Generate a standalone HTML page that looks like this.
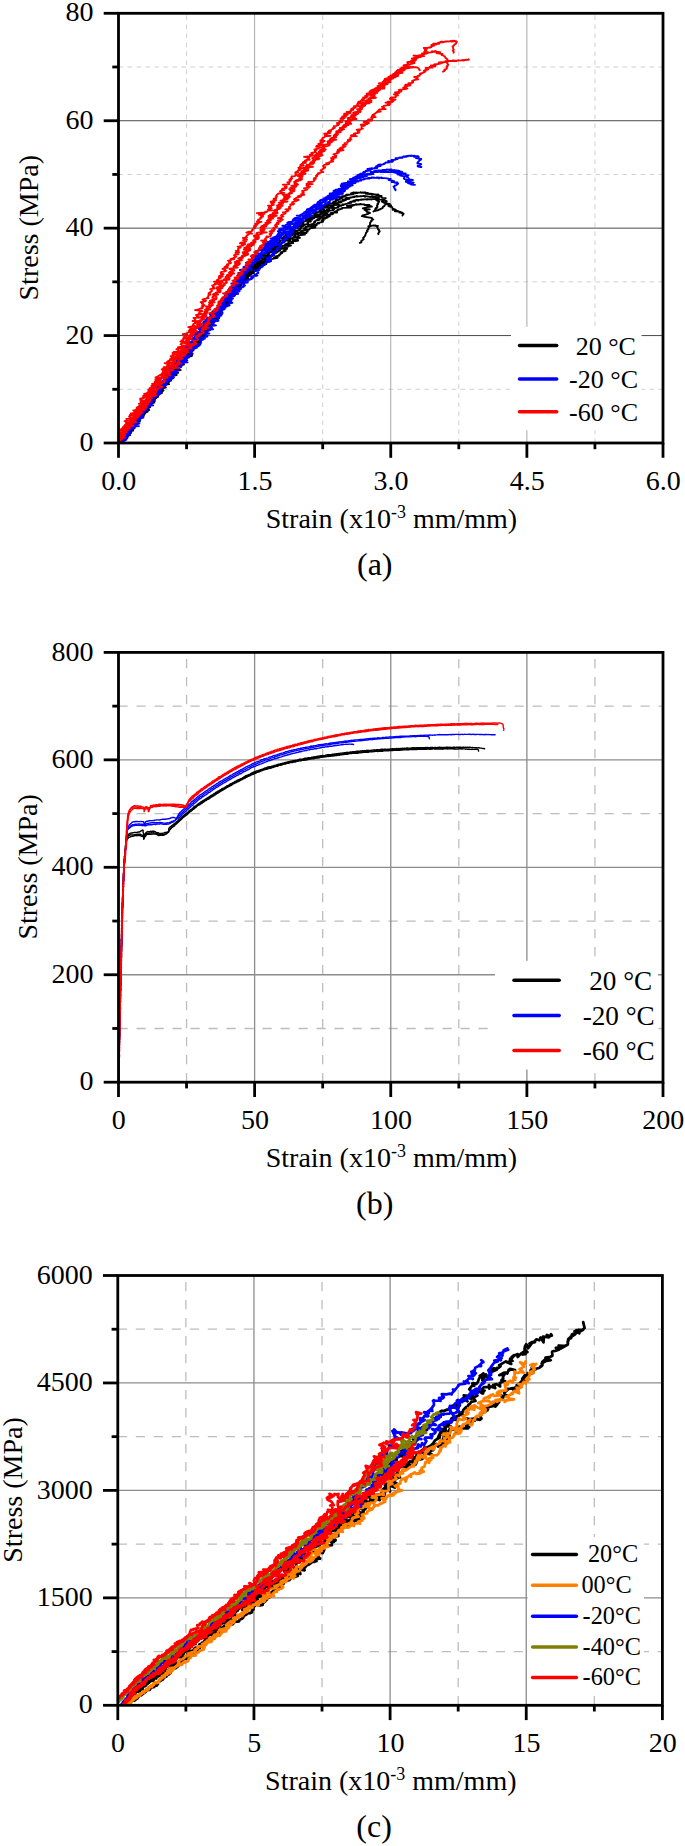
<!DOCTYPE html>
<html lang="en"><head><meta charset="utf-8"><title>Stress-strain curves</title>
<style>html,body{margin:0;padding:0;background:#fff}svg{display:block}</style></head>
<body>
<svg width="685" height="1846" viewBox="0 0 685 1846" font-family='"Liberation Serif", serif' fill="#000">
<rect width="685" height="1846" fill="#fff"/>
<g id="chart-a">
<g class="grid"><line x1="186.56" y1="443" x2="186.56" y2="13.3" stroke="#d0d0d0" stroke-width="1.0" stroke-dasharray="4.6 4.4"/><line x1="322.69" y1="443" x2="322.69" y2="13.3" stroke="#d0d0d0" stroke-width="1.0" stroke-dasharray="4.6 4.4"/><line x1="458.81" y1="443" x2="458.81" y2="13.3" stroke="#d0d0d0" stroke-width="1.0" stroke-dasharray="4.6 4.4"/><line x1="594.94" y1="443" x2="594.94" y2="13.3" stroke="#d0d0d0" stroke-width="1.0" stroke-dasharray="4.6 4.4"/><line x1="118.5" y1="389.29" x2="663" y2="389.29" stroke="#d0d0d0" stroke-width="1.0" stroke-dasharray="4.6 4.4"/><line x1="118.5" y1="281.86" x2="663" y2="281.86" stroke="#d0d0d0" stroke-width="1.0" stroke-dasharray="4.6 4.4"/><line x1="118.5" y1="174.44" x2="663" y2="174.44" stroke="#d0d0d0" stroke-width="1.0" stroke-dasharray="4.6 4.4"/><line x1="118.5" y1="67.01" x2="663" y2="67.01" stroke="#d0d0d0" stroke-width="1.0" stroke-dasharray="4.6 4.4"/><line x1="254.62" y1="443" x2="254.62" y2="13.3" stroke="#a8a8a8" stroke-width="1.0"/><line x1="390.75" y1="443" x2="390.75" y2="13.3" stroke="#a8a8a8" stroke-width="1.0"/><line x1="526.88" y1="443" x2="526.88" y2="13.3" stroke="#a8a8a8" stroke-width="1.0"/><line x1="118.5" y1="335.57" x2="663" y2="335.57" stroke="#4a4a4a" stroke-width="1.0"/><line x1="118.5" y1="228.15" x2="663" y2="228.15" stroke="#4a4a4a" stroke-width="1.0"/><line x1="118.5" y1="120.73" x2="663" y2="120.73" stroke="#4a4a4a" stroke-width="1.0"/></g>
<clipPath id="clip1"><rect x="118.5" y="11.3" width="544.5" height="431.7"/></clipPath>
<g class="curves" clip-path="url(#clip1)"><path d="M118.7 442.9L119.7 443.0L120.0 441.6L122.1 441.4L121.7 440.5L122.8 440.0L124.3 439.9L124.8 438.9L124.6 438.7L123.5 437.9L123.4 437.5L123.8 436.5L124.9 436.0L125.8 436.0L124.8 435.2L124.9 434.4L127.6 433.9L124.6 432.9L127.7 432.8L129.1 432.0L127.3 431.5L127.5 431.4L128.4 430.5L131.1 429.9L130.3 429.3L127.9 429.0L130.7 428.4L133.4 427.6L133.7 426.9L133.6 426.6L132.6 426.1L130.5 425.1L134.1 425.2L134.0 424.2L134.8 423.8L137.6 423.1L135.8 422.6L136.4 422.3L137.3 421.6L136.4 420.7L136.1 420.5L136.4 420.0L139.3 419.3L139.3 419.0L138.1 418.0L141.1 417.8L140.0 417.1L138.0 416.5L141.5 416.2L140.7 415.5L139.2 414.7L142.6 414.3L141.7 413.5L142.0 413.2L144.0 412.8L140.0 412.2L141.8 411.3L143.6 410.8L145.1 410.4L144.1 409.8L144.0 409.0L144.3 408.6L146.2 408.1L147.9 407.8L144.9 407.0L144.3 406.3L147.6 405.6L147.9 405.0L147.4 404.8L150.3 404.1L151.0 403.4L149.2 403.1L150.0 402.5L151.9 401.8L150.7 401.4L149.6 400.6L152.1 400.3L151.2 399.6L153.6 398.9L152.7 398.4L153.6 397.7L155.2 397.5L154.5 396.7L154.1 396.0L154.0 395.8L158.7 395.2L158.2 394.5L154.4 394.0L155.6 393.3L158.6 392.7L157.1 392.4L158.5 391.5L160.2 390.8L159.5 390.3L159.5 390.1L159.4 389.2L160.4 388.8L161.6 388.1L164.2 387.5L163.5 387.1L161.9 386.6L164.1 386.4L163.3 385.4L161.1 384.9L163.7 384.7L165.9 384.0L163.8 383.3L166.7 382.8L165.1 382.1L166.0 381.7L164.5 381.0L170.2 380.2L168.0 380.1L169.3 379.3L167.4 378.8L166.2 378.0L170.9 377.3L168.2 376.7L172.4 375.8L169.9 376.0L173.2 375.0L169.8 374.6L168.6 374.2L173.0 373.3L172.2 372.9L172.7 372.5L174.8 371.9L172.1 371.5L171.9 370.3L172.5 370.3L172.1 369.8L172.3 368.8L173.5 368.7L174.5 367.9L175.7 367.3L174.9 366.9L177.0 366.0L178.8 365.9L177.7 365.0L179.1 364.7L177.4 364.0L179.7 363.5L180.4 362.7L179.0 362.3L178.0 361.5L180.5 361.0L181.2 360.3L183.9 360.0L181.4 359.3L185.0 359.4L179.0 358.2L182.7 357.4L182.9 357.4L183.4 356.6L183.6 356.2L184.8 355.5L187.9 354.8L185.4 354.3L188.0 353.6L186.3 353.5L187.1 352.8L183.6 351.9L187.9 351.7L189.1 351.1L186.8 350.1L188.0 349.7L188.0 349.3L193.2 348.8L188.7 348.5L189.5 347.6L186.8 347.2L189.0 346.3L192.2 345.8L190.3 345.3L188.3 344.7L192.6 344.2L193.7 343.6L194.3 342.7L194.9 342.6L193.8 341.7L199.6 341.5L194.7 340.9L196.7 340.3L194.4 339.5L195.8 339.1L194.8 338.6L198.0 337.8L197.4 337.1L196.9 337.1L195.7 336.2L200.2 335.6L201.0 334.9L201.5 334.3L200.4 333.5L202.1 333.2L202.9 332.6L202.6 332.1L204.5 332.1L202.4 331.1L203.4 330.5L201.1 330.0L207.2 329.3L203.2 329.1L205.3 328.6L206.2 327.6L204.4 327.4L206.0 326.8L207.6 326.6L206.8 325.7L206.9 324.7L207.3 324.3L207.1 324.0L208.3 323.4L209.6 322.9L210.2 322.1L211.6 321.6L210.4 321.3L209.9 320.5L212.5 319.9L212.1 319.8L213.6 318.7L212.7 318.2L213.7 317.4L213.9 317.1L214.8 316.1L212.5 316.2L214.3 314.9L215.2 315.0L218.1 314.1L215.7 313.7L216.9 313.4L216.3 312.5L213.8 312.1L219.4 311.3L218.9 310.8L220.3 310.5L216.6 309.6L219.6 309.3L219.8 308.6L217.5 308.0L221.1 307.7L219.9 306.7L222.0 306.4L219.0 305.5L220.7 305.2L221.4 304.4L220.5 304.1L223.4 303.7L225.8 303.2L224.1 302.5L225.6 301.9L227.3 301.2L226.3 300.7L225.3 300.0L223.2 300.0L227.3 299.0L226.6 298.4L226.8 297.9L229.1 297.2L229.3 297.1L226.3 296.1L229.6 295.5L229.1 295.4L231.4 294.8L230.5 294.1L232.4 293.3L230.3 293.1L231.1 292.3L231.3 291.8L232.3 291.4L232.7 290.7L235.4 290.0L232.3 289.1L234.5 289.2L232.9 288.0L232.9 287.7L234.7 287.1L233.7 286.6L236.8 286.1L235.7 285.7L236.5 285.0L238.5 284.0L240.7 283.9L237.8 283.2L236.0 282.8L238.9 282.0L239.9 281.7L242.2 281.1L240.8 280.8L239.9 280.2L243.2 279.7L243.9 278.7L242.3 278.7L243.5 277.8L244.0 277.4L248.0 276.9L243.4 276.4L244.1 275.6L245.1 274.8L246.8 274.7L245.6 274.3L247.4 273.7L248.4 273.1L250.6 272.7L247.6 272.0L247.8 271.2L248.3 270.9L246.3 270.0L247.8 269.7L250.4 269.1L250.8 268.8L255.2 268.0L253.5 267.5L253.2 266.9L254.8 266.6L251.9 265.6L252.5 265.0L252.7 265.3L254.1 264.7L258.2 264.0L254.9 263.5L254.8 262.8L256.3 262.1L258.1 262.0L258.0 261.2L259.1 261.1L256.4 260.5L257.4 259.7L258.9 259.5L259.9 258.7L262.5 258.4L258.8 258.2L262.4 257.4L261.5 257.0L263.4 256.5L261.9 256.1L261.2 255.9L265.8 255.3L264.9 254.9L261.9 254.0L266.6 253.8L264.5 253.2L266.4 252.9L267.1 252.3L265.5 252.2L270.0 252.1L267.9 251.1L271.9 250.5L270.6 250.3L271.2 249.4L271.3 249.2L274.6 249.0L270.3 248.3L271.3 247.9L272.0 247.7L275.4 247.0L275.8 246.6L274.8 245.9L275.6 246.0L273.1 245.1L278.6 244.8L276.4 244.3L277.5 243.8L277.4 243.1L279.4 242.8L278.6 242.4L279.6 242.2L280.1 241.6L279.7 241.0L280.1 240.7L282.2 240.2L282.8 239.7L283.9 239.3L285.5 239.1L281.8 238.4L281.4 237.7L284.2 237.4L287.4 237.0L285.8 236.4L283.6 236.1L289.5 235.9L288.3 234.9L285.7 234.6L287.3 234.2L289.3 234.0L288.8 233.1L290.1 233.2L291.6 232.8L291.4 232.3L294.1 231.7L292.1 231.0L295.4 230.7L292.6 230.2L292.2 229.9L291.3 229.7L293.8 229.2L295.9 228.4L297.8 228.4L291.4 228.0L297.3 227.1L296.4 226.7L299.6 226.3L298.2 226.1L300.1 225.4L303.0 225.4L300.9 224.7L301.0 224.4L303.4 223.7L302.8 223.3L302.6 223.1L300.9 223.0L303.5 222.3L301.9 222.0L305.5 221.2L306.6 220.8L306.4 220.5L309.8 220.2L305.6 219.6L308.6 219.0L308.6 218.5L307.2 218.4L310.4 217.9L311.5 218.0L312.6 217.0L311.1 216.5L312.9 216.4L311.4 215.8L315.4 215.5L316.5 215.2L314.5 214.4L315.1 214.1L313.7 213.7L316.0 213.3L315.9 212.9L317.4 212.5L315.4 212.4L321.0 211.7L319.1 211.2L321.1 210.9L320.7 210.4L320.1 210.2L324.2 209.7L323.5 209.2L319.9 208.9L322.8 208.7L323.1 208.4L322.8 207.8L328.1 207.7L323.3 207.2L328.2 206.4L323.6 206.2L329.2 205.3L326.7 205.3L324.6 205.1L329.2 204.6L330.1 204.4L328.5 204.0L332.3 203.8L328.5 203.3L333.6 203.1L333.3 202.7L335.9 202.4L333.0 202.1L335.7 201.5L333.9 201.6L336.8 200.9L336.5 200.7L338.0 200.2L335.3 199.9L338.7 199.4L339.2 199.2L341.6 198.7L339.3 198.4L340.2 198.6L342.1 198.0L342.5 197.6L338.3 197.1L342.5 196.9L344.9 196.6L343.6 196.5L341.9 196.1L344.9 195.9L346.1 195.9L345.3 195.5L347.6 195.4L346.4 194.6L348.5 194.7L349.6 194.7L353.0 194.3L351.4 194.3L353.5 193.8L352.6 193.9L351.1 193.1L351.7 193.2L355.5 193.2L352.4 192.8L353.1 192.5L357.8 193.0L355.8 193.1L355.9 192.7L361.1 192.4L357.7 192.6L360.8 192.3L360.5 192.2L361.4 192.8L362.0 192.8L364.2 192.8L365.7 192.5L362.5 192.4L367.2 193.0L365.1 193.0L365.9 193.3L367.9 192.8L366.7 192.8L366.7 193.5L371.3 193.7L368.7 193.7L366.9 193.7L365.8 193.8L372.2 194.0L372.2 193.9L375.9 194.6L372.0 194.7L372.6 194.2L375.3 194.9L378.1 194.4L378.9 195.2L377.3 195.2L376.9 195.8L378.8 195.8L381.6 196.0L379.6 196.5L379.6 196.4L381.6 196.7L381.8 197.5L382.2 197.8L385.8 198.1L384.1 198.5L383.8 199.1L383.5 199.5L384.2 200.2L385.9 200.7L386.8 201.2L385.1 201.7L385.8 202.6L386.7 203.0L386.1 203.4L389.8 203.8L387.2 204.4L389.3 204.9L391.1 205.4L388.5 206.0L389.2 206.3L390.8 206.9L392.3 207.1L392.3 207.8L392.5 208.6L395.0 209.4L392.6 209.9L393.0 209.8L395.7 209.6L395.5 210.5L397.5 210.8L398.4 211.3L395.7 211.0L394.9 211.4L399.8 211.6L399.6 211.9L400.7 211.9L399.4 212.5L402.6 212.6L401.3 213.2L402.8 213.7L403.7 213.9L402.6 215.2L402.5 215.6" fill="none" stroke="#000" stroke-width="1.85" stroke-linejoin="round" stroke-linecap="round" /><path d="M120.5 443.1L123.1 442.5L123.3 441.9L120.9 441.4L121.7 440.5L121.8 440.0L123.9 439.7L123.4 438.9L125.1 438.3L121.3 437.7L127.2 437.2L125.0 436.8L126.7 436.1L125.8 435.8L125.8 435.5L127.6 434.6L128.6 434.3L127.4 433.5L127.9 432.7L129.6 432.3L127.6 431.6L126.9 431.4L130.4 430.5L129.1 430.4L127.6 429.7L129.8 428.6L130.7 428.6L130.0 428.2L129.9 427.2L132.8 426.9L134.6 425.8L133.2 425.7L132.8 424.8L135.0 424.6L136.0 423.6L134.8 422.9L136.6 422.9L137.8 422.7L136.2 421.6L135.7 421.3L137.9 420.6L138.2 420.0L140.0 419.6L136.6 419.2L138.0 418.1L138.2 417.9L137.1 417.3L140.5 416.4L141.6 416.4L140.0 415.9L143.8 414.8L143.3 414.7L143.5 413.9L143.5 413.3L144.8 413.0L141.6 412.2L145.1 411.7L145.5 411.3L142.1 410.7L146.0 410.1L145.4 409.1L147.5 408.5L146.0 408.5L147.1 407.5L148.1 407.1L146.5 406.4L149.3 406.0L148.6 405.2L150.0 405.2L148.8 404.1L151.8 403.7L151.4 403.2L150.6 402.9L152.3 401.8L153.7 401.5L155.0 400.9L150.0 400.5L154.4 399.9L154.1 399.2L153.7 398.7L152.6 398.1L156.7 397.7L153.1 397.0L156.4 396.3L158.0 395.9L153.8 395.4L156.3 395.2L155.1 394.1L158.0 393.7L160.5 393.4L161.7 392.1L156.0 391.6L158.4 391.2L160.8 390.8L162.7 390.7L161.2 389.8L159.8 389.4L161.9 388.5L161.8 387.6L161.9 387.0L161.5 387.1L163.7 386.4L164.0 385.5L163.8 385.4L164.0 384.4L162.7 384.3L164.4 383.8L167.5 382.8L165.7 382.2L164.1 382.0L169.0 381.1L168.1 380.9L171.1 379.9L168.2 379.7L167.8 379.0L166.6 378.4L171.5 377.7L173.9 377.4L168.9 376.4L169.6 376.2L172.0 375.6L170.1 375.2L171.5 374.3L171.8 374.3L173.0 373.3L174.9 372.6L173.6 372.5L175.5 372.0L173.7 371.1L175.4 370.4L171.8 370.0L173.4 369.3L177.4 368.8L175.6 368.6L177.9 367.9L178.2 367.2L179.9 366.7L179.5 366.1L180.2 365.7L178.8 365.1L178.3 364.3L178.7 363.9L179.5 363.7L178.9 362.8L180.2 362.1L181.4 362.0L182.3 361.0L181.8 360.2L179.7 360.0L183.1 359.2L184.0 358.7L185.8 358.3L185.4 357.6L183.8 356.9L184.1 356.4L188.9 355.8L187.3 355.6L189.5 354.7L190.4 354.1L186.1 354.1L188.4 353.0L188.9 352.8L189.5 352.2L189.9 351.4L189.8 350.6L190.2 350.4L187.9 349.9L190.4 349.4L189.9 348.6L191.7 348.3L191.2 347.7L193.4 346.7L194.1 346.6L193.7 345.8L194.1 345.1L194.2 344.6L193.7 344.4L194.6 343.7L194.5 342.6L196.3 342.4L196.1 341.8L197.5 341.2L194.8 340.6L198.8 339.8L196.6 339.7L197.0 338.8L198.3 338.4L198.1 337.8L199.9 337.2L199.0 336.9L198.6 336.3L199.4 335.5L203.2 334.9L201.6 334.4L200.1 334.1L202.4 333.4L200.3 332.8L206.1 332.2L201.2 331.6L204.8 331.1L205.3 330.2L202.6 330.3L205.8 329.3L207.3 328.7L206.9 328.5L207.0 327.8L208.5 327.2L207.6 326.5L208.3 325.7L208.0 325.5L209.7 325.1L207.6 324.2L210.7 324.0L209.1 323.0L208.6 322.5L211.3 322.2L213.9 321.5L213.1 321.1L211.2 320.2L213.5 319.6L212.1 318.9L213.0 318.5L213.8 317.9L210.4 317.3L214.8 317.1L213.3 316.3L214.2 315.5L213.4 315.8L213.8 314.6L215.1 314.0L218.3 313.9L220.1 313.3L217.8 312.3L220.0 311.7L218.3 311.2L216.1 311.0L219.8 310.2L220.7 309.6L219.7 309.1L221.3 308.8L222.2 307.8L220.3 307.4L219.7 306.6L222.1 306.8L222.6 306.1L222.8 305.4L225.3 304.6L226.9 304.2L223.9 303.1L226.1 303.0L226.9 302.1L227.0 301.6L227.9 301.1L226.1 300.6L228.3 300.2L230.8 299.7L229.2 299.1L227.4 298.3L229.7 298.0L231.2 297.3L230.2 297.0L229.1 296.0L232.9 295.1L228.9 295.0L232.1 294.9L231.7 294.0L230.2 293.3L234.5 293.0L233.5 292.4L231.5 291.8L234.8 291.0L233.6 290.6L231.6 290.1L234.0 289.3L236.0 288.7L237.0 288.4L236.7 288.0L236.9 287.4L238.0 286.8L237.4 286.2L240.0 286.1L238.8 285.1L239.5 284.7L240.3 284.3L238.2 283.4L239.2 282.9L243.2 282.5L241.7 282.1L241.2 281.3L242.6 280.7L241.7 280.1L243.4 279.3L242.3 279.2L244.3 278.4L241.8 277.6L246.9 277.4L244.4 276.5L243.1 276.1L245.7 275.8L245.9 275.0L247.2 274.9L245.6 273.8L248.5 273.6L254.1 273.2L246.7 272.8L249.8 272.2L249.2 271.5L250.5 270.9L247.7 270.4L249.3 270.1L252.3 269.2L252.0 268.9L255.1 268.3L251.9 267.9L253.8 267.3L258.6 267.2L253.2 266.2L253.5 265.9L255.4 265.4L255.9 265.0L257.8 264.5L257.2 264.0L256.3 263.6L258.4 262.7L262.8 262.5L261.1 261.8L255.1 261.6L259.9 260.9L259.3 260.5L262.2 260.2L261.5 260.1L265.4 259.5L264.3 259.0L264.8 258.7L264.2 257.8L264.4 257.2L265.6 257.1L267.6 256.7L267.0 256.5L266.1 256.2L269.3 255.1L268.1 255.4L268.2 254.8L267.6 254.3L268.5 253.7L269.0 253.7L266.1 252.8L272.7 252.3L272.6 251.9L271.9 251.2L274.4 251.1L274.0 250.6L274.5 250.2L270.5 249.8L274.6 249.1L276.4 249.1L278.6 248.2L279.5 248.1L279.4 247.2L275.8 247.1L274.7 246.4L279.6 246.1L279.3 245.5L281.3 244.8L280.1 244.5L281.2 244.3L279.0 244.0L282.6 243.1L281.7 242.5L283.5 242.3L284.3 241.9L283.9 241.4L285.1 240.9L285.1 240.8L286.9 240.3L287.0 239.8L285.8 239.0L286.3 238.8L290.5 238.3L288.1 237.6L290.4 237.6L290.0 236.9L289.0 236.4L289.2 236.3L291.2 235.7L291.9 235.3L293.0 234.9L290.5 234.3L292.2 233.5L293.5 233.2L296.7 233.1L291.0 232.3L296.0 232.0L295.0 231.6L297.1 231.4L296.1 230.9L298.0 230.4L300.5 229.8L299.1 229.5L299.8 229.0L300.3 228.5L299.0 228.4L301.7 227.8L301.0 227.1L300.6 227.1L302.4 226.4L302.7 226.1L304.8 225.3L304.1 225.2L303.9 224.6L307.7 224.2L307.5 223.6L308.5 223.9L308.0 223.1L307.4 222.8L307.5 222.5L308.3 221.9L310.9 221.6L310.1 220.9L308.1 220.8L311.0 220.2L309.4 220.0L312.5 219.6L310.9 218.9L311.4 218.4L314.2 218.1L314.4 218.1L312.5 217.6L316.9 217.2L319.8 216.4L314.5 215.9L320.4 215.9L317.0 215.5L317.9 215.1L318.9 214.9L317.5 214.4L322.5 213.8L321.8 213.5L320.4 213.3L321.7 212.9L320.3 212.5L322.8 212.6L325.5 211.7L321.8 211.4L324.4 210.9L326.0 210.6L328.0 210.4L329.1 210.0L326.8 209.5L326.9 209.3L329.4 208.8L328.7 208.1L329.4 207.4L332.2 208.1L333.8 207.4L332.1 206.9L332.0 206.2L333.8 205.9L330.4 206.0L334.0 204.9L333.0 205.0L339.1 204.8L337.0 204.3L336.7 204.1L336.7 203.6L333.6 203.7L339.4 202.7L341.5 202.3L338.3 202.3L341.2 202.2L341.9 201.6L338.9 201.5L343.5 200.9L344.8 200.5L343.7 200.7L343.9 200.4L345.9 200.2L342.8 199.6L346.1 199.2L348.3 199.0L345.3 198.9L349.5 198.8L347.9 198.6L345.9 198.0L349.8 198.1L349.1 197.8L351.8 197.6L350.1 197.4L354.4 197.2L352.2 197.1L354.6 196.9L353.8 196.7L354.9 196.4L358.0 196.5L357.2 196.3L356.9 195.9L356.2 196.3L360.7 196.2L360.7 196.4L359.8 196.2L361.4 196.2L360.0 196.3L360.8 196.2L361.8 196.2L364.4 195.9L365.0 196.7L364.0 196.0L367.1 196.3L367.9 196.5L367.6 196.5L369.7 196.6L368.3 196.7L369.3 196.8L370.9 196.7L370.8 197.2L372.8 196.5L370.2 196.8L375.2 196.8L372.4 196.8L374.0 197.0L372.8 197.4L376.6 197.1L378.4 197.4L378.7 197.9L379.0 198.1L375.8 198.7L377.7 198.9L378.9 199.1L378.7 199.3L382.6 199.8L381.7 200.0L382.0 200.2L383.5 200.9L381.8 201.4L382.5 201.9L383.1 202.4L385.8 203.3L385.5 203.6L385.8 204.1L386.0 204.5L384.6 205.0L384.6 205.6L384.4 206.2L383.1 206.7L382.9 207.2L382.9 207.8L382.3 208.2L381.7 208.5L380.6 208.8L379.9 209.2L379.9 209.5L378.6 209.7L378.3 210.0L378.1 210.3L376.6 210.5L375.7 210.6L375.3 210.8" fill="none" stroke="#000" stroke-width="1.85" stroke-linejoin="round" stroke-linecap="round" /><path d="M120.5 442.7L122.6 442.8L122.6 441.7L123.0 441.2L124.8 440.3L120.7 440.2L122.1 439.9L121.4 439.4L123.8 439.1L126.0 438.3L124.7 437.5L126.0 436.9L122.6 436.6L126.3 435.8L125.0 435.3L129.8 434.5L128.8 434.1L129.3 433.9L128.1 433.0L129.6 432.5L130.1 431.4L128.9 431.6L129.1 430.8L130.1 430.5L129.8 429.7L130.2 428.9L131.2 428.3L130.9 428.1L133.7 427.4L130.3 426.7L134.6 426.3L132.7 425.6L133.3 425.3L132.4 424.5L134.8 423.8L135.1 423.5L136.2 422.8L135.4 422.6L136.9 421.7L140.1 421.0L138.2 420.7L137.1 420.1L140.0 419.6L138.6 419.0L140.2 418.3L140.7 417.9L139.5 417.3L137.5 416.5L140.4 416.1L142.3 415.7L141.2 414.8L143.0 414.3L144.3 413.9L142.2 413.4L145.5 412.9L146.6 412.0L146.1 411.8L146.7 411.3L147.0 410.9L149.3 410.0L146.4 409.3L146.5 408.6L147.9 408.5L145.9 408.1L145.3 407.1L146.8 406.8L149.2 406.3L149.8 405.8L147.0 404.9L146.9 404.6L149.8 403.9L150.5 403.2L151.1 402.8L152.7 402.3L154.0 401.5L152.8 401.2L153.9 400.9L151.6 399.7L151.8 399.6L154.5 399.1L155.6 398.3L156.2 397.8L156.4 397.2L157.1 396.9L157.6 395.9L153.9 395.5L155.9 394.6L158.3 394.5L158.9 393.9L156.0 393.0L160.7 392.6L158.5 392.3L159.3 391.5L160.5 390.8L161.7 390.0L158.6 390.0L162.9 389.7L161.9 388.7L161.0 388.3L162.2 387.8L159.6 387.1L162.4 386.6L164.2 386.0L163.2 385.3L164.2 385.4L164.9 384.8L165.7 383.8L167.7 383.5L166.4 382.5L166.4 382.0L168.2 381.7L171.0 380.7L167.6 380.1L169.4 379.9L166.5 378.9L171.6 379.0L170.9 378.3L172.4 377.6L170.6 377.2L169.4 376.3L172.9 375.7L173.1 375.5L171.0 375.0L170.4 374.3L173.9 373.7L173.4 373.0L178.2 372.8L173.5 371.7L174.1 371.3L175.1 370.8L173.1 370.0L174.7 369.5L179.2 369.0L176.8 368.8L176.5 368.4L175.8 367.6L179.2 366.6L179.7 366.3L179.5 365.8L178.9 365.2L180.4 364.6L181.0 364.2L179.7 363.2L182.2 362.9L178.3 362.5L180.0 362.0L182.0 361.4L182.7 360.8L181.5 360.2L184.3 359.5L185.9 359.1L185.3 358.5L185.4 357.8L186.7 357.6L186.5 357.0L184.4 356.2L186.4 355.8L189.2 355.4L185.7 354.6L188.0 354.0L187.7 353.5L187.3 352.6L187.6 352.0L189.8 351.9L190.5 351.2L191.0 350.9L188.6 350.0L190.8 349.7L192.3 349.1L193.7 348.8L193.6 347.7L194.3 347.2L195.1 346.7L195.1 346.2L192.9 345.4L194.7 344.9L193.9 344.2L191.7 344.3L193.2 343.3L199.7 342.7L195.0 342.1L193.6 341.6L196.6 341.2L200.4 340.4L198.3 339.9L199.5 339.8L198.8 339.0L199.5 338.3L202.1 337.6L201.8 337.1L200.8 336.4L202.8 336.0L203.5 335.3L201.8 334.7L203.0 334.2L203.4 333.5L202.4 333.2L205.7 333.1L204.0 331.9L203.7 331.1L202.4 331.1L203.5 330.3L208.4 330.1L204.6 329.3L207.5 328.8L206.6 327.9L208.5 327.2L209.0 326.9L207.2 326.5L208.4 325.7L209.5 324.9L209.9 324.6L210.1 324.0L210.1 323.5L212.0 323.0L213.5 322.9L212.7 321.9L211.1 321.2L213.3 320.5L213.2 320.3L214.3 319.3L216.9 319.3L214.0 318.5L214.8 317.6L213.8 317.4L215.2 316.8L215.1 316.5L219.0 315.4L217.4 315.2L216.4 314.6L220.8 314.2L216.0 313.2L220.0 312.7L220.6 312.7L220.3 311.9L219.4 310.9L220.1 310.7L220.1 309.9L222.4 309.4L217.8 308.7L221.1 308.6L222.6 307.7L221.9 307.3L220.3 306.7L223.2 305.8L222.8 305.4L225.7 305.1L227.1 304.1L225.4 303.9L222.6 303.3L225.8 302.9L225.1 302.3L228.0 301.7L230.1 301.0L228.3 300.5L231.5 299.8L231.0 299.2L230.1 298.9L228.1 298.1L230.2 297.8L228.1 297.2L232.5 296.3L231.5 296.0L233.9 295.2L232.6 294.8L229.5 294.1L234.0 293.7L234.9 293.1L236.5 292.3L232.7 292.4L233.2 291.6L235.2 290.5L233.9 290.4L233.8 289.6L234.7 289.6L241.0 288.6L236.2 288.1L236.0 287.5L237.4 287.1L238.5 286.3L241.0 285.7L240.9 285.2L241.1 284.7L240.3 284.4L241.0 283.7L240.1 283.1L239.2 282.6L245.3 281.9L241.8 281.6L244.6 280.6L242.9 280.5L243.8 280.2L244.1 279.4L242.6 278.8L245.2 278.4L246.4 277.7L247.6 277.2L247.5 276.9L248.8 276.2L248.1 276.2L248.1 275.4L245.5 274.7L248.2 274.1L252.1 273.7L250.3 272.8L251.8 272.8L250.7 272.4L250.5 271.8L255.3 271.1L253.1 270.9L255.4 270.4L254.4 269.7L253.6 269.4L251.0 269.0L255.2 268.4L253.1 267.8L252.6 267.4L258.6 267.0L258.4 266.2L258.8 266.1L258.4 265.6L258.8 264.8L260.0 264.4L260.2 264.7L260.6 263.9L262.2 263.7L257.7 263.0L263.6 262.9L261.7 262.3L264.6 261.7L265.7 261.4L263.1 261.3L266.2 261.0L266.8 260.3L265.0 259.7L265.8 259.2L267.4 259.1L264.2 258.7L267.6 258.1L269.2 257.7L268.8 257.4L267.5 257.0L270.0 256.5L273.6 255.7L273.9 255.6L272.1 255.6L271.6 254.8L273.4 254.8L274.0 254.0L273.5 253.5L274.6 253.1L276.7 252.8L277.7 252.1L272.9 251.8L278.9 251.3L278.1 251.2L280.2 250.4L278.9 250.0L280.2 249.3L282.6 248.8L275.8 248.6L283.6 248.0L281.9 247.7L279.2 247.3L278.4 246.9L283.7 246.1L282.1 245.8L285.9 245.5L285.1 244.8L285.1 244.2L287.4 243.9L286.7 243.9L288.1 243.1L288.8 242.9L288.5 242.1L289.8 241.9L290.3 241.0L287.4 240.7L289.6 240.3L290.4 240.2L290.5 239.5L289.1 239.1L291.3 238.4L293.3 237.9L293.6 237.8L296.3 237.4L293.4 236.9L294.2 236.5L294.5 235.7L295.5 235.8L295.6 235.0L294.1 234.7L298.2 234.2L299.8 233.3L300.6 232.8L297.6 232.5L299.6 232.4L303.4 232.2L300.9 231.5L302.2 231.3L302.0 230.5L304.4 230.3L304.9 229.8L307.7 229.6L305.3 229.0L305.8 228.8L303.7 228.5L305.6 227.9L305.7 227.5L306.9 227.2L305.9 226.6L310.6 226.3L307.5 226.2L310.2 225.8L308.4 225.0L311.5 224.9L314.2 224.6L310.8 224.3L313.3 223.8L313.2 223.5L314.3 222.9L315.1 222.5L314.0 222.0L315.3 221.9L315.2 221.4L315.4 221.2L315.3 220.6L319.4 219.8L317.2 219.3L320.0 218.9L320.4 218.5L318.5 218.4L322.3 217.6L319.8 217.1L322.8 217.0L324.7 216.8L321.7 216.4L322.0 216.1L322.5 215.4L328.3 214.9L324.6 214.5L323.7 213.9L327.6 213.7L326.6 213.7L327.5 213.5L326.5 212.9L325.1 212.4L328.1 211.9L328.2 211.6L327.9 210.8L329.3 210.9L330.2 210.6L333.6 210.1L334.0 209.7L334.3 209.0L333.3 209.2L332.7 208.8L335.8 207.8L336.7 207.9L338.2 207.7L337.2 207.7L337.6 206.9L338.9 206.7L337.6 206.7L338.4 206.2L341.4 205.8L339.0 205.5L341.5 205.3L343.6 204.9L343.3 205.0L344.3 204.4L342.5 204.4L344.8 204.3L345.2 204.1L347.3 203.6L347.6 203.4L347.7 203.2L351.3 202.9L349.8 202.8L349.2 202.4L349.3 202.5L350.9 202.5L350.7 201.6L355.0 201.5L353.9 201.0L353.2 201.2L353.3 200.9L353.3 200.6L355.3 200.3L358.5 200.4L358.4 200.6L357.7 200.4L358.7 200.1L356.2 199.8L361.1 199.9L360.2 199.6L363.5 199.5L361.7 199.5L361.9 199.7L363.7 199.6L363.1 199.5L367.0 199.2L366.0 199.1L366.8 199.6L367.5 199.3L367.1 199.5L369.2 199.1L369.4 199.4L372.6 199.2L370.6 199.1L371.8 199.1L371.2 199.5L372.0 199.3L372.8 199.1L376.0 199.1L374.8 198.9L377.1 199.7L375.9 199.9L376.9 200.0L376.7 200.5L378.5 200.7L379.2 201.4L378.1 201.8L378.8 202.4L378.4 203.1L377.5 203.8L378.0 204.5L377.0 205.3L377.0 206.1L377.5 206.9L376.7 207.4L375.8 208.0L376.7 208.7L375.1 209.2L375.2 210.0L374.6 210.4L374.3 210.9L373.4 211.5" fill="none" stroke="#000" stroke-width="1.85" stroke-linejoin="round" stroke-linecap="round" /><path d="M123.5 443.2L116.0 442.4L122.9 441.7L121.9 441.3L124.4 440.7L123.3 440.4L126.0 439.7L123.6 439.0L123.2 438.7L125.3 438.6L125.5 437.3L124.7 437.1L125.3 436.5L127.3 435.8L127.7 435.1L126.2 434.7L126.8 434.2L125.0 433.7L131.0 433.2L128.4 432.6L131.3 431.8L130.3 431.4L133.1 430.7L132.9 430.1L131.4 429.9L133.7 429.0L130.2 428.4L134.2 428.1L130.2 427.1L133.6 426.9L135.2 426.5L134.2 425.8L133.7 425.3L133.5 425.1L134.6 424.4L137.3 423.8L137.5 423.2L136.0 422.4L134.9 421.9L138.4 421.3L135.4 420.9L137.3 420.3L137.4 419.6L140.2 419.5L139.8 418.4L140.6 418.1L140.8 417.7L139.7 417.0L142.0 416.3L143.9 415.9L142.0 415.7L143.5 414.9L142.7 414.1L145.0 413.7L144.8 413.0L145.6 412.2L145.2 412.0L147.7 411.6L144.9 411.1L145.4 410.3L145.4 409.5L147.7 409.4L146.2 408.6L146.6 408.2L149.2 407.7L150.3 407.0L149.8 406.4L145.0 405.7L148.2 405.2L148.5 404.8L148.7 404.1L150.4 403.7L154.4 402.7L151.4 402.3L151.1 402.0L153.9 401.3L153.3 400.7L153.8 400.1L152.9 399.9L154.4 399.5L155.6 398.4L152.2 398.3L153.1 397.2L157.9 397.0L157.9 396.0L156.2 395.9L155.8 395.3L157.6 394.8L156.4 394.4L158.2 393.7L161.8 393.1L159.8 392.3L161.9 392.0L160.1 391.3L161.4 390.8L163.5 390.6L159.6 389.9L161.6 389.2L162.3 388.7L163.4 387.8L165.9 387.5L164.9 386.6L161.9 386.2L164.2 385.9L163.7 385.3L164.1 384.8L169.2 384.2L164.7 383.6L167.2 383.0L166.1 382.7L169.0 382.2L168.6 381.1L168.7 380.8L168.8 380.5L171.2 379.6L168.3 379.2L169.0 378.5L168.8 377.8L173.2 377.5L171.0 376.8L170.2 376.3L171.7 375.5L176.8 375.0L173.0 374.6L175.0 374.0L174.8 373.6L174.4 372.8L173.8 372.6L174.8 372.0L175.2 371.3L172.6 370.9L180.7 370.2L178.5 369.6L177.6 369.1L177.5 368.3L177.0 367.9L180.2 367.5L178.8 366.5L180.3 366.4L177.7 365.6L181.0 365.1L184.0 364.6L180.8 364.1L182.9 363.7L182.1 362.9L184.3 362.7L184.6 361.8L183.5 361.3L182.9 360.8L184.7 360.0L184.7 359.3L184.1 359.0L186.2 358.6L186.6 358.0L184.9 357.3L186.5 357.1L191.8 356.2L188.9 355.5L188.1 355.3L192.4 354.8L188.1 353.8L185.3 353.6L186.6 352.6L187.7 352.3L190.9 352.2L192.5 351.4L187.9 350.8L193.6 350.2L190.2 349.3L193.0 349.0L193.8 348.5L194.2 347.6L193.9 347.3L194.6 346.8L192.9 346.2L195.6 345.7L197.1 345.0L197.5 344.2L200.6 343.9L198.6 343.0L198.4 342.6L200.3 342.4L198.5 342.0L196.4 341.2L195.3 340.1L201.4 340.2L200.7 339.5L201.5 338.8L200.1 338.4L201.6 337.8L204.5 336.9L202.4 336.4L200.5 336.2L202.0 335.0L205.4 335.0L201.8 334.4L199.8 334.0L200.7 333.6L202.7 332.9L206.5 332.4L205.8 331.7L204.9 331.1L204.4 330.6L206.7 329.9L207.1 329.1L206.9 328.7L207.8 327.9L207.4 327.5L211.9 327.5L205.7 326.6L210.1 325.9L208.7 325.3L211.8 324.5L210.7 324.2L212.1 323.5L212.8 323.1L212.7 322.6L214.4 322.0L211.0 321.1L215.2 321.2L213.7 320.4L215.1 319.8L217.4 319.1L217.1 318.7L218.9 318.3L212.6 317.6L215.1 316.7L218.6 316.2L215.6 315.4L217.6 315.3L221.0 314.9L220.1 314.4L217.6 313.6L220.3 313.2L221.0 312.3L220.5 312.0L220.7 311.3L221.5 310.7L219.3 309.9L222.3 309.9L221.0 308.7L223.6 308.7L224.0 307.8L222.3 307.5L225.2 306.8L225.2 306.4L225.0 305.7L226.6 305.0L225.4 304.5L225.8 303.7L226.8 303.5L227.0 303.1L229.3 302.4L224.1 301.8L227.8 301.4L225.5 300.4L228.3 300.1L229.9 299.5L229.9 298.8L231.9 298.4L231.3 297.5L226.8 297.2L229.8 296.7L234.5 295.8L234.9 295.4L232.9 295.0L230.7 294.5L237.1 293.6L230.7 293.4L234.9 292.6L234.8 292.1L235.7 291.4L233.8 291.1L235.5 290.3L238.2 289.9L236.2 289.4L235.2 288.9L237.8 288.0L238.4 287.8L238.5 287.1L237.8 286.8L240.4 285.9L239.8 285.4L238.5 284.9L241.2 284.3L241.3 283.8L242.0 283.1L239.5 282.4L241.5 282.0L243.9 281.7L245.1 281.3L244.7 280.7L244.9 280.0L246.2 279.7L247.1 279.2L248.9 279.2L247.3 278.4L246.1 277.7L248.3 276.8L244.9 276.6L248.6 276.1L248.3 275.7L249.5 275.5L250.9 274.6L250.7 273.8L248.8 273.7L251.1 272.9L250.9 272.9L252.6 272.5L253.8 271.9L252.2 271.1L255.4 270.9L256.9 270.7L254.9 269.9L257.1 269.5L254.1 269.3L256.2 268.9L259.1 268.4L255.3 268.1L257.9 267.7L257.9 267.1L261.8 266.8L262.3 266.5L260.1 265.9L261.9 265.8L258.1 265.4L264.3 265.1L264.1 264.7L266.2 264.1L260.9 263.7L265.9 263.6L265.4 263.2L262.4 262.9L266.1 262.4L267.7 261.9L269.7 261.8L269.3 261.4L268.8 261.2L270.9 260.9L270.6 260.5L270.4 260.1L270.4 259.4L272.8 258.8L273.4 258.7L276.7 258.2L273.6 257.8L277.5 257.8L276.1 256.9L277.9 257.0L275.2 256.6L275.8 256.5L277.2 255.8L279.7 255.5L279.1 254.6L280.5 254.1L280.4 254.0L282.1 253.1L281.3 253.1L280.6 252.4L282.8 251.6L282.6 251.8L285.8 250.8L283.3 251.0L284.2 249.8L284.1 249.4L286.9 249.1L287.0 248.6L287.1 247.8L284.6 247.6L284.7 247.2L288.1 246.7L289.3 245.8L291.0 245.5L286.3 245.1L289.4 244.8L287.5 244.2L289.1 243.6L290.8 243.1L293.3 243.0L291.4 242.1L291.6 241.9L292.8 240.9L295.8 241.2L298.2 240.5L292.4 239.6L294.9 239.6L295.2 239.3L298.3 238.7L297.7 238.1L300.0 237.8L296.5 237.1L298.6 236.8L298.5 236.3L298.0 236.0L300.1 235.4L299.0 235.4L304.9 234.7L302.7 234.2L301.0 233.9L302.2 233.6L306.5 233.2L303.6 233.0L306.0 232.3L306.4 231.9L307.8 231.7L307.7 231.5L306.9 230.7L306.9 230.2L305.6 230.0L309.0 229.7L309.8 229.1L309.6 228.9L310.6 228.4L309.4 228.3L315.4 227.5L311.7 227.2L311.4 226.9L312.7 226.7L314.0 226.3L316.0 225.6L311.5 225.3L316.8 225.0L315.5 224.7L316.8 223.9L319.3 223.4L319.4 223.3L317.7 222.7L319.2 222.6L322.9 221.9L322.6 221.6L322.4 220.9L321.6 220.7L323.7 220.5L323.3 219.8L322.4 219.2L322.2 219.2L325.3 218.6L325.6 218.2L327.5 217.7L325.4 217.6L329.0 216.9L326.7 216.6L329.9 216.3L329.4 215.9L328.2 215.1L328.2 215.3L330.1 214.6L330.5 214.5L333.0 214.0L331.0 213.7L330.3 213.2L333.3 212.7L337.0 212.6L337.1 212.3L334.1 212.1L335.3 211.7L336.9 211.1L335.9 211.1L337.2 211.0L337.8 210.4L337.2 210.0L338.5 209.5L339.4 209.5L341.2 208.9L339.6 209.1L342.3 208.6L341.2 208.4L342.2 208.3L342.3 207.8L351.2 207.5L347.5 207.5L348.3 207.6L348.1 207.0L347.1 207.1L348.3 206.4L349.3 206.5L350.2 206.4L351.1 206.4L353.3 205.5L346.8 205.6L351.3 205.2L354.0 205.3L353.0 204.9L354.0 204.9L357.3 204.5L355.9 204.4L359.2 204.5L356.9 204.6L358.1 204.3L356.7 204.2L355.9 204.1L359.1 204.5L360.7 203.9L360.9 203.9L360.2 204.2L364.3 204.5L364.3 204.7L365.1 204.8L364.6 205.0L369.2 205.0L369.5 205.0L368.1 205.1L367.7 205.6L368.4 205.5L370.6 206.1L371.9 206.7L366.9 207.0L365.6 207.7L362.8 208.4L369.8 209.3L364.5 209.8L365.5 210.2L365.7 210.7L366.8 211.2L366.6 211.6L367.1 212.0L368.7 212.3L369.4 212.6L370.0 213.0L368.4 213.3L368.6 213.6L368.0 214.0L366.6 214.1L366.3 214.4L365.8 214.7L364.4 215.0L362.9 215.1L363.0 215.4L362.7 215.7L362.4 215.8L362.6 216.1L361.7 216.2L363.2 216.4L364.0 216.6L364.3 216.8L365.4 216.8L366.1 217.0L368.0 217.3L368.3 217.4L368.9 217.5L370.4 217.7L371.1 217.9L372.0 218.2L371.7 218.4L372.0 218.6L372.5 219.1L373.3 219.5L372.2 220.0L371.1 220.7L371.6 221.3L370.9 221.9L370.0 222.7L370.2 223.6L369.9 224.2L370.1 225.0L370.2 225.8L369.8 226.4L369.4 227.1L368.5 227.7L368.4 228.2L368.0 228.9L368.4 229.5L367.1 230.2L366.8 230.8L367.5 231.4L366.7 232.1L366.0 232.7L366.0 233.4L365.7 233.9L365.4 234.6L365.4 235.3L364.9 235.9L364.4 236.7L363.9 237.3L363.0 237.9L363.3 238.5L363.7 239.2L362.9 239.8L362.1 240.3L361.9 240.9L361.1 241.2L361.2 241.8L361.4 242.3L360.7 242.5L359.8 242.9" fill="none" stroke="#000" stroke-width="1.85" stroke-linejoin="round" stroke-linecap="round" /><path d="M368.3 226.1L369.4 226.0L371.2 225.9L371.2 225.6L372.8 225.6L373.8 225.5L372.8 225.6L375.6 225.5L375.2 225.9L378.0 225.9L377.4 226.2L376.7 226.7L377.5 227.4L377.7 228.1L378.0 229.3L379.1 230.0L378.7 230.7L379.8 231.3L379.3 231.9L378.9 232.6L378.1 233.5L378.4 234.2" fill="none" stroke="#000" stroke-width="1.85" stroke-linejoin="round" stroke-linecap="round" /><path d="M118.9 442.9L121.9 442.4L122.7 442.2L121.2 441.4L121.8 440.6L120.7 440.2L120.3 439.9L120.8 438.9L121.0 438.5L124.7 437.7L123.4 437.2L124.1 436.9L123.2 435.9L122.9 435.6L123.1 435.0L124.1 434.3L126.9 433.7L126.4 433.3L126.0 432.5L126.7 431.9L125.1 431.8L130.0 430.9L126.3 430.1L128.8 429.7L132.8 429.1L125.2 428.6L127.6 428.0L129.1 427.6L131.0 427.0L128.3 426.7L131.2 425.3L131.9 425.1L132.7 424.6L128.7 423.5L134.3 423.3L136.3 423.2L134.7 422.2L133.2 421.8L133.8 421.2L130.7 420.2L136.4 419.8L138.6 419.6L137.5 419.1L131.8 418.6L136.5 417.6L137.5 417.2L137.2 416.4L140.2 415.9L135.9 415.0L138.0 414.9L140.7 414.6L141.8 413.8L140.8 413.2L142.7 412.7L142.2 412.1L139.9 411.1L144.3 411.0L141.6 410.2L140.1 410.1L144.1 409.3L146.8 408.6L145.7 408.0L146.2 406.9L145.3 406.8L141.1 406.3L146.9 405.7L146.4 405.0L142.1 404.7L145.8 404.0L145.9 403.3L149.6 402.8L148.4 401.9L149.1 401.9L149.4 401.0L147.1 400.1L146.5 400.0L150.3 399.4L150.1 399.1L151.0 398.2L151.1 397.4L151.0 396.8L153.2 396.8L153.0 395.9L152.0 395.2L150.2 394.9L149.4 394.6L151.8 393.8L154.4 393.1L156.6 392.7L154.8 391.8L157.0 391.2L158.3 390.8L160.7 390.0L157.6 390.1L160.0 389.3L158.3 388.1L156.2 387.8L154.9 387.1L159.6 386.9L161.0 386.1L164.1 385.8L159.2 385.3L161.6 384.4L161.0 383.9L157.5 383.6L162.6 382.9L161.8 382.5L160.6 381.8L166.1 380.9L162.6 380.8L164.8 379.7L164.0 379.2L163.6 378.4L164.9 378.0L167.0 377.8L164.9 377.0L163.6 376.6L169.9 375.6L168.0 375.4L166.0 375.0L167.9 374.4L165.8 373.6L168.8 373.2L170.8 372.9L166.4 371.8L171.6 371.5L171.9 370.8L170.5 370.2L171.5 369.5L171.2 369.0L171.4 368.5L169.4 368.1L175.7 367.3L172.2 366.8L174.0 366.2L173.8 365.7L175.3 364.6L175.9 364.3L173.6 363.8L176.4 363.3L175.7 362.9L175.1 362.3L179.2 361.7L179.4 361.1L176.3 360.3L177.7 359.6L176.9 359.1L177.1 359.0L177.7 358.1L180.8 357.5L177.8 357.3L178.1 356.5L181.5 355.7L180.2 355.3L183.9 354.5L180.6 353.8L181.8 353.7L181.7 353.4L179.5 352.7L184.5 351.6L185.5 351.0L186.3 350.9L184.8 350.2L186.6 349.7L185.6 349.2L186.2 348.3L185.4 348.2L186.9 347.1L185.9 347.0L189.0 346.2L187.2 345.5L187.0 345.0L189.0 344.0L189.5 343.6L187.1 343.3L188.6 342.5L189.8 342.2L191.9 341.8L192.5 341.1L193.4 340.3L192.0 340.0L191.5 339.2L190.8 338.6L193.9 338.1L193.4 337.5L195.2 336.7L196.6 336.0L198.7 335.4L194.3 335.3L197.1 334.2L193.8 334.4L198.8 333.5L195.4 333.0L197.6 332.6L196.4 332.2L201.4 331.2L200.1 330.6L201.1 330.3L199.7 329.5L201.1 329.2L199.0 328.3L200.4 328.0L204.0 327.4L199.0 326.8L202.7 326.2L205.0 325.6L205.2 325.2L205.0 324.6L204.3 324.3L207.0 323.2L204.7 323.1L205.5 322.6L203.2 322.2L207.0 321.3L206.4 321.0L207.3 320.3L203.9 319.7L206.2 319.5L208.4 318.8L207.0 318.0L210.6 317.3L213.5 317.2L210.3 316.6L211.6 315.6L210.5 315.3L210.9 315.1L209.7 314.2L213.5 314.1L210.7 313.3L212.5 312.4L212.8 311.9L212.2 311.7L213.5 311.1L214.9 310.8L217.3 309.8L215.9 309.3L218.6 309.2L217.4 308.3L217.5 307.4L218.5 307.2L217.6 306.5L220.1 305.4L219.2 305.5L219.6 305.0L222.9 304.7L218.9 303.7L219.1 303.4L221.0 302.3L222.1 302.4L221.5 301.5L224.0 300.8L223.4 300.5L223.9 300.0L221.6 299.0L227.0 299.0L224.7 298.7L223.5 297.8L227.7 297.4L225.9 296.5L225.1 295.8L224.9 295.6L227.1 295.4L226.5 294.4L226.3 293.6L228.2 293.1L228.4 292.7L228.3 292.0L231.2 291.3L232.5 291.1L232.8 290.2L230.2 289.9L230.4 288.8L229.0 288.7L231.6 287.8L230.8 287.5L233.2 287.0L232.8 286.5L234.7 285.7L234.0 285.1L235.2 284.5L235.9 283.9L231.2 283.7L234.0 283.0L236.5 281.8L236.5 281.6L237.2 281.2L236.4 280.5L238.9 279.8L237.3 279.2L238.0 278.6L237.8 278.0L240.4 277.8L241.0 277.1L240.0 276.5L241.1 276.0L237.4 275.3L242.9 274.7L238.3 273.9L241.0 273.6L238.3 272.8L241.8 272.3L242.1 271.7L246.9 271.4L242.0 270.6L239.8 270.0L244.9 269.1L244.5 268.6L247.4 267.9L247.2 267.5L243.3 267.1L246.0 266.5L246.4 265.7L247.5 265.0L247.2 264.8L248.0 264.0L249.0 263.2L245.9 262.8L247.7 262.3L252.1 261.7L252.3 261.1L251.0 260.4L252.0 260.2L253.2 258.9L254.4 259.2L252.3 258.1L251.7 257.8L255.3 257.1L253.2 256.5L252.7 255.7L255.6 255.6L254.8 254.9L255.4 254.7L255.9 254.2L257.8 253.6L257.2 252.6L257.7 252.5L255.6 252.4L256.1 251.7L257.1 251.4L258.4 250.6L262.0 250.4L259.6 249.9L260.4 249.8L265.2 249.0L262.9 248.7L262.2 247.9L264.5 247.5L264.1 247.2L267.1 246.7L266.3 246.3L264.2 245.7L268.3 245.1L264.8 245.0L270.7 244.5L268.8 243.8L265.0 243.4L272.8 243.5L268.3 242.5L266.2 242.2L273.9 241.2L269.6 241.4L271.3 240.3L271.7 240.1L272.7 239.6L274.1 239.2L270.5 238.5L278.5 238.1L275.7 237.7L275.0 237.1L276.6 236.4L276.2 236.1L277.9 235.4L278.1 235.3L278.9 234.3L278.7 234.0L278.1 233.5L279.2 232.9L278.6 232.1L280.6 232.3L277.9 231.3L278.2 230.8L282.7 230.4L279.0 229.9L282.7 229.8L283.8 229.0L279.2 228.9L283.9 228.1L286.9 227.9L283.6 227.5L287.9 227.0L283.7 226.3L282.3 225.6L285.1 226.0L285.8 224.8L289.3 224.7L287.8 224.6L287.6 224.0L288.1 223.2L292.2 223.1L287.2 222.9L288.6 222.0L290.6 221.8L292.1 221.5L294.0 220.7L295.3 220.6L292.7 220.1L295.4 219.6L293.2 219.2L300.3 218.8L296.3 218.6L294.4 218.1L299.3 217.5L298.3 217.0L300.7 216.9L300.7 215.8L296.7 215.6L301.5 215.4L300.2 214.9L300.5 214.7L302.0 214.3L302.3 213.9L303.4 213.3L305.5 213.1L304.3 212.6L305.3 212.3L308.0 212.0L305.7 211.3L307.3 210.7L307.3 210.6L309.8 209.9L306.7 209.5L309.3 208.5L311.2 208.5L310.5 208.0L311.7 207.8L311.0 207.4L312.7 206.9L312.2 206.7L314.4 206.3L313.4 206.2L313.3 205.5L314.8 204.7L314.6 204.6L320.4 204.3L317.5 203.9L317.3 203.5L317.2 203.1L319.6 202.7L318.0 201.9L318.7 201.6L319.0 201.5L319.9 201.4L320.6 200.9L319.9 200.5L322.8 200.1L320.9 199.9L324.3 199.1L326.0 198.8L323.5 198.4L324.3 198.3L327.5 197.6L325.3 197.3L327.1 197.0L327.4 196.4L327.8 196.3L327.4 196.2L330.4 195.5L330.0 195.1L329.8 194.9L330.6 194.5L329.7 193.5L333.2 193.2L333.7 193.5L336.1 193.2L332.8 192.4L337.7 192.0L335.4 191.7L338.1 191.0L333.6 190.7L337.4 190.4L338.6 190.2L335.5 189.7L339.5 189.5L341.0 189.1L338.4 188.8L342.1 188.5L341.8 187.6L343.3 187.3L341.6 186.9L340.8 186.2L342.4 186.5L344.2 185.9L340.7 185.2L345.7 185.0L345.5 184.3L345.9 184.1L341.7 183.7L345.4 182.8L347.2 182.7L347.4 182.3L349.4 182.2L347.9 181.2L348.6 181.3L352.0 181.0L352.2 180.3L351.2 179.8L351.2 179.4L349.7 179.2L354.1 178.5L353.1 177.7L357.3 177.7L354.0 177.6L355.8 176.7L355.2 177.0L357.4 176.4L362.2 175.9L357.6 175.4L357.2 175.5L360.1 175.1L360.5 174.5L357.8 174.9L362.9 174.3L360.2 173.7L364.2 173.2L363.4 172.9L363.0 172.7L365.1 172.5L364.0 172.3L363.4 171.9L365.3 171.6L366.8 171.1L365.5 170.9L368.3 170.8L367.0 170.4L370.5 170.5L370.0 169.8L370.1 169.3L367.3 169.0L372.5 169.0L369.1 168.6L372.1 168.2L371.4 168.5L377.1 168.1L375.0 167.5L376.1 166.8L377.4 167.3L376.4 166.4L378.9 166.3L376.1 166.2L380.6 166.0L380.7 165.5L380.5 165.0L377.7 165.3L378.5 164.6L380.3 164.5L382.1 164.6L384.6 163.8L383.8 163.6L384.4 163.6L385.4 162.8L385.1 163.3L385.6 162.6L387.0 162.5L389.6 162.3L389.0 162.4L390.1 161.8L392.5 161.8L388.1 161.0L389.8 161.2L393.0 160.9L393.3 160.7L392.6 160.5L391.5 159.9L394.8 159.8L395.6 159.4L397.7 159.0L395.5 159.0L397.7 158.3L395.6 158.2L395.5 158.2L402.5 157.9L399.3 157.4L402.2 157.4L402.4 157.1L402.2 157.1L404.8 156.5L406.6 156.7L403.5 156.7L405.0 156.3L403.4 156.5L406.6 156.4L407.8 156.4L406.8 155.9L407.8 155.9L408.0 155.9L409.4 155.6L412.3 155.9L410.8 156.0L411.6 155.8L411.0 155.6L414.1 155.9L414.6 155.7L414.2 156.0L418.2 156.2L413.9 156.9L418.8 157.0L418.1 157.1L415.8 158.0L419.1 158.6L421.3 159.0L420.8 159.8L419.2 160.3L419.3 161.0L418.1 161.8L418.1 162.5L417.3 163.1L417.5 163.5L418.1 163.6L418.9 163.7L420.0 163.9L420.7 163.9L421.2 164.1L421.1 164.3L420.8 164.7L419.5 165.2L419.1 165.6L417.6 166.0L417.9 166.3L417.9 166.5L418.2 166.6L419.4 166.8L419.4 166.9L420.6 167.0L421.4 167.0" fill="none" stroke="#0000ff" stroke-width="1.85" stroke-linejoin="round" stroke-linecap="round" /><path d="M120.1 443.3L122.5 442.7L117.3 441.6L123.6 440.9L121.1 440.8L120.2 440.5L120.6 439.6L120.5 439.2L122.4 438.2L124.6 437.9L124.6 437.4L125.1 436.7L121.5 436.1L122.2 435.7L127.9 434.9L127.3 434.3L129.8 434.0L128.5 433.4L125.1 432.5L129.5 432.3L128.8 431.5L128.5 431.2L127.1 430.5L128.9 429.8L129.1 429.2L131.3 428.8L130.4 428.2L133.3 428.0L129.7 427.0L132.2 426.2L132.7 426.3L130.7 424.9L130.6 425.1L134.8 424.0L134.3 423.9L133.6 423.0L134.9 422.6L133.5 421.9L135.5 421.3L134.5 420.9L136.2 420.1L138.0 419.7L136.2 418.9L138.6 418.4L135.8 417.8L137.5 417.4L136.1 417.1L138.6 416.1L139.3 415.5L139.3 414.9L139.6 414.4L142.7 414.1L143.3 413.2L139.2 412.8L143.7 412.1L139.2 411.7L141.2 410.7L142.6 410.7L143.5 410.2L141.9 409.2L142.9 408.8L144.7 408.1L143.8 407.9L144.3 407.3L146.9 407.2L147.8 406.0L146.5 405.3L147.1 404.8L147.4 404.0L147.1 403.8L147.4 403.2L146.9 402.8L150.2 402.1L149.3 401.4L149.7 401.2L150.7 400.4L151.6 399.9L153.6 398.9L151.1 398.4L151.3 397.9L152.7 397.4L151.4 396.5L155.4 396.6L155.2 395.7L155.2 395.4L154.2 394.8L156.1 394.4L157.1 393.6L156.5 393.0L155.6 392.2L153.6 391.8L158.5 391.6L156.7 390.3L156.3 390.0L159.7 389.6L159.1 389.3L156.6 388.2L159.2 387.7L159.3 387.3L161.9 387.3L157.4 386.0L160.4 385.5L161.2 385.1L164.3 384.3L160.4 383.9L157.7 383.4L160.8 382.7L164.0 382.2L165.3 381.9L167.3 381.1L165.4 380.4L163.8 379.7L167.1 379.4L166.0 379.0L166.1 378.2L166.9 377.7L169.4 377.6L166.1 376.3L166.3 375.7L168.4 375.4L168.8 374.7L167.9 374.3L168.2 373.9L170.8 373.2L172.8 372.5L172.2 372.1L172.5 371.5L173.9 370.8L168.8 370.1L170.0 369.8L171.8 369.1L171.4 368.3L172.2 368.1L174.4 367.3L172.5 366.7L174.3 366.4L172.0 365.5L174.2 365.1L178.6 364.4L175.8 363.7L177.7 363.5L178.8 363.2L177.1 362.1L179.4 362.0L179.2 361.4L180.4 360.9L178.5 359.8L177.6 359.3L178.7 359.2L179.9 358.3L182.2 357.7L181.3 357.3L181.4 356.7L182.2 355.9L184.8 355.4L182.3 355.0L186.3 354.4L182.1 353.6L183.6 353.5L186.4 352.8L186.3 352.0L184.3 351.4L186.0 351.1L185.4 349.9L188.5 349.8L188.4 349.1L186.7 348.5L189.0 348.3L188.1 347.6L189.0 347.6L189.6 346.4L189.0 345.9L191.1 345.0L191.6 344.9L191.9 344.0L193.5 343.6L191.6 343.3L189.9 342.7L192.0 342.0L193.6 341.6L193.7 340.7L195.1 340.0L195.9 339.3L194.8 339.2L195.2 338.9L194.1 337.9L198.0 337.4L196.2 336.7L195.2 336.4L195.6 335.3L197.2 335.3L201.0 334.8L200.1 333.9L196.3 333.2L199.4 332.7L200.5 332.4L201.5 332.1L201.4 331.0L200.2 330.3L202.4 330.1L201.2 329.6L198.8 329.1L201.8 328.3L202.3 328.0L205.5 327.5L206.1 326.4L202.9 326.1L205.4 325.8L205.7 325.3L203.6 324.4L203.0 323.6L206.7 323.3L207.6 322.6L206.8 322.2L203.6 322.0L208.6 321.1L208.1 320.7L208.0 319.9L209.4 319.8L208.5 318.9L211.8 318.3L211.3 318.3L210.8 317.5L212.6 317.0L212.5 315.9L210.5 316.1L213.2 315.6L213.1 314.6L211.4 314.1L213.7 313.5L216.0 313.3L214.6 312.2L218.5 312.0L219.4 311.8L216.5 310.9L218.4 310.7L221.3 309.7L217.7 309.1L217.2 308.8L218.5 308.1L217.3 307.6L217.8 306.9L220.9 306.2L220.2 305.8L221.8 305.5L222.6 305.0L220.9 304.2L222.3 303.7L222.6 302.9L222.4 302.5L222.5 302.0L224.9 301.4L224.6 300.9L225.8 300.4L227.4 300.0L227.8 299.4L224.6 298.8L225.5 297.9L226.9 297.4L228.0 297.0L229.8 296.5L227.0 296.0L228.3 294.9L229.9 294.8L231.9 294.2L232.6 293.5L229.0 292.9L230.7 292.5L230.1 291.9L233.3 291.4L233.1 290.3L232.1 290.0L232.1 289.9L234.0 289.1L235.6 288.3L233.0 287.8L234.2 287.0L235.3 287.0L235.5 286.4L236.5 285.7L234.6 285.2L235.7 284.5L233.5 284.1L237.6 283.4L239.7 283.0L234.8 282.1L237.6 281.5L240.6 280.8L239.3 280.3L236.7 279.5L242.3 279.5L238.3 278.9L243.4 278.2L240.5 277.7L240.7 277.0L242.4 276.4L242.7 275.5L244.1 275.2L244.4 274.2L243.6 273.9L246.5 273.3L245.9 272.7L245.5 272.0L245.7 271.9L245.7 271.2L246.1 270.3L247.7 269.6L247.8 269.1L247.4 268.8L249.5 267.7L247.7 267.6L249.3 266.9L250.4 266.2L247.4 265.9L249.3 265.1L253.0 264.5L248.9 264.2L252.9 263.1L249.5 263.2L252.4 262.1L250.4 261.6L251.5 261.5L252.4 261.3L252.5 260.3L255.6 259.4L255.8 258.6L256.3 258.6L255.6 258.0L258.5 257.4L258.0 257.0L257.3 256.4L255.4 256.2L258.9 255.5L259.3 255.0L258.9 254.1L260.5 254.2L261.1 253.4L259.8 253.3L261.8 252.7L262.0 251.9L262.4 251.7L261.9 251.1L262.2 251.0L263.7 250.5L266.5 250.2L268.6 249.4L264.5 249.2L263.9 248.3L265.7 248.2L265.4 247.7L266.6 247.3L268.5 246.8L266.8 246.5L269.9 245.8L270.7 245.3L272.5 245.1L273.5 244.3L272.6 243.8L275.2 243.2L271.0 242.9L272.9 242.4L273.2 242.0L274.1 241.3L275.6 241.0L273.8 240.3L277.7 240.2L277.5 239.3L276.4 239.0L277.1 238.4L275.1 237.5L273.1 237.5L277.6 236.7L278.8 236.5L279.1 235.4L277.4 234.9L279.0 234.4L283.2 233.9L282.0 233.7L282.3 233.3L281.2 232.7L283.5 232.3L285.0 231.8L284.6 231.6L283.2 231.1L284.9 230.6L283.4 230.2L284.9 230.0L287.0 229.3L285.6 228.5L286.7 228.3L290.1 227.9L287.9 227.7L290.1 227.2L288.8 226.8L288.0 225.9L290.5 226.1L290.4 225.4L288.2 225.2L290.2 224.7L292.1 224.0L295.8 223.6L292.9 223.5L294.4 223.2L296.1 222.3L296.1 221.9L295.6 221.3L299.6 221.1L299.6 220.7L293.8 220.4L300.1 220.1L299.9 219.5L301.2 218.9L300.2 218.6L302.0 218.3L304.4 217.9L304.6 217.4L305.3 216.9L304.6 216.6L304.9 216.0L305.5 215.4L302.6 215.2L308.9 215.1L306.0 214.1L306.7 214.4L306.9 213.3L308.0 213.1L304.2 212.2L308.7 212.1L306.7 212.0L307.8 211.0L306.8 210.7L307.6 210.4L312.1 210.0L310.8 209.2L312.0 208.9L312.5 208.8L311.4 208.3L312.7 208.0L312.3 207.4L314.5 207.2L311.8 206.9L315.5 206.0L318.3 206.0L319.4 205.6L319.8 205.3L319.3 204.6L317.3 204.2L321.2 203.9L321.1 203.3L321.2 203.3L319.3 202.7L322.6 202.1L324.9 201.9L324.4 201.3L323.3 200.8L325.2 200.5L324.9 200.3L325.8 200.0L327.5 199.5L327.2 199.3L327.3 199.1L328.4 198.2L327.0 198.1L327.3 197.7L330.4 197.0L329.1 196.7L331.7 196.5L328.2 196.1L333.9 195.6L332.4 195.5L335.9 195.0L329.5 194.7L331.5 194.5L337.3 193.6L335.8 193.7L336.6 193.2L336.9 192.5L337.5 192.3L338.8 191.9L336.7 191.3L338.7 191.3L341.8 190.6L340.5 190.0L339.7 190.1L341.5 189.5L343.7 189.2L342.1 188.7L342.7 188.2L344.4 187.7L345.5 186.9L347.2 186.8L345.0 186.2L346.3 186.1L348.1 185.4L343.6 184.9L347.6 184.6L348.7 183.9L348.4 183.6L347.6 183.1L350.6 182.9L352.2 182.1L350.6 182.1L350.4 181.5L351.5 181.0L355.0 180.7L355.1 180.5L353.6 180.1L352.3 179.3L352.6 179.4L354.8 178.8L355.4 178.7L357.0 177.9L355.2 177.8L357.5 177.6L359.3 177.1L356.2 177.0L363.6 177.0L361.3 176.8L361.9 176.5L359.5 176.2L360.6 175.8L364.8 176.1L365.2 175.2L360.3 175.0L367.0 174.8L367.0 174.8L367.5 174.4L365.2 174.4L368.2 173.7L367.4 173.9L370.0 173.8L372.8 173.4L371.5 172.9L372.8 172.6L371.2 172.7L370.6 171.9L373.1 171.8L375.5 171.4L376.9 171.5L375.0 171.7L376.2 171.1L375.7 171.2L374.2 170.7L377.9 170.7L379.0 170.6L378.4 170.8L379.5 170.3L377.5 170.3L381.3 170.4L384.3 170.6L382.6 170.2L384.3 170.5L384.8 170.2L383.5 170.0L385.8 170.2L384.8 169.8L391.8 169.7L387.9 169.9L386.4 169.6L386.3 169.7L392.2 169.8L391.4 170.0L391.7 170.2L389.5 170.3L391.5 170.1L391.1 170.3L395.8 170.3L393.7 170.2L398.6 170.7L396.9 170.6L396.1 171.1L399.6 171.0L394.5 171.0L397.3 171.5L398.6 171.5L401.8 171.6L402.4 172.3L401.8 172.5L398.8 172.8L401.6 173.2L401.2 173.5L405.8 173.4L403.5 174.3L405.8 174.8L408.5 175.4L405.8 175.5L407.6 176.3L406.3 176.6L407.5 177.4L408.0 177.5L408.4 178.2L408.9 178.7L408.6 179.4L412.9 180.0L409.1 180.4L411.1 180.6L410.6 181.8L407.7 181.6L413.7 182.6L412.9 183.2L410.7 183.4L412.3 184.0L411.2 184.5L415.0 184.8" fill="none" stroke="#0000ff" stroke-width="1.85" stroke-linejoin="round" stroke-linecap="round" /><path d="M117.1 442.7L117.9 442.1L118.1 441.9L119.7 440.7L123.6 440.8L118.9 439.8L123.6 439.8L124.6 439.1L122.2 438.5L122.1 438.0L124.5 437.4L126.2 436.5L128.2 436.4L126.5 435.7L128.1 435.2L125.0 434.5L124.7 433.9L123.7 433.6L125.1 433.0L126.8 432.3L128.2 431.4L126.0 430.9L130.1 430.4L128.9 430.2L128.4 429.5L128.6 428.9L133.8 428.3L131.1 427.6L129.7 427.3L130.0 426.4L135.1 425.9L131.5 425.7L134.9 425.1L135.7 424.3L129.7 423.5L136.4 423.0L134.2 422.8L133.1 422.2L134.4 421.8L136.7 420.9L136.8 420.4L137.3 419.7L135.8 419.6L139.6 418.4L140.4 418.3L141.4 417.9L140.4 416.8L142.3 416.2L143.1 415.7L141.2 415.1L141.9 414.9L141.8 414.2L142.1 413.5L143.1 413.0L139.1 412.8L141.9 411.9L143.7 411.3L139.7 411.2L141.3 410.1L146.8 409.6L142.8 409.4L144.2 408.6L146.0 407.6L145.0 407.3L144.8 406.4L145.8 406.2L146.3 405.8L146.5 404.9L148.2 404.9L151.1 404.3L149.3 403.7L151.9 402.8L150.8 402.4L151.4 401.9L151.4 401.4L150.3 400.9L152.0 399.7L152.2 399.4L150.2 398.8L153.8 398.4L153.9 397.9L154.0 397.8L152.8 396.7L149.7 396.4L157.1 395.6L154.9 395.0L151.7 394.8L157.0 393.7L155.1 393.5L157.9 393.2L156.9 392.9L159.5 391.6L158.3 390.9L158.8 390.3L159.0 389.9L161.3 389.4L157.4 388.9L162.0 388.5L161.6 387.7L159.9 387.2L161.3 386.3L161.0 385.9L162.2 385.5L164.2 384.4L161.8 384.4L164.7 384.0L165.4 383.2L165.3 382.7L167.3 382.1L165.0 381.3L166.7 381.0L170.1 380.3L166.4 379.9L166.5 379.3L167.2 378.8L168.6 377.9L167.0 377.6L168.0 377.4L165.9 376.7L167.5 375.9L168.0 375.2L168.1 375.0L169.8 374.2L172.1 373.3L170.7 373.0L169.5 372.9L172.6 371.6L172.9 371.4L170.7 370.7L173.7 370.3L172.1 369.6L173.2 369.0L173.5 368.1L176.5 368.0L174.2 367.5L175.4 366.9L176.7 366.1L178.6 365.7L179.2 365.7L175.9 364.4L180.1 364.0L179.0 363.3L180.9 362.9L181.1 362.5L178.8 362.1L180.2 361.3L180.1 360.7L181.6 360.2L184.2 359.7L181.9 359.0L181.1 358.5L187.0 358.2L181.4 357.2L183.5 356.8L183.9 356.0L182.2 355.5L186.1 355.4L187.0 354.4L185.5 354.1L186.1 353.8L186.2 352.9L183.9 352.2L187.7 351.6L185.6 350.6L186.5 350.4L189.2 349.8L190.6 349.7L187.9 349.0L191.8 348.1L193.3 347.9L191.0 347.1L191.0 347.0L191.9 346.4L191.3 345.7L190.9 344.9L193.9 344.8L194.4 344.0L192.8 343.5L193.4 342.9L193.4 342.1L193.7 341.8L193.7 340.9L193.2 340.7L197.7 340.0L196.0 339.1L197.1 338.9L200.5 338.3L197.0 337.6L199.3 337.1L196.4 336.8L198.1 335.8L200.7 335.3L199.5 335.1L198.0 334.4L198.2 333.5L201.8 333.3L200.1 332.3L203.3 332.3L203.0 331.6L202.4 331.1L203.3 330.2L205.1 329.7L204.3 329.5L203.1 328.5L205.7 328.3L204.9 327.6L205.6 327.2L207.4 326.4L207.4 326.2L209.0 325.6L207.4 325.1L207.4 324.9L208.0 323.8L209.7 323.3L208.1 322.5L209.3 322.5L208.9 321.6L209.5 321.2L210.9 320.3L215.7 319.9L211.5 319.6L213.0 319.0L213.1 318.3L213.1 318.0L213.9 317.3L217.6 316.9L214.3 316.1L217.8 315.8L216.7 315.0L214.6 314.8L215.4 314.0L216.2 313.5L215.6 312.8L219.7 312.6L218.9 311.8L219.6 311.2L217.4 311.0L220.3 310.0L219.1 309.8L224.5 309.4L220.7 308.1L221.8 308.1L222.4 307.5L221.4 306.9L222.0 306.4L222.4 305.5L224.9 305.3L222.7 304.7L224.1 303.8L225.3 303.5L224.5 302.7L223.4 302.4L224.1 301.7L225.8 301.3L225.3 300.5L228.9 300.1L227.8 299.6L228.1 299.0L226.9 298.7L229.9 298.4L228.9 297.1L228.3 297.0L229.2 296.2L234.6 295.6L230.1 295.1L230.1 294.5L233.8 294.0L233.6 293.6L232.3 293.1L235.4 292.4L231.2 291.7L233.2 291.3L231.7 290.7L237.0 290.4L235.3 289.2L239.9 288.6L236.7 288.2L237.2 287.8L234.9 287.1L235.2 286.6L236.8 285.4L239.4 285.2L236.6 284.7L234.8 284.0L240.5 283.5L241.0 283.0L238.4 282.6L241.0 281.7L242.5 281.0L243.0 280.8L238.9 280.6L242.0 279.6L241.0 279.1L244.3 278.3L243.2 277.9L241.5 277.6L244.0 276.3L245.2 276.4L242.1 275.2L242.8 275.3L244.3 274.6L245.3 273.7L245.3 273.3L243.5 273.0L244.4 271.8L247.3 271.7L248.4 271.0L246.7 270.3L248.8 270.0L252.0 268.8L249.0 268.5L249.0 267.7L248.9 267.3L251.3 266.9L251.3 265.9L251.8 265.7L251.2 265.1L252.9 264.4L253.3 263.9L252.8 263.6L255.4 262.9L251.4 262.7L255.6 261.6L254.7 261.0L256.7 261.0L259.0 260.0L256.4 260.0L256.5 259.3L257.3 258.9L260.1 258.3L260.9 258.1L259.1 257.6L260.5 257.2L262.9 256.6L261.4 255.7L258.5 255.7L260.2 255.1L261.3 254.9L263.3 253.9L262.2 253.8L266.1 253.2L263.5 252.8L267.4 252.5L264.3 252.1L268.2 251.7L266.8 251.1L269.4 250.6L270.8 250.1L271.0 249.4L270.3 249.3L267.9 248.5L268.3 248.0L264.8 247.7L273.1 247.0L273.3 246.6L273.4 245.7L270.2 245.5L277.3 245.0L272.0 244.5L275.1 244.3L271.4 243.6L273.6 243.1L277.2 242.7L277.3 242.3L274.3 241.9L276.4 241.2L279.0 240.6L274.5 240.3L279.3 239.6L275.9 239.1L280.1 238.7L279.1 238.0L281.7 237.4L279.6 236.9L280.4 236.6L280.9 236.2L280.4 235.8L282.0 235.1L281.3 234.8L282.6 234.3L285.2 233.7L284.0 233.9L286.9 232.8L286.8 232.3L287.6 232.0L284.8 231.9L288.0 231.1L290.2 231.0L289.9 230.1L291.0 229.8L292.0 229.4L287.5 228.9L291.5 228.6L292.1 228.1L291.4 227.7L290.1 227.1L293.1 227.0L293.1 226.5L297.2 226.1L296.7 225.8L294.4 225.3L293.8 224.8L294.7 224.6L296.6 223.8L296.1 223.1L301.2 222.9L296.4 222.3L298.8 222.1L299.7 221.6L300.7 221.2L299.0 220.8L300.7 220.4L301.9 219.9L302.7 219.4L301.7 218.8L302.7 218.3L304.1 218.0L307.5 217.4L302.7 216.8L306.5 216.5L308.5 216.2L304.0 215.6L309.3 215.0L309.8 214.7L308.1 214.4L310.1 213.6L311.5 213.6L309.3 213.1L310.5 212.4L308.9 212.2L310.0 211.6L311.9 211.2L312.2 210.5L315.6 210.1L313.1 209.8L312.0 209.4L316.1 208.9L316.7 208.2L316.4 207.9L316.0 207.8L315.5 207.2L316.3 207.2L320.6 206.8L319.9 206.1L319.3 205.8L320.4 205.0L319.7 205.1L319.3 204.8L320.7 204.0L322.0 203.6L319.9 203.3L320.8 203.1L320.9 202.8L323.6 202.0L326.0 201.8L323.3 201.5L324.2 201.1L324.0 200.6L326.5 200.4L325.8 199.7L326.7 199.2L327.1 199.2L333.4 198.9L330.0 198.6L329.6 197.9L330.6 197.5L333.4 197.3L334.2 196.9L333.6 196.5L330.4 196.1L336.0 196.0L336.7 195.4L336.8 195.3L336.9 194.5L336.8 194.1L339.3 194.0L337.4 193.3L340.2 192.9L338.2 192.5L339.0 192.0L339.4 192.0L339.8 191.8L340.5 191.2L343.2 190.8L345.1 190.1L341.8 189.6L341.8 189.4L346.2 188.6L344.0 188.1L345.6 187.7L345.9 187.6L347.7 187.0L345.3 186.4L349.2 185.8L349.2 185.3L344.6 185.1L348.6 184.6L348.8 184.0L350.6 183.9L350.4 183.1L349.8 182.5L351.0 182.3L352.8 182.1L352.8 181.6L353.0 181.3L357.6 180.5L355.3 180.4L353.1 180.0L355.8 179.6L356.8 179.1L355.1 179.2L357.6 178.7L356.6 178.3L355.0 178.3L359.9 178.4L361.1 177.4L361.7 177.5L361.1 177.5L361.0 177.3L363.1 176.6L364.1 176.4L365.6 175.9L367.0 176.1L366.8 175.6L365.1 175.4L366.6 175.6L365.0 174.9L369.3 174.5L369.7 174.6L371.4 174.3L370.9 174.1L373.4 174.0L370.2 173.4L372.6 173.2L372.3 173.2L373.1 172.7L371.1 172.9L373.5 172.6L372.1 172.3L375.6 172.1L375.6 172.1L377.7 172.1L375.1 171.6L377.9 171.8L379.1 171.9L376.3 171.8L383.6 171.9L382.4 171.9L381.0 172.0L386.2 171.9L386.0 172.1L380.3 172.1L384.6 172.0L384.8 171.9L386.6 171.8L385.6 172.1L387.5 171.9L388.8 172.0L385.1 172.1L390.2 172.0L393.1 171.7L391.6 171.8L394.0 172.4L395.5 171.7L394.0 172.3L394.9 172.0L395.6 172.4L394.9 172.8L400.1 172.6L397.7 173.2L398.6 172.9L399.9 173.6L401.5 173.8L397.4 174.3L398.6 174.7L401.1 175.1L402.4 175.4L400.0 175.4L400.3 175.7L404.5 176.3L405.0 176.6L403.8 176.7L404.3 177.2L404.2 178.0L403.8 178.5L404.8 179.2L407.1 179.7L406.9 179.9L409.4 180.8L406.0 181.0L405.8 181.8L410.1 182.3L407.9 183.1L409.4 183.5L410.4 183.8" fill="none" stroke="#0000ff" stroke-width="1.85" stroke-linejoin="round" stroke-linecap="round" /><path d="M123.4 442.7L123.3 442.5L123.2 442.0L119.7 441.1L124.8 440.4L120.9 440.2L126.4 439.7L126.3 439.1L127.1 438.4L127.5 437.8L127.0 437.5L126.0 436.8L126.7 435.9L130.2 435.2L127.1 435.0L128.1 434.5L127.6 433.6L128.4 433.0L129.1 432.8L130.5 431.9L130.0 431.6L130.3 430.6L130.2 430.1L131.8 429.3L129.8 429.1L132.6 428.5L135.1 427.6L132.0 427.4L133.6 426.7L138.9 426.2L132.8 426.0L132.2 425.3L134.6 424.6L138.8 423.9L139.6 423.1L134.5 422.7L137.9 422.2L137.4 421.9L136.8 420.9L134.9 420.4L140.3 419.9L137.5 419.5L139.9 419.0L140.0 418.5L143.4 417.6L142.6 417.5L139.1 416.7L141.0 415.8L143.6 415.2L140.0 414.7L142.0 414.2L143.5 413.8L140.8 413.0L141.8 412.4L141.4 411.8L145.2 411.5L144.2 410.6L147.2 410.4L146.2 409.6L147.4 409.1L146.7 408.7L148.5 408.1L147.5 408.0L146.4 406.7L150.5 405.9L150.6 405.5L153.2 405.4L149.5 404.4L149.2 404.3L148.1 403.5L144.4 403.1L149.2 402.1L152.7 402.0L150.8 401.5L148.3 400.5L154.1 400.4L152.5 400.1L153.3 399.0L153.6 398.3L154.6 397.8L156.0 397.3L152.7 397.0L155.7 396.6L155.6 395.6L158.8 395.0L155.6 394.3L160.5 393.9L159.2 393.5L161.4 392.4L157.8 392.4L160.8 391.9L160.5 391.4L157.8 390.5L160.3 389.7L160.4 389.5L159.9 388.7L160.7 388.0L160.0 387.7L162.1 387.0L163.9 387.1L162.4 386.3L161.5 385.8L166.3 384.8L164.4 384.8L165.5 383.9L165.5 383.6L165.4 382.6L167.7 382.4L166.2 381.4L167.6 381.1L165.6 380.6L165.7 379.8L168.2 379.5L172.6 378.9L170.0 378.3L173.5 378.0L171.4 377.6L171.8 376.7L170.5 376.5L171.9 375.9L175.4 375.3L174.8 374.9L172.2 373.7L172.9 373.8L176.4 373.0L173.7 372.3L176.6 371.8L173.9 371.5L177.0 371.0L179.0 370.4L178.2 369.5L177.7 368.9L178.0 368.7L178.0 368.2L178.6 367.4L181.1 367.2L181.5 366.6L180.7 366.1L178.3 365.3L180.0 365.1L181.9 364.5L181.9 364.1L180.0 363.4L183.8 362.5L187.6 362.3L181.5 361.9L184.2 361.1L187.3 360.4L184.3 360.2L184.8 359.7L186.2 358.8L187.3 358.3L186.1 357.6L189.0 357.5L184.5 356.9L189.3 356.7L189.3 355.6L188.8 355.5L190.2 354.7L190.1 354.3L192.7 353.4L190.2 353.1L191.3 352.5L189.5 352.0L190.4 351.6L192.3 351.1L190.6 350.6L192.2 349.9L191.9 349.2L193.7 349.0L195.2 348.3L197.1 347.6L192.6 347.5L196.0 346.7L198.3 346.3L199.6 345.3L200.1 344.9L195.7 344.9L197.7 344.1L200.0 343.5L201.1 342.7L200.4 342.3L200.8 341.9L201.2 341.2L199.9 340.7L202.0 339.8L203.5 339.5L202.0 339.0L205.0 338.6L198.6 338.1L203.3 337.4L207.2 336.7L206.2 336.2L207.6 335.8L205.8 334.9L204.0 334.6L205.6 334.0L209.4 333.5L204.1 333.3L206.1 332.4L205.2 332.0L207.6 331.6L208.2 330.8L210.3 330.1L208.4 329.3L213.1 329.3L211.7 328.2L210.2 327.4L209.7 327.5L209.3 326.4L212.4 325.9L216.0 325.4L212.7 324.7L211.7 324.0L213.7 323.9L213.3 323.4L213.1 322.8L211.8 322.1L215.3 321.4L218.4 320.8L218.3 320.6L218.3 320.0L217.4 319.1L218.2 318.7L219.5 317.8L218.1 317.6L219.1 316.7L218.4 316.3L221.4 315.7L218.3 314.6L221.4 314.7L222.1 314.0L222.5 313.3L222.6 312.7L221.0 312.2L221.3 311.7L221.9 311.2L222.4 310.6L221.5 310.1L223.1 309.4L223.2 308.5L223.0 308.0L225.7 307.8L224.2 307.2L226.3 306.5L228.8 305.7L229.6 305.3L227.2 304.7L229.3 304.4L228.4 303.5L232.4 302.9L231.6 302.4L231.1 302.1L229.4 301.8L229.6 300.8L231.4 300.6L230.9 299.7L230.9 299.1L233.0 298.5L230.1 298.3L229.2 297.5L231.3 297.2L231.5 296.4L233.8 296.3L232.9 295.4L234.5 294.8L231.8 294.0L238.2 293.9L236.8 293.2L235.0 292.6L237.5 292.0L239.5 291.4L239.3 290.8L238.1 290.4L239.8 289.7L240.7 289.3L237.6 289.2L237.6 288.2L239.5 287.6L242.7 287.3L244.0 286.4L242.2 286.4L245.0 285.6L244.6 284.8L243.2 284.5L242.5 283.9L243.2 283.7L244.9 282.9L247.7 282.7L247.2 281.7L244.1 281.5L244.7 281.2L248.7 280.8L248.2 280.2L246.8 279.9L250.1 279.5L251.9 278.9L251.4 278.5L250.8 278.2L253.5 277.6L251.1 276.6L251.3 276.3L251.2 276.1L256.6 275.9L257.5 275.3L254.3 274.9L255.9 274.5L256.2 274.0L257.5 273.2L258.4 273.0L258.1 272.1L257.2 271.6L257.0 271.3L256.6 270.4L254.4 270.7L259.2 270.3L258.4 269.3L260.3 268.7L260.6 267.8L259.5 267.9L260.8 267.1L262.9 266.5L262.9 265.9L261.6 265.6L262.3 265.1L265.0 264.6L264.9 264.0L265.5 263.2L265.2 263.3L267.2 262.7L266.5 261.9L271.1 261.2L266.5 260.7L266.5 260.5L271.0 260.0L268.5 259.4L267.8 259.0L270.3 258.1L266.1 258.0L271.2 257.2L271.0 256.5L271.8 256.2L270.5 255.6L274.5 254.9L273.3 254.9L273.1 253.6L274.2 253.5L272.7 253.0L274.3 252.2L272.4 251.8L273.6 251.5L276.4 250.5L276.5 250.0L278.1 249.6L276.1 249.2L277.5 248.8L277.0 248.2L279.0 247.3L280.4 247.2L281.3 246.6L280.9 246.1L279.0 245.0L281.2 244.5L279.5 244.1L278.5 243.6L282.5 243.2L282.8 242.4L284.3 241.9L284.9 241.7L281.9 240.6L282.9 240.3L284.9 240.0L285.4 239.6L286.5 239.0L284.0 238.7L286.2 237.9L288.2 237.4L290.8 236.9L285.9 236.2L291.2 235.4L288.5 235.1L286.9 234.6L292.1 233.9L288.5 233.7L288.8 232.9L292.4 232.1L293.4 231.9L292.2 231.2L291.3 230.9L290.5 229.8L293.6 229.4L290.0 229.2L291.9 228.8L296.7 228.2L296.4 228.0L297.9 227.1L297.0 226.5L294.8 226.3L298.0 225.5L294.6 225.2L299.4 224.9L301.0 224.1L297.5 223.6L301.4 223.0L300.3 222.8L300.4 222.3L297.8 221.9L301.5 221.4L303.7 221.2L299.8 220.3L302.5 219.8L302.6 219.3L301.6 219.2L306.6 218.4L305.4 217.9L306.0 217.3L308.2 217.0L305.7 216.8L313.1 215.6L307.3 215.5L306.7 215.1L310.3 214.7L310.4 214.4L308.7 213.9L309.4 213.6L312.9 213.2L312.5 213.0L313.3 212.2L314.6 211.9L312.7 211.4L316.4 211.1L314.9 210.6L316.7 210.0L314.5 209.9L317.9 209.7L317.7 208.9L322.0 208.7L318.1 208.3L321.6 207.5L320.7 208.0L322.9 207.5L321.2 207.1L322.2 206.6L318.2 205.9L320.4 205.2L325.0 205.3L324.5 205.0L325.7 204.5L324.5 204.1L326.9 204.0L325.6 203.6L326.7 203.1L329.4 202.6L329.8 202.8L327.8 202.1L329.2 201.5L330.1 200.9L330.0 200.4L330.7 199.8L329.8 199.9L333.0 199.6L330.8 199.1L331.5 198.7L335.9 198.4L337.4 198.1L338.0 197.2L336.1 196.9L335.1 196.9L337.9 196.4L339.8 196.1L338.0 195.4L337.7 195.5L336.1 194.8L336.6 194.3L343.0 193.8L338.2 193.6L340.1 193.2L341.3 192.7L342.8 192.6L340.7 192.1L344.4 191.4L345.0 190.8L344.7 190.3L344.1 190.0L345.1 188.9L343.0 189.1L347.9 188.5L346.5 188.5L345.6 187.7L348.4 187.1L349.9 186.7L350.2 186.1L351.2 185.6L352.7 185.3L350.4 184.5L352.1 184.5L352.8 183.7L350.5 183.5L355.4 183.1L353.6 183.0L355.1 182.8L355.8 182.5L354.5 181.8L357.9 181.5L358.7 181.3L358.0 181.1L353.4 181.0L361.2 180.7L359.3 180.4L359.1 180.6L359.9 180.2L359.7 180.2L361.6 179.6L363.9 179.5L361.7 179.3L364.6 179.1L363.9 178.7L365.2 178.8L365.7 178.3L367.5 178.5L369.4 178.7L368.4 178.4L370.7 178.1L372.4 177.9L368.1 178.0L372.6 177.6L371.5 177.5L372.4 177.5L375.0 177.8L373.7 177.4L373.7 177.8L377.6 177.9L378.0 177.9L377.6 177.7L382.4 177.8L376.7 177.5L376.3 177.9L379.4 178.2L378.6 178.2L381.8 177.6L380.9 177.9L381.6 177.9L383.3 178.2L382.6 178.1L381.4 178.1L384.1 178.1L387.2 178.3L387.1 178.4L388.9 178.7L390.8 178.9L390.1 179.0L389.1 179.7L388.6 180.0L391.2 180.4L393.8 180.8L394.1 181.3L393.9 181.6L391.6 182.0L394.7 182.1L395.8 182.4L397.5 182.5L394.1 182.5L395.8 182.8L397.8 183.4L398.1 183.6L397.7 184.0L397.7 184.2L396.7 184.7L396.4 185.1L395.1 185.5L394.6 186.0L393.5 186.5L394.3 187.1L394.1 187.7L394.7 188.2L394.7 189.0L395.6 189.6L395.5 190.4" fill="none" stroke="#0000ff" stroke-width="1.85" stroke-linejoin="round" stroke-linecap="round" /><path d="M121.2 433.1L120.2 432.6L117.7 431.9L119.4 431.4L119.7 430.9L124.6 430.3L119.4 429.3L123.8 429.2L122.1 428.5L124.0 427.8L122.7 427.1L123.8 426.9L124.4 426.1L124.2 425.8L125.5 425.0L125.4 424.7L127.3 423.8L128.7 423.3L125.9 422.8L126.2 422.5L127.6 421.9L124.5 421.2L128.3 420.5L127.3 420.2L127.2 419.8L126.3 418.9L129.0 418.6L130.7 417.9L129.3 417.1L129.1 416.4L130.1 416.1L131.2 415.3L129.9 415.0L131.4 414.5L130.9 413.3L132.9 413.2L136.5 413.0L134.3 411.9L137.8 411.3L133.6 410.8L133.3 410.3L135.1 410.1L136.2 409.2L137.1 409.1L137.5 408.2L136.7 407.5L139.2 407.1L137.9 406.8L139.7 405.9L139.7 405.4L139.8 404.5L140.1 404.1L138.9 403.8L141.5 402.9L142.0 403.0L140.6 401.9L146.1 401.1L142.5 400.6L140.4 400.3L140.3 399.6L142.0 398.8L140.1 398.7L144.9 397.9L142.8 397.3L145.7 396.6L143.1 395.9L146.2 395.3L148.1 395.2L147.7 394.8L144.1 394.0L147.6 393.2L147.2 392.7L150.3 392.4L149.4 391.5L152.3 391.2L149.9 390.2L148.1 390.0L148.8 389.5L152.8 388.9L149.5 388.1L151.8 387.6L155.6 386.8L152.4 386.3L151.3 386.0L154.7 385.1L154.2 384.8L152.0 383.9L155.7 383.4L155.1 383.2L156.4 382.2L154.5 381.9L157.9 381.5L155.5 380.7L158.9 379.9L155.3 379.5L158.1 379.1L158.6 378.7L156.2 377.7L155.5 377.3L158.0 376.7L158.2 375.9L158.9 375.6L160.1 375.0L164.6 374.0L161.5 373.7L164.3 373.2L162.6 372.5L164.3 372.2L163.8 371.6L163.3 370.9L164.4 370.1L167.7 369.5L161.6 369.3L165.2 368.2L166.2 367.9L163.5 367.2L166.9 366.8L166.7 366.1L168.9 365.6L168.2 365.3L167.5 364.3L168.4 364.2L164.6 363.2L172.1 362.8L169.5 362.0L167.1 361.9L168.2 360.9L169.9 360.6L169.6 360.0L171.3 359.4L170.2 358.8L172.7 358.2L171.4 357.6L172.4 357.0L170.6 356.2L172.0 355.8L173.5 355.3L172.5 354.5L174.0 353.9L174.3 353.2L172.5 353.0L177.4 352.2L173.6 352.0L179.2 351.4L178.5 350.4L178.1 349.9L177.4 349.4L176.4 349.2L181.1 348.2L182.1 347.6L177.9 347.1L182.5 346.7L181.8 345.8L181.7 345.0L181.5 344.8L180.6 344.3L181.3 343.6L182.2 343.1L184.4 342.2L180.4 341.6L183.3 341.4L181.5 340.3L183.8 339.7L183.6 339.6L183.2 338.5L185.8 338.4L186.3 337.4L183.4 337.1L184.6 336.8L187.0 336.0L185.7 335.3L187.5 334.6L182.6 334.1L187.0 333.4L187.5 332.7L188.9 332.3L192.5 331.4L188.7 331.0L189.2 330.2L192.2 329.5L190.0 329.4L193.3 328.4L192.2 328.1L188.2 327.2L191.9 326.5L194.6 325.9L192.6 325.1L193.1 324.7L193.3 324.1L193.5 323.9L195.8 322.9L194.9 322.4L194.8 321.8L198.7 321.1L192.5 321.0L194.2 320.4L195.2 319.5L195.4 318.5L193.4 317.9L201.2 317.6L196.9 316.9L198.3 316.2L197.7 315.8L196.0 315.0L202.3 314.2L198.5 313.5L199.3 313.2L199.3 312.4L200.2 311.9L202.4 311.1L200.3 310.7L195.0 310.2L199.9 309.1L199.5 308.9L202.6 308.4L201.3 307.3L203.2 306.8L203.0 306.3L202.1 305.6L204.6 305.5L203.2 304.2L202.0 303.8L201.8 303.2L203.0 302.9L200.6 302.1L205.2 301.4L206.0 300.8L204.0 300.3L202.4 299.7L204.7 298.8L208.6 298.2L207.0 297.9L207.8 297.0L208.4 296.5L208.3 295.9L208.4 294.9L210.1 294.9L210.4 294.0L208.5 293.4L208.9 293.0L210.3 292.1L211.3 291.7L212.1 290.9L211.3 290.1L211.5 289.7L210.2 289.1L214.6 288.5L212.9 287.4L214.5 287.5L213.1 286.6L212.1 285.5L213.4 285.8L213.7 284.9L215.9 284.3L214.8 283.5L217.6 283.1L217.1 282.6L220.8 282.0L214.0 281.6L219.6 281.1L216.7 280.2L218.0 279.4L218.9 278.8L220.7 278.2L219.3 278.2L218.8 277.1L222.8 276.5L219.1 276.0L222.4 275.3L220.7 274.8L223.5 274.1L221.8 273.7L220.8 273.1L220.7 272.4L221.8 271.9L224.6 271.5L226.2 270.7L224.3 269.8L225.1 269.7L222.4 268.9L225.0 268.2L227.6 267.9L227.9 267.0L224.4 267.3L226.1 265.9L226.3 265.7L228.2 265.1L226.9 264.5L228.5 264.0L231.1 262.9L229.5 263.0L229.0 261.8L230.3 261.3L228.0 260.6L230.7 260.4L231.4 259.7L234.4 259.0L230.4 259.1L234.2 257.9L233.8 257.7L236.3 256.7L236.3 256.5L234.9 255.6L234.1 255.1L237.6 254.2L238.4 254.4L235.4 252.9L239.1 252.7L236.8 252.2L238.6 251.7L235.7 250.9L238.9 250.9L238.3 249.9L238.6 249.1L237.9 249.2L238.6 248.0L240.8 247.5L239.8 247.0L237.6 246.7L239.3 246.4L243.7 245.3L241.9 244.6L242.0 244.1L245.3 244.0L239.9 243.3L241.6 242.4L245.0 242.1L246.2 241.2L245.2 240.8L243.0 240.2L247.1 239.8L246.2 239.2L244.7 238.6L242.9 237.9L247.0 237.4L246.1 236.8L246.2 236.3L246.8 235.5L247.9 234.7L248.1 234.7L249.6 233.5L252.2 233.6L246.4 232.7L249.0 231.7L251.1 231.9L251.5 231.1L252.7 230.4L251.9 230.2L252.3 229.6L253.6 228.5L255.2 228.1L255.0 227.3L253.7 227.0L256.0 226.6L255.9 226.0L254.3 225.4L257.4 224.9L257.7 224.2L255.2 223.6L258.9 223.2L257.2 222.7L261.5 221.9L256.8 221.4L258.8 221.0L259.0 220.1L258.0 219.6L259.2 219.4L260.9 218.5L260.3 217.8L261.8 217.6L260.9 217.0L262.8 216.7L263.1 215.9L261.3 215.4L258.9 214.6L264.5 213.9L262.5 213.5L256.8 213.1L266.8 212.1L265.0 211.8L267.2 211.4L267.9 210.7L272.3 210.4L267.9 209.4L269.4 209.0L270.5 208.7L271.7 208.2L268.9 207.3L269.8 206.3L271.2 206.3L267.9 205.6L271.7 205.3L273.8 204.8L271.9 204.2L273.7 203.7L271.0 202.8L274.4 202.3L270.5 201.6L273.1 201.1L276.1 200.4L273.3 200.1L276.0 199.5L273.6 198.6L276.0 198.6L276.5 197.8L276.2 197.6L275.6 197.0L276.9 196.2L276.2 195.6L276.9 195.0L276.8 194.7L278.8 193.4L281.7 193.3L284.3 192.8L281.5 192.7L281.8 192.1L280.0 191.4L280.7 190.6L283.8 190.2L284.8 189.3L281.9 189.1L282.9 188.5L286.2 188.3L286.7 187.6L286.7 186.6L284.7 186.6L285.2 185.9L286.5 185.4L282.8 184.7L287.8 184.3L289.3 184.1L288.4 183.3L289.2 182.7L287.3 182.5L290.2 181.7L290.6 180.8L289.5 180.4L291.2 179.6L289.3 179.8L290.4 179.0L292.2 178.6L291.3 178.0L291.3 177.2L291.5 176.5L294.6 176.1L296.1 175.2L297.0 175.2L295.3 174.0L295.3 173.9L296.1 172.9L298.1 172.5L295.2 172.3L297.3 171.7L298.0 171.1L297.6 170.6L300.8 169.9L299.4 169.6L298.7 169.0L302.3 168.1L298.3 167.8L300.1 167.2L300.7 167.0L300.1 166.2L303.8 165.7L300.3 164.9L302.9 164.6L301.4 164.0L302.9 163.3L306.0 162.9L302.8 162.4L303.4 161.9L306.5 161.2L304.9 160.6L307.3 159.7L309.7 159.8L307.5 158.8L308.5 158.7L309.3 158.1L309.4 157.5L304.0 156.9L307.8 156.3L313.2 155.6L311.2 155.1L309.8 154.7L311.9 154.3L313.0 153.5L311.3 153.0L313.9 152.3L316.2 152.4L314.9 151.7L315.4 151.1L314.9 150.7L316.4 149.9L314.4 149.3L318.5 148.7L317.2 148.4L319.1 147.8L320.6 147.1L316.1 146.8L318.2 146.4L316.5 145.9L322.8 145.0L318.6 144.9L318.3 143.9L321.3 143.3L321.1 143.1L323.1 142.5L320.3 141.9L324.1 141.3L324.7 140.9L320.3 140.3L322.9 139.5L322.1 138.9L322.5 138.0L323.0 137.6L324.2 137.5L324.7 136.7L324.7 136.4L330.6 135.8L324.7 135.2L326.7 134.8L327.0 134.5L324.2 133.6L329.8 133.2L330.4 132.8L330.1 131.6L327.9 131.9L331.0 131.1L328.9 130.6L331.4 129.8L332.2 129.1L333.2 129.0L332.8 128.1L334.2 128.1L334.9 127.7L334.5 126.8L333.8 126.2L336.6 125.8L337.3 125.5L338.4 125.1L337.1 124.6L339.2 124.2L336.9 123.0L338.3 123.0L339.4 122.5L342.4 122.0L339.2 121.6L340.3 120.5L340.0 120.3L343.4 120.0L343.3 119.6L342.2 119.0L340.5 118.4L344.7 118.0L341.9 117.3L345.9 116.8L342.3 116.5L346.7 115.7L344.9 115.8L344.0 114.7L347.8 114.5L347.6 113.8L344.2 113.6L350.7 113.0L348.5 112.4L346.6 111.9L350.1 111.6L351.4 110.9L351.4 110.8L350.5 110.3L353.4 109.8L351.6 109.3L351.2 109.0L355.4 107.7L353.3 107.4L353.8 107.4L357.7 106.4L353.9 106.1L358.7 105.8L356.4 105.3L357.5 104.9L357.8 104.6L357.3 104.0L359.4 103.6L361.3 103.2L358.0 102.5L358.7 101.6L361.2 101.6L360.6 101.0L365.1 100.6L363.1 100.2L362.6 100.0L361.8 99.5L364.2 98.7L363.4 98.4L366.6 97.7L363.1 97.4L366.1 96.9L367.7 96.5L365.2 95.9L366.0 95.8L366.5 95.1L369.9 94.7L369.7 94.1L366.6 93.7L370.4 92.9L371.1 92.6L372.2 92.1L374.1 91.8L369.5 91.4L374.6 91.2L371.0 90.3L372.8 89.7L373.5 89.6L374.5 89.1L374.9 88.5L375.9 88.0L377.7 87.8L378.8 87.4L378.8 86.8L378.0 86.5L377.5 85.9L380.9 85.5L381.0 84.8L381.4 84.6L381.3 84.3L382.7 83.6L378.7 83.5L384.1 82.6L384.1 82.4L382.6 82.0L385.7 81.4L383.7 80.8L383.8 80.4L386.2 80.0L388.6 79.7L387.4 79.0L384.8 78.9L386.9 78.3L389.6 77.7L389.9 77.2L388.5 76.8L390.8 76.1L393.3 76.2L390.5 75.5L393.7 75.3L392.9 74.7L392.4 75.0L393.3 73.9L394.3 74.1L397.1 73.2L396.1 72.5L396.5 72.8L395.1 72.3L396.8 71.8L396.3 71.3L396.9 70.8L400.9 70.8L400.3 70.3L397.7 70.0L401.7 69.6L402.6 69.1L400.2 68.4L401.7 68.4L402.4 67.8L404.8 67.8L405.4 67.2L404.6 66.7L405.2 66.2L405.9 66.1L403.5 65.5L403.9 65.1L409.1 64.6L407.8 64.0L408.2 63.1L407.2 62.8L408.1 62.7L407.6 62.0L412.3 61.9L410.7 61.2L412.6 60.8L411.3 60.5L412.2 60.2L416.2 59.9L415.1 59.1L413.5 59.1L413.5 58.4L414.7 58.1L416.1 57.4L414.4 57.6L420.7 57.2L419.3 56.6L419.5 56.2L413.5 55.6L416.4 55.9L424.1 54.3L422.1 54.6L424.1 53.8L425.0 53.1L426.4 53.3L426.4 52.6L424.1 52.0L424.5 51.6L425.8 51.1L426.4 50.3L424.7 49.9L425.1 49.7L426.7 48.9L424.9 48.3L423.7 48.0L430.5 47.7L429.1 47.3L431.7 47.0L431.5 46.5L432.2 46.1L432.4 46.0L432.9 45.5L433.8 45.9L431.2 45.2L432.7 44.6L436.2 44.5L434.1 44.2L433.7 43.7L439.0 43.9L433.3 43.6L438.5 43.6L437.7 43.0L439.7 42.9L439.1 42.4L439.7 42.5L441.1 42.4L442.4 42.3L440.8 41.6L442.6 41.7L443.0 42.2L447.7 41.3L443.4 41.8L447.6 41.5L443.9 41.8L445.5 41.5L450.1 41.3L447.4 41.3L452.0 41.4L453.4 40.6L451.6 41.4L452.4 41.4L450.0 41.1L452.2 41.5L455.0 41.0L454.0 41.1L455.6 41.1L455.6 41.1L456.1 41.2L456.9 42.0L456.0 42.7L456.0 43.1L456.0 43.7L454.9 44.3L454.2 44.8L454.1 45.4L453.3 45.9L452.5 46.5L452.9 47.1L453.1 47.7L453.1 48.4L453.3 49.1L453.8 49.8L452.8 50.5L453.2 51.1L453.8 51.9L453.6 52.8" fill="none" stroke="#ff0000" stroke-width="1.85" stroke-linejoin="round" stroke-linecap="round" /><path d="M117.8 437.6L119.4 436.6L120.4 436.7L118.1 435.6L121.5 434.8L121.0 434.8L122.3 434.3L121.9 433.9L123.8 433.2L120.7 432.5L125.7 431.9L125.1 431.5L122.5 430.8L125.1 430.3L125.1 429.2L121.8 429.0L126.2 428.4L124.6 428.0L125.6 427.2L125.4 427.0L126.1 426.4L127.4 425.4L127.9 425.1L125.5 424.7L128.1 423.8L126.7 422.9L127.2 422.8L129.2 422.3L131.6 421.7L131.7 421.4L130.0 420.7L130.2 420.4L130.4 419.3L132.5 419.2L134.3 418.3L133.1 417.9L134.7 416.8L134.5 416.5L136.9 416.3L131.3 415.5L131.6 414.9L135.3 414.1L137.1 414.0L135.7 413.0L137.6 413.0L135.3 412.2L135.5 411.4L136.9 410.8L139.9 410.3L140.1 409.9L138.1 409.3L140.0 408.4L139.0 408.2L140.6 407.4L139.1 407.4L141.3 406.1L140.5 406.1L142.1 405.1L141.5 404.8L141.6 404.4L143.6 403.7L143.3 402.8L144.3 402.2L144.0 402.2L146.1 401.2L144.1 400.9L147.2 400.5L148.6 399.3L146.3 399.5L150.1 398.5L151.0 397.9L148.7 397.2L146.1 396.9L146.1 396.3L148.9 395.9L152.6 395.3L151.0 394.7L151.7 393.9L150.4 393.4L150.0 392.9L152.3 392.3L150.2 392.0L152.2 391.3L153.8 390.5L153.4 389.8L154.6 389.0L153.4 388.8L155.6 388.3L155.6 387.3L152.6 387.1L154.0 386.6L155.0 386.1L157.7 385.1L157.5 384.7L157.9 384.0L158.1 383.9L159.3 383.2L160.2 383.1L158.1 381.9L156.8 381.8L161.0 380.9L159.9 380.3L160.8 380.0L160.8 378.8L159.6 378.4L159.3 378.3L164.0 377.7L164.6 377.3L164.7 376.4L163.9 375.7L164.4 375.4L163.7 374.5L164.9 374.0L164.5 373.5L164.7 372.7L166.4 372.8L169.3 371.9L163.6 371.2L168.3 370.7L168.8 369.9L166.0 369.4L169.0 369.0L169.1 368.4L168.5 367.3L168.9 367.5L167.7 366.2L173.4 365.9L174.9 365.2L174.0 365.0L171.3 364.0L172.6 364.0L173.2 363.4L171.6 362.9L173.0 362.3L174.7 361.5L173.5 361.0L171.6 360.2L172.9 359.7L175.9 359.3L175.3 358.4L175.7 358.0L179.0 357.4L177.2 357.1L176.2 356.5L177.8 355.7L182.0 355.4L176.8 355.1L182.1 354.3L181.9 353.5L179.6 353.0L179.7 352.2L183.1 351.7L181.5 351.3L180.6 350.7L185.0 349.8L182.6 349.3L183.3 348.7L183.2 348.1L183.0 347.6L184.1 347.2L183.7 346.4L185.6 345.9L186.9 345.1L187.4 344.8L187.9 344.4L188.9 343.6L188.0 342.8L186.1 343.1L189.1 341.8L185.1 341.5L187.1 340.4L189.2 340.1L186.2 339.7L192.0 339.1L188.1 338.5L187.7 337.9L189.3 337.2L189.7 336.6L191.4 336.1L191.5 335.5L193.9 334.9L192.3 334.5L193.2 333.9L191.6 333.2L194.6 332.9L192.8 332.1L191.2 331.4L197.1 331.1L193.4 330.4L193.8 329.4L194.5 329.2L197.5 328.2L194.1 327.9L196.4 327.4L198.5 326.9L201.1 326.0L197.7 325.5L198.7 325.1L197.5 324.8L202.7 324.2L199.5 323.4L199.9 322.9L200.7 321.9L199.2 321.3L201.1 321.0L199.4 320.4L204.4 319.3L202.0 319.2L202.3 318.2L205.0 317.8L201.3 317.0L206.1 316.5L206.6 316.2L203.1 315.1L206.0 314.7L205.0 314.2L207.0 313.7L205.9 313.3L204.7 312.4L207.7 312.0L206.6 310.9L207.6 310.5L209.3 309.5L210.1 309.6L209.5 308.6L206.3 308.3L210.3 307.3L209.0 306.7L211.6 306.1L209.9 305.6L213.0 305.1L211.8 304.2L211.3 304.0L212.1 303.5L209.0 302.4L213.3 301.8L212.9 301.3L211.2 300.7L214.1 300.7L214.3 299.9L214.8 298.9L214.3 299.1L216.2 298.1L216.6 297.1L215.8 296.4L215.9 296.2L215.6 295.2L215.7 295.0L218.1 294.5L216.5 293.6L215.4 293.0L218.6 292.4L220.5 292.2L218.5 291.5L220.8 290.9L220.5 290.4L218.4 289.6L221.0 288.9L220.6 288.5L222.4 288.0L216.9 287.2L223.4 286.6L223.6 285.9L221.2 285.8L224.9 285.0L223.2 284.3L224.2 283.8L225.7 283.2L226.9 282.6L225.3 282.2L226.6 281.4L226.6 281.0L225.0 280.2L229.4 279.5L228.3 279.3L227.7 278.7L229.7 278.2L229.2 277.3L227.7 276.6L230.7 275.8L229.6 275.6L230.9 274.9L231.9 274.7L232.3 273.7L234.3 273.5L231.8 272.5L231.6 272.2L231.1 271.9L231.6 271.0L234.3 270.6L234.3 270.1L232.5 269.1L233.3 269.2L234.0 267.9L237.8 267.6L234.0 267.1L236.6 266.6L233.7 266.1L236.4 265.6L239.6 264.5L235.5 264.2L240.0 263.2L235.3 263.1L239.0 262.4L237.4 262.0L239.7 261.0L239.7 260.6L241.9 260.3L241.4 259.8L241.6 259.0L240.8 258.4L242.9 257.8L241.2 257.2L241.9 256.7L242.3 256.7L244.7 255.8L248.0 254.7L244.5 254.4L248.2 253.7L243.6 253.4L244.8 253.2L247.1 252.5L247.6 251.7L248.3 251.2L250.1 250.5L247.5 249.7L250.1 249.2L249.1 249.0L244.2 247.9L247.8 247.9L249.0 247.6L250.5 246.5L251.6 246.2L250.6 245.4L253.7 244.8L250.3 243.8L252.3 243.5L254.3 243.4L251.3 242.6L255.7 241.9L255.6 241.7L254.1 240.8L254.8 239.9L255.1 239.6L255.7 239.5L258.2 238.8L257.4 238.0L254.6 237.7L254.7 236.9L258.8 236.9L253.7 236.0L255.9 235.5L258.0 234.8L259.4 234.4L262.2 233.7L260.6 233.0L266.7 232.4L261.5 231.8L263.0 231.3L263.7 230.9L262.2 230.3L264.4 229.9L264.2 229.0L264.0 228.6L263.0 227.5L263.7 227.2L266.2 226.7L265.2 226.3L266.4 225.7L266.8 225.0L267.0 224.7L267.0 223.9L268.4 223.5L269.2 222.8L270.6 222.4L269.5 221.7L268.1 221.2L268.4 220.5L271.0 219.8L267.8 219.8L269.9 218.8L273.0 218.6L271.1 217.8L271.0 217.3L274.6 216.7L268.4 216.0L273.2 215.3L273.0 215.2L273.4 214.5L276.2 213.6L277.6 213.2L277.4 212.7L276.9 212.5L276.9 211.8L276.3 211.1L277.2 210.8L274.8 210.1L277.1 209.3L279.4 208.6L278.6 208.5L280.7 207.4L277.1 207.5L279.2 206.3L278.8 206.0L282.7 205.8L280.9 205.1L281.3 204.6L280.1 203.5L281.8 203.2L281.3 202.7L282.5 202.1L287.6 201.5L282.3 201.1L284.3 200.4L283.6 199.7L287.7 199.2L284.3 198.7L284.9 198.2L287.4 197.6L290.0 196.7L287.9 196.5L287.0 196.0L284.0 195.6L282.6 194.6L289.0 194.4L289.6 193.5L292.0 193.3L291.2 192.4L290.3 191.9L293.3 191.3L294.5 190.8L290.8 190.2L293.9 189.3L294.7 189.1L291.8 188.2L294.4 187.8L293.8 187.4L296.2 186.6L296.5 185.9L291.3 185.8L294.9 185.1L298.0 184.5L296.9 183.8L294.7 183.1L296.0 182.5L295.4 181.6L298.2 181.1L295.8 180.5L300.5 180.4L300.3 180.1L302.1 179.2L301.5 178.4L301.8 178.2L302.0 177.3L301.9 176.7L298.1 176.2L302.7 175.9L300.9 175.3L298.6 174.6L305.7 173.8L303.5 173.6L301.2 172.7L304.9 172.1L305.5 171.7L305.6 171.0L308.2 170.5L304.2 170.5L308.1 169.4L305.3 169.0L308.2 168.2L309.0 167.8L307.5 167.3L313.0 166.9L306.1 166.3L307.1 165.7L309.3 165.0L309.0 165.0L312.9 164.3L310.4 163.4L314.1 163.0L311.5 162.4L314.1 161.9L314.5 161.3L313.8 161.0L315.3 160.5L315.1 159.7L318.5 159.3L319.5 158.6L315.3 158.4L317.1 157.5L318.7 157.2L318.2 156.6L321.0 155.8L322.6 155.1L315.2 154.8L318.1 154.2L321.8 153.8L320.9 153.3L319.2 152.8L320.5 152.2L321.6 152.1L324.6 151.0L320.7 150.9L323.1 150.3L325.7 149.5L325.5 149.6L323.9 148.9L324.1 148.2L322.0 147.7L322.6 147.1L324.5 146.7L327.9 145.9L328.4 145.7L329.6 145.2L329.5 144.4L329.7 143.7L329.1 143.7L328.0 143.0L331.9 142.2L329.6 142.2L327.7 141.4L332.0 140.5L331.9 140.5L336.3 139.6L332.2 138.9L333.7 138.6L331.6 138.2L335.2 137.4L335.0 137.7L333.6 136.8L335.9 136.3L333.8 135.7L337.4 135.2L336.1 134.5L338.0 134.1L336.3 133.9L337.0 133.1L338.5 132.6L340.7 132.0L340.0 132.0L336.2 131.3L341.8 130.6L341.0 130.2L342.7 129.6L344.1 129.1L344.0 129.1L341.8 127.5L342.9 127.4L344.9 127.0L346.2 126.6L343.7 125.6L344.4 125.3L344.2 125.0L347.1 124.0L345.7 124.0L351.3 123.8L349.3 122.6L350.3 121.9L349.8 122.0L348.3 121.2L345.4 121.2L352.7 120.2L351.2 119.6L348.0 119.5L356.5 119.0L353.4 118.5L355.4 118.2L352.7 117.3L350.6 116.7L352.7 116.1L355.9 115.6L351.4 115.1L354.6 114.5L358.0 113.9L358.3 113.1L357.1 113.2L353.1 112.7L357.5 111.7L360.6 111.8L360.4 110.5L358.7 110.5L360.5 110.1L361.3 109.5L360.1 109.2L360.0 108.8L360.6 108.3L360.8 107.5L362.6 107.3L363.2 106.4L364.7 105.9L365.2 105.4L364.5 104.8L361.5 104.4L366.6 103.7L364.6 103.1L369.6 103.3L366.6 102.6L371.4 102.2L369.2 101.5L371.5 100.7L369.4 100.7L370.5 100.1L369.3 99.2L369.7 99.1L370.2 98.0L372.8 98.1L370.1 97.2L374.2 97.1L372.6 96.2L374.6 96.1L372.3 95.5L374.6 95.0L372.1 94.5L374.4 94.0L375.6 93.6L374.7 93.1L376.6 92.0L377.6 91.9L378.2 91.4L375.0 90.9L378.4 90.5L379.1 90.4L378.5 89.6L378.8 88.8L384.3 88.5L382.9 88.3L383.7 87.4L384.6 87.2L381.5 86.6L383.1 86.3L381.1 85.7L385.0 85.3L381.9 84.8L384.5 84.2L387.5 84.2L387.7 83.5L385.6 83.0L386.3 82.9L390.6 82.2L389.6 81.6L388.6 81.2L390.2 80.6L390.7 80.1L389.2 80.2L390.6 79.2L388.5 79.1L393.0 78.5L393.2 77.7L395.4 77.4L395.9 76.8L393.9 76.5L397.9 76.2L394.4 75.4L397.8 74.9L395.8 74.4L396.2 74.4L395.6 73.7L398.2 73.3L402.6 72.8L399.6 72.0L400.6 72.1L399.8 71.1L401.8 70.4L402.5 70.6L402.8 69.8L404.8 69.7L403.0 69.2L404.3 68.6L406.7 68.3L405.7 67.9L403.9 67.2L407.9 66.7L407.4 66.1L405.5 65.9L406.1 65.4L407.3 64.8L409.9 64.5L409.6 64.7L411.3 63.9L414.4 63.1L413.7 63.3L411.5 62.1L410.7 62.1L414.8 61.5L411.8 61.0L412.2 60.7L413.9 60.5L415.2 60.2L414.8 59.1L416.3 58.9L411.8 58.4L416.3 58.2L417.6 57.9L419.3 57.0L419.3 56.7L418.9 56.3L424.1 56.2L422.1 55.6L422.1 55.1L422.1 54.8L423.0 54.5L421.4 54.4L421.7 54.5L424.5 53.5L422.0 53.5L426.4 53.5L425.4 52.8L427.9 53.1L427.6 52.9L426.7 52.6L427.6 52.1L428.8 52.6L432.4 52.1L433.2 51.9L431.2 52.0L432.5 51.4L431.6 51.5L436.1 51.2L434.8 51.6L434.0 51.7L433.5 51.7L437.3 51.8L440.3 52.2L438.0 52.1L437.0 52.3L437.6 52.4L438.8 53.0L436.5 53.2L442.5 54.0L441.3 54.1L441.4 54.5L441.6 55.0L443.3 55.4L443.8 56.0L444.7 56.4L445.1 56.9L445.2 57.4L445.4 57.9L446.6 58.5L446.9 59.0L447.5 59.5L447.2 60.0L447.8 60.6L447.8 61.3L447.5 62.0L447.3 62.8L447.1 63.5L447.9 64.2L448.3 64.8L447.8 65.5L446.7 66.2L447.4 66.8L446.5 67.3L446.8 67.9L446.9 68.4L445.9 69.1L444.4 69.7L445.1 70.2L444.2 70.7L444.1 71.2L443.0 71.7" fill="none" stroke="#ff0000" stroke-width="1.85" stroke-linejoin="round" stroke-linecap="round" /><path d="M120.0 439.6L120.2 439.1L119.2 438.1L120.8 437.6L119.0 437.5L117.3 436.5L123.7 436.3L122.1 435.7L118.1 434.6L120.2 434.2L121.4 433.7L123.4 433.0L125.5 432.1L124.1 432.0L123.3 431.3L125.2 430.5L124.4 430.1L125.5 429.5L124.4 429.4L123.9 428.5L128.5 427.7L126.2 427.3L127.3 426.3L126.5 426.2L127.0 425.5L127.7 425.2L129.8 424.4L131.2 424.1L130.4 423.5L128.9 422.4L135.0 422.0L132.1 421.5L132.7 420.9L130.5 420.2L131.4 419.7L133.3 419.1L129.7 418.8L131.7 418.0L134.1 417.5L138.0 417.1L135.0 416.4L132.9 415.6L133.0 414.9L137.1 414.6L134.4 413.8L135.6 413.5L139.9 412.7L137.1 411.9L136.8 411.8L136.5 410.9L140.4 410.6L140.8 409.9L137.8 409.4L137.0 408.4L139.6 408.0L142.5 407.5L141.3 407.5L138.9 406.6L141.9 405.9L143.1 405.6L142.1 404.7L142.8 404.1L142.9 403.4L142.5 403.0L142.6 401.9L141.8 401.4L142.5 401.4L142.0 400.9L146.1 400.1L146.5 399.4L146.2 399.2L147.2 398.5L147.0 397.5L146.0 397.2L148.0 396.8L147.5 396.0L148.1 395.1L145.3 394.8L148.3 394.4L150.4 393.9L149.4 393.0L149.0 392.6L148.1 392.0L150.1 391.5L154.0 390.6L151.0 390.1L154.2 389.8L152.0 389.3L155.0 388.5L152.7 388.1L154.7 387.4L155.5 386.7L155.9 386.5L153.6 385.5L155.1 384.9L154.6 384.5L156.2 384.1L156.3 383.4L156.8 382.6L158.7 381.9L156.3 381.7L157.1 381.1L157.9 380.3L158.9 379.8L158.3 379.6L160.9 378.9L158.6 377.7L163.9 377.4L161.4 377.3L163.7 376.3L160.3 375.4L162.0 375.0L163.1 374.9L166.3 373.9L163.9 373.7L166.7 372.7L163.4 372.6L167.6 371.8L164.3 371.3L162.8 370.7L162.9 370.0L167.0 369.0L166.7 369.2L167.9 368.6L167.7 368.0L169.1 367.5L171.4 366.6L168.7 366.2L170.0 365.2L169.2 364.7L167.4 364.4L170.3 363.4L173.7 363.4L170.2 362.7L175.9 362.2L173.3 361.4L173.6 361.1L174.8 360.6L173.7 359.6L174.1 359.1L176.7 358.8L173.7 357.9L175.0 357.7L173.7 356.8L176.3 356.3L181.7 356.0L179.0 355.4L175.8 354.5L174.7 354.5L179.1 353.5L179.8 352.9L177.9 352.6L181.7 351.9L180.5 351.7L181.4 350.6L181.9 349.8L182.9 349.1L180.7 348.9L180.7 348.5L184.6 348.0L182.4 347.4L181.0 347.0L184.1 346.1L183.1 345.4L184.8 345.6L190.1 344.9L188.1 343.8L184.7 343.3L183.8 342.7L186.3 342.5L185.0 341.8L187.5 340.5L188.0 340.4L189.0 339.7L188.3 339.3L186.3 338.5L188.8 338.1L189.5 337.3L190.2 337.1L192.3 336.2L188.8 336.0L190.7 334.9L190.3 334.7L190.3 334.1L193.2 333.5L191.4 332.8L196.1 332.0L189.0 331.5L196.2 330.8L193.6 330.6L192.3 329.9L195.0 329.4L195.3 328.9L197.1 327.9L198.0 327.4L194.9 326.8L196.6 326.1L197.5 325.5L197.6 324.9L197.1 324.4L200.4 324.4L198.9 323.4L196.5 322.8L199.6 322.2L199.1 321.3L199.4 321.0L201.7 320.3L201.7 319.7L201.5 319.0L202.1 318.9L203.2 317.6L201.0 317.2L202.6 316.6L204.9 316.0L202.1 315.8L202.7 315.2L202.8 314.4L206.0 313.5L203.7 313.3L206.7 312.5L204.6 311.5L206.0 311.4L206.5 310.6L205.4 310.1L205.0 309.6L208.7 309.2L206.7 308.0L208.6 307.7L209.2 307.1L206.0 306.5L210.9 305.8L209.4 305.6L209.0 304.5L209.3 304.0L209.5 303.8L211.1 302.9L214.6 302.4L211.2 302.1L209.9 300.9L211.7 300.1L216.0 299.3L213.0 299.2L216.5 298.7L212.3 297.9L212.6 297.6L212.4 297.2L213.1 296.4L214.9 295.6L215.6 294.7L212.8 294.5L214.3 293.9L215.1 293.5L216.2 292.4L219.5 291.9L220.1 291.0L218.6 290.8L219.6 290.5L217.2 290.0L219.5 289.1L216.4 288.3L219.6 288.0L220.6 287.1L221.9 286.6L220.6 286.7L221.0 285.4L219.8 285.0L218.1 284.4L221.2 284.0L219.4 283.1L222.3 282.6L222.9 282.3L221.4 281.3L221.1 280.7L224.2 280.2L223.9 279.4L226.1 278.7L227.2 278.7L228.9 277.8L228.2 277.3L225.4 277.1L227.3 276.4L231.4 275.5L226.7 275.3L228.0 274.6L231.3 273.9L230.4 273.8L228.8 272.8L230.8 272.2L229.6 271.8L232.6 271.2L231.3 270.6L232.0 270.0L232.7 269.4L229.4 269.0L232.9 268.2L234.3 267.7L234.1 267.3L233.5 266.8L234.7 266.0L237.7 265.3L236.8 265.2L235.0 264.0L238.3 263.8L237.4 263.3L236.5 262.3L234.7 261.8L239.1 261.8L236.6 261.0L239.5 260.3L241.3 259.7L241.0 259.3L238.1 258.3L239.0 258.2L242.1 257.1L243.3 256.9L241.8 256.2L242.0 255.6L245.8 255.3L245.9 254.5L243.9 254.3L243.3 253.7L245.4 253.2L242.6 252.5L245.5 251.6L246.0 251.3L248.1 250.2L247.3 250.5L243.7 249.6L250.4 249.0L248.6 247.9L244.6 248.0L245.8 247.2L250.0 246.6L247.0 245.9L251.1 244.9L248.3 244.8L247.8 244.4L253.6 243.7L254.3 243.4L251.3 242.9L254.9 242.0L253.2 241.7L253.9 240.8L253.1 240.3L255.0 239.7L256.9 239.2L257.3 239.0L258.8 238.1L258.8 237.4L257.3 237.1L255.7 236.2L258.5 235.7L258.6 235.5L257.2 235.1L256.3 234.5L257.3 233.5L256.5 233.1L258.0 232.6L260.3 232.2L262.6 231.6L261.0 230.7L260.3 230.0L260.9 229.7L261.8 228.9L264.6 229.0L263.1 228.1L260.3 227.9L263.7 227.1L261.2 226.3L263.3 225.7L265.1 224.8L263.8 224.8L265.5 224.6L268.2 223.5L265.2 223.0L268.8 222.3L268.9 221.7L269.0 221.5L266.8 221.0L270.6 220.0L269.8 219.7L270.8 218.6L270.0 218.4L272.6 217.9L268.5 217.7L271.9 216.8L273.0 216.7L276.8 215.7L269.9 215.1L270.9 214.6L273.0 214.0L274.2 213.1L272.8 212.9L275.8 212.4L274.6 212.1L275.6 211.4L273.5 210.6L276.9 210.4L276.8 209.2L279.6 208.9L278.8 208.6L280.4 207.9L278.9 207.3L277.5 206.6L280.3 205.9L277.0 205.6L277.6 205.3L279.3 204.4L282.2 204.0L283.0 203.6L278.7 202.6L281.4 202.4L284.4 201.7L282.1 200.9L280.4 200.6L283.7 200.1L286.3 199.2L283.4 198.9L283.9 198.1L288.8 197.8L286.9 197.0L284.2 196.4L288.0 195.9L289.1 195.2L286.9 194.9L288.1 194.2L289.7 194.0L289.2 193.2L291.7 192.5L291.7 191.8L291.5 191.3L292.9 190.8L290.2 190.0L289.7 189.7L289.2 189.2L290.9 188.3L290.3 188.0L292.2 187.4L294.7 186.6L296.0 185.8L295.0 185.4L295.2 184.8L295.1 184.1L295.9 183.5L294.5 183.4L294.7 182.5L294.1 181.9L296.0 181.2L297.5 180.9L297.0 180.3L298.0 179.6L301.3 179.1L299.3 178.3L299.9 178.0L299.4 177.4L300.7 176.9L298.4 176.2L301.5 175.7L302.2 175.3L303.0 174.6L299.3 173.8L301.9 173.5L304.9 173.4L304.3 172.4L301.1 172.0L302.5 171.4L302.4 170.8L305.4 170.2L306.6 169.6L305.2 169.2L303.2 168.6L306.7 168.0L303.5 167.7L309.0 166.8L306.1 166.3L306.4 165.7L306.6 164.9L308.9 164.9L309.5 164.2L310.5 163.4L310.1 163.3L310.5 162.5L312.9 161.9L314.0 161.6L312.6 160.7L313.6 160.5L314.4 159.8L313.2 159.5L313.0 158.8L312.2 158.2L314.1 157.6L318.1 157.2L314.7 156.7L314.2 156.0L316.4 155.5L317.6 155.2L318.3 154.3L316.6 153.7L319.3 153.3L318.3 152.8L318.8 152.8L319.6 151.9L318.9 151.6L319.9 151.1L322.5 150.5L320.0 150.1L321.7 149.1L323.6 148.7L323.6 148.5L324.1 147.7L322.2 147.3L322.5 146.2L324.7 145.9L324.6 145.4L323.1 145.1L326.4 144.4L327.6 144.2L329.8 143.8L327.7 143.4L328.1 142.1L327.6 141.6L329.7 141.4L329.3 141.0L333.7 140.6L329.6 140.0L333.4 139.3L331.4 139.0L330.3 138.3L333.4 138.2L333.8 137.2L336.3 137.1L335.4 136.1L334.8 135.8L334.4 135.1L334.5 134.6L335.9 134.3L336.9 133.6L335.7 133.4L336.2 132.9L338.6 132.2L337.0 131.4L338.7 131.1L338.9 130.6L338.7 130.2L342.6 128.9L342.5 129.2L341.4 128.5L339.7 128.0L342.7 127.8L342.5 127.2L343.1 126.3L343.8 126.0L343.3 125.5L348.5 125.1L346.2 124.5L345.3 124.4L346.6 123.7L345.9 123.4L345.8 122.2L346.1 122.1L348.7 121.8L350.5 120.6L351.4 120.4L350.0 119.8L350.5 119.3L347.7 118.8L347.8 118.0L350.8 117.7L353.4 117.1L354.5 116.9L352.5 116.4L351.3 116.0L353.3 115.0L354.1 114.7L353.1 114.2L354.8 113.5L357.1 113.4L355.1 112.7L356.4 112.1L360.2 111.9L358.3 111.2L358.9 111.1L357.7 109.9L360.5 109.6L357.0 109.1L362.2 108.8L360.4 107.9L359.5 107.9L360.3 106.7L361.5 106.6L358.4 106.1L362.2 105.8L363.1 105.0L361.2 104.8L364.5 103.8L366.2 103.6L362.3 103.0L364.1 102.6L366.8 101.7L369.9 101.6L366.2 101.0L367.8 100.3L366.9 100.2L368.7 99.1L369.9 99.2L368.6 98.5L371.2 98.3L376.0 97.8L373.8 96.8L371.5 96.4L372.4 95.8L370.2 94.9L372.6 95.1L372.6 94.7L372.4 93.8L371.0 93.7L377.3 92.8L376.1 92.5L373.8 91.7L377.5 91.2L378.0 90.7L375.1 90.4L379.9 90.0L374.5 89.1L380.3 89.1L377.6 88.4L380.5 88.0L377.3 87.4L381.2 86.8L383.3 86.9L384.1 86.2L382.7 85.8L383.4 85.4L382.3 85.0L383.3 84.5L384.6 84.2L383.0 83.8L386.3 83.2L385.7 82.8L387.5 82.6L388.7 81.7L387.5 81.6L386.7 80.6L389.7 80.4L388.5 79.7L390.0 79.4L390.8 79.1L389.2 78.7L392.8 78.1L390.3 77.9L392.7 77.3L394.8 77.0L394.9 75.9L395.1 76.1L398.1 75.4L395.7 74.7L396.8 74.5L398.6 74.3L394.7 73.6L397.4 72.9L400.0 73.2L400.0 72.3L398.7 72.2L401.1 71.5L401.8 71.1L401.5 70.8L403.9 70.6L400.6 69.7L404.3 69.4L403.5 68.9L404.0 68.3L401.8 68.6L409.4 68.0L401.9 67.5L406.9 67.2L407.1 66.9L411.1 67.3L407.8 67.2L409.1 67.3L410.5 67.6L412.2 67.5L413.6 67.2L413.5 67.0L409.5 67.1L412.8 67.3L415.8 67.1L415.5 67.3L416.3 67.4L416.3 67.3L417.0 67.4L417.6 67.8L418.4 68.3L419.0 68.9L419.0 69.6L419.9 70.3" fill="none" stroke="#ff0000" stroke-width="1.85" stroke-linejoin="round" stroke-linecap="round" /><path d="M119.2 442.1L118.0 441.5L120.3 440.8L119.8 440.3L117.5 439.7L122.3 439.0L120.8 438.3L122.4 438.1L124.9 437.7L122.7 436.7L120.8 436.4L121.9 435.6L125.2 435.2L121.4 434.8L124.7 434.1L125.3 433.4L123.1 432.5L125.8 432.3L126.9 431.8L125.0 431.5L125.9 430.5L128.1 430.1L125.4 429.6L126.5 429.2L130.0 428.2L129.0 428.0L126.8 427.2L129.7 426.6L133.4 425.9L127.9 425.4L132.3 425.2L132.6 424.3L131.4 423.7L133.2 423.2L131.4 423.0L135.6 422.4L136.3 421.8L132.3 421.2L133.9 420.6L134.9 419.8L134.0 419.1L136.1 419.0L134.1 418.2L137.3 417.7L136.2 417.0L137.1 416.6L138.4 416.2L139.6 415.3L136.7 414.9L140.2 414.3L140.7 413.9L139.5 413.2L142.7 412.6L139.2 411.9L140.0 411.5L142.0 410.8L140.6 410.5L144.5 409.8L142.9 409.6L145.9 408.5L141.6 407.9L142.2 407.7L146.5 407.1L142.9 406.1L146.9 406.4L144.1 405.2L146.4 404.9L148.3 404.1L146.7 403.7L145.2 403.3L146.8 402.4L150.0 402.0L148.8 401.5L150.1 401.2L149.4 400.4L150.2 400.0L149.8 399.2L148.8 398.7L151.9 398.1L151.7 397.4L148.4 396.5L152.2 396.0L154.3 395.8L156.4 395.3L151.2 394.6L154.1 393.9L155.3 393.4L156.0 392.7L154.0 392.6L156.5 391.5L155.3 391.6L156.4 390.6L156.0 390.6L157.8 389.7L157.0 388.9L158.6 388.5L158.4 387.8L160.5 387.6L162.3 386.8L159.7 386.3L159.0 385.5L160.3 385.2L160.2 384.2L158.7 383.8L162.0 383.7L161.5 382.4L164.3 382.3L163.0 382.0L165.2 381.2L165.3 380.9L163.6 380.3L164.3 379.6L164.4 378.6L165.0 378.3L167.6 377.7L165.7 377.5L166.3 376.7L166.1 376.1L170.2 375.3L167.7 375.0L168.5 374.5L167.7 373.4L170.0 373.4L168.7 372.9L169.3 372.2L167.4 371.7L168.5 371.0L172.0 370.8L173.4 369.9L169.8 369.7L173.3 369.0L173.8 368.0L179.1 367.8L172.6 367.3L173.6 366.9L173.4 366.2L177.0 365.6L177.8 365.2L176.0 364.9L179.5 363.6L180.9 363.3L177.0 363.2L179.2 362.4L178.3 361.6L178.0 361.6L178.8 361.1L179.6 360.1L178.2 359.7L180.7 359.0L182.7 358.6L180.1 358.1L181.3 357.3L181.1 356.8L183.7 356.2L183.3 355.4L185.5 355.3L183.8 354.8L182.3 354.1L186.2 353.5L185.1 353.1L188.0 352.3L187.7 351.7L182.5 351.4L184.0 350.8L187.9 350.6L186.9 349.4L184.8 349.1L188.2 348.3L191.7 348.4L191.0 347.3L188.9 347.0L191.3 345.9L192.9 345.6L191.3 345.4L195.1 344.6L191.3 344.0L196.5 343.7L195.9 343.0L194.6 342.4L194.6 341.9L194.7 341.2L193.4 341.0L197.1 340.4L198.0 339.6L197.6 339.0L197.2 338.1L197.3 337.7L195.9 337.6L196.8 336.5L195.9 336.1L199.6 336.0L197.6 335.3L201.0 334.6L198.8 334.0L202.8 333.3L203.4 332.8L203.8 332.2L203.5 331.9L201.4 331.2L201.8 330.3L201.5 330.2L203.7 329.5L206.4 329.0L202.1 328.4L208.5 327.8L203.8 327.1L203.1 326.7L206.1 326.1L207.7 325.2L205.7 324.7L204.9 324.2L210.1 323.6L205.6 323.0L209.5 322.1L208.5 322.0L208.0 321.1L209.1 320.4L207.5 319.9L207.9 319.5L210.7 318.8L208.8 317.8L209.6 317.4L213.8 316.8L214.7 316.3L213.9 315.9L214.0 315.2L212.4 315.1L213.4 314.3L212.3 313.8L209.2 313.1L214.7 312.1L215.1 311.9L216.8 310.9L213.4 310.4L217.8 310.1L215.3 309.4L214.5 309.0L216.6 308.2L218.9 307.9L217.7 307.2L218.9 306.5L217.0 305.7L219.7 305.2L220.9 304.9L218.1 304.7L220.7 303.4L218.1 303.0L221.2 302.2L218.6 301.3L222.2 301.3L221.9 300.6L220.4 300.1L223.3 299.3L221.4 298.6L223.6 298.5L222.3 297.4L225.1 297.2L223.6 296.6L227.4 295.9L226.1 295.2L226.7 294.7L223.9 293.7L223.0 293.5L225.6 292.9L230.4 292.1L226.1 291.7L230.2 291.4L230.6 291.1L227.9 289.8L228.9 289.5L231.9 288.9L229.6 288.2L229.7 287.6L229.8 287.2L231.3 286.7L231.4 285.7L234.1 285.7L232.8 284.8L234.8 284.2L233.0 283.5L237.9 283.3L233.8 282.2L234.2 281.8L233.5 281.4L232.4 280.6L234.2 280.2L236.4 279.7L234.8 279.3L238.3 278.5L234.5 277.8L234.8 277.5L238.6 276.8L239.2 276.0L237.0 275.8L241.2 275.0L242.1 274.3L240.8 274.1L238.4 273.5L243.1 272.7L240.9 272.4L241.5 271.6L243.1 271.0L241.5 270.4L245.6 270.2L242.4 269.4L245.7 269.0L245.6 268.0L247.8 267.7L246.0 266.8L247.1 266.5L245.4 266.0L246.0 265.4L245.8 264.6L248.6 264.6L246.6 263.5L250.7 263.5L248.4 262.6L247.0 262.3L248.3 261.3L251.8 261.0L249.4 260.5L251.7 260.3L248.4 259.4L252.3 259.1L253.2 258.3L253.2 257.9L254.1 257.1L251.5 256.5L250.8 256.2L251.9 255.2L255.9 254.5L255.6 254.3L256.7 254.2L254.8 253.5L257.6 252.6L254.0 252.2L257.8 251.6L255.7 251.0L257.2 250.7L259.5 249.6L260.3 249.0L258.9 248.3L259.0 248.0L262.3 247.8L262.2 247.0L259.8 246.2L261.8 245.8L261.4 245.2L263.8 245.0L263.3 244.3L263.7 243.7L263.6 243.3L262.9 242.6L266.1 242.2L265.3 241.2L261.1 240.6L264.8 240.2L266.3 240.1L265.0 238.8L265.1 238.5L266.0 238.0L268.1 237.2L266.3 236.5L268.9 236.6L271.0 235.6L270.7 235.0L271.1 234.6L269.5 233.9L272.3 233.0L270.7 232.4L272.6 232.1L269.6 231.5L274.0 231.0L271.4 230.2L272.8 230.4L274.9 229.4L273.6 229.2L273.2 228.1L274.1 227.6L276.7 227.0L277.1 226.6L276.8 226.1L275.0 225.3L275.8 224.6L278.0 224.2L278.6 223.7L276.5 223.3L277.0 222.3L279.7 221.9L280.8 221.5L279.5 221.2L277.8 220.3L282.9 219.8L280.7 219.2L281.9 218.6L277.9 218.1L280.7 217.4L282.0 216.9L283.3 216.4L281.7 216.2L281.0 215.3L281.2 215.1L283.8 214.2L285.3 213.7L285.7 212.9L282.8 212.5L284.9 212.2L286.3 211.7L288.6 210.6L288.3 210.8L288.2 209.8L285.4 209.3L290.5 208.8L288.9 208.1L289.9 207.4L288.8 207.0L290.0 206.4L290.3 206.3L290.6 205.4L290.2 204.3L293.3 204.5L294.1 203.8L292.1 203.2L292.1 202.2L292.5 202.7L293.8 201.5L297.2 200.9L295.0 200.3L298.8 200.0L294.0 199.4L294.8 198.9L295.7 198.4L296.1 197.8L298.5 197.5L301.3 196.5L297.6 196.4L299.9 195.7L302.0 195.2L304.3 194.8L301.1 194.2L302.9 193.6L303.9 193.0L302.4 192.4L303.6 191.7L302.6 191.3L302.1 190.9L303.1 190.7L306.5 189.9L307.3 189.5L306.0 188.7L304.0 188.1L308.6 187.9L307.0 187.9L310.0 186.7L308.1 186.6L306.5 185.6L308.4 185.1L308.2 184.6L312.5 184.1L306.4 183.9L309.7 183.2L310.6 182.7L308.2 182.0L312.8 181.8L313.5 181.4L314.4 180.5L314.8 179.9L313.7 179.2L315.9 178.8L314.0 178.1L315.2 178.1L316.0 177.1L316.2 176.9L317.4 175.9L315.9 175.8L317.2 175.2L316.9 174.7L318.4 174.1L319.3 173.3L317.9 173.5L322.1 172.1L323.4 172.1L321.5 171.3L321.2 170.6L320.5 170.4L321.7 170.0L322.1 169.4L324.1 168.4L323.4 168.0L325.0 167.8L325.3 167.2L324.0 166.8L323.0 166.0L323.8 165.2L324.4 164.8L326.6 164.6L329.1 163.8L326.1 163.2L329.2 163.1L328.3 162.7L331.2 161.8L333.3 161.4L331.8 160.9L331.1 160.6L331.8 159.8L333.6 159.3L331.4 158.8L331.1 158.1L333.2 158.1L336.0 157.6L332.6 156.8L336.2 156.3L336.2 155.8L334.9 155.2L334.4 154.5L333.4 154.3L334.7 153.8L337.4 153.3L338.8 152.4L337.0 152.1L337.5 151.3L337.7 151.4L343.5 150.2L337.6 150.0L337.9 149.8L342.6 148.6L339.5 148.5L343.5 147.6L340.8 147.6L344.4 146.8L345.5 146.3L342.9 145.7L344.1 145.5L343.0 144.9L346.6 144.5L345.1 144.0L344.5 143.2L347.3 142.9L347.7 142.6L347.5 142.0L347.3 141.4L350.1 140.9L347.9 140.3L348.0 139.9L349.6 139.4L351.4 139.4L350.3 138.3L350.4 137.7L350.2 137.5L351.1 136.9L351.8 136.3L356.8 136.1L350.9 135.4L353.7 134.8L355.1 134.6L353.9 134.3L353.9 133.7L357.4 133.0L359.3 132.5L359.3 132.0L357.9 131.6L357.7 130.9L360.0 130.5L356.6 129.9L358.5 129.5L362.9 128.6L361.6 128.5L361.6 127.8L361.5 127.4L361.7 127.0L361.4 126.2L364.3 125.8L364.7 125.5L365.2 125.0L360.7 124.6L367.5 124.0L367.3 123.1L369.0 123.0L365.8 122.4L363.6 122.0L365.6 121.7L366.8 121.0L372.2 120.5L368.0 119.7L369.0 119.4L372.0 119.2L372.3 118.7L373.0 117.8L371.1 117.3L375.6 117.1L373.6 116.8L372.0 116.1L374.6 116.0L372.1 115.7L372.9 114.6L374.4 114.8L374.1 114.3L375.8 113.1L376.0 112.7L376.9 112.5L376.7 112.1L380.7 111.5L377.6 111.2L378.9 110.9L378.8 110.1L379.9 109.4L379.2 109.3L385.6 109.1L382.1 108.8L384.5 108.2L383.0 107.0L381.9 106.9L383.8 106.6L384.0 106.0L383.6 105.8L386.4 105.3L389.5 105.0L387.6 104.6L389.5 103.7L390.5 103.7L385.5 102.6L392.5 102.2L387.6 101.7L393.4 101.2L391.1 101.0L392.3 100.7L395.5 99.6L394.0 99.5L389.9 99.0L390.1 98.3L391.6 97.3L395.8 97.3L395.1 96.9L396.5 95.8L396.2 95.5L398.0 95.4L394.7 94.7L393.8 94.4L396.3 93.9L399.3 93.0L396.7 92.5L395.0 92.5L398.6 91.9L401.3 91.7L401.4 91.2L400.7 90.5L401.0 90.5L398.8 90.0L402.9 89.3L406.7 89.0L403.3 88.5L407.5 88.3L403.1 88.0L405.1 87.6L405.6 87.0L406.9 86.3L404.4 86.2L410.0 85.7L408.0 85.2L405.4 84.7L410.6 84.7L410.3 84.2L408.4 83.1L410.8 83.1L412.9 82.5L413.2 82.2L413.1 81.2L411.9 81.0L414.0 80.2L416.2 79.7L418.2 79.3L416.1 79.0L416.9 78.3L417.7 77.5L416.2 77.6L414.2 77.0L416.8 76.6L418.0 75.9L419.3 75.9L419.5 75.8L418.8 75.5L419.6 75.0L420.7 74.4L420.2 74.4L420.8 73.7L419.9 73.7L422.7 73.0L424.0 72.4L423.2 72.3L424.4 71.9L425.5 71.4L424.0 70.7L425.3 70.2L425.3 70.2L428.2 69.5L426.0 69.3L428.5 68.9L425.6 67.9L432.6 67.7L431.1 66.8L429.5 67.0L431.4 66.5L435.3 66.3L432.9 65.9L430.9 65.5L434.0 65.1L433.9 64.8L436.3 64.9L436.4 64.5L434.1 64.5L437.9 64.0L439.8 63.5L441.3 63.3L440.2 63.5L443.4 62.6L443.4 62.8L443.0 62.5L445.0 62.0L438.8 62.4L445.9 62.0L446.9 61.8L445.0 61.5L447.2 61.6L445.4 61.4L447.0 61.5L447.6 61.2L446.8 61.7L448.9 61.0L447.0 61.1L450.5 60.8L454.3 61.1L455.3 60.8L452.8 61.1L456.5 61.0L454.9 60.8L452.7 60.4L454.6 60.7L456.2 60.6L457.0 60.7L458.8 60.3L457.2 60.6L458.4 60.6L461.6 60.4L460.8 60.4L462.0 60.2L461.9 60.4L463.9 59.9L464.7 59.9L462.8 60.5L466.7 59.9L464.4 59.9L466.8 59.6L466.4 59.7L468.7 59.7L468.8 59.3" fill="none" stroke="#ff0000" stroke-width="1.85" stroke-linejoin="round" stroke-linecap="round" /></g>
<g class="legend"><rect x="511" y="326.8" width="130.5" height="103.4" fill="#fff"/><line x1="519.5" y1="345.6" x2="556.7" y2="345.6" stroke="#000" stroke-width="3.5" stroke-linecap="round"/><text x="635.9" y="354.6" font-size="26" text-anchor="end">20 °C</text><line x1="519.5" y1="379.1" x2="556.7" y2="379.1" stroke="#0000ff" stroke-width="3.5" stroke-linecap="round"/><text x="638" y="387.9" font-size="26" text-anchor="end">-20 °C</text><line x1="519.5" y1="411.8" x2="556.7" y2="411.8" stroke="#ff0000" stroke-width="3.5" stroke-linecap="round"/><text x="638" y="420.9" font-size="26" text-anchor="end">-60 °C</text></g>
<g class="axes"><rect x="118.5" y="13.3" width="544.5" height="429.7" fill="none" stroke="#000" stroke-width="2.8"/><line x1="118.5" y1="443" x2="118.5" y2="457.8" stroke="#000" stroke-width="2.8"/><line x1="186.56" y1="443" x2="186.56" y2="449.2" stroke="#000" stroke-width="2.8"/><line x1="254.62" y1="443" x2="254.62" y2="457.8" stroke="#000" stroke-width="2.8"/><line x1="322.69" y1="443" x2="322.69" y2="449.2" stroke="#000" stroke-width="2.8"/><line x1="390.75" y1="443" x2="390.75" y2="457.8" stroke="#000" stroke-width="2.8"/><line x1="458.81" y1="443" x2="458.81" y2="449.2" stroke="#000" stroke-width="2.8"/><line x1="526.88" y1="443" x2="526.88" y2="457.8" stroke="#000" stroke-width="2.8"/><line x1="594.94" y1="443" x2="594.94" y2="449.2" stroke="#000" stroke-width="2.8"/><line x1="663" y1="443" x2="663" y2="457.8" stroke="#000" stroke-width="2.8"/><line x1="118.5" y1="443" x2="103.7" y2="443" stroke="#000" stroke-width="2.8"/><line x1="118.5" y1="389.29" x2="112.3" y2="389.29" stroke="#000" stroke-width="2.8"/><line x1="118.5" y1="335.57" x2="103.7" y2="335.57" stroke="#000" stroke-width="2.8"/><line x1="118.5" y1="281.86" x2="112.3" y2="281.86" stroke="#000" stroke-width="2.8"/><line x1="118.5" y1="228.15" x2="103.7" y2="228.15" stroke="#000" stroke-width="2.8"/><line x1="118.5" y1="174.44" x2="112.3" y2="174.44" stroke="#000" stroke-width="2.8"/><line x1="118.5" y1="120.73" x2="103.7" y2="120.73" stroke="#000" stroke-width="2.8"/><line x1="118.5" y1="67.01" x2="112.3" y2="67.01" stroke="#000" stroke-width="2.8"/><line x1="118.5" y1="13.3" x2="103.7" y2="13.3" stroke="#000" stroke-width="2.8"/></g>
<g class="labels" font-size="28"><text x="118.8" y="489.5" text-anchor="middle">0.0</text><text x="254.93" y="489.5" text-anchor="middle">1.5</text><text x="391.05" y="489.5" text-anchor="middle">3.0</text><text x="527.17" y="489.5" text-anchor="middle">4.5</text><text x="663.3" y="489.5" text-anchor="middle">6.0</text><text x="93.5" y="451.1" text-anchor="end">0</text><text x="93.5" y="343.68" text-anchor="end">20</text><text x="93.5" y="236.25" text-anchor="end">40</text><text x="93.5" y="128.83" text-anchor="end">60</text><text x="93.5" y="21.4" text-anchor="end">80</text><text x="391.45" y="528" text-anchor="middle">Strain (x10<tspan font-size="18" dy="-10.5">-3</tspan><tspan dy="10.5"> mm/mm)</tspan></text><text transform="translate(37.7 227.75) rotate(-90)" text-anchor="middle">Stress (MPa)</text><text x="374.75" y="575" font-size="32" text-anchor="middle">(a)</text></g>
</g>
<g id="chart-b">
<g class="grid"><line x1="186.56" y1="1082.2" x2="186.56" y2="652.4" stroke="#bdbdbd" stroke-width="1.3" stroke-dasharray="9.2 8.8"/><line x1="322.69" y1="1082.2" x2="322.69" y2="652.4" stroke="#bdbdbd" stroke-width="1.3" stroke-dasharray="9.2 8.8"/><line x1="458.81" y1="1082.2" x2="458.81" y2="652.4" stroke="#bdbdbd" stroke-width="1.3" stroke-dasharray="9.2 8.8"/><line x1="594.94" y1="1082.2" x2="594.94" y2="652.4" stroke="#bdbdbd" stroke-width="1.3" stroke-dasharray="9.2 8.8"/><line x1="118.5" y1="1028.48" x2="663" y2="1028.48" stroke="#bdbdbd" stroke-width="1.3" stroke-dasharray="9.2 8.8"/><line x1="118.5" y1="921.03" x2="663" y2="921.03" stroke="#bdbdbd" stroke-width="1.3" stroke-dasharray="9.2 8.8"/><line x1="118.5" y1="813.58" x2="663" y2="813.58" stroke="#bdbdbd" stroke-width="1.3" stroke-dasharray="9.2 8.8"/><line x1="118.5" y1="706.12" x2="663" y2="706.12" stroke="#bdbdbd" stroke-width="1.3" stroke-dasharray="9.2 8.8"/><line x1="254.62" y1="1082.2" x2="254.62" y2="652.4" stroke="#8c8c8c" stroke-width="1.3"/><line x1="390.75" y1="1082.2" x2="390.75" y2="652.4" stroke="#8c8c8c" stroke-width="1.3"/><line x1="526.88" y1="1082.2" x2="526.88" y2="652.4" stroke="#8c8c8c" stroke-width="1.3"/><line x1="118.5" y1="974.75" x2="663" y2="974.75" stroke="#8c8c8c" stroke-width="1.3"/><line x1="118.5" y1="867.3" x2="663" y2="867.3" stroke="#8c8c8c" stroke-width="1.3"/><line x1="118.5" y1="759.85" x2="663" y2="759.85" stroke="#8c8c8c" stroke-width="1.3"/></g>
<clipPath id="clip2"><rect x="118.5" y="650.4" width="544.5" height="431.8"/></clipPath>
<g class="curves" clip-path="url(#clip2)"><path d="M118.5 1082.2L118.5 1081.3L118.5 1080.2L118.7 1079.1L118.5 1078.2L118.6 1077.1L118.7 1076.2L118.9 1075.1L118.6 1074.3L118.7 1073.0L118.8 1072.4L118.8 1071.3L118.8 1070.1L118.7 1069.2L118.7 1068.1L118.7 1067.3L118.9 1066.1L118.9 1065.1L119.0 1064.1L118.9 1063.2L119.1 1062.3L119.0 1061.3L119.0 1060.0L119.0 1059.2L118.9 1058.1L119.0 1057.1L119.0 1056.4L119.2 1055.2L119.1 1054.2L119.0 1053.1L119.2 1052.3L119.2 1051.4L119.0 1050.1L118.9 1049.2L119.2 1047.8L119.3 1047.1L119.2 1046.1L119.3 1045.1L119.3 1044.2L119.4 1043.1L119.2 1042.2L119.3 1040.9L119.5 1040.1L119.5 1039.0L119.1 1037.9L119.6 1037.3L119.7 1036.1L119.4 1035.1L119.6 1034.5L119.4 1033.1L119.5 1032.5L119.5 1031.1L119.5 1030.2L119.7 1029.1L119.7 1028.0L119.7 1027.0L119.7 1026.1L119.4 1025.3L119.7 1024.0L119.5 1023.1L119.7 1021.8L119.7 1021.0L119.6 1020.0L119.8 1019.1L119.6 1018.2L119.8 1017.1L120.0 1016.1L119.8 1015.0L119.9 1013.9L119.7 1013.1L120.0 1012.2L119.7 1010.9L119.9 1010.3L119.8 1009.2L120.1 1008.0L119.9 1007.1L120.0 1006.1L120.1 1005.1L120.2 1003.9L120.2 1003.0L120.1 1002.1L120.4 1001.0L120.3 1000.2L120.2 998.9L120.5 998.1L120.2 997.2L120.3 996.1L120.5 995.1L120.4 994.1L120.4 993.2L120.4 992.0L120.3 991.2L120.4 990.2L120.5 988.9L120.4 988.0L120.3 987.1L120.5 985.8L120.8 985.0L120.7 984.0L120.9 982.9L120.6 982.0L120.6 981.1L120.6 980.0L120.9 979.0L120.6 978.1L120.8 977.0L120.9 976.2L120.6 975.1L120.8 974.1L120.8 973.0L120.9 972.3L121.0 971.0L120.8 970.1L121.0 968.7L120.9 968.1L121.0 967.0L121.0 965.9L120.9 964.9L120.9 964.0L121.1 962.9L121.1 962.0L121.4 961.1L121.3 959.8L121.3 959.0L121.1 957.9L121.4 956.9L121.4 956.0L121.3 955.0L121.5 953.9L121.4 953.2L121.4 951.8L121.4 950.9L121.3 949.9L121.6 948.9L121.3 948.2L121.5 947.0L121.3 945.8L121.5 944.9L121.4 944.0L121.7 942.9L121.5 941.8L121.5 941.0L121.5 939.7L121.6 938.7L121.6 938.1L121.8 937.0L121.7 936.0L121.6 935.0L121.9 933.6L121.8 933.2L121.9 932.0L122.0 930.9L121.7 930.0L121.8 928.9L121.9 928.1L122.1 927.0L122.1 925.8L121.8 924.9L121.8 923.9L122.2 922.8L122.1 921.7L122.2 920.8L122.3 920.0L121.9 919.0L122.3 917.8L122.2 916.8L122.2 915.8L122.5 915.0L122.3 913.7L122.2 913.0L122.2 911.8L122.6 910.8L122.5 909.8L122.3 908.9L122.5 907.8L122.5 906.8L122.3 906.0L122.6 905.0L122.5 903.9L122.8 902.9L122.6 902.0L122.7 900.9L122.4 899.7L122.6 898.9L122.6 897.8L123.0 896.8L122.8 896.0L122.9 894.8L122.8 893.7L122.9 892.8L123.0 891.9L123.3 891.2L123.0 889.8L123.3 888.8L123.3 887.8L123.2 886.8L123.3 886.0L123.4 885.0L123.2 883.8L123.3 882.9L123.3 881.8L123.4 880.9L123.5 879.9L123.8 879.0L123.6 877.7L123.7 876.7L123.4 875.8L123.8 874.6L123.6 873.7L123.9 873.0L123.9 871.8L124.0 870.9L123.9 869.7L124.0 868.9L124.0 867.7L124.0 867.0L124.2 865.9L124.1 864.7L124.2 863.9L124.4 862.7L124.5 862.0L124.0 861.0L124.5 859.8L124.5 858.9L125.0 857.9L124.2 856.7L124.8 856.1L124.9 854.8L124.9 853.7L125.2 852.6L125.1 851.9L125.2 850.7L125.0 849.8L125.4 849.0L125.6 848.0L125.8 846.9L125.8 845.9L126.1 844.8L126.2 843.8L126.0 842.9L126.4 841.9L126.3 841.0L126.5 839.6L127.0 839.0L127.3 838.0L127.5 837.0L127.8 836.0L128.3 835.0L129.0 834.0L129.5 833.6L130.5 833.1L131.4 832.9L132.2 833.0L133.4 832.6L134.4 832.5L135.5 832.4L136.4 832.5L137.4 832.4L138.3 831.9L139.3 832.1L140.4 831.4L141.2 830.8L142.3 830.1L142.9 830.0L143.1 830.4L143.1 831.3L143.1 832.4L143.6 833.6L143.5 835.1L143.7 836.4L143.6 837.8L143.7 838.7L143.7 839.2L143.8 839.3L144.2 838.5L144.5 837.4L144.7 836.3L144.9 834.9L145.2 833.7L145.8 832.8L146.4 832.4L147.3 831.7L148.3 831.7L149.5 831.6L150.4 831.3L151.2 831.4L152.3 831.3L153.6 831.2L154.4 831.2L155.1 831.7L156.2 832.4L157.2 832.7L158.2 832.8L159.1 833.4L160.0 833.5L161.1 833.5L162.1 833.5L163.1 833.1L164.2 833.0L164.7 832.5L166.0 832.4L167.3 832.1L168.2 832.2L168.7 831.6L168.8 830.8L168.8 829.5L168.8 828.3L169.4 827.7L170.0 827.0L171.0 826.4L171.7 825.7L172.6 825.2L173.4 824.4L174.2 823.8L175.1 823.0L175.8 822.6L176.4 822.0L177.2 821.3L178.0 820.7L178.7 819.6L179.6 819.2L180.1 818.6L181.0 817.6L181.9 816.9L182.4 816.6L183.2 815.9L184.1 815.2L184.4 814.5L185.5 813.9L186.2 813.3L187.3 812.5L188.0 812.1L188.7 811.2L189.5 810.7L190.2 810.0L191.1 809.3L191.8 809.1L192.6 808.4L193.2 807.7L193.9 806.8L194.7 806.4L195.7 805.8L196.5 805.2L197.4 804.7L197.9 804.1L199.1 803.2L199.7 802.8L200.4 802.2L201.5 801.7L202.2 801.0L203.0 800.5L204.0 800.2L204.9 799.4L205.6 799.0L206.6 798.4L207.5 797.8L208.2 797.4L209.2 796.7L209.9 796.2L210.6 795.7L211.6 795.2L212.5 794.8L213.3 794.2L214.1 793.7L215.1 793.2L215.7 792.5L216.6 792.2L217.6 791.4L218.4 791.0L219.3 790.5L220.1 789.8L221.3 789.4L221.6 789.0L222.7 788.5L223.8 788.2L224.4 787.5L225.3 787.0L226.3 786.7L227.0 785.8L228.0 785.6L228.7 785.2L229.7 784.4L230.6 783.8L231.5 783.6L232.3 783.1L233.1 782.6L234.1 782.1L234.6 781.7L235.8 781.2L236.7 780.7L237.6 780.1L238.7 779.7L239.4 779.2L240.3 778.9L241.5 778.4L242.2 778.1L242.9 777.7L243.8 777.0L244.7 776.6L245.6 775.9L246.6 775.4L247.6 775.3L248.2 774.8L249.2 774.4L250.3 774.1L250.9 773.5L251.9 773.0L253.0 772.4L253.7 772.0L254.5 772.0L255.7 771.4L256.5 771.0L257.7 770.9L258.4 770.4L259.5 770.2L260.3 769.7L261.5 769.5L262.2 769.2L263.3 768.8L264.1 768.4L265.1 768.0L266.2 767.9L266.9 767.4L268.1 767.0L268.8 766.8L270.0 766.8L271.1 766.5L272.0 766.2L272.8 766.0L273.8 765.6L274.4 765.4L275.9 765.1L276.4 765.0L277.7 764.5L278.6 764.2L279.5 764.1L280.6 763.7L281.4 763.7L282.7 763.1L283.7 763.2L284.5 762.7L285.4 762.5L286.3 762.6L287.4 761.9L288.3 761.8L289.2 761.6L290.4 761.3L291.2 761.2L292.2 760.9L293.1 760.7L294.3 760.6L295.0 760.3L296.0 760.4L297.0 760.1L298.3 759.8L299.1 759.3L300.1 759.3L301.1 759.2L301.9 759.3L303.2 758.8L304.0 758.8L304.7 758.2L306.0 758.2L306.9 758.1L307.8 757.8L309.1 757.6L309.9 757.7L311.1 757.5L312.1 757.3L313.0 757.1L313.9 756.8L314.9 757.0L315.9 756.7L316.9 756.4L317.8 756.2L318.9 756.2L319.7 755.9L320.7 755.8L321.9 755.8L322.8 755.4L323.8 755.6L324.9 755.5L325.8 755.1L326.6 754.9L327.9 754.8L328.7 754.8L329.9 754.6L330.7 754.6L331.7 754.4L332.5 754.3L333.8 754.2L334.7 754.0L335.5 754.0L336.6 753.8L337.5 753.7L338.7 753.5L339.7 753.5L340.7 753.1L341.8 753.1L342.8 752.9L343.7 753.0L344.7 752.7L345.6 752.6L346.6 752.3L347.7 752.4L348.7 752.5L349.6 752.1L350.8 752.0L351.8 752.0L352.7 751.8L353.7 751.7L354.8 751.8L355.8 751.4L356.7 751.3L357.6 751.3L358.6 751.3L359.5 751.2L360.4 751.0L361.6 751.0L362.6 750.6L363.7 750.9L364.4 750.8L365.6 750.8L366.6 750.3L367.9 750.4L368.5 750.5L369.8 750.5L370.5 750.5L371.6 750.2L372.5 750.1L373.6 749.9L374.5 749.8L375.5 750.1L376.7 749.7L377.7 749.8L378.7 749.9L379.6 749.7L380.7 749.5L381.7 749.3L382.5 749.3L383.8 749.5L384.5 749.1L385.6 749.3L386.6 749.5L387.6 749.1L388.7 749.3L389.6 749.1L390.5 748.9L391.7 749.0L392.6 748.7L393.8 748.9L394.8 748.7L395.8 748.8L396.6 748.4L397.3 748.6L398.6 748.5L399.6 748.6L400.5 748.5L401.7 748.5L402.7 748.3L403.5 748.4L404.8 748.2L405.5 748.4L406.8 748.0L407.4 748.0L408.6 748.1L409.5 748.1L410.6 748.2L411.4 748.0L412.6 747.8L413.6 747.8L414.6 747.7L415.8 748.0L416.4 747.8L417.5 747.8L418.5 747.8L419.9 747.7L420.6 747.6L421.5 747.7L422.5 747.6L423.7 747.6L424.6 747.9L425.5 747.5L426.7 747.6L427.5 747.4L428.7 747.7L429.6 747.6L430.7 747.5L431.7 747.4L432.7 747.4L433.5 747.6L434.6 747.4L435.6 747.5L436.6 747.6L437.5 747.4L438.7 747.3L439.7 747.1L440.4 747.5L441.6 747.5L442.7 747.5L443.7 747.4L444.5 747.4L445.7 747.4L446.5 747.3L447.6 747.3L448.8 747.5L449.7 747.2L450.4 747.5L451.8 747.4L452.7 747.5L453.5 747.1L454.7 747.2L455.6 747.4L457.0 747.1L457.5 747.3L458.7 747.2L459.8 747.2L460.7 747.3L461.6 747.5L463.0 747.2L463.7 747.3L464.8 747.5L465.7 747.2L466.7 747.4L467.7 747.3L468.7 747.5L469.7 747.3L470.8 747.4L471.7 747.7L472.6 747.4L473.7 747.6L474.9 747.6L475.4 747.7L476.6 747.7L477.7 747.9L478.9 747.8L479.7 748.0L480.5 748.1L481.6 748.1L482.8 748.6L483.8 748.5L484.6 748.7" fill="none" stroke="#000" stroke-width="1.4" stroke-linejoin="round" stroke-linecap="round" /><path d="M118.5 1082.3L118.6 1081.1L118.6 1080.3L118.7 1079.1L118.5 1078.2L118.8 1077.2L118.7 1076.3L118.6 1075.3L118.6 1074.4L118.6 1073.2L118.7 1072.2L118.9 1071.2L118.9 1070.5L118.8 1069.2L118.8 1068.2L119.1 1067.2L119.0 1066.0L118.8 1065.3L118.9 1064.2L118.9 1063.2L119.0 1062.1L119.1 1061.1L118.9 1060.1L119.0 1059.0L119.1 1058.1L119.1 1057.3L119.0 1056.2L119.0 1055.1L119.3 1054.2L119.1 1053.1L119.1 1052.1L119.2 1051.1L119.1 1050.2L119.1 1049.4L119.4 1048.1L119.4 1047.1L119.1 1046.2L119.3 1045.0L119.1 1044.3L119.1 1043.3L119.3 1042.1L119.5 1041.1L119.3 1040.1L119.5 1039.2L119.3 1038.0L119.4 1036.9L119.4 1036.1L119.5 1035.0L119.6 1034.3L119.6 1033.1L119.4 1032.1L119.4 1031.1L119.5 1030.0L119.6 1029.0L119.5 1028.3L119.4 1027.3L119.4 1025.9L119.8 1025.1L119.7 1024.0L119.6 1023.2L119.8 1022.2L119.8 1021.0L119.7 1020.2L119.7 1019.0L119.9 1018.1L119.9 1017.3L120.0 1016.1L120.0 1015.1L119.9 1014.2L119.9 1013.0L119.9 1012.1L119.9 1011.0L120.0 1009.9L120.0 1009.0L120.2 1008.1L120.2 1006.8L120.1 1005.8L120.1 1005.0L120.0 1004.0L120.1 1003.0L120.0 1002.2L120.2 1001.4L120.1 1000.0L120.1 999.1L120.2 998.0L120.1 997.2L120.3 995.8L120.4 995.2L120.5 993.8L120.2 993.1L120.3 992.1L120.2 990.9L120.6 990.0L120.4 989.2L120.5 988.0L120.3 987.0L120.5 985.9L120.5 985.0L120.4 983.8L120.5 983.2L120.5 982.0L120.5 981.1L120.5 980.1L120.9 979.0L120.7 978.1L120.8 977.1L120.8 976.2L120.8 974.6L120.8 974.2L120.9 973.2L120.8 972.0L121.0 971.0L120.9 970.0L121.1 969.1L120.8 967.7L121.0 967.2L121.1 965.8L121.2 965.3L121.2 964.0L120.9 963.1L121.0 962.0L121.3 960.9L121.1 959.8L121.0 958.9L121.3 958.1L121.3 956.9L121.1 955.9L121.2 954.9L121.4 953.8L121.2 952.9L121.3 952.1L121.3 951.1L121.5 950.3L121.2 948.8L121.4 947.8L121.4 946.9L121.5 945.7L121.6 945.0L121.5 944.1L121.6 943.0L121.6 941.9L121.7 940.7L121.3 939.9L121.6 938.8L121.6 938.0L121.5 936.9L121.8 935.6L121.8 934.7L121.5 933.8L121.7 932.9L121.9 932.0L121.8 930.7L121.8 929.8L121.9 928.9L121.9 927.7L121.8 926.8L121.9 925.8L122.1 924.8L122.1 924.0L121.9 922.9L122.0 921.7L122.2 921.0L122.2 919.8L122.1 918.8L122.1 918.0L122.2 916.9L122.3 915.8L122.0 914.8L122.4 913.8L122.2 913.0L122.2 911.9L122.3 910.8L122.3 909.7L122.3 908.9L122.5 907.7L122.4 906.8L122.6 905.9L122.4 904.7L122.7 903.8L122.5 902.7L122.7 901.7L122.6 900.8L122.8 899.9L122.6 898.7L122.8 897.7L123.0 897.0L123.0 896.0L122.8 894.9L123.0 893.8L123.1 892.8L123.1 891.9L123.2 890.8L123.2 889.8L122.8 888.9L123.2 888.1L123.6 886.9L123.2 885.8L123.2 884.9L123.3 883.8L123.2 882.7L123.3 881.8L123.4 880.8L123.7 880.0L123.5 878.9L123.6 877.8L123.6 876.7L123.5 875.9L123.6 875.0L123.6 873.9L123.9 872.7L123.8 871.8L123.7 870.5L123.9 869.8L124.2 868.9L124.0 867.6L124.1 866.8L124.2 865.7L124.1 864.7L124.1 863.7L124.5 863.0L124.0 861.9L124.4 860.8L124.4 859.8L124.5 859.1L124.6 857.8L124.9 856.8L125.0 855.5L124.9 854.9L124.8 853.8L125.0 852.7L125.1 851.7L125.1 850.8L125.2 849.8L125.6 848.7L125.7 847.8L125.5 846.8L125.7 845.7L125.9 845.1L125.9 843.9L126.2 842.7L126.3 841.8L126.4 840.6L126.4 839.5L126.7 838.3L126.7 837.1L127.1 836.4L127.7 836.2L128.2 835.9L129.5 835.3L130.6 834.8L131.6 834.9L132.3 835.0L133.4 835.0L134.3 834.8L135.6 834.7L136.5 834.5L137.3 834.3L138.3 834.2L139.4 834.1L140.6 834.2L141.3 834.8L142.4 835.3L143.1 835.8L143.9 835.3L144.9 835.0L145.5 833.9L146.3 833.8L147.6 833.3L148.5 833.2L149.3 833.0L150.5 833.0L151.5 832.8L152.5 832.9L153.3 832.8L154.4 832.9L155.1 833.1L156.1 833.4L157.4 833.6L158.2 834.1L159.2 834.2L160.1 834.8L161.1 835.0L162.0 835.0L163.2 834.5L164.1 834.6L164.9 834.2L166.1 833.9L167.1 833.3L167.8 832.8L168.5 832.2L168.8 831.1L169.2 830.3L169.9 829.3L170.4 828.6L171.0 828.1L171.9 827.3L172.8 826.8L173.9 826.4L174.5 825.7L175.1 824.9L175.9 824.3L176.7 823.6L177.4 822.9L178.2 822.2L178.8 821.7L179.5 821.0L180.4 820.0L181.2 819.7L181.9 818.9L182.4 818.1L183.3 817.5L184.2 816.8L184.9 816.2L185.6 815.6L186.4 815.1L187.1 814.6L188.0 813.7L188.7 813.1L189.6 812.2L190.3 811.7L191.1 811.2L191.9 810.5L192.7 809.7L193.4 809.4L194.2 808.7L195.1 807.8L195.8 807.5L196.5 806.7L197.3 806.0L198.1 805.5L199.0 805.0L199.9 804.6L200.8 804.0L201.6 803.3L202.4 803.0L203.4 802.3L204.1 801.8L204.8 801.0L205.7 800.7L206.5 800.1L207.4 799.4L208.4 799.2L209.5 798.6L210.1 798.0L210.9 797.4L211.6 796.8L212.6 796.5L213.6 795.9L214.1 795.4L215.1 794.8L216.0 794.3L216.9 793.6L217.9 793.2L218.5 792.7L219.4 792.1L220.1 791.6L221.0 791.1L221.8 790.6L222.8 790.1L223.7 789.4L224.6 789.1L225.5 788.5L226.2 787.8L227.0 787.4L227.9 787.1L228.8 786.5L229.7 786.1L230.5 785.7L231.5 785.3L232.2 784.7L233.2 783.7L234.1 783.6L235.1 782.9L236.0 782.7L236.7 782.2L237.7 781.9L238.8 781.4L239.5 781.0L240.2 780.4L241.5 779.9L242.0 779.5L243.1 779.0L243.8 778.5L244.9 778.3L245.7 777.6L246.7 777.2L247.5 776.8L248.2 776.3L249.1 776.0L250.1 775.6L251.2 774.9L252.1 774.7L253.1 774.3L254.0 773.8L255.0 773.3L255.6 773.3L256.5 772.7L257.4 772.4L258.6 771.8L259.4 771.8L260.4 771.2L261.5 770.8L262.2 770.5L263.1 770.2L264.0 769.8L265.2 769.6L266.2 769.3L267.0 769.2L267.9 768.9L268.9 768.6L270.0 768.3L271.0 768.2L271.7 767.6L272.7 767.5L273.9 767.2L274.8 766.9L275.7 766.3L276.6 766.3L277.7 766.2L278.6 765.6L279.4 765.4L280.4 765.2L281.6 765.0L282.5 764.7L283.5 764.4L284.2 764.0L285.5 764.0L286.4 763.7L287.3 763.4L288.3 763.2L289.3 763.1L290.2 762.5L291.0 762.4L292.1 762.5L293.3 762.2L294.2 761.8L295.1 762.0L296.2 761.5L297.3 761.4L298.1 761.3L299.2 760.9L300.0 760.9L300.9 760.7L302.2 760.4L303.0 760.1L304.1 760.3L305.1 759.9L306.2 760.0L306.9 759.7L308.1 759.5L308.9 759.3L309.8 759.0L310.8 759.0L312.0 758.7L312.8 758.8L314.2 758.7L315.1 758.2L316.0 758.1L316.9 757.9L318.0 758.0L318.8 757.8L319.8 757.7L320.8 757.4L321.9 757.4L322.9 757.0L323.9 757.1L324.7 756.9L325.9 756.8L327.0 756.6L327.9 756.2L328.5 756.5L329.7 756.1L330.8 756.2L331.9 755.9L332.8 756.0L333.9 755.8L334.7 755.7L335.7 755.5L336.7 755.5L337.9 755.3L338.5 754.9L339.7 755.2L340.5 754.9L341.9 754.8L342.8 754.6L343.6 754.6L344.8 754.3L345.8 754.2L346.7 754.1L347.7 754.2L348.7 753.8L349.7 753.6L350.5 753.6L351.6 753.5L352.8 753.4L353.7 753.3L354.9 753.3L355.8 753.2L356.7 753.0L357.4 753.3L358.6 753.0L359.7 752.9L360.9 752.7L361.7 752.5L362.5 752.5L363.8 752.2L364.8 752.2L365.8 752.2L366.8 752.0L367.5 752.3L368.7 752.2L369.7 751.9L370.8 751.7L371.6 751.9L372.8 751.7L373.8 751.6L374.4 751.6L375.7 751.4L376.7 751.4L377.6 751.6L378.6 751.4L379.7 751.3L380.9 751.4L381.7 751.2L382.5 751.2L383.6 750.9L384.7 750.8L385.4 750.9L386.7 750.7L387.6 750.6L388.6 750.9L389.5 750.6L390.7 750.4L391.5 750.5L392.5 750.5L393.7 750.4L394.8 750.4L395.6 750.4L396.6 750.1L397.8 750.2L398.7 750.2L399.7 750.2L400.8 750.1L401.8 749.9L402.5 750.0L403.5 749.8L404.9 749.9L405.6 749.9L406.4 749.7L407.6 749.8L408.7 749.7L409.8 749.6L410.9 749.6L411.7 749.6L412.4 749.6L413.6 749.3L414.8 749.5L415.9 749.4L416.7 749.5L417.6 749.1L418.6 749.4L419.5 749.2L420.6 749.2L422.0 749.1L422.9 749.4L423.6 749.0L424.6 749.3L425.8 749.0L426.8 749.2L427.8 749.0L428.5 749.1L429.7 749.3L430.6 749.2L431.8 748.9L432.4 749.1L433.8 748.7L434.6 749.1L435.8 748.8L436.7 749.1L437.9 749.0L438.7 749.1L439.7 748.9L440.7 749.1L441.9 749.0L442.6 749.2L443.8 748.9L444.8 748.9L445.6 748.8L446.8 748.9L447.7 749.0L448.9 748.9L449.7 748.9L450.8 748.9L451.6 748.9L452.6 748.9L453.8 749.1L454.9 748.9L455.9 749.2L456.4 749.0L458.0 749.0L458.8 748.8L459.8 748.8L461.1 748.8L461.9 749.0L462.8 748.8L463.7 748.9L464.8 748.9L465.9 749.2L466.5 748.9L467.8 749.2L468.7 749.2L469.7 749.2L470.9 749.4L471.8 749.3L472.6 749.1L473.7 749.4L474.9 749.2L476.1 749.3L476.9 749.1L477.6 749.2L478.2 749.7L478.6 751.1" fill="none" stroke="#000" stroke-width="1.4" stroke-linejoin="round" stroke-linecap="round" /><path d="M118.6 1082.1L118.5 1081.3L118.7 1080.2L118.8 1079.0L118.4 1078.3L118.5 1077.1L118.7 1076.3L118.7 1075.1L118.7 1074.1L118.6 1073.2L118.9 1072.3L118.9 1071.2L118.8 1070.0L119.0 1069.2L118.9 1068.1L118.7 1067.2L118.9 1066.0L118.8 1065.2L119.0 1064.1L118.9 1063.0L118.9 1062.2L118.9 1061.2L119.1 1060.1L119.0 1059.3L119.0 1058.1L119.0 1057.2L119.1 1056.2L119.1 1055.1L119.1 1054.2L119.2 1053.1L119.4 1052.1L119.1 1051.3L119.1 1050.0L119.1 1048.9L119.3 1048.3L119.4 1047.4L119.2 1046.1L119.2 1044.9L119.2 1044.1L119.4 1043.1L119.4 1042.1L119.4 1041.0L119.3 1040.2L119.4 1039.2L119.4 1037.9L119.4 1037.2L119.5 1036.4L119.5 1035.1L119.6 1034.1L119.5 1033.1L119.5 1032.2L119.6 1030.9L119.4 1030.1L119.5 1029.1L119.5 1028.3L119.5 1027.1L119.6 1026.3L119.8 1025.0L119.6 1024.2L119.8 1023.1L119.5 1022.0L119.7 1021.1L119.8 1020.2L119.9 1019.0L119.9 1017.9L119.9 1017.1L119.8 1016.0L119.8 1015.0L120.0 1014.1L119.9 1012.9L119.8 1011.9L119.8 1011.1L119.9 1010.0L120.1 1008.8L120.0 1008.2L120.1 1007.1L120.0 1006.0L120.1 1004.9L120.2 1004.2L120.1 1003.1L120.2 1002.3L120.1 1001.1L120.2 1000.1L120.2 999.0L120.1 998.2L120.3 997.1L120.2 996.2L120.3 995.0L120.4 994.0L120.4 993.0L120.5 992.1L120.4 991.2L120.4 990.0L120.5 989.0L120.3 988.1L120.3 987.0L120.4 986.1L120.4 984.8L120.6 983.9L120.5 982.9L120.6 981.7L120.8 980.9L120.6 979.9L120.8 979.0L120.6 978.2L120.7 977.0L120.7 975.9L120.8 975.0L120.9 974.1L120.6 972.9L120.9 971.9L120.9 971.1L120.8 970.0L120.8 969.1L121.0 968.0L120.9 967.1L121.0 965.9L121.0 965.0L121.2 964.0L121.0 962.8L121.0 961.8L121.1 961.1L121.2 959.9L121.3 958.9L121.3 958.0L121.3 957.1L121.4 955.7L121.1 954.8L121.2 953.9L121.2 953.1L121.3 952.0L121.2 951.1L121.5 949.8L121.4 948.8L121.2 948.0L121.3 947.0L121.5 946.0L121.6 944.9L121.8 944.0L121.9 943.0L121.6 942.0L121.5 941.0L121.4 939.8L121.7 938.7L121.6 938.1L121.6 937.1L121.6 935.8L121.7 934.7L121.9 933.9L121.8 933.0L121.8 932.1L121.7 931.0L121.6 929.9L121.8 928.8L121.9 927.9L122.1 926.9L122.0 925.8L122.1 925.2L121.9 924.1L121.9 923.0L121.9 921.8L122.0 921.0L122.4 920.0L122.0 919.0L122.3 918.1L122.1 917.0L122.3 916.0L122.3 915.0L122.3 913.9L122.3 912.7L122.3 911.9L122.4 910.8L122.3 909.7L122.3 909.1L122.3 908.1L122.5 907.0L122.7 905.9L122.6 905.0L122.6 903.9L122.6 902.9L122.8 901.7L122.7 900.9L122.7 899.9L122.9 898.7L122.8 897.9L123.0 896.9L122.9 896.1L122.7 895.0L122.7 893.9L123.1 892.9L123.2 891.9L123.0 890.8L123.0 889.7L123.3 888.8L123.0 887.8L123.1 886.7L123.3 885.9L123.2 884.9L123.3 883.6L123.3 882.8L123.4 882.0L123.6 881.0L123.5 880.0L123.6 878.9L123.3 877.8L123.6 876.7L123.5 875.9L123.5 874.9L123.6 874.0L123.7 873.0L123.9 871.8L123.7 870.7L123.9 869.8L123.9 868.9L124.0 867.8L124.2 866.8L124.2 865.9L124.3 864.8L124.2 863.7L124.2 862.9L124.3 861.8L124.4 860.8L124.4 859.8L124.4 858.6L124.6 857.7L124.6 856.9L125.0 855.6L125.0 854.5L124.7 853.5L124.9 852.7L124.9 851.7L125.1 850.7L125.3 849.9L125.5 848.4L125.4 847.8L125.5 847.0L125.4 845.7L125.8 844.8L125.8 843.8L126.1 842.8L126.2 841.8L126.6 841.0L126.7 840.0L127.2 838.9L128.1 838.4L128.3 837.6L129.3 837.3L130.6 836.7L131.7 836.4L132.2 836.1L133.3 836.2L134.4 835.8L135.5 835.5L136.2 835.7L137.3 835.5L138.4 835.4L139.4 835.6L140.3 835.7L141.3 836.0L142.1 836.3L143.2 836.7L144.1 837.0L145.0 836.6L145.6 836.1L146.4 834.9L147.3 834.4L148.1 834.4L149.1 834.3L150.1 834.2L151.2 834.3L152.1 834.0L153.2 834.0L154.2 833.9L155.4 834.0L156.3 834.3L157.1 834.6L157.9 835.3L158.8 835.5L160.0 835.3L160.9 835.2L162.0 835.3L162.7 835.2L164.0 835.0L164.8 834.6L165.6 834.1L166.4 833.6L167.3 832.7L167.9 832.0L168.5 831.2L169.1 830.5L169.8 829.9L170.5 829.0L171.4 828.0L171.6 827.4L172.6 826.8L173.4 826.1L174.1 825.5L174.8 824.8L175.3 824.1L176.3 823.5L177.2 822.6L177.5 821.9L178.5 821.4L179.1 820.5L179.9 820.0L180.5 819.3L181.3 818.6L182.3 818.1L182.9 817.2L183.8 816.9L184.5 815.9L185.2 815.2L186.1 814.7L186.7 813.9L187.5 813.3L188.1 812.8L189.0 812.1L189.6 811.3L190.6 810.9L191.1 810.3L192.1 809.7L192.8 809.0L193.8 808.4L194.5 807.4L195.4 807.0L196.1 806.3L196.6 805.9L197.6 805.2L198.3 804.7L199.2 804.3L200.3 803.5L201.0 803.0L201.7 802.4L202.5 801.9L203.4 801.4L204.1 800.9L205.1 800.4L206.0 800.0L207.0 799.3L207.8 798.8L208.3 798.0L209.4 797.6L210.2 797.2L211.1 796.7L212.1 796.1L212.5 795.6L213.6 795.0L214.5 794.6L215.1 793.9L216.3 793.3L217.1 792.9L218.0 791.9L218.7 791.8L219.7 790.8L220.6 790.5L221.3 790.3L222.2 789.8L223.1 789.1L223.8 788.6L224.7 788.4L225.6 787.6L226.5 787.5L227.5 786.7L228.1 786.3L229.1 785.9L230.2 785.3L230.8 784.6L231.6 784.3L232.7 783.8L233.6 783.2L234.4 782.8L235.4 782.3L236.3 782.0L237.2 781.4L238.0 780.9L239.1 780.5L239.7 780.1L240.4 779.7L241.7 779.0L242.3 778.5L243.3 778.3L244.3 777.7L244.9 777.1L245.8 776.9L246.7 776.4L247.7 775.7L248.7 775.5L249.6 775.1L250.5 774.6L251.2 774.2L252.0 773.5L253.2 773.3L254.0 772.9L255.1 772.5L256.0 772.2L256.9 772.0L257.9 771.7L258.8 771.3L259.7 770.8L260.5 770.5L261.5 770.2L262.5 769.8L263.6 769.5L264.4 769.3L265.4 768.9L266.3 768.5L267.3 768.3L268.4 768.1L269.0 767.7L270.1 767.5L271.0 767.3L271.9 766.9L273.0 766.7L274.2 766.4L275.0 766.0L276.0 766.0L277.1 765.5L278.1 765.1L278.9 764.9L280.0 764.6L280.8 764.5L281.7 764.2L282.7 763.9L283.6 763.8L284.6 763.5L285.6 763.3L286.7 763.0L287.8 762.8L288.4 762.3L289.6 762.2L290.4 761.8L291.6 761.8L292.5 761.6L293.3 761.5L294.6 761.4L295.4 761.0L296.4 760.8L297.3 760.7L298.3 760.4L299.4 760.2L300.3 760.2L301.4 759.8L302.4 759.8L303.5 759.6L304.3 759.2L305.1 759.3L306.4 759.1L307.2 758.8L308.4 758.6L309.3 758.4L310.2 758.3L311.3 758.2L312.4 757.9L313.5 757.9L314.2 757.5L315.2 757.5L316.3 757.4L317.1 757.5L318.2 756.9L319.1 757.1L320.2 756.8L321.0 756.7L321.9 756.5L322.9 756.4L324.0 756.2L325.0 756.3L326.1 755.9L327.3 756.0L328.2 755.6L329.0 755.6L330.1 755.3L331.0 755.4L332.0 755.4L333.1 755.1L334.1 754.9L335.0 754.7L336.2 754.7L336.9 754.4L338.0 754.3L339.3 754.3L340.0 754.4L341.2 754.4L342.0 753.9L343.1 754.0L344.0 753.7L345.0 753.5L345.9 753.5L347.0 753.3L347.9 753.2L349.0 753.0L350.1 752.8L351.0 752.6L351.9 752.8L353.0 752.6L353.9 752.4L355.0 752.4L355.7 752.4L356.9 752.2L357.7 752.0L358.7 752.2L360.1 752.1L361.0 751.9L361.8 751.9L362.7 751.8L363.6 751.7L364.8 751.6L366.2 751.5L367.0 751.4L367.8 751.1L369.0 751.3L369.7 750.9L370.9 750.9L371.9 751.1L372.9 751.0L374.0 751.0L374.9 750.7L376.0 750.5L376.8 750.6L378.0 750.5L379.1 750.5L379.8 750.5L380.8 750.3L382.1 750.3L382.9 750.1L384.1 750.2L384.8 750.1L386.1 749.9L386.9 749.9L387.9 749.9L389.1 749.8L389.9 750.0L390.8 749.7L391.8 749.7L393.0 749.4L393.7 749.5L395.0 749.5L395.8 749.4L397.0 749.6L397.6 749.4L398.8 749.5L399.7 749.3L400.8 749.2L401.9 749.2L402.9 749.1L403.9 749.3L404.9 748.8L405.9 748.8L406.8 748.9L408.0 748.9L409.0 749.0L410.0 748.9L411.0 748.8L412.0 748.9L413.2 748.8L413.9 748.7L414.9 748.8L415.8 748.7L416.8 748.5L417.8 748.6L418.8 748.5L419.9 748.5L421.0 748.7L421.9 748.2L422.8 748.3L424.0 748.3L425.0 748.4L425.9 748.4L426.9 748.2L428.0 748.2L429.0 748.2L429.8 748.6L430.9 748.5L432.0 748.2L432.8 748.2L434.0 748.1L434.8 748.0L436.1 748.2L437.1 748.1L437.9 748.2L439.0 748.0L439.7 748.1L440.8 748.2L441.9 748.2L442.8 748.2L444.1 748.0L445.2 748.2L445.8 748.0L446.9 748.2L448.0 748.1L449.2 748.0L449.8 748.1L451.0 748.2L452.2 748.2L452.8 748.1L453.8 748.3L454.9 748.2" fill="none" stroke="#000" stroke-width="1.4" stroke-linejoin="round" stroke-linecap="round" /><path d="M118.7 1082.2L118.6 1081.3L118.7 1080.1L118.5 1079.0L118.9 1078.2L118.7 1077.2L118.8 1076.3L118.8 1075.2L118.8 1074.1L118.8 1073.1L118.6 1072.2L118.8 1071.2L118.7 1070.0L118.8 1069.3L118.5 1068.3L118.7 1067.1L118.8 1066.4L118.9 1065.0L118.9 1064.1L118.8 1062.9L118.9 1062.3L118.9 1061.3L118.6 1060.2L118.9 1059.2L118.9 1058.1L118.9 1057.2L119.1 1056.3L118.9 1055.1L119.1 1054.2L119.1 1053.1L119.2 1052.1L119.2 1051.1L119.3 1050.4L119.4 1049.2L119.2 1047.9L119.1 1046.9L119.3 1046.1L119.5 1045.0L119.3 1044.2L119.3 1043.1L119.2 1042.3L119.2 1041.3L119.2 1040.1L119.7 1039.2L119.3 1038.3L119.3 1037.1L119.4 1036.0L119.5 1035.2L119.3 1034.1L119.4 1033.0L119.5 1032.2L119.6 1031.2L119.4 1030.4L119.6 1029.1L119.8 1028.0L119.5 1027.0L119.5 1026.2L119.7 1024.9L119.8 1024.0L119.7 1023.0L119.7 1022.2L119.8 1020.9L119.9 1020.0L119.8 1019.1L119.9 1018.0L119.6 1017.2L119.9 1016.2L119.8 1015.1L120.0 1013.9L119.9 1013.1L120.1 1012.1L120.0 1011.1L120.0 1010.1L120.1 1008.9L120.1 1008.1L120.0 1007.1L119.9 1005.9L120.0 1005.3L120.2 1003.9L120.4 1003.1L120.1 1001.8L120.3 1001.0L120.0 1000.0L120.3 998.9L120.2 998.1L120.3 996.9L120.5 996.0L120.6 995.0L120.3 994.0L120.3 993.0L120.3 992.0L120.5 991.1L120.4 990.0L120.4 989.2L120.4 988.0L120.5 987.1L120.5 985.6L120.7 984.9L120.5 984.0L120.8 983.0L120.7 982.1L120.8 981.0L120.7 979.8L120.6 979.0L120.8 978.0L120.9 977.0L120.8 975.8L120.6 975.0L120.7 974.0L120.7 972.9L120.7 972.1L121.1 970.8L120.9 969.9L121.1 968.9L120.9 968.0L121.1 966.9L121.1 966.1L121.2 965.0L121.0 964.1L121.1 963.1L121.0 961.9L120.9 961.1L121.0 960.0L121.2 959.0L121.1 957.9L121.1 957.1L121.1 955.7L121.4 955.0L121.3 953.9L121.4 953.0L121.4 952.1L121.4 951.0L121.5 949.8L121.4 948.9L121.4 948.0L121.5 946.8L121.6 945.7L121.4 944.8L121.5 943.8L121.4 943.0L121.6 941.8L121.6 941.0L121.8 939.9L121.5 939.0L121.7 937.7L121.9 936.7L122.0 935.8L121.4 935.0L121.8 933.9L121.6 932.8L121.7 931.9L121.9 930.9L121.9 929.8L122.2 928.8L121.9 927.6L122.0 926.9L122.0 926.0L122.1 924.8L122.0 923.9L122.2 923.0L121.9 921.9L122.0 920.6L122.1 919.9L122.2 918.9L122.1 917.8L122.2 916.8L122.5 916.0L122.1 914.7L122.3 913.8L122.3 913.0L122.0 912.0L122.2 910.8L122.3 909.7L122.4 908.7L122.3 907.9L122.4 906.6L122.6 905.8L122.6 904.7L122.6 903.7L122.6 902.9L122.8 901.8L122.5 900.9L122.9 899.6L122.9 898.7L122.8 897.7L123.0 896.8L122.8 895.8L123.0 894.8L123.0 893.5L122.8 892.9L122.9 892.0L122.9 890.7L123.0 889.9L123.0 889.1L123.1 887.7L123.1 886.7L123.3 885.7L123.3 884.8L123.4 883.9L123.4 883.0L123.3 881.6L123.4 880.8L123.5 879.7L123.6 878.6L123.5 877.5L123.6 876.9L123.6 875.7L123.8 874.6L123.6 873.6L123.9 872.5L123.8 871.8L123.9 870.7L123.9 869.8L124.0 869.0L124.1 867.8L124.3 866.8L124.1 865.7L124.2 864.6L124.4 863.7L124.4 862.9L124.3 861.8L124.7 860.9L124.6 859.7L124.8 858.8L124.8 857.9L125.2 856.7L124.9 855.8L125.1 854.8L125.3 853.8L125.3 852.8L125.1 852.0L125.4 850.8L125.4 849.7L125.7 848.9L125.6 847.7L125.6 846.6L125.9 845.8L126.2 845.0L126.3 843.9L126.1 842.8L126.3 841.8L126.3 840.9L126.2 839.6L126.4 839.1L126.4 837.7L126.6 837.0L126.7 835.5L126.6 834.7L126.8 833.8L127.0 832.8L126.8 831.8L127.0 830.7L127.1 829.8L127.3 828.9L127.8 827.8L128.0 826.8L128.5 826.1L129.1 825.3L129.8 824.6L130.6 823.7L131.4 823.0L132.0 822.4L132.9 821.9L133.8 821.8L134.7 821.8L135.7 821.5L136.8 821.4L138.0 821.6L138.9 821.6L140.4 821.5L141.2 821.4L142.4 821.6L143.2 821.6L143.8 821.8L143.7 822.8L144.3 824.2L144.5 825.2L144.7 825.5L145.0 824.4L145.1 823.3L145.7 821.8L146.0 821.4L146.9 821.2L147.6 821.3L148.6 820.8L149.6 820.7L150.8 820.6L152.1 820.6L153.3 820.5L154.2 820.5L155.1 820.1L156.2 820.0L157.0 819.9L158.3 819.9L159.1 820.1L160.0 819.8L161.1 819.6L162.1 819.3L163.1 819.3L164.1 819.3L165.3 819.3L166.1 819.0L167.1 819.1L168.1 818.7L168.9 818.9L169.9 818.2L171.0 818.0L171.9 817.5L172.8 817.4L173.9 817.5L174.8 817.8L175.7 818.2L176.4 817.9L177.3 817.4L177.5 816.2L178.0 815.6L178.6 814.3L179.3 813.5L179.9 812.6L180.8 811.8L181.5 811.3L182.1 810.5L182.8 809.7L183.7 809.0L184.3 808.5L185.2 807.8L185.7 807.2L186.6 806.5L187.5 805.8L188.3 805.1L188.9 804.5L189.5 804.0L190.6 803.2L191.0 802.3L191.8 801.6L192.7 801.1L193.3 800.6L194.2 799.9L195.0 799.1L195.7 798.6L196.4 797.9L197.2 797.3L197.9 796.5L198.9 795.9L199.7 795.5L200.3 794.6L201.1 794.4L202.0 793.8L202.8 793.2L203.6 792.5L204.5 792.0L205.2 791.3L206.1 790.9L207.2 790.4L207.8 789.6L208.7 789.0L209.7 788.4L210.4 787.9L211.0 787.6L211.9 786.8L212.7 786.4L213.8 785.7L214.5 785.1L215.3 784.8L216.1 784.2L217.0 783.6L218.1 783.0L218.8 782.4L219.5 781.9L220.3 781.4L221.4 780.8L222.1 780.6L223.0 780.0L223.7 779.4L225.0 779.0L225.6 778.3L226.5 777.9L227.4 777.4L228.1 777.1L229.1 776.4L229.9 775.9L230.7 775.4L231.9 774.9L232.5 774.5L233.4 773.7L234.4 773.6L235.3 772.9L236.1 772.4L237.0 772.0L237.8 771.7L238.8 770.8L239.8 770.8L240.4 769.9L241.2 769.6L242.3 769.2L243.0 768.7L244.2 768.2L244.8 767.7L245.8 767.0L246.8 766.7L247.6 766.3L248.3 765.8L249.6 765.4L250.2 765.0L251.1 764.6L252.1 763.9L253.0 763.5L253.9 763.3L254.7 762.9L255.5 762.5L256.5 761.9L257.5 761.8L258.4 761.4L259.3 761.1L260.4 760.5L261.0 760.0L262.1 759.7L263.0 759.5L264.1 759.0L265.1 758.6L265.7 758.6L266.8 758.2L268.1 757.8L268.7 757.5L269.5 757.2L270.6 756.8L271.9 756.4L272.5 756.1L273.4 755.6L274.4 755.4L275.5 755.1L276.4 754.9L277.3 754.6L278.5 754.2L279.1 754.0L280.2 753.6L281.1 753.3L282.1 753.1L283.1 752.9L284.1 752.5L284.9 752.2L285.9 751.7L286.9 751.7L287.7 751.3L288.7 751.0L289.9 750.6L290.7 750.5L291.8 750.3L292.8 750.1L293.7 749.7L294.7 749.6L295.9 749.5L296.8 749.1L297.7 748.9L298.5 748.8L299.7 748.8L300.6 748.1L301.7 748.2L302.4 747.9L303.4 747.7L304.5 747.6L305.4 747.3L306.4 747.3L307.5 747.1L308.3 746.9L309.4 746.6L310.3 746.3L311.1 746.0L312.2 746.2L313.3 745.8L314.3 745.9L315.4 745.6L316.5 745.5L317.3 745.2L318.4 744.8L319.4 744.8L320.2 744.7L321.4 744.5L322.2 744.5L323.3 744.4L324.5 744.0L325.3 743.9L326.2 743.7L327.1 743.9L328.2 743.7L329.1 743.3L330.4 743.4L331.1 742.9L332.3 743.0L333.4 742.8L334.0 742.9L335.1 742.5L336.0 742.6L337.1 742.3L338.0 742.3L339.1 742.0L340.2 741.9L341.2 741.7L342.4 741.6L343.2 741.5L344.0 741.6L345.2 741.0L346.2 741.3L347.1 741.0L347.9 741.0L349.2 740.8L350.1 740.7L351.0 740.3L352.2 740.4L353.0 740.3L353.9 740.3L355.1 740.0L355.9 739.9L357.2 739.9L358.1 739.8L359.2 739.6L360.1 739.4L361.2 739.5L362.2 739.5L363.1 739.4L364.1 739.2L365.5 739.2L366.0 738.8L367.1 738.9L368.0 738.8L369.2 738.8L370.3 738.5L371.0 738.4L372.1 738.5L373.1 738.3L374.0 738.3L375.2 738.3L376.1 738.2L377.1 738.1L378.0 737.7L379.0 738.0L380.0 737.9L381.1 737.9L382.0 737.7L383.1 737.3L383.9 737.8L384.9 737.5L385.8 737.2L387.2 737.1L388.3 737.1L389.1 737.0L390.0 737.0L390.8 737.0L392.0 737.0L392.9 737.0L394.1 736.8L395.1 736.8L396.2 736.4L397.0 736.6L398.0 736.4L398.8 736.6L400.0 736.3L401.2 736.3L402.0 736.3L402.9 736.3L404.1 736.3L405.0 736.2L406.1 736.2L407.1 736.1L407.8 736.2L409.1 736.2L410.1 735.8L411.1 735.9L411.8 735.9L413.0 735.7L414.3 735.8L415.2 735.7L416.1 735.7L417.1 735.8L418.0 735.5L419.1 735.6L420.1 735.3L421.2 735.5L421.8 735.5L423.1 735.4L424.1 735.1L425.0 735.5L426.1 735.1L427.1 735.1L428.0 735.2L428.9 735.3L430.1 735.0L431.1 735.1L432.2 735.2L433.1 735.1L434.3 735.0L435.1 735.2L436.1 734.9L437.1 734.9L438.2 734.7L439.0 734.7L439.9 734.5L440.9 734.8L442.2 734.7L443.0 734.7L443.9 734.8L445.0 734.6L446.3 734.8L447.0 734.6L448.1 734.7L449.2 734.6L450.0 734.5L451.1 734.7L452.1 734.5L453.2 734.5L454.1 734.5L455.1 734.4L456.1 734.4L457.0 734.4L458.2 734.4L459.2 734.6L460.1 734.5L461.1 734.4L462.4 734.3L463.2 734.6L464.2 734.3L465.1 734.4L466.2 734.4L467.2 734.4L468.0 734.4L469.0 734.3L470.1 734.3L471.2 734.5L472.1 734.4L473.0 734.3L474.2 734.5L475.1 734.4L476.4 734.5L477.3 734.4L478.4 734.4L479.3 734.5L479.9 734.5L481.2 734.5L482.3 734.5L483.2 734.6L484.1 734.7L485.2 734.5L486.1 734.4L487.2 734.6L488.3 734.5L489.0 734.6L490.1 734.6L491.3 734.7L492.4 734.6L493.3 734.7L494.2 734.6L495.1 734.7" fill="none" stroke="#0000ff" stroke-width="1.4" stroke-linejoin="round" stroke-linecap="round" /><path d="M118.5 1082.1L118.5 1081.4L118.6 1080.4L118.8 1079.2L118.6 1078.4L118.5 1077.4L118.6 1076.2L118.9 1075.1L118.7 1074.3L118.6 1073.3L118.7 1072.0L118.8 1070.9L118.8 1070.1L119.0 1069.4L118.8 1068.2L118.7 1067.2L119.0 1066.0L118.9 1065.1L118.9 1064.0L118.8 1063.0L118.8 1062.2L119.1 1061.2L118.8 1060.1L118.9 1059.1L118.9 1058.1L119.2 1057.2L119.1 1056.0L119.0 1055.2L119.2 1054.1L119.3 1053.3L119.0 1051.9L119.0 1051.1L119.2 1050.0L119.2 1049.1L119.1 1048.1L119.1 1047.0L119.2 1046.1L119.4 1045.2L119.1 1044.2L119.4 1043.3L119.4 1042.1L119.6 1041.2L119.1 1040.0L119.3 1039.0L119.3 1038.2L119.6 1036.9L119.3 1036.0L119.4 1035.1L119.5 1034.0L119.6 1033.3L119.6 1032.2L119.4 1030.9L119.8 1030.1L119.5 1029.0L119.7 1028.1L119.7 1027.0L119.6 1026.0L119.7 1025.0L119.5 1024.0L119.7 1022.8L119.7 1022.1L119.6 1021.1L119.7 1020.0L119.7 1019.1L119.9 1018.0L119.7 1017.2L119.7 1016.0L119.8 1015.1L119.9 1014.2L120.2 1013.2L120.2 1011.9L120.0 1011.0L119.9 1010.2L120.3 1008.8L120.1 1007.9L119.8 1006.9L120.1 1006.0L119.9 1005.1L120.3 1004.0L120.2 1003.1L120.0 1002.1L120.1 1000.8L119.9 1000.0L120.4 999.0L120.3 998.1L120.4 997.1L120.5 995.9L120.3 994.9L120.3 994.1L120.3 993.2L120.4 992.0L120.3 991.0L120.4 989.8L120.5 989.3L120.5 988.0L120.4 986.9L120.4 986.0L120.5 985.2L120.7 984.1L120.8 983.0L120.8 981.9L120.6 980.8L120.8 979.9L120.7 979.0L120.9 978.0L120.6 977.0L120.9 976.0L120.8 975.0L120.8 973.8L121.2 972.8L121.1 971.9L120.7 971.1L120.9 970.0L121.0 969.0L121.1 967.9L120.8 966.9L121.1 965.9L121.1 964.8L121.0 963.8L121.2 962.9L121.0 961.9L121.1 960.9L121.0 960.1L121.2 959.0L121.3 957.8L121.2 956.9L121.1 955.9L121.3 954.8L121.3 954.0L121.3 952.9L121.3 951.8L121.5 951.0L121.3 949.8L121.4 948.8L121.6 948.0L121.3 946.9L121.5 945.8L121.5 945.0L121.4 943.8L121.4 942.9L121.4 941.9L121.3 940.9L121.6 939.8L121.6 938.9L121.7 938.2L121.9 937.0L121.7 936.0L121.8 934.9L121.8 933.7L121.7 933.1L121.6 931.8L121.7 931.0L121.9 930.0L121.9 928.9L121.9 927.8L121.8 926.5L122.0 925.7L121.9 924.7L122.0 923.7L121.9 923.0L121.9 922.0L122.1 920.9L122.3 920.0L122.1 918.9L122.2 917.8L122.4 916.8L122.3 915.8L122.2 914.8L122.0 913.9L122.3 913.0L122.5 911.7L122.2 910.9L122.3 909.7L122.4 908.9L122.5 907.6L122.3 906.8L122.6 905.8L122.6 904.6L122.4 903.5L122.2 902.6L122.7 901.7L122.7 900.8L122.7 899.9L122.5 898.9L122.7 897.7L122.8 896.9L122.9 896.0L122.9 894.8L123.0 893.7L122.8 892.7L122.8 891.7L123.0 890.9L123.2 889.6L122.9 888.8L122.9 887.8L123.4 886.7L123.1 886.1L123.3 884.7L123.5 883.6L123.2 882.8L123.4 881.6L123.5 880.8L123.4 879.7L123.5 878.8L123.5 877.9L123.5 876.8L123.8 875.8L123.4 874.7L123.8 873.7L123.8 872.6L123.8 871.7L123.9 870.8L123.9 869.9L124.0 868.8L123.8 867.8L124.2 866.8L124.2 865.6L124.2 864.8L124.3 863.9L124.5 863.0L124.7 861.8L124.7 860.5L124.8 859.8L124.4 858.9L125.0 857.6L124.9 856.7L124.9 855.8L125.1 854.7L125.3 853.9L125.0 852.8L125.4 851.9L125.3 850.5L125.5 849.8L125.6 848.8L125.8 847.8L125.8 846.7L125.8 845.9L125.8 844.7L126.0 843.9L126.2 842.7L126.1 841.9L126.4 840.7L126.5 839.8L126.4 838.7L126.2 837.7L126.6 836.8L126.6 835.5L126.8 834.9L126.8 833.8L127.0 832.7L127.2 831.7L127.2 830.6L127.5 829.7L128.1 828.8L128.5 828.0L129.2 827.4L130.2 826.8L130.4 826.1L131.7 825.4L132.3 824.7L133.0 824.6L134.3 824.5L135.3 824.2L136.2 824.3L137.3 824.1L138.4 824.0L139.2 824.0L140.3 824.1L141.3 824.3L142.2 824.1L143.2 824.6L144.1 824.4L145.1 824.6L146.2 824.0L147.2 823.5L148.1 823.7L149.2 823.1L150.2 822.9L151.2 822.8L152.0 822.8L153.0 822.7L153.9 822.7L155.3 822.6L156.2 822.7L157.0 822.6L158.1 822.7L159.2 822.7L160.0 822.4L161.0 822.7L162.0 822.8L163.1 823.0L164.2 823.1L165.0 823.3L166.2 823.3L167.0 822.8L167.9 822.9L169.0 822.6L169.8 822.3L170.9 821.9L171.8 821.5L173.1 821.2L173.7 820.9L174.7 820.4L175.3 820.0L176.0 819.4L176.8 818.6L177.5 817.6L178.1 816.7L178.4 815.9L179.2 815.5L179.9 814.8L180.7 814.0L181.6 813.1L182.3 812.7L183.0 811.9L183.7 811.3L184.1 810.6L184.7 810.0L185.9 809.0L186.4 808.5L187.4 808.0L188.0 807.0L188.9 806.6L189.5 805.7L190.2 805.0L191.1 804.4L192.0 803.8L192.5 803.4L193.5 802.5L193.9 801.8L194.7 801.1L195.6 800.5L196.4 799.8L197.2 799.2L197.9 798.7L198.7 797.9L199.3 797.4L200.5 796.7L201.1 796.4L202.0 795.8L202.8 795.0L203.8 794.2L204.2 793.7L205.2 793.2L206.2 792.6L206.6 792.4L207.6 791.7L208.5 791.0L209.4 790.5L210.0 790.1L211.1 789.3L211.7 788.7L212.9 788.4L213.5 787.7L214.2 786.9L215.4 786.6L216.1 785.9L217.0 785.7L217.9 785.0L218.6 784.3L219.4 784.1L220.4 783.4L221.3 782.8L222.1 782.4L222.8 781.7L223.9 781.2L224.5 780.7L225.4 780.3L226.3 779.9L227.2 779.2L228.1 778.6L229.0 778.5L229.7 777.8L230.5 777.1L231.6 776.6L232.5 776.3L233.1 775.8L234.3 775.1L235.0 774.8L235.9 774.1L236.8 773.8L237.7 773.3L238.5 772.9L239.4 772.5L240.2 771.8L241.2 771.2L242.0 771.0L242.9 770.2L243.8 770.0L244.8 769.7L245.6 769.0L246.5 768.6L247.4 768.0L248.3 767.5L249.4 767.3L250.1 766.7L251.0 766.5L251.8 765.8L252.7 765.4L253.7 765.0L254.8 764.6L255.6 764.2L256.5 764.1L257.4 763.3L258.3 763.1L259.3 762.6L260.1 762.4L260.9 761.9L262.0 761.4L262.9 761.1L263.7 760.8L264.6 760.4L265.7 759.9L266.7 759.9L267.6 759.6L268.6 759.3L269.6 759.0L270.6 758.3L271.3 757.9L272.4 757.7L273.5 757.4L274.4 757.3L275.1 756.5L276.2 756.4L277.2 756.0L278.0 755.7L278.9 755.5L279.9 755.1L281.1 754.9L281.8 754.8L282.8 754.3L283.8 754.0L284.9 753.8L285.7 753.3L286.5 753.2L287.4 752.9L288.6 752.6L289.5 752.5L290.5 751.9L291.7 751.8L292.6 751.5L293.5 751.4L294.5 750.9L295.6 750.9L296.4 750.6L297.3 750.3L298.1 750.1L299.4 750.1L300.5 749.7L301.1 749.6L302.2 749.4L303.1 749.3L304.3 748.9L305.2 748.7L306.3 748.5L307.0 748.4L308.5 748.2L309.3 748.0L310.1 747.7L311.0 747.6L312.0 747.3L313.1 747.2L314.1 747.0L315.0 746.9L316.0 746.7L317.0 746.6L318.0 746.3L318.9 746.0L320.1 745.7L321.1 745.6L322.0 745.7L323.0 745.6L323.9 745.4L325.0 745.1L325.7 744.9L327.0 745.0L328.0 744.9L328.9 744.5L329.8 744.7L330.9 744.2L331.9 744.0L333.1 743.8L333.7 743.8L334.6 743.7L335.9 743.5L336.9 743.4L337.8 743.5L338.8 743.1L340.0 742.9L341.0 742.9L341.8 742.8L343.0 742.9L343.9 742.3L344.9 742.3L345.8 742.4L346.8 742.2L348.0 742.1L348.7 741.7L349.8 741.8L350.9 741.6L351.7 741.5L352.7 741.4L353.7 741.4L354.9 741.3L355.8 741.1L356.7 741.1L357.7 740.9L358.8 740.7L359.7 740.5L360.7 740.7L361.6 740.5L362.7 740.6L363.6 740.2L364.8 740.2L365.7 740.0L366.5 740.0L367.8 740.0L368.7 739.7L370.0 739.6L370.7 739.6L371.8 739.4L372.7 739.7L373.7 739.0L374.7 739.3L375.7 739.1L376.8 738.8L377.9 739.0L378.8 738.8L379.8 738.6L380.5 738.7L381.9 738.6L382.4 738.6L383.8 738.5L384.8 738.3L385.7 738.2L386.6 738.2L388.0 738.3L388.8 738.2L389.7 738.1L390.9 738.1L392.0 738.0L392.6 737.9L393.7 737.7L394.4 737.7L395.6 737.6L396.7 737.3L397.9 737.6L398.8 737.5L400.1 737.4L400.8 737.5L401.4 737.3L402.6 737.1L403.9 737.1L404.8 737.0L405.7 736.9L406.9 736.9L407.8 736.7L408.8 736.8L409.5 736.9L410.7 736.9L411.5 736.6L412.6 736.5L413.9 736.4L414.7 736.6L415.8 736.7L416.9 736.4L417.6 736.3L418.6 736.4L419.7 736.4L420.7 736.3L421.7 736.2L422.7 736.2L424.0 736.3L424.7 736.1L425.8 736.4L426.8 736.3L427.9 736.5L428.7 736.7L429.1 737.2L429.4 738.7" fill="none" stroke="#0000ff" stroke-width="1.4" stroke-linejoin="round" stroke-linecap="round" /><path d="M118.5 1082.3L118.6 1081.1L118.6 1080.2L118.6 1079.4L118.7 1078.3L118.8 1077.2L118.7 1076.2L118.7 1075.2L118.6 1074.1L118.8 1073.1L118.7 1072.1L118.9 1071.2L119.0 1070.2L118.6 1069.2L119.0 1068.2L118.8 1067.2L118.7 1065.9L118.9 1065.2L118.9 1064.1L119.0 1063.2L119.3 1062.3L118.8 1061.2L118.9 1060.2L119.0 1059.1L118.9 1058.2L118.8 1057.2L119.0 1056.0L119.1 1055.3L119.1 1054.2L119.1 1053.4L119.3 1052.1L119.2 1051.2L119.3 1049.9L119.1 1048.9L118.9 1048.1L119.3 1047.0L119.3 1046.1L119.3 1045.1L119.3 1043.9L119.3 1043.2L119.3 1042.2L119.5 1041.3L119.3 1040.0L119.3 1039.0L119.4 1038.0L119.5 1037.0L119.7 1036.2L119.4 1035.3L119.8 1034.0L119.5 1033.0L119.5 1031.9L119.5 1030.9L119.7 1029.9L119.8 1029.1L119.5 1028.1L119.6 1027.0L119.6 1026.0L119.6 1024.8L119.6 1023.9L119.8 1023.0L119.8 1021.9L119.8 1021.0L119.7 1020.1L119.8 1018.9L119.9 1018.0L119.9 1016.9L120.0 1016.0L119.9 1015.0L120.0 1013.8L120.0 1012.9L119.9 1011.8L120.0 1011.0L119.9 1010.1L120.0 1009.0L120.0 1007.8L120.1 1006.9L120.1 1005.7L120.0 1005.1L120.2 1003.9L120.0 1002.9L120.2 1001.9L119.9 1001.1L120.1 999.8L120.3 999.1L120.2 998.0L120.3 996.8L120.2 995.8L120.1 995.0L120.2 993.9L120.4 992.9L120.3 991.9L120.6 991.0L120.7 989.9L120.6 988.9L120.4 987.9L120.5 987.1L120.5 985.9L120.5 984.7L120.5 984.1L120.6 983.0L120.6 981.8L120.6 980.8L120.5 980.0L120.6 978.9L120.8 977.8L120.8 976.5L120.6 975.9L120.8 974.8L120.8 974.1L120.7 972.8L120.9 971.8L120.9 970.9L120.9 969.9L121.1 968.9L120.9 967.8L121.0 966.9L121.1 965.7L121.1 964.7L121.0 963.9L121.1 962.9L121.1 961.8L121.4 960.5L121.3 959.7L121.2 958.4L121.4 958.1L121.1 956.8L121.3 955.9L121.5 954.8L121.1 953.6L121.4 952.9L121.4 951.7L121.3 950.7L121.5 949.6L121.3 948.6L121.5 947.9L121.4 946.8L121.6 945.6L121.4 944.8L121.6 943.7L121.6 942.8L121.4 942.0L121.8 940.7L121.5 939.7L121.9 938.8L121.9 937.7L121.6 936.9L121.9 935.6L121.8 934.6L121.8 933.6L121.8 932.7L121.6 932.0L121.8 930.6L121.8 929.6L121.9 928.8L121.6 927.6L121.9 926.6L122.1 925.7L121.9 924.5L122.1 923.6L122.1 922.7L122.0 921.7L122.1 920.5L122.2 919.9L122.0 918.4L122.2 917.5L122.2 916.5L122.2 915.4L122.2 914.5L122.2 913.4L122.4 912.7L122.4 911.6L122.3 910.7L122.2 909.6L122.5 908.6L122.5 907.6L122.7 906.7L122.4 905.5L122.6 904.6L122.6 903.7L122.3 902.4L122.6 901.5L122.7 900.6L122.6 899.6L122.9 898.6L122.8 897.6L122.8 896.6L123.0 895.7L122.8 894.7L123.0 893.5L123.0 892.6L123.1 891.7L123.0 890.5L123.1 889.5L123.2 888.5L123.2 887.3L123.3 886.6L123.4 885.7L123.2 884.5L123.2 883.3L123.4 882.6L123.3 881.5L123.6 880.3L123.4 879.4L123.4 878.4L123.6 877.6L123.5 876.6L123.6 875.7L123.8 874.5L123.5 873.7L123.8 872.4L123.8 871.5L123.9 870.5L124.0 869.5L124.0 868.4L124.1 867.5L124.0 866.6L124.3 865.4L124.3 864.4L124.1 863.4L124.5 862.7L124.3 861.5L124.7 860.4L124.5 859.6L124.8 858.5L124.9 857.7L124.8 856.4L125.0 855.5L125.1 854.4L124.9 853.5L125.5 852.3L125.3 851.6L125.5 850.8L125.5 849.5L125.7 848.5L125.7 847.3L125.6 846.6L126.0 845.3L125.7 844.5L126.2 843.6L125.9 842.4L126.3 841.3L126.4 840.5L126.3 839.5L126.3 838.4L126.5 837.5L126.4 836.5L126.7 835.3L126.8 834.4L126.9 833.6L126.8 832.5L127.0 831.5L127.4 830.5L127.7 829.6L128.4 828.8L129.3 828.1L130.2 827.5L130.8 827.0L131.6 826.3L132.8 825.8L133.4 825.5L134.6 825.5L135.3 825.4L136.6 825.2L137.5 825.2L138.6 825.2L139.6 825.2L140.5 825.2L141.5 825.5L142.5 825.5L143.7 825.5L144.4 825.5L145.7 825.7L146.5 825.5L147.4 825.0L148.7 824.7L149.4 824.8L150.3 824.5L151.5 824.7L152.5 824.6L153.6 824.4L154.6 824.2L155.4 824.5L156.5 824.0L157.5 824.0L158.3 824.1L159.5 824.0L160.3 823.7L161.5 823.9L162.4 824.1L163.4 824.3L164.6 824.4L165.6 824.4L166.6 824.3L167.3 824.0L168.5 824.1L169.5 823.6L170.2 823.3L171.1 822.7L172.1 822.3L173.1 822.0L173.8 821.3L174.9 820.7L175.5 820.3L176.0 819.5L177.2 818.8L177.9 818.3L178.7 817.8L179.6 817.4L180.2 816.4L180.9 815.7L181.7 814.9L182.3 814.3L183.1 813.5L183.8 812.9L184.6 812.4L185.3 811.5L186.0 811.1L186.7 810.2L187.8 809.5L188.4 808.8L189.1 808.0L190.0 807.6L190.7 806.7L191.3 806.1L192.1 805.6L193.1 805.0L193.5 804.2L194.3 803.3L195.2 802.8L195.9 802.2L196.7 801.7L197.2 800.9L198.0 800.3L199.0 799.5L199.6 798.8L200.8 798.5L201.3 798.0L202.1 797.3L203.0 796.6L203.8 796.2L204.8 795.3L205.5 795.1L206.2 794.6L207.2 793.9L208.0 793.2L208.7 792.5L209.8 792.3L210.4 791.6L211.1 791.1L212.2 790.5L213.0 789.8L213.6 789.3L214.6 788.7L215.3 788.2L216.2 787.5L217.1 787.1L217.9 786.8L218.9 785.9L219.7 785.3L220.5 785.0L221.4 784.5L222.3 784.0L223.1 783.2L224.0 782.8L224.9 782.3L225.8 782.0L226.3 781.3L227.5 780.9L228.1 780.4L229.2 779.8L230.1 779.4L231.0 778.8L231.8 778.3L232.5 777.8L233.5 777.3L234.3 777.0L235.4 776.3L236.2 775.9L237.1 775.4L237.9 775.0L238.7 774.6L239.7 773.8L240.6 773.8L241.7 773.3L242.4 772.4L243.3 772.0L244.0 771.7L245.0 771.3L245.7 770.9L247.1 770.2L248.0 769.7L248.7 769.5L249.6 768.9L250.4 768.3L251.3 767.7L252.0 767.4L253.2 767.0L254.0 766.6L255.1 766.4L255.9 765.8L256.8 765.4L257.8 765.2L258.6 764.9L259.5 764.3L260.4 764.1L261.3 763.8L262.3 763.4L263.2 763.0L264.2 762.6L265.1 762.1L266.1 761.8L267.1 761.5L268.0 760.9L269.0 760.8L269.8 760.5L270.9 760.2L271.6 759.8L272.8 759.5L273.8 759.2L274.8 758.7L275.6 758.5L276.7 758.3L277.4 758.0L278.5 757.8L279.3 757.4L280.4 757.1L281.5 756.9L282.2 756.5L283.2 756.2L284.4 755.8L285.2 755.6L286.3 755.3L287.1 755.2L288.0 754.7L289.2 754.5L290.2 754.4L290.9 753.9L291.9 753.8L293.1 753.4L293.8 753.3L294.7 753.1L295.7 752.8L296.9 752.5L298.0 752.4L298.8 752.0L299.7 751.7L300.7 751.8L301.4 751.5L302.6 751.1L303.5 750.9L304.6 750.7L305.7 750.4L306.4 750.5L307.6 750.1L308.6 749.9L309.6 749.8L310.5 749.3L311.5 749.2L312.6 749.2L313.7 749.0L314.4 748.7L315.5 748.5L316.4 748.7L317.5 748.4L318.5 748.1L319.2 748.1L320.3 747.6L321.3 747.7L322.3 747.3L323.4 747.2L324.4 747.2L325.4 746.8L326.4 746.9L327.4 746.6L328.5 746.7L329.2 746.4L330.3 746.2L331.1 746.1L332.2 746.2L333.4 745.8L334.4 745.7L335.4 745.5L336.5 745.5L337.4 745.4L338.3 745.2L339.4 745.1L340.5 744.9L341.2 744.8L342.1 744.7L343.4 744.6L344.1 744.4L345.4 744.3L346.2 744.1L347.2 744.4L348.3 744.2L349.0 744.1L350.1 744.1L351.3 744.2L352.5 744.3L353.5 744.5" fill="none" stroke="#0000ff" stroke-width="1.4" stroke-linejoin="round" stroke-linecap="round" /><path d="M118.8 1082.1L118.9 1081.2L119.0 1080.1L118.8 1079.2L118.8 1078.1L119.1 1077.3L119.1 1076.2L119.2 1074.8L119.0 1074.2L119.2 1073.1L119.1 1072.3L119.1 1071.3L119.2 1070.2L119.2 1069.3L119.3 1068.0L119.2 1067.5L119.1 1066.2L119.3 1065.2L119.3 1063.9L119.0 1063.0L119.3 1062.1L119.3 1061.1L119.3 1060.2L119.2 1059.1L119.2 1058.2L119.5 1057.1L119.5 1056.2L119.6 1055.2L119.3 1054.0L119.3 1053.2L119.4 1051.9L119.5 1051.0L119.6 1050.1L119.5 1049.1L119.5 1048.1L119.5 1047.2L119.5 1046.2L119.7 1045.0L119.4 1044.0L119.8 1043.1L119.6 1042.2L119.4 1041.2L119.7 1039.9L119.7 1038.9L119.8 1038.1L119.8 1037.2L119.7 1036.0L119.9 1035.1L119.7 1034.1L119.8 1033.0L119.6 1032.1L119.8 1031.0L119.8 1030.0L119.8 1028.9L120.0 1028.4L120.2 1027.2L119.9 1026.0L119.9 1024.8L119.8 1024.0L120.0 1023.0L120.0 1022.1L120.0 1020.9L119.9 1020.1L120.0 1019.2L120.1 1018.0L120.3 1017.2L120.0 1015.9L120.2 1015.1L120.2 1014.1L120.2 1012.9L120.1 1012.0L120.3 1011.2L120.2 1010.0L120.5 1009.0L120.5 1007.9L120.2 1006.9L120.4 1006.0L120.3 1005.0L120.2 1004.1L120.3 1003.2L120.5 1002.3L120.7 1001.1L120.5 1000.1L120.7 998.8L120.6 998.1L120.7 997.2L120.5 995.9L120.5 994.9L120.7 994.0L120.5 993.0L120.5 992.2L120.7 991.0L120.8 990.1L120.7 988.9L120.8 987.7L120.7 987.0L121.1 986.1L120.8 984.9L120.9 984.1L120.9 983.0L121.1 982.0L121.1 981.0L121.1 979.9L120.9 978.7L121.1 978.2L121.3 977.0L121.1 975.8L120.9 975.0L121.2 974.0L121.2 972.7L121.2 972.0L121.3 970.9L121.1 969.9L121.4 968.9L121.3 967.9L121.5 966.9L121.2 965.9L121.3 964.9L121.5 963.9L121.4 962.8L121.3 961.8L121.5 961.0L121.5 959.9L121.4 958.7L121.5 958.0L121.8 957.0L121.6 955.9L121.6 954.9L121.7 954.1L121.5 952.9L121.6 951.8L121.7 950.9L121.7 949.8L121.6 948.8L121.7 947.7L121.6 947.1L121.7 945.9L121.9 944.6L121.8 943.9L121.7 942.9L121.9 941.8L121.9 940.9L122.0 939.7L121.9 938.6L121.9 937.7L121.8 936.9L122.1 935.7L122.3 934.9L122.0 933.8L122.2 932.8L122.1 931.8L122.1 930.8L122.2 929.6L122.2 928.7L122.5 927.9L122.2 927.0L122.4 925.9L122.3 924.6L122.1 923.7L122.4 923.0L122.3 921.8L122.3 920.8L122.2 919.6L122.6 918.8L122.6 917.7L122.5 916.6L122.6 915.7L122.7 914.6L122.5 913.8L122.9 912.7L122.4 911.9L122.5 910.7L122.7 909.6L122.7 908.9L122.7 907.8L122.7 906.6L123.0 906.0L122.7 904.8L122.8 903.8L122.9 902.6L123.0 901.7L123.1 900.9L123.0 899.8L123.0 898.8L123.1 897.8L123.1 896.6L123.1 895.8L123.4 894.6L123.2 893.6L123.3 892.8L123.3 891.9L123.3 890.6L123.6 889.8L123.3 888.7L123.3 887.6L123.6 886.5L123.7 885.7L123.6 884.9L123.9 883.7L123.7 882.7L123.6 881.9L123.8 880.8L123.9 879.6L123.9 878.7L123.8 877.6L123.7 876.7L124.1 875.8L123.9 874.7L124.1 873.7L124.1 872.8L123.9 871.7L124.1 870.7L124.4 869.7L124.2 868.6L124.4 867.5L124.4 866.7L124.3 865.7L124.4 864.8L124.5 863.6L124.8 862.6L124.7 861.8L124.8 860.7L125.2 859.7L125.0 858.8L125.0 857.6L125.3 856.8L125.5 855.8L125.5 854.7L125.6 853.7L125.8 852.8L125.5 851.8L125.7 850.6L125.8 849.7L126.1 848.9L126.1 847.6L126.1 846.6L126.3 845.9L126.6 844.9L126.4 843.9L126.6 842.9L126.6 841.9L126.5 840.8L126.6 839.8L126.7 838.8L126.6 837.8L126.8 836.9L126.5 835.7L126.8 834.8L126.7 833.8L126.8 832.6L127.1 831.6L127.0 830.6L127.0 829.7L126.9 828.8L127.1 827.8L127.0 826.5L127.1 825.7L127.0 824.6L127.4 823.8L127.2 822.6L127.3 821.8L127.6 820.6L127.6 819.7L127.6 818.6L127.6 817.7L127.8 816.7L128.0 815.6L127.9 814.7L128.1 813.7L128.5 812.9L128.8 811.9L129.2 810.7L129.6 809.8L130.3 809.1L130.8 808.4L131.4 807.5L132.2 806.7L133.2 806.3L133.9 805.8L135.1 805.8L136.1 805.9L137.0 806.0L137.9 805.8L139.0 806.3L140.4 806.2L141.6 806.7L142.4 806.9L143.4 807.2L143.7 807.7L144.0 808.4L144.0 809.7L144.2 811.0L144.1 811.6L144.3 811.2L144.7 810.0L145.0 808.7L145.3 807.4L145.6 806.7L146.1 806.6L147.3 807.3L147.6 808.0L148.2 809.3L148.2 810.4L148.4 811.5L148.7 811.5L149.2 810.8L149.3 809.9L149.8 808.7L150.2 807.2L150.4 806.1L150.9 805.6L151.8 805.4L152.8 805.4L153.7 805.0L154.7 805.1L155.9 804.7L157.0 804.8L158.0 804.6L159.1 804.3L160.1 804.3L161.1 804.5L162.0 804.4L163.0 804.4L163.9 804.1L165.0 804.2L165.8 804.5L166.9 804.2L167.9 804.5L169.2 804.2L170.0 804.4L170.9 804.3L172.1 804.3L173.1 804.3L174.1 804.3L175.0 804.2L176.1 804.4L177.3 804.4L178.1 804.5L179.3 804.5L180.2 804.6L181.1 804.7L182.0 805.0L183.0 805.0L183.8 805.4L185.0 806.1L185.8 806.6L186.4 806.2L186.8 805.9L187.4 805.1L187.7 804.0L188.2 802.8L188.4 801.6L188.7 800.5L189.2 799.4L189.8 798.8L190.5 798.1L191.3 797.3L191.8 796.6L192.6 795.8L193.5 795.3L194.2 794.7L195.1 794.2L195.9 793.5L196.6 792.6L197.5 791.9L198.1 791.6L199.2 790.7L199.8 790.3L200.5 789.6L201.2 789.0L202.3 788.5L203.4 787.9L203.8 787.3L204.8 786.5L205.4 786.3L206.4 785.6L207.1 785.1L208.1 784.4L209.0 783.8L209.7 783.2L210.7 782.8L211.4 782.2L212.2 781.6L212.7 781.0L213.7 780.6L214.7 779.9L215.7 779.7L216.5 778.7L217.2 778.4L218.0 777.8L218.8 776.8L219.7 776.6L220.6 776.2L221.4 775.8L222.4 775.1L223.0 774.5L224.0 774.1L224.9 773.3L225.7 773.3L226.6 772.5L227.5 771.9L228.1 771.5L229.1 770.9L230.0 770.3L230.9 770.0L231.7 769.5L232.4 768.9L233.5 768.5L234.4 767.9L235.1 767.3L236.1 767.0L237.0 766.3L237.9 765.9L238.7 765.6L239.5 765.1L240.5 764.9L241.5 764.1L242.4 763.6L243.2 763.4L244.2 763.0L245.1 762.3L246.0 761.9L247.0 761.6L247.7 761.1L248.6 760.6L249.5 760.2L250.3 759.8L251.4 759.5L252.3 759.3L253.3 758.6L254.1 758.2L254.8 757.7L255.9 757.2L256.9 757.0L257.9 756.6L258.8 756.3L259.7 755.6L260.8 755.4L261.7 755.1L262.3 754.7L263.5 754.4L264.6 754.2L265.4 753.6L266.2 753.3L267.2 753.0L268.2 752.8L268.9 752.3L270.2 751.9L271.0 751.7L271.9 751.2L272.9 751.0L273.7 750.8L274.8 750.2L275.7 749.9L276.6 749.9L277.5 749.3L278.7 749.1L279.5 748.8L280.5 748.7L281.5 748.1L282.3 748.0L283.4 747.8L284.3 747.5L285.4 747.1L286.5 746.8L287.1 746.5L288.3 746.5L289.1 746.0L290.2 745.8L291.0 745.6L292.1 745.4L292.9 744.9L294.0 744.8L294.9 744.2L295.9 744.4L296.8 744.2L297.7 743.8L299.0 743.5L299.9 743.4L300.7 742.8L301.7 742.7L302.7 742.5L303.7 742.2L304.7 741.9L305.8 741.8L306.6 741.6L307.8 740.9L308.5 741.0L309.5 740.7L310.5 740.4L311.6 740.2L312.8 740.1L313.6 739.8L314.7 739.5L315.5 739.3L316.4 739.1L317.6 738.9L318.3 738.7L319.4 738.5L320.1 738.2L321.1 738.1L322.2 738.1L323.2 737.7L324.4 737.3L325.3 737.1L326.3 736.9L327.2 736.7L328.1 736.4L328.9 736.3L330.1 736.1L330.9 736.0L332.2 735.8L332.9 735.7L333.8 735.5L334.9 735.0L336.2 734.9L337.0 734.6L338.1 734.7L339.0 734.5L340.0 734.2L340.8 734.1L342.0 733.7L342.9 733.7L344.0 733.6L344.9 733.2L345.9 733.2L346.9 732.9L347.9 732.9L348.9 732.9L349.8 732.4L350.9 732.4L351.8 732.1L352.9 732.0L353.9 731.8L354.8 731.6L355.8 731.6L356.9 731.5L357.6 731.2L358.6 730.9L359.9 731.0L360.7 730.6L361.7 730.7L362.8 730.6L363.7 730.4L364.5 730.1L365.5 730.0L366.7 730.0L367.6 729.8L368.5 729.5L369.9 729.7L370.6 729.4L371.6 729.4L372.7 729.3L373.6 728.9L374.7 729.0L375.7 728.8L376.7 728.8L377.6 728.8L378.7 728.5L379.6 728.5L380.7 728.3L381.5 728.2L382.6 728.0L383.6 727.9L384.5 727.8L385.3 727.8L386.4 727.7L387.5 727.6L388.6 727.7L389.7 727.4L390.6 727.2L391.8 727.1L392.6 727.4L393.6 726.9L394.4 727.0L395.8 727.0L396.9 726.9L397.4 726.8L398.7 726.5L399.5 726.5L400.5 726.4L401.6 726.4L402.8 726.3L403.7 726.2L404.7 726.2L405.6 726.2L406.5 726.3L407.5 726.3L408.5 725.9L409.8 725.9L410.6 725.8L411.5 725.8L412.7 725.7L413.7 725.6L414.4 725.7L415.6 725.2L416.6 725.5L417.8 725.5L418.5 725.5L419.8 725.3L420.5 725.3L421.6 725.2L422.4 725.1L423.5 725.1L424.6 724.9L425.7 725.0L426.8 725.3L427.6 725.0L428.5 724.8L429.6 724.7L430.4 724.7L431.6 724.7L432.5 724.7L433.5 724.7L434.4 724.6L435.5 724.4L436.8 724.4L437.4 724.5L438.7 724.3L439.6 724.4L440.6 724.2L441.5 724.2L442.5 724.2L443.4 724.4L444.9 724.2L445.7 724.2L446.8 724.1L447.5 724.2L448.4 724.0L449.4 724.2L450.5 723.9L451.6 723.8L452.6 724.0L453.6 723.7L454.7 724.0L455.5 723.9L456.7 723.8L457.6 723.7L458.8 723.8L459.6 723.8L460.4 723.8L461.9 723.6L462.8 723.5L463.6 723.7L464.5 723.5L465.6 723.4L466.7 723.3L467.7 723.6L468.6 723.4L469.4 723.5L470.7 723.4L471.8 723.4L472.5 723.6L473.7 723.6L474.7 723.4L475.7 723.3L476.6 723.2L477.6 723.2L478.6 723.4L479.6 723.4L480.6 723.1L481.8 723.1L482.7 723.0L483.6 723.3L484.5 723.1L485.9 723.1L486.7 723.2L487.7 723.3L488.9 723.1L489.9 723.3L490.9 723.1L491.9 723.2L492.9 723.0L493.7 723.0L495.2 723.0L496.0 723.1L497.0 723.0L497.9 723.1L499.1 722.9L499.7 723.0L500.7 723.1L501.7 723.6L502.7 724.2L503.1 725.1L503.3 725.7L503.2 726.9L503.3 727.5L503.9 728.9L503.7 730.2" fill="none" stroke="#ff0000" stroke-width="1.4" stroke-linejoin="round" stroke-linecap="round" /><path d="M118.5 1082.2L118.5 1081.2L118.8 1080.3L118.5 1079.3L118.5 1078.2L118.8 1077.4L118.8 1076.1L118.6 1075.1L118.7 1074.0L119.1 1073.1L118.6 1072.3L118.7 1071.4L118.9 1070.1L118.9 1069.2L119.0 1068.2L118.9 1067.1L118.8 1066.1L118.9 1065.3L118.8 1064.2L119.0 1063.3L119.0 1062.3L118.8 1061.2L119.0 1060.1L118.9 1059.2L119.0 1058.2L119.0 1057.5L119.1 1056.2L118.8 1055.0L119.1 1054.2L118.9 1053.3L119.3 1052.1L119.0 1051.0L119.1 1050.3L119.1 1048.9L119.2 1048.0L119.3 1047.1L119.3 1046.3L119.3 1045.1L119.3 1044.1L119.3 1043.0L119.3 1042.1L119.2 1041.1L119.3 1039.9L119.5 1039.0L119.5 1038.2L119.2 1037.1L119.4 1036.2L119.5 1035.2L119.4 1034.1L119.4 1033.1L119.5 1032.1L119.7 1031.1L119.7 1030.1L119.6 1029.0L119.7 1028.2L119.6 1027.0L119.7 1026.1L119.6 1025.0L119.5 1024.2L119.6 1023.0L119.8 1022.1L119.9 1021.0L119.8 1019.8L120.0 1019.1L119.9 1017.9L119.8 1017.2L119.8 1016.1L120.2 1015.1L119.9 1014.1L119.8 1013.0L120.0 1012.0L119.9 1011.0L120.1 1010.0L119.8 1009.1L120.1 1008.0L120.2 1007.2L120.0 1006.0L120.0 1005.0L120.1 1004.2L120.3 1003.1L120.1 1002.0L120.2 1001.0L120.4 1000.0L120.3 999.1L120.2 998.1L120.3 997.1L120.3 996.2L120.3 995.1L120.3 993.7L120.0 993.1L120.4 992.0L120.5 991.0L120.5 989.9L120.4 989.2L120.7 987.6L120.7 986.9L120.4 985.9L120.6 985.0L120.5 983.7L120.5 983.0L120.8 982.0L120.8 981.0L120.6 979.6L120.7 978.9L120.8 978.0L120.7 977.0L120.9 976.0L120.8 975.1L120.9 973.9L120.7 972.8L121.0 972.0L120.6 970.9L120.9 970.0L121.1 968.8L121.0 967.8L120.9 966.8L121.0 965.9L120.9 964.8L121.2 964.1L121.1 962.9L121.0 961.8L121.3 960.9L121.1 959.9L121.2 959.1L121.0 957.9L121.2 956.9L121.3 955.7L121.3 954.9L121.2 953.9L121.4 953.0L121.2 951.8L121.5 950.9L121.4 949.8L121.4 948.8L121.5 947.9L121.5 946.8L121.7 945.8L121.5 944.7L121.3 943.7L121.6 943.0L121.4 942.2L121.5 941.0L121.6 939.7L121.6 939.0L121.8 937.8L121.7 936.8L121.7 935.9L121.6 934.9L121.7 933.8L121.7 932.9L121.8 931.8L121.8 930.9L121.9 930.0L121.6 928.5L122.0 927.9L122.0 926.9L121.7 925.8L122.1 924.8L122.0 923.8L121.9 922.8L122.1 921.9L121.9 920.6L122.1 919.9L122.2 918.8L122.3 917.9L122.3 916.8L122.2 916.0L122.0 914.8L122.2 913.8L122.3 912.7L122.4 911.6L122.4 910.5L122.3 909.5L122.4 909.0L122.3 908.0L122.5 907.0L122.3 905.6L122.5 904.8L122.7 903.6L122.5 902.5L122.8 901.6L122.4 900.5L122.8 899.9L122.6 898.7L122.7 897.8L122.8 896.7L122.9 895.8L122.7 894.7L122.9 893.7L122.7 892.7L123.0 891.7L123.0 890.7L123.1 889.7L123.0 888.6L123.1 887.7L123.0 886.5L123.2 885.8L123.3 884.6L123.4 883.9L123.3 882.6L123.5 881.8L123.5 880.6L123.6 879.8L123.5 878.4L123.5 877.6L123.6 876.7L123.8 875.5L123.7 874.8L123.8 873.5L123.7 872.8L123.9 871.5L123.8 870.7L123.7 870.0L124.1 868.7L123.9 867.7L124.2 866.9L124.1 865.6L124.1 864.7L124.2 863.6L124.4 862.7L124.4 861.7L124.6 860.6L124.5 859.6L124.8 858.8L124.8 857.7L124.9 856.6L125.4 855.8L124.9 854.7L125.3 853.7L125.1 852.5L125.3 851.5L125.3 850.5L125.5 849.7L125.6 848.5L125.6 847.8L125.9 846.8L125.8 845.8L126.1 844.8L126.0 843.7L126.1 842.7L126.2 841.8L126.2 840.8L126.5 839.6L126.8 838.7L126.5 837.9L126.5 836.5L126.6 835.9L126.7 834.7L126.7 833.8L127.1 832.8L126.7 831.8L127.0 830.7L126.9 829.7L127.2 828.7L127.4 827.5L127.2 826.8L127.4 825.7L127.4 824.7L127.7 823.9L127.7 822.8L127.7 821.4L127.8 820.7L128.1 819.6L128.0 818.7L128.3 817.7L128.3 816.8L128.6 815.8L129.0 814.9L129.1 813.9L129.8 812.7L130.0 812.0L130.6 811.3L131.2 810.5L132.1 809.8L132.9 808.8L134.0 808.5L134.5 808.1L135.7 808.3L136.9 808.5L137.7 808.6L139.0 808.4L139.7 808.5L141.1 808.5L141.5 808.3L142.9 808.3L143.9 808.0L144.9 807.9L145.5 807.8L146.9 807.9L147.5 807.4L148.8 807.6L149.9 807.5L150.8 807.2L151.8 807.4L152.8 807.0L153.8 806.6L154.5 806.6L155.5 806.7L156.7 806.6L157.7 806.4L158.6 806.4L159.7 806.3L160.7 806.1L161.6 805.9L162.6 805.9L163.7 806.0L164.7 805.7L165.6 806.0L166.7 805.8L167.6 805.9L168.7 805.7L169.7 805.8L170.7 805.8L171.7 806.0L172.7 806.3L173.7 806.4L174.9 806.6L175.8 806.7L176.6 806.9L177.6 806.9L178.4 807.0L179.7 807.2L180.8 807.0L182.0 807.4L182.9 807.3L184.0 807.5L184.6 807.6L185.3 807.0L185.6 806.0L186.3 805.2L186.8 804.2L187.6 803.2L188.0 802.5L188.7 801.7L189.5 801.2L190.4 800.7L191.1 799.9L192.0 798.9L192.9 798.6L193.3 797.7L193.9 797.0L194.8 796.2L195.6 795.6L196.5 795.1L197.0 794.5L198.1 793.8L198.6 793.1L199.3 792.1L200.2 791.9L201.0 791.1L201.8 790.7L202.4 790.0L203.3 789.4L204.0 788.7L205.0 788.5L205.8 787.8L206.8 787.2L207.5 786.5L208.2 785.9L209.1 785.5L210.0 785.0L210.8 784.4L211.8 783.5L212.4 783.2L213.2 782.8L214.2 782.2L214.9 781.4L215.9 781.1L216.6 780.3L217.5 780.0L218.4 779.4L219.3 778.9L220.0 778.3L221.0 777.7L221.7 777.1L222.5 776.7L223.5 775.9L224.4 775.5L225.1 775.1L226.0 774.6L226.8 774.2L227.7 773.5L228.5 773.3L229.5 772.3L230.3 772.0L231.3 771.4L232.1 771.0L232.9 770.4L233.9 769.9L234.8 769.6L235.7 769.1L236.6 768.6L237.2 768.1L238.3 767.7L239.1 767.0L240.2 766.7L241.0 766.0L241.7 765.8L242.6 765.3L243.5 764.9L244.3 764.2L245.3 763.9L246.1 763.4L247.0 763.0L248.0 762.4L248.9 762.2L249.6 761.8L250.6 761.3L251.6 760.8L252.5 760.4L253.7 760.2L254.6 759.8L255.3 759.2L256.3 758.9L257.2 758.4L257.9 758.1L259.0 757.6L260.1 757.5L260.9 757.0L261.8 756.4L262.9 756.3L263.8 756.0L264.7 755.3L265.5 755.1L266.5 754.9L267.4 754.5L268.3 754.4L269.1 753.8L270.2 753.5L271.2 753.4L271.9 752.7L273.4 752.7L274.2 752.1L275.2 751.8L276.2 751.4L277.0 750.9L277.8 751.0L279.1 750.6L279.7 750.6L281.0 750.1L281.9 749.9L282.6 749.5L283.8 749.3L284.5 748.8L285.7 748.6L286.5 748.4L287.6 748.2L288.4 747.8L289.3 747.8L290.5 747.2L291.1 746.8L292.4 746.9L293.1 746.9L294.2 746.4L294.9 745.8L296.1 745.5L297.2 745.5L298.0 745.1L299.1 744.9L300.2 744.7L301.0 744.4L301.9 744.3L302.9 743.7L303.9 743.7L304.9 743.3L305.8 743.0L307.0 742.8L307.8 742.5L308.8 742.4L309.7 741.9L310.8 741.8L312.0 741.8L312.7 741.5L313.7 740.9L314.6 740.8L315.6 740.5L316.7 740.2L317.6 739.6L318.5 739.8L319.5 739.5L320.5 739.5L321.4 739.3L322.3 739.1L323.4 738.7L324.5 738.6L325.2 738.6L326.5 738.1L327.4 738.0L328.3 737.6L329.5 737.5L330.3 737.4L331.3 737.2L332.3 736.7L333.1 736.8L334.2 736.7L335.0 736.5L336.4 736.2L337.3 736.0L338.3 735.8L339.3 735.6L340.2 735.5L341.0 735.1L342.3 734.9L343.2 734.9L344.2 734.7L345.3 734.4L346.2 734.2L347.1 734.2L348.0 734.0L349.0 734.0L349.8 733.8L350.9 733.6L352.1 733.2L352.8 733.2L354.0 732.9L355.1 732.6L356.0 732.8L357.0 732.5L358.0 732.7L359.0 732.4L360.1 732.1L360.9 732.2L362.0 731.8L363.0 731.8L364.0 731.6L364.9 731.7L366.0 731.5L366.9 731.3L367.8 731.2L368.9 731.0L369.8 730.7L371.0 730.6L371.9 730.6L373.1 730.6L373.8 730.4L375.0 730.1L375.6 730.2L377.0 730.2L377.9 730.0L378.8 730.0L380.0 729.7L380.8 729.6L382.1 729.5L382.8 729.6L383.8 729.4L384.7 729.2L385.9 729.2L386.8 729.0L387.8 728.8L388.8 728.9L389.9 728.7L390.7 728.7L391.8 728.5L392.8 728.4L393.8 728.2L394.8 728.3L395.8 728.4L396.7 728.0L397.7 728.0L398.9 728.0L400.0 727.9L400.8 727.7L401.8 727.8L402.5 727.5L404.0 727.6L404.9 727.5L405.5 727.5L407.0 727.3L407.8 727.4L408.8 727.1L409.6 726.9L410.8 727.1L411.6 726.9L412.8 726.9L413.9 726.7L414.8 726.7L415.6 726.6L416.9 726.5L417.6 726.7L418.8 726.5L419.8 726.5L421.0 726.4L421.8 726.5L422.9 726.3L423.6 726.5L424.8 726.2L425.8 726.3L426.6 726.3L427.9 725.9L428.9 726.1L429.7 726.0L430.7 725.9L431.8 725.8L432.8 725.9L433.9 725.7L434.6 725.7L435.7 725.6L436.9 725.7L437.7 725.8L438.6 725.6L439.9 725.4L440.8 725.6L442.0 725.4L442.8 725.3L443.9 725.3L444.9 725.4L445.9 725.5L446.9 725.3L448.0 725.2L448.7 725.4L449.9 725.2L450.7 725.3L451.7 725.2L452.8 725.1L453.8 724.9L455.0 725.2L456.0 724.9L456.8 724.7L457.7 725.2L458.8 725.1L459.9 725.0L460.9 725.0L461.9 724.8L462.9 724.8L463.8 724.6L464.8 724.7L466.0 724.7L466.9 724.5L467.8 724.7L469.0 724.6L469.9 724.5L470.7 724.7L471.9 724.6L473.0 724.9L474.0 724.5L474.8 724.6L475.8 724.6L476.8 724.4L478.1 724.4L479.0 724.5L480.0 724.5L481.1 724.4L481.9 724.7L482.8 724.6L483.9 724.5L485.0 724.3L485.9 724.4L487.0 724.2L487.9 724.3L488.9 724.4L490.1 724.3L490.9 724.3L492.0 724.4L493.1 724.3L493.9 724.2L494.9 724.5L496.0 724.3L497.3 724.5L497.8 724.3" fill="none" stroke="#ff0000" stroke-width="1.4" stroke-linejoin="round" stroke-linecap="round" /><path d="M118.2 1082.2L118.1 1081.1L118.3 1080.1L118.3 1079.4L118.3 1077.9L118.3 1077.1L118.4 1076.2L118.2 1075.2L118.3 1074.1L118.4 1073.3L118.3 1072.1L118.4 1071.0L118.7 1070.2L118.4 1069.0L118.5 1068.1L118.6 1067.1L118.5 1066.1L118.6 1065.2L118.7 1064.3L118.5 1063.2L119.0 1062.3L118.7 1061.2L118.8 1060.2L118.7 1059.1L118.5 1058.3L118.8 1057.2L118.7 1056.1L118.9 1055.1L118.8 1054.3L118.9 1053.2L118.7 1052.0L118.8 1051.2L118.8 1050.0L118.9 1049.0L118.9 1048.1L119.1 1047.1L118.9 1046.1L119.0 1045.3L119.2 1044.2L119.0 1043.2L119.3 1042.1L119.0 1041.1L119.1 1039.9L119.0 1039.1L119.2 1038.2L119.2 1037.0L119.2 1036.1L118.9 1035.2L119.2 1034.1L119.1 1033.1L119.2 1032.0L119.0 1031.1L119.2 1030.0L119.3 1028.9L119.3 1028.0L119.4 1027.0L119.5 1026.1L119.5 1025.2L119.5 1024.0L119.5 1023.1L119.6 1021.9L119.3 1021.1L119.2 1020.1L119.4 1019.0L119.6 1017.9L119.7 1017.1L119.4 1016.1L119.7 1015.1L119.8 1013.9L119.5 1013.1L119.6 1012.1L119.6 1010.9L119.8 1009.9L119.7 1009.0L119.7 1008.1L119.6 1007.1L119.6 1005.9L119.9 1005.1L119.8 1003.9L119.7 1003.1L119.8 1002.0L119.8 1001.1L119.9 1000.0L119.9 999.0L119.8 997.8L120.1 997.0L120.1 995.9L120.1 995.2L120.0 993.8L120.1 993.1L120.3 992.1L120.1 990.9L120.2 989.8L120.3 989.1L120.3 988.0L120.1 986.9L120.3 985.9L120.2 985.0L120.4 984.1L120.3 982.7L120.4 981.9L120.3 981.1L120.4 980.0L120.4 978.9L120.4 978.1L120.4 976.8L120.5 976.0L120.7 975.1L120.4 974.1L120.5 973.1L120.5 971.9L120.7 970.9L120.7 969.9L120.7 969.0L120.6 968.1L120.7 966.9L120.8 965.8L120.6 964.8L120.6 963.9L120.8 963.0L120.8 961.8L120.8 961.0L120.8 960.0L120.8 959.1L120.8 957.8L121.0 956.8L121.0 955.8L121.0 954.9L121.0 954.0L121.1 952.8L121.1 951.8L121.0 951.0L120.8 949.9L121.2 948.8L121.0 947.9L121.2 946.9L121.2 945.8L121.2 944.8L121.5 944.0L121.2 942.9L121.4 941.8L121.4 940.7L121.5 940.0L121.5 938.8L121.4 938.0L121.4 937.0L121.4 935.7L121.5 935.0L121.5 933.8L121.7 932.8L121.4 931.8L121.5 930.9L121.6 929.8L121.5 928.7L121.7 927.7L121.7 926.8L121.5 925.6L121.5 924.8L121.8 923.9L121.7 922.8L121.6 921.9L121.7 920.6L121.7 919.7L121.9 918.9L121.8 917.7L121.9 917.0L122.0 915.6L121.8 914.7L122.1 913.8L122.2 912.8L122.0 912.0L121.9 910.7L122.2 910.0L122.2 908.9L122.2 907.5L122.2 906.5L122.3 905.7L122.0 904.6L122.3 903.8L122.2 903.0L122.5 901.7L122.3 901.0L122.4 899.7L122.5 899.0L122.3 897.6L122.4 896.7L122.6 895.7L122.8 894.6L122.8 893.8L122.8 892.6L122.9 891.5L122.8 890.6L122.8 889.7L122.7 888.7L122.7 887.7L123.0 886.6L122.8 885.6L122.8 884.6L123.1 883.4L123.0 882.7L123.1 881.8L123.0 880.8L123.2 879.8L123.1 878.6L123.3 877.4L123.3 876.5L123.5 875.9L123.3 874.7L123.3 873.5L123.4 872.6L123.6 871.9L123.6 870.9L123.6 869.8L123.7 868.8L123.8 867.6L123.7 866.6L123.9 865.7L124.1 864.6L123.8 863.7L124.0 862.8L124.0 861.9L124.3 860.8L124.4 860.0L124.4 858.6L124.5 857.8L124.5 856.7L124.7 855.8L125.0 854.8L125.0 853.6L125.1 853.1L125.0 851.5L125.2 850.8L125.1 849.9L125.3 848.7L125.5 847.7L125.3 846.6L125.7 845.9L125.6 844.7L126.0 843.6L125.9 842.8L125.9 841.8L125.9 840.8L126.0 839.6L126.0 838.6L126.3 837.8L126.1 836.7L126.1 835.9L126.2 834.7L126.4 833.7L126.3 832.7L126.3 831.7L126.5 830.7L126.6 829.6L126.6 828.7L126.8 827.8L126.9 826.7L127.0 826.0L127.1 824.7L127.0 823.7L127.2 822.7L127.2 821.7L127.1 820.8L127.4 819.7L127.7 818.6L127.6 817.7L127.6 816.9L127.7 815.8L128.0 815.0L128.5 813.7L128.6 812.7L129.2 811.7L129.4 810.9L129.9 810.1L130.4 809.2L131.0 808.4L132.1 807.9L132.9 807.2L134.0 806.9L134.9 807.0L135.7 807.0L136.7 807.2L137.7 807.2L138.9 807.2L139.9 807.7L140.6 807.8L141.8 808.2L142.5 808.5L143.6 808.8L144.7 809.0L145.8 808.7L146.6 808.9L147.8 809.0L148.6 808.7L149.5 808.3L150.1 807.8L151.1 807.3L152.2 806.5L153.1 806.1L154.1 806.0L155.0 805.8L156.0 805.7L156.7 805.5L158.1 805.3L159.0 805.4L159.8 805.4L161.0 805.4L162.2 805.2L163.0 805.2L163.9 805.1L165.2 805.2L165.8 805.2L167.1 804.8L167.9 805.1L169.1 804.7L170.1 804.9L171.0 805.0L172.2 805.2L173.0 805.1L174.1 805.2L175.1 805.1L175.7 805.5L177.2 805.7L178.2 805.5L178.9 805.9L179.9 806.1L181.0 806.2L182.2 806.3L183.2 806.5L184.1 806.6L185.1 806.7L185.5 806.6L186.3 805.8L186.6 805.1L187.3 804.0L187.6 802.8L188.1 801.8L188.8 801.1L189.6 800.2L190.2 799.4L190.8 798.8L191.4 797.9L192.5 797.3L193.1 796.7L193.8 795.9L194.6 795.4L195.3 794.7L196.2 794.2L197.2 793.6L197.9 792.8L198.5 792.3L199.2 791.6L200.4 790.9L200.7 790.4L201.7 790.0L202.7 789.3L203.3 788.7L204.2 788.3L205.1 787.3L205.9 787.2L206.8 786.5L207.4 786.1L208.4 785.1L209.3 784.7L210.0 784.2L210.9 783.5L211.8 783.1L212.6 782.5L213.3 782.2L214.2 781.2L215.2 780.8L215.8 780.4L216.9 779.7L217.6 779.0L218.6 778.8L219.1 778.0L220.3 777.5L220.9 776.9L221.9 776.4L222.7 775.9L223.3 775.3L224.5 774.9L225.2 774.5L226.0 773.9L227.1 773.3L227.8 773.0L228.6 772.3L229.4 771.7L230.6 771.3L231.1 770.8L232.1 770.2L232.9 769.7L233.9 769.4L234.7 768.8L235.5 768.1L236.2 767.6L237.3 767.3L238.1 766.8L239.3 766.4L240.1 765.9L240.9 765.7L241.8 765.2L242.7 764.6L243.6 764.2L244.5 763.6L245.3 763.1L246.3 762.8L247.2 762.4L248.1 762.0L249.0 761.4L249.6 760.9L250.7 760.7L251.6 760.2L252.7 759.6L253.5 759.4L254.3 759.1L255.2 758.4L256.2 758.1L257.3 757.9L258.2 757.5L259.2 756.9L260.2 756.7L260.7 756.2L261.7 756.1L262.7 755.7L263.8 755.2L264.6 754.8L265.5 754.6L266.6 754.3L267.5 753.7L268.5 753.4L269.4 753.1L270.5 752.8L271.2 752.4L272.3 752.3L273.2 751.8L274.3 751.5L275.0 751.3L275.9 751.1L276.9 750.6L277.9 750.3L278.8 749.9L279.8 749.4L280.8 749.2L281.8 749.1L282.8 748.8L283.7 748.4L284.6 748.1L285.5 748.1L286.6 747.6L287.6 747.4L288.6 747.1L289.5 746.9L290.4 746.7L291.3 746.2L292.2 746.1L293.4 745.7L294.3 745.4L295.6 745.3L296.2 744.7L297.1 744.6L298.3 744.4L299.2 744.4L300.0 743.8L301.0 743.9L302.0 743.4L302.8 743.2L304.1 742.9L304.9 742.5L305.8 742.5L306.8 742.1L307.9 741.9L308.6 741.7L309.8 741.4L310.6 741.3L311.5 740.9L312.8 740.7L313.6 740.6L314.6 740.2L315.8 739.9L316.7 739.9L317.5 739.5L318.7 739.5L319.4 739.1L320.5 738.8L321.5 738.5L322.7 738.5L323.5 738.2L324.6 737.9L325.4 738.0L326.4 737.6L327.3 737.3L328.3 737.1L329.3 737.2L330.2 736.8L331.2 736.5L332.2 736.5L333.1 736.3L334.2 736.0L335.2 735.8L336.1 735.6L337.2 735.6L338.4 735.1L339.2 735.0L340.3 735.0L341.2 734.7L342.2 734.4L343.2 734.3L344.1 734.2L345.2 733.9L346.2 733.6L346.9 733.6L348.1 733.3L349.3 733.2L350.0 733.1L351.0 733.1L352.1 732.8L353.1 732.6L354.0 732.5L354.9 732.1L356.0 732.2L357.3 732.2L357.9 731.6L359.2 731.6L359.8 731.6L360.9 731.4L362.0 731.3L363.1 731.3L363.8 731.1L365.0 730.8L365.9 730.8L366.9 730.8L367.8 730.4L368.9 730.3L369.7 730.5L371.0 730.4L372.1 730.3L372.8 729.9L374.0 729.9L374.9 729.5L375.9 729.7L377.0 729.5L378.0 729.2L378.8 729.2L379.7 729.2L381.0 729.1L382.0 729.0L382.8 728.7L383.9 728.5L384.9 728.6L386.0 728.6L386.8 728.3L387.9 728.4L388.8 728.1L389.7 728.0L391.0 728.1L392.0 727.8L392.7 727.9L394.0 727.8L395.0 727.8L396.0 727.6L396.8 727.5L397.9 727.2L398.9 727.6L399.9 727.3L400.8 727.3L401.9 727.1L402.8 727.1L403.9 726.9L405.0 727.0L406.1 726.8L406.9 726.9L407.9 726.6L408.7 726.7L410.1 726.7L410.8 726.4L411.9 726.3L413.0 726.3L414.1 726.3L414.7 726.2L415.8 726.2L416.9 725.9L417.7 725.8L418.9 725.8L420.0 725.9L420.7 725.8L422.0 726.0L422.7 725.6L423.9 725.7L424.8 725.8L426.0 725.9L426.8 725.4L427.8 725.4L428.6 725.2L429.9 725.2L430.8 725.3L432.0 725.3L433.2 725.3L433.9 725.2L434.7 725.2L436.0 725.1L436.9 724.9L437.7 725.0L438.9 725.0L440.2 724.9L441.0 724.6L441.8 724.7L442.8 724.8L443.8 724.7L444.9 724.8L445.9 724.5L446.9 724.8L447.9 724.6L449.0 724.7L449.8 724.7L451.0 724.5L452.0 724.4L453.0 724.6L454.1 724.6L454.7 724.4L456.0 724.2L456.7 724.6L457.8 724.5L459.0 724.4L460.0 724.4L461.0 724.3L462.0 724.0L463.0 724.4L464.0 724.1L464.8 724.3L465.9 724.3L466.8 724.1L468.1 724.2L468.9 724.2L470.1 724.1L470.8 724.1L471.9 724.0L473.1 724.0L474.1 723.9L475.0 723.8L475.8 724.1L477.1 724.0L478.0 723.8L479.2 724.0L480.0 723.9L481.0 724.0L481.7 724.0L483.1 723.8L484.2 723.8L484.8 723.7L486.1 723.8L487.0 724.0L487.9 723.9L489.1 723.9L489.8 724.1" fill="none" stroke="#ff0000" stroke-width="1.4" stroke-linejoin="round" stroke-linecap="round" /></g>
<g class="legend"><rect x="495" y="960.8" width="163" height="108.7" fill="#fff"/><line x1="514" y1="980.3" x2="559.2" y2="980.3" stroke="#000" stroke-width="3.5" stroke-linecap="round"/><text x="652.2" y="989.7" font-size="27.2" text-anchor="end">20 °C</text><line x1="514" y1="1015.5" x2="559.2" y2="1015.5" stroke="#0000ff" stroke-width="3.5" stroke-linecap="round"/><text x="654.7" y="1024.5" font-size="27.2" text-anchor="end">-20 °C</text><line x1="514" y1="1050.5" x2="559.2" y2="1050.5" stroke="#ff0000" stroke-width="3.5" stroke-linecap="round"/><text x="654.7" y="1059.7" font-size="27.2" text-anchor="end">-60 °C</text></g>
<g class="axes"><rect x="118.5" y="652.4" width="544.5" height="429.8" fill="none" stroke="#000" stroke-width="2.8"/><line x1="118.5" y1="1082.2" x2="118.5" y2="1097" stroke="#000" stroke-width="2.8"/><line x1="186.56" y1="1082.2" x2="186.56" y2="1088.4" stroke="#000" stroke-width="2.8"/><line x1="254.62" y1="1082.2" x2="254.62" y2="1097" stroke="#000" stroke-width="2.8"/><line x1="322.69" y1="1082.2" x2="322.69" y2="1088.4" stroke="#000" stroke-width="2.8"/><line x1="390.75" y1="1082.2" x2="390.75" y2="1097" stroke="#000" stroke-width="2.8"/><line x1="458.81" y1="1082.2" x2="458.81" y2="1088.4" stroke="#000" stroke-width="2.8"/><line x1="526.88" y1="1082.2" x2="526.88" y2="1097" stroke="#000" stroke-width="2.8"/><line x1="594.94" y1="1082.2" x2="594.94" y2="1088.4" stroke="#000" stroke-width="2.8"/><line x1="663" y1="1082.2" x2="663" y2="1097" stroke="#000" stroke-width="2.8"/><line x1="118.5" y1="1082.2" x2="103.7" y2="1082.2" stroke="#000" stroke-width="2.8"/><line x1="118.5" y1="1028.48" x2="112.3" y2="1028.48" stroke="#000" stroke-width="2.8"/><line x1="118.5" y1="974.75" x2="103.7" y2="974.75" stroke="#000" stroke-width="2.8"/><line x1="118.5" y1="921.03" x2="112.3" y2="921.03" stroke="#000" stroke-width="2.8"/><line x1="118.5" y1="867.3" x2="103.7" y2="867.3" stroke="#000" stroke-width="2.8"/><line x1="118.5" y1="813.58" x2="112.3" y2="813.58" stroke="#000" stroke-width="2.8"/><line x1="118.5" y1="759.85" x2="103.7" y2="759.85" stroke="#000" stroke-width="2.8"/><line x1="118.5" y1="706.12" x2="112.3" y2="706.12" stroke="#000" stroke-width="2.8"/><line x1="118.5" y1="652.4" x2="103.7" y2="652.4" stroke="#000" stroke-width="2.8"/></g>
<g class="labels" font-size="28"><text x="118.8" y="1128.7" text-anchor="middle">0</text><text x="254.93" y="1128.7" text-anchor="middle">50</text><text x="391.05" y="1128.7" text-anchor="middle">100</text><text x="527.17" y="1128.7" text-anchor="middle">150</text><text x="663.3" y="1128.7" text-anchor="middle">200</text><text x="93.5" y="1090.3" text-anchor="end">0</text><text x="93.5" y="982.85" text-anchor="end">200</text><text x="93.5" y="875.4" text-anchor="end">400</text><text x="93.5" y="767.95" text-anchor="end">600</text><text x="93.5" y="660.5" text-anchor="end">800</text><text x="391.45" y="1167.2" text-anchor="middle">Strain (x10<tspan font-size="18" dy="-10.5">-3</tspan><tspan dy="10.5"> mm/mm)</tspan></text><text transform="translate(37.2 866.9) rotate(-90)" text-anchor="middle">Stress (MPa)</text><text x="374.75" y="1214.2" font-size="32" text-anchor="middle">(b)</text></g>
</g>
<g id="chart-c">
<g class="grid"><line x1="185.88" y1="1705.3" x2="185.88" y2="1275.5" stroke="#bdbdbd" stroke-width="1.3" stroke-dasharray="9.2 8.8"/><line x1="322.03" y1="1705.3" x2="322.03" y2="1275.5" stroke="#bdbdbd" stroke-width="1.3" stroke-dasharray="9.2 8.8"/><line x1="458.18" y1="1705.3" x2="458.18" y2="1275.5" stroke="#bdbdbd" stroke-width="1.3" stroke-dasharray="9.2 8.8"/><line x1="594.33" y1="1705.3" x2="594.33" y2="1275.5" stroke="#bdbdbd" stroke-width="1.3" stroke-dasharray="9.2 8.8"/><line x1="117.8" y1="1651.58" x2="662.4" y2="1651.58" stroke="#bdbdbd" stroke-width="1.3" stroke-dasharray="9.2 8.8"/><line x1="117.8" y1="1544.12" x2="662.4" y2="1544.12" stroke="#bdbdbd" stroke-width="1.3" stroke-dasharray="9.2 8.8"/><line x1="117.8" y1="1436.67" x2="662.4" y2="1436.67" stroke="#bdbdbd" stroke-width="1.3" stroke-dasharray="9.2 8.8"/><line x1="117.8" y1="1329.22" x2="662.4" y2="1329.22" stroke="#bdbdbd" stroke-width="1.3" stroke-dasharray="9.2 8.8"/><line x1="253.95" y1="1705.3" x2="253.95" y2="1275.5" stroke="#8c8c8c" stroke-width="1.3"/><line x1="390.1" y1="1705.3" x2="390.1" y2="1275.5" stroke="#8c8c8c" stroke-width="1.3"/><line x1="526.25" y1="1705.3" x2="526.25" y2="1275.5" stroke="#8c8c8c" stroke-width="1.3"/><line x1="117.8" y1="1597.85" x2="662.4" y2="1597.85" stroke="#8c8c8c" stroke-width="1.3"/><line x1="117.8" y1="1490.4" x2="662.4" y2="1490.4" stroke="#8c8c8c" stroke-width="1.3"/><line x1="117.8" y1="1382.95" x2="662.4" y2="1382.95" stroke="#8c8c8c" stroke-width="1.3"/></g>
<clipPath id="clip3"><rect x="117.8" y="1273.5" width="544.6" height="431.8"/></clipPath>
<g class="curves" clip-path="url(#clip3)"><path d="M127.2 1706.1L128.5 1703.3L129.3 1703.5L130.0 1702.5L131.2 1701.2L131.6 1700.5L134.3 1700.6L135.6 1699.6L136.5 1698.4L137.1 1698.7L137.9 1697.9L138.0 1697.5L139.0 1696.1L140.0 1694.6L140.9 1695.6L141.8 1694.6L142.2 1694.5L143.5 1693.4L145.6 1691.8L145.3 1691.2L146.1 1691.2L146.4 1690.4L147.9 1690.0L149.6 1689.8L150.5 1688.6L150.3 1688.2L152.6 1687.0L154.2 1687.0L155.1 1685.0L156.6 1685.7L157.9 1684.0L157.0 1683.8L157.0 1683.2L158.9 1681.7L159.3 1681.5L161.3 1680.3L162.8 1679.5L164.0 1677.6L164.8 1677.1L166.5 1676.5L166.3 1675.4L168.5 1674.6L169.3 1674.0L170.6 1672.9L170.6 1671.5L171.2 1671.1L171.2 1670.7L172.0 1669.1L173.5 1668.5L175.6 1668.2L175.9 1667.9L178.2 1666.1L177.8 1664.5L179.4 1664.0L181.3 1663.3L181.3 1662.8L180.1 1662.0L182.6 1661.0L183.4 1660.4L183.4 1658.9L183.6 1659.0L185.3 1658.5L186.6 1658.9L188.9 1657.2L189.8 1655.6L190.5 1656.2L191.6 1655.2L189.9 1656.0L192.2 1655.2L193.4 1655.2L193.7 1654.2L195.2 1653.1L195.6 1652.0L197.8 1652.0L198.4 1650.6L200.2 1650.5L199.6 1648.4L199.6 1647.2L200.7 1646.6L200.7 1646.5L202.9 1646.9L204.5 1643.8L205.3 1644.1L205.5 1642.6L206.1 1642.8L207.6 1639.8L207.6 1639.7L209.2 1640.2L210.0 1638.6L212.4 1638.0L213.1 1636.8L212.7 1636.5L214.7 1634.8L213.6 1636.3L215.0 1634.6L214.5 1633.5L217.2 1631.9L220.7 1632.7L220.6 1630.7L222.1 1629.4L221.7 1628.5L222.3 1629.2L223.5 1629.0L223.9 1626.9L226.9 1626.7L226.3 1626.2L228.3 1625.1L232.1 1624.3L230.7 1624.4L230.6 1624.8L232.9 1624.1L234.1 1622.7L234.2 1622.2L235.1 1621.7L236.6 1621.7L237.1 1621.7L239.1 1621.3L239.2 1620.7L239.4 1620.0L239.3 1619.7L242.0 1618.8L243.3 1617.6L242.3 1617.1L244.4 1615.5L245.5 1615.0L247.2 1613.9L246.1 1612.6L248.0 1612.8L249.9 1613.1L249.8 1613.3L252.0 1612.2L251.9 1610.3L253.5 1609.5L253.2 1608.5L254.2 1606.5L254.9 1605.7L254.5 1604.4L257.5 1605.0L260.0 1605.5L262.7 1605.0L262.6 1603.8L263.2 1603.1L264.7 1601.7L266.1 1600.2L265.1 1599.8L266.8 1599.0L267.1 1599.4L265.3 1598.5L269.2 1597.5L269.7 1597.0L271.0 1595.8L271.0 1594.5L270.9 1593.1L271.8 1591.9L273.5 1591.7L273.3 1589.0L276.1 1588.6L274.8 1588.6L279.2 1589.0L280.1 1586.8L278.1 1585.1L280.6 1585.1L279.3 1584.9L279.3 1584.1L281.3 1583.9L283.3 1584.0L284.1 1582.5L284.1 1580.3L285.8 1579.6L287.1 1580.5L289.5 1580.2L286.3 1578.2L287.7 1578.3L290.4 1578.1L290.8 1578.5L292.3 1577.3L297.8 1575.8L294.7 1575.0L296.4 1573.5L294.6 1572.8L295.8 1572.9L299.5 1573.3L300.4 1574.0L298.7 1569.1L304.6 1570.3L303.4 1569.0L303.3 1568.9L305.5 1566.9L305.5 1566.7L304.5 1567.1L307.1 1565.2L309.5 1564.2L309.5 1563.6L307.2 1562.8L308.8 1561.9L310.4 1563.4L312.6 1561.7L314.7 1561.9L312.5 1559.8L312.9 1561.4L316.5 1561.1L315.8 1558.7L317.9 1558.8L320.1 1558.4L320.0 1558.7L317.8 1555.6L318.7 1553.6L318.8 1552.0L322.7 1553.1L324.3 1549.7L322.7 1549.1L325.4 1546.7L325.9 1546.3L327.9 1545.4L328.2 1545.3L329.2 1545.5L331.9 1545.2L332.0 1543.1L330.9 1541.7L333.9 1541.9L333.1 1541.7L335.7 1540.2L333.9 1539.6L335.6 1536.7L338.3 1536.0L336.2 1534.6L337.5 1533.4L336.5 1531.5L336.6 1530.9L339.5 1527.8L340.2 1526.6L339.3 1527.8L344.9 1526.3L345.4 1527.0L342.5 1525.2L346.3 1526.9L347.6 1523.8L347.2 1524.1L347.2 1524.8L350.2 1524.5L351.1 1522.4L353.9 1522.8L353.9 1523.5L352.6 1522.0L352.7 1521.4L354.8 1520.5L357.2 1520.5L355.5 1519.0L358.9 1519.6L361.5 1517.2L358.2 1515.4L363.5 1512.6L360.9 1512.5L361.7 1512.7L361.4 1513.7L363.7 1512.4L363.4 1510.9L364.3 1509.8L368.3 1506.1L361.2 1504.3L364.9 1504.5L364.9 1505.4L367.6 1506.0L368.9 1504.7L370.4 1502.8L371.6 1502.2L371.8 1500.2L373.9 1501.4L370.5 1500.5L374.2 1498.2L376.5 1499.0L379.7 1500.1L377.1 1497.1L378.0 1496.1L381.6 1498.2L381.6 1497.0L378.9 1494.6L384.8 1494.5L384.2 1496.0L384.2 1493.6L384.9 1492.7L386.2 1490.7L384.9 1490.5L387.3 1489.3L390.0 1491.4L389.3 1488.2L389.2 1485.3L394.7 1487.6L392.2 1484.6L397.1 1483.9L395.4 1482.6L392.2 1480.7L397.3 1478.3L397.1 1477.9L395.8 1477.2L400.0 1477.4L398.8 1475.2L401.5 1472.2L405.2 1469.8L405.5 1468.7L405.5 1468.4L408.2 1468.1L407.6 1467.9L405.6 1468.3L406.0 1467.1L407.1 1465.2L409.2 1465.6L407.3 1463.2L409.5 1464.6L412.0 1464.9L412.1 1464.7L415.5 1464.5L416.6 1462.5L416.4 1461.6L416.7 1460.3L415.0 1459.5L414.2 1461.0L422.3 1459.0L421.2 1457.4L419.9 1456.4L420.1 1456.7L421.9 1456.8L424.3 1456.6L425.0 1452.9L423.1 1453.1L431.7 1454.3L427.4 1453.4L425.9 1453.0L430.0 1452.0L432.2 1449.9L433.4 1450.1L433.3 1446.9L431.3 1447.9L435.7 1445.7L433.9 1445.3L436.3 1444.0L438.3 1446.6L440.9 1445.1L441.3 1445.3L440.6 1442.4L447.2 1443.2L441.7 1443.8L441.3 1442.7L442.9 1442.1L445.0 1440.6L446.9 1438.5L442.8 1439.4L445.0 1433.8L449.2 1437.0L449.5 1434.3L449.1 1432.8L448.1 1431.8L449.7 1429.2L451.1 1430.4L453.5 1428.7L455.9 1429.5L456.8 1429.9L453.0 1429.7L456.3 1429.4L456.1 1432.3L458.3 1427.7L459.4 1430.2L459.4 1426.5L461.9 1428.1L460.4 1428.3L468.2 1428.3L466.3 1426.8L469.3 1427.0L466.2 1426.9L466.1 1425.4L472.6 1422.0L466.9 1418.5L469.5 1419.0L474.9 1418.7L474.8 1420.7L472.2 1419.5L474.3 1418.2L475.7 1419.1L477.9 1419.5L475.7 1417.9L479.8 1419.9L481.5 1418.6L480.0 1415.7L480.2 1413.1L485.5 1411.7L482.4 1410.9L482.7 1409.9L487.5 1410.3L488.7 1407.2L486.5 1407.5L487.0 1407.2L493.1 1406.2L494.5 1404.6L495.4 1406.6L497.3 1404.6L493.1 1403.5L492.6 1402.1L498.5 1402.8L499.1 1402.1L497.8 1401.6L498.5 1400.2L497.6 1400.2L497.3 1401.5L499.0 1400.5L500.9 1399.1L502.9 1398.6L501.3 1395.5L504.2 1396.3L506.7 1395.4L505.6 1395.2L504.2 1392.8L509.1 1388.8L506.9 1388.9L510.1 1388.6L514.9 1387.9L517.6 1386.6L515.8 1387.0L513.3 1389.8L512.8 1388.8L515.6 1388.3L518.3 1388.7L518.7 1385.2L516.6 1385.3L518.3 1384.4L521.2 1381.9L521.7 1380.9L525.6 1381.6L524.0 1382.1L524.5 1382.5L524.5 1379.9L524.4 1378.8L522.2 1378.8L525.0 1375.1L523.4 1377.7L527.1 1375.3L527.7 1373.1L528.7 1373.7L532.6 1373.2L530.6 1370.3L532.6 1368.5L531.8 1367.5L533.6 1370.5L536.1 1369.1L531.7 1370.0L539.6 1367.7L540.8 1366.0L540.6 1366.4L540.9 1366.7L542.4 1365.3L542.4 1362.6L545.7 1361.3L541.7 1363.4L542.8 1361.6L546.5 1358.2L542.4 1361.7L550.8 1360.2L548.5 1359.3L549.8 1360.4L548.3 1359.9L545.5 1357.7L550.5 1356.8L552.4 1355.7L552.1 1351.8L553.4 1351.1L555.2 1350.9L559.3 1349.4L555.9 1347.9L557.8 1347.5L559.4 1348.4L559.6 1347.4L558.7 1345.5L563.2 1345.9L564.5 1345.8L561.2 1348.3L567.8 1344.5L568.0 1343.3L567.6 1342.1L568.5 1340.3L567.7 1342.0L568.3 1338.9L571.1 1338.2L569.3 1338.2L575.4 1334.0L570.6 1336.7L575.3 1334.2L571.8 1334.6L577.6 1331.9L579.3 1333.3L574.6 1331.3L578.9 1329.9L579.1 1332.0L583.2 1329.7L576.4 1330.2L581.6 1330.3L584.6 1328.1L583.2 1322.1" fill="none" stroke="#000" stroke-width="2.75" stroke-linejoin="round" stroke-linecap="round" /><path d="M125.6 1705.0L125.4 1703.9L126.2 1703.3L127.2 1702.2L127.3 1701.4L129.0 1700.6L129.9 1699.2L130.4 1698.2L130.8 1697.5L131.7 1696.5L132.3 1695.3L132.8 1693.9L135.4 1693.7L134.7 1692.6L134.4 1692.0L136.0 1691.6L136.9 1691.2L138.6 1689.9L139.3 1690.2L141.5 1688.9L142.6 1687.2L142.8 1687.4L143.2 1686.2L144.9 1683.7L145.5 1684.9L146.6 1683.7L146.6 1683.5L148.4 1683.0L148.2 1681.0L149.3 1681.7L151.9 1680.6L151.0 1680.0L152.9 1678.8L153.5 1678.0L154.4 1677.5L156.3 1675.9L155.7 1675.5L158.0 1674.9L158.7 1675.2L159.4 1673.4L158.5 1673.3L160.0 1671.3L162.3 1671.0L161.4 1670.1L164.0 1670.0L164.9 1669.1L164.3 1668.5L165.4 1668.2L167.4 1666.6L166.8 1666.2L169.1 1665.9L170.2 1665.1L170.0 1664.4L170.7 1665.2L171.3 1663.3L171.7 1661.8L173.5 1660.9L174.1 1662.6L175.1 1660.3L176.4 1658.8L176.3 1657.8L178.3 1656.9L178.6 1657.0L180.8 1657.0L182.4 1656.2L183.3 1655.1L183.8 1652.9L185.2 1651.9L186.0 1651.4L188.0 1651.2L186.3 1648.3L189.5 1648.5L189.3 1646.8L188.5 1646.1L191.5 1646.2L192.6 1645.2L192.6 1643.4L195.6 1643.9L193.8 1642.9L195.2 1641.8L197.2 1641.3L198.9 1639.8L198.6 1638.1L200.9 1638.6L200.8 1637.4L202.3 1637.0L202.1 1636.2L203.2 1635.3L203.9 1635.1L205.8 1635.8L205.1 1633.0L206.2 1632.5L208.8 1632.8L210.5 1631.3L209.6 1630.5L212.1 1630.4L213.7 1629.6L213.4 1629.6L213.9 1630.3L214.2 1629.4L213.8 1629.7L216.1 1629.4L217.3 1628.0L217.0 1627.1L219.7 1626.0L219.2 1625.8L221.4 1623.8L221.9 1623.5L223.5 1622.9L224.6 1622.4L224.9 1621.8L227.9 1621.2L226.1 1618.8L228.3 1619.8L230.6 1619.3L232.5 1618.4L231.4 1616.3L234.3 1614.8L233.9 1614.8L235.1 1613.0L234.6 1612.8L236.1 1611.5L237.3 1610.7L237.5 1610.7L238.9 1608.5L241.0 1607.6L242.6 1609.3L242.5 1610.2L243.8 1607.2L243.3 1605.9L245.6 1604.9L245.0 1605.1L247.1 1603.5L246.4 1602.2L248.7 1601.6L251.1 1602.5L251.4 1600.8L249.8 1599.6L253.9 1597.4L253.5 1597.5L253.6 1596.5L258.0 1595.9L256.5 1595.4L258.7 1595.5L257.8 1594.9L260.7 1594.9L262.3 1592.7L259.2 1592.5L262.3 1592.6L262.0 1590.1L263.7 1589.7L264.2 1588.8L265.3 1587.7L264.3 1586.4L267.6 1587.0L268.1 1585.6L269.1 1584.9L271.7 1584.2L271.2 1584.1L270.9 1581.9L273.0 1582.1L271.1 1581.9L273.5 1582.6L273.4 1581.2L274.6 1581.2L275.6 1579.6L277.7 1578.9L280.2 1578.3L278.7 1577.5L280.3 1576.5L282.4 1576.2L283.1 1575.5L286.6 1574.9L285.4 1574.0L288.5 1572.4L286.6 1570.0L284.4 1571.4L286.6 1570.7L288.5 1568.9L286.3 1569.8L288.6 1568.0L288.0 1566.6L290.8 1563.4L293.1 1562.2L294.1 1562.5L293.5 1562.0L292.7 1560.8L296.2 1561.4L296.9 1561.3L299.1 1558.9L298.0 1559.9L299.9 1558.8L298.9 1557.6L301.1 1555.7L301.6 1555.6L302.6 1553.9L305.2 1554.3L303.1 1551.8L304.8 1551.2L304.3 1550.6L307.8 1548.9L309.7 1549.9L311.1 1549.0L313.7 1549.9L312.7 1549.1L312.8 1547.2L315.7 1544.7L316.4 1546.8L316.1 1546.6L316.7 1543.2L314.2 1541.5L316.4 1540.5L318.8 1540.8L320.5 1539.9L319.4 1539.4L322.3 1538.0L323.5 1538.1L322.8 1537.6L323.4 1536.6L325.5 1536.1L325.0 1532.0L328.9 1530.4L328.0 1532.4L330.5 1532.6L328.7 1529.9L329.9 1530.0L331.4 1530.9L334.9 1530.5L331.7 1528.4L335.2 1527.9L334.5 1528.2L336.1 1527.8L334.3 1525.8L337.8 1526.1L338.5 1525.3L340.5 1523.8L339.8 1523.7L340.4 1522.0L342.8 1523.7L341.7 1523.8L342.1 1520.4L344.9 1518.4L346.5 1520.2L345.7 1515.5L346.6 1515.8L349.4 1516.4L347.1 1516.7L344.3 1516.9L349.2 1514.1L351.2 1514.3L351.0 1512.6L352.6 1510.0L349.2 1509.7L352.6 1509.1L355.5 1506.8L356.4 1507.5L357.0 1504.9L356.1 1506.2L357.9 1505.8L359.5 1501.7L363.4 1501.8L366.1 1500.1L362.3 1499.2L365.8 1498.9L364.5 1497.4L368.2 1496.9L368.1 1494.5L369.5 1495.5L369.1 1495.6L369.2 1489.9L369.2 1492.2L370.3 1489.5L373.1 1489.7L375.4 1486.7L373.9 1487.7L371.8 1486.1L374.9 1485.2L373.3 1480.7L375.2 1482.5L375.1 1477.9L373.3 1477.4L374.9 1476.9L375.6 1475.1L376.8 1473.7L378.6 1472.7L377.2 1474.0L379.9 1473.4L379.3 1474.1L386.5 1475.3L384.3 1472.6L384.3 1472.4L387.3 1472.1L386.5 1471.3L385.1 1471.3L390.4 1468.1L386.6 1469.1L389.5 1467.3L388.3 1466.5L390.4 1465.0L391.0 1464.5L389.3 1465.3L389.7 1464.1L393.4 1460.8L393.2 1462.0L394.2 1459.6L394.9 1458.9L396.6 1460.2L396.6 1457.3L396.7 1457.0L401.6 1455.9L398.3 1455.7L399.7 1454.3L401.9 1455.4L403.5 1456.7L400.7 1456.0L404.0 1454.9L403.5 1452.5L405.5 1453.2L403.8 1451.4L401.3 1450.9L405.0 1449.8L408.5 1447.9L408.3 1447.0L408.9 1445.7L410.3 1443.4L413.1 1444.0L410.9 1443.1L411.1 1442.5L414.3 1441.2L415.1 1443.9L416.0 1439.5L416.5 1440.4L413.4 1439.3L415.0 1436.7L419.2 1435.7L418.5 1437.1L418.9 1435.5L420.4 1435.6L421.7 1433.2L424.4 1432.1L418.8 1429.7L422.8 1427.0L427.1 1429.9L423.3 1426.9L427.2 1426.0L425.4 1425.3L429.8 1425.5L427.1 1426.1L429.8 1421.4L431.5 1424.6L430.1 1424.2L430.0 1421.2L433.4 1420.7L436.2 1419.6L436.6 1418.6L438.2 1417.6L436.1 1417.2L440.5 1414.9L439.4 1415.9L439.3 1412.2L441.8 1410.8L444.3 1410.8L444.2 1411.1L446.6 1409.7L448.0 1409.8L452.1 1406.3L451.1 1407.2L448.9 1408.6L453.4 1407.3L452.2 1405.6L458.3 1407.3L459.9 1405.1L456.5 1404.5L455.2 1404.2L459.1 1403.0L458.1 1402.7L459.5 1400.9L459.9 1403.3L458.7 1400.4L462.7 1400.1L464.0 1400.9L463.4 1397.9L463.5 1400.3L463.6 1397.7L466.1 1400.3L467.5 1401.3L465.6 1400.3L463.8 1395.3L469.5 1396.0L468.5 1396.8L469.8 1398.4L473.4 1394.3L473.2 1392.6L469.2 1389.3L472.3 1385.3L474.2 1385.8L472.4 1383.4L473.2 1383.2L476.4 1383.8L477.9 1381.9L479.1 1378.5L481.4 1375.2L479.7 1375.9L482.6 1374.2L483.3 1373.4L485.3 1375.8L480.6 1376.1L485.0 1376.1L482.5 1377.2L482.4 1380.5L486.0 1374.5L488.2 1378.5L490.3 1374.4L489.9 1372.3L491.4 1371.8L491.4 1369.0L493.9 1368.4L496.6 1368.8L492.7 1371.4L496.6 1369.8L497.1 1368.0L497.5 1368.5L499.9 1366.9L500.6 1366.0L499.1 1365.2L500.2 1364.6L505.9 1361.4L507.5 1362.5L511.2 1363.9L508.9 1361.5L512.5 1361.0L510.2 1358.6L510.0 1360.1L513.2 1356.8L512.8 1356.9L514.1 1355.1L511.8 1356.8L517.7 1354.1L517.7 1357.1L520.9 1353.6L522.1 1352.8L525.5 1354.1L522.6 1354.5L522.5 1352.6L525.5 1350.5L527.4 1352.1L524.5 1349.3L525.0 1346.2L526.2 1344.3L526.8 1344.8L528.0 1348.3L530.6 1344.9L529.5 1343.6L531.4 1342.3L529.7 1345.6L533.3 1341.8L532.7 1342.6L535.0 1342.2L535.2 1340.6L536.3 1339.3L536.7 1339.4L537.5 1339.8L539.3 1340.3L540.1 1338.1L540.7 1337.5L543.5 1342.4L543.9 1337.2L543.2 1336.5L548.7 1337.3L548.3 1336.3L546.9 1334.9L550.0 1336.3L551.8 1335.5L551.0 1334.1" fill="none" stroke="#000" stroke-width="2.75" stroke-linejoin="round" stroke-linecap="round" /><path d="M124.8 1705.9L126.8 1704.9L127.0 1703.9L127.0 1703.1L128.0 1701.2L128.3 1700.4L129.4 1699.8L130.8 1698.4L130.2 1697.3L132.3 1695.8L132.3 1695.1L131.8 1693.4L133.0 1693.1L134.4 1692.9L135.5 1691.7L138.5 1691.7L139.8 1691.1L139.5 1690.6L140.6 1689.5L140.9 1688.5L142.8 1689.3L142.4 1687.4L143.7 1686.5L145.5 1685.9L147.1 1683.9L147.8 1683.7L146.4 1683.2L149.1 1682.7L149.6 1681.6L151.6 1680.5L153.7 1680.8L152.7 1679.6L155.0 1678.4L156.3 1678.5L155.4 1676.9L158.2 1676.5L158.6 1676.2L159.4 1676.0L159.8 1675.3L161.4 1674.7L162.9 1674.3L162.4 1673.9L163.4 1672.9L164.2 1673.4L165.4 1672.1L166.6 1670.7L168.2 1670.9L169.3 1669.9L169.6 1669.1L171.0 1669.1L171.4 1667.9L173.1 1666.7L172.7 1666.5L173.2 1665.2L174.9 1664.3L174.7 1664.0L177.5 1662.6L178.3 1662.3L179.3 1661.5L180.4 1660.8L181.5 1660.2L181.8 1658.6L182.6 1658.2L183.4 1657.0L185.3 1656.8L186.5 1655.7L188.1 1655.0L187.5 1654.0L188.5 1654.6L189.4 1652.8L189.3 1651.5L191.2 1650.8L192.5 1651.4L193.5 1650.1L196.0 1649.0L194.1 1648.9L195.3 1647.6L195.9 1648.0L198.9 1646.6L199.9 1645.1L199.4 1644.3L201.9 1644.7L201.8 1642.7L204.9 1641.8L204.2 1641.2L205.8 1640.4L204.7 1638.8L207.0 1638.2L207.0 1637.9L207.5 1637.4L207.4 1635.7L211.1 1634.7L212.1 1634.7L211.9 1633.8L213.9 1632.6L214.5 1633.1L215.4 1633.0L214.8 1632.8L217.2 1633.0L217.0 1631.2L216.7 1631.2L218.8 1630.1L218.7 1629.2L221.2 1629.1L221.6 1628.0L223.1 1626.9L224.4 1625.9L226.3 1625.1L226.7 1624.5L225.6 1624.5L228.7 1623.6L228.6 1622.2L231.2 1620.8L231.4 1619.4L232.6 1617.8L233.0 1618.3L234.9 1618.5L236.5 1617.0L236.0 1616.0L236.9 1615.8L238.3 1615.9L240.3 1615.0L241.8 1614.3L243.9 1614.3L243.2 1612.7L244.9 1611.2L244.0 1611.8L246.7 1610.7L246.1 1609.2L246.2 1608.0L247.3 1606.7L249.3 1606.0L250.9 1603.7L250.8 1602.8L253.7 1601.9L253.5 1601.3L253.1 1601.1L254.2 1601.2L257.6 1599.5L255.7 1599.0L256.2 1598.9L257.5 1597.7L258.0 1597.3L261.1 1596.3L262.4 1594.8L260.5 1594.5L263.8 1595.1L263.4 1594.5L263.9 1592.6L263.5 1591.4L266.0 1592.6L266.0 1593.4L268.1 1591.9L267.9 1590.1L270.2 1587.9L273.4 1587.2L270.7 1587.1L271.8 1587.0L275.4 1584.6L277.8 1583.2L274.7 1584.7L276.7 1582.1L276.2 1581.0L280.0 1581.2L280.0 1579.3L279.3 1579.7L280.9 1579.0L283.5 1578.4L279.6 1578.0L281.8 1578.6L283.3 1577.6L285.1 1575.3L286.3 1575.0L286.5 1575.6L289.0 1575.9L287.9 1574.8L287.6 1573.0L288.6 1572.7L287.9 1571.5L290.8 1569.6L293.0 1570.4L292.3 1569.2L294.7 1568.9L293.2 1568.1L296.5 1567.2L295.9 1562.6L299.8 1562.3L299.3 1560.1L300.5 1560.9L300.4 1558.1L301.5 1559.2L303.3 1557.8L303.3 1559.3L304.6 1557.0L308.4 1554.7L309.9 1554.9L309.9 1554.1L310.3 1554.4L308.2 1555.0L306.7 1555.0L311.4 1552.2L312.6 1551.9L313.5 1550.6L313.9 1549.1L314.9 1547.2L313.2 1546.0L316.4 1542.3L317.1 1544.7L319.3 1546.5L319.9 1545.6L319.0 1543.2L321.4 1543.4L322.9 1543.2L324.9 1540.9L327.6 1538.8L324.1 1539.0L326.9 1541.9L329.7 1540.8L328.3 1538.9L327.2 1538.2L331.8 1538.0L333.3 1537.2L332.8 1537.5L333.4 1536.6L331.1 1534.1L338.2 1534.2L333.7 1534.9L334.7 1534.5L337.9 1531.4L338.6 1529.8L338.0 1529.7L338.9 1528.4L339.7 1526.6L341.3 1527.3L341.1 1526.3L342.2 1528.0L342.8 1525.8L345.3 1524.2L346.0 1522.6L345.3 1523.3L348.9 1520.4L350.3 1522.0L351.1 1517.5L348.7 1516.6L353.5 1514.9L356.1 1516.5L354.4 1513.0L353.8 1512.5L355.5 1513.9L356.0 1514.2L356.7 1512.0L358.8 1513.1L358.7 1511.8L358.2 1507.5L362.4 1509.4L363.2 1508.9L359.2 1507.1L362.2 1506.7L362.8 1507.0L359.3 1505.8L362.5 1505.6L367.2 1504.9L366.6 1502.3L369.3 1501.6L369.3 1503.6L370.2 1501.3L370.3 1500.8L370.1 1498.6L369.3 1497.3L370.7 1497.1L374.9 1497.6L375.2 1497.1L377.5 1497.5L377.2 1494.9L376.5 1494.8L381.2 1494.3L381.5 1492.2L382.6 1489.5L384.7 1487.9L384.5 1489.9L388.3 1486.3L385.0 1485.5L387.0 1483.5L389.1 1484.5L389.4 1483.3L392.2 1483.9L392.2 1482.6L390.2 1479.0L390.6 1480.4L389.1 1480.5L395.8 1479.2L394.0 1478.7L395.3 1478.3L393.4 1476.9L394.5 1474.9L398.2 1474.0L396.6 1470.9L397.3 1468.7L398.7 1469.1L396.9 1470.3L397.7 1468.7L397.4 1468.4L397.1 1468.3L401.0 1467.0L400.9 1466.3L406.4 1466.5L405.1 1466.1L402.1 1465.2L405.9 1465.8L406.5 1467.3L410.3 1465.9L409.8 1465.1L407.3 1464.0L409.9 1461.3L412.8 1462.0L412.9 1460.5L413.0 1458.0L413.7 1458.4L412.0 1457.1L414.5 1457.3L415.2 1458.2L415.3 1458.2L417.2 1454.3L416.5 1453.9L420.2 1452.6L418.7 1451.7L418.9 1455.1L420.9 1451.1L422.5 1449.7L425.7 1449.0L426.2 1448.3L424.2 1447.7L427.9 1447.7L427.6 1447.3L431.4 1445.1L433.0 1443.6L433.8 1442.1L434.6 1441.2L435.0 1440.4L439.8 1437.5L439.6 1434.1L437.9 1437.6L439.2 1435.6L440.5 1432.1L441.7 1434.5L442.0 1429.2L445.6 1428.7L442.5 1429.5L446.0 1433.4L444.0 1431.2L445.7 1430.6L444.2 1429.4L445.7 1429.1L444.5 1426.1L450.9 1426.6L447.4 1425.0L448.6 1424.3L445.7 1423.6L451.5 1421.2L451.2 1421.8L454.0 1419.3L454.2 1417.0L451.8 1418.3L451.4 1418.7L457.9 1420.4L456.4 1416.2L458.2 1416.1L461.1 1414.4L463.2 1414.7L459.2 1414.5L460.2 1413.3L463.0 1411.5L463.1 1410.2L466.2 1406.9L466.9 1407.7L467.4 1408.6L468.1 1405.4L468.6 1404.6L469.9 1404.1L471.0 1402.2L471.1 1401.8L475.5 1401.0L473.3 1397.7L471.4 1398.8L472.6 1398.0L477.4 1395.6L476.1 1394.8L476.4 1393.0L475.3 1390.9L479.5 1391.6L482.2 1393.5L483.1 1393.3L480.7 1392.4L483.2 1392.0L484.5 1390.6L481.9 1390.9L482.5 1388.5L484.1 1387.0L489.5 1387.0L488.9 1385.0L489.3 1388.7L489.6 1386.3L493.5 1387.3L494.5 1385.9L495.2 1388.2L492.9 1385.3L493.0 1385.1L496.5 1384.1L500.1 1386.4L499.9 1383.4L500.3 1383.0L499.9 1382.7L505.2 1381.2L501.5 1380.1L503.3 1378.5L503.0 1377.9L503.0 1376.8L505.4 1373.1L500.6 1374.9L499.3 1375.2L504.5 1372.6L506.0 1372.6L507.3 1373.5L508.8 1369.6L509.3 1370.4L510.0 1368.8L515.1 1370.1" fill="none" stroke="#000" stroke-width="2.75" stroke-linejoin="round" stroke-linecap="round" /><path d="M126.7 1705.7L127.7 1703.9L126.9 1702.5L128.6 1702.6L130.1 1701.9L130.5 1701.4L132.4 1699.7L133.2 1699.6L132.7 1698.5L134.4 1697.2L134.8 1696.7L134.8 1696.4L137.4 1696.1L137.8 1695.3L139.3 1694.1L140.5 1693.6L142.1 1693.1L142.3 1692.6L143.1 1691.6L144.2 1691.4L146.6 1690.4L146.5 1688.8L148.5 1689.4L149.4 1688.1L149.3 1687.5L151.7 1687.0L151.3 1685.6L152.9 1685.1L153.4 1684.2L154.0 1683.0L155.9 1682.5L157.0 1683.0L158.9 1682.0L159.0 1679.7L158.9 1679.9L160.1 1679.0L161.8 1678.3L162.2 1676.8L162.0 1676.1L163.5 1676.1L163.6 1675.2L165.2 1674.5L165.8 1674.0L167.9 1672.3L167.3 1671.9L167.3 1671.1L169.7 1669.8L169.7 1668.8L169.8 1669.2L172.5 1667.7L173.1 1667.9L173.7 1668.0L175.0 1667.4L176.9 1665.8L178.0 1664.5L177.7 1664.6L179.1 1662.4L178.2 1661.7L181.2 1659.5L182.2 1659.2L183.7 1658.3L184.0 1657.9L184.8 1657.4L185.0 1656.2L187.6 1656.1L187.7 1654.6L189.1 1655.2L190.9 1654.2L188.6 1653.3L193.1 1652.1L193.5 1652.4L194.5 1651.8L195.6 1650.8L195.5 1650.4L194.7 1649.8L197.2 1648.4L198.1 1647.9L197.6 1646.3L201.0 1646.4L202.4 1645.0L202.1 1644.2L204.2 1643.2L204.4 1642.6L204.9 1642.2L205.3 1642.0L206.8 1641.5L206.8 1640.5L209.8 1639.7L209.1 1638.5L211.0 1638.7L211.7 1638.4L209.7 1638.2L211.8 1637.8L213.5 1635.9L214.7 1634.5L215.9 1634.5L217.6 1634.1L217.9 1634.0L217.9 1632.2L219.3 1630.5L219.4 1629.5L221.0 1629.3L221.3 1629.1L221.6 1630.0L223.1 1628.8L226.4 1628.1L226.7 1626.7L226.1 1624.8L228.3 1623.4L227.9 1623.3L229.4 1622.2L229.3 1622.4L230.9 1620.9L232.1 1621.0L234.9 1620.2L233.0 1618.0L235.0 1618.2L236.9 1617.0L238.1 1614.7L238.1 1614.7L239.2 1615.2L241.7 1613.6L240.3 1614.1L243.4 1612.0L243.0 1613.4L244.0 1611.6L245.9 1609.9L244.3 1609.2L249.0 1608.0L246.7 1608.2L247.9 1608.0L250.8 1608.0L248.6 1606.5L252.5 1605.0L253.7 1605.1L254.4 1605.0L255.6 1603.9L256.4 1603.3L257.7 1601.5L259.4 1601.1L263.1 1599.6L262.3 1598.9L261.5 1599.0L262.3 1599.0L264.8 1595.5L266.3 1597.6L263.5 1596.1L265.1 1593.5L262.8 1594.4L265.4 1593.2L269.3 1593.6L269.1 1591.8L268.6 1592.6L268.6 1589.3L271.5 1588.7L272.4 1588.7L273.2 1588.5L275.8 1588.1L275.6 1587.1L274.5 1586.0L277.2 1585.2L278.4 1585.9L278.3 1584.8L282.8 1583.0L280.7 1581.5L283.8 1580.7L284.4 1580.4L285.9 1581.4L285.9 1579.8L285.0 1575.5L286.6 1577.7L288.4 1573.6L286.9 1573.8L290.8 1573.5L289.0 1574.5L292.1 1572.0L290.9 1574.6L293.6 1573.5L294.4 1571.6L295.2 1570.2L296.4 1569.2L294.2 1570.2L291.3 1569.1L294.6 1570.9L296.5 1566.5L300.9 1567.3L301.9 1565.5L300.0 1566.6L302.5 1565.6L301.4 1564.0L301.5 1565.1L303.9 1562.1L303.9 1561.4L307.6 1561.1L308.5 1558.3L309.7 1559.1L309.7 1559.6L309.7 1558.3L311.9 1556.8L310.7 1555.9L311.8 1553.1L310.6 1553.4L312.0 1549.3L315.2 1549.6L318.0 1550.6L318.9 1550.8L319.9 1549.6L318.0 1550.9L320.7 1549.9L319.4 1548.5L319.8 1548.9L324.7 1548.3L323.7 1547.1L328.4 1546.8L327.2 1546.4L327.5 1542.2L329.5 1540.3L327.3 1539.2L330.1 1538.6L328.6 1536.8L329.9 1536.1L331.2 1534.9L332.7 1535.2L331.5 1534.6L333.5 1536.8L335.1 1534.7L333.9 1534.1L338.4 1532.3L339.0 1531.8L338.7 1530.2L340.1 1530.5L341.7 1527.2L341.4 1527.4L343.4 1526.6L343.5 1524.8L345.1 1527.2L344.4 1526.7L345.4 1524.0L348.5 1524.1L348.5 1523.5L352.9 1522.9L350.8 1521.8L351.4 1522.8L352.3 1518.4L352.9 1517.9L355.2 1517.3L358.7 1516.6L355.3 1514.1L358.4 1512.9L356.4 1513.0L357.5 1511.9L358.9 1508.4L363.2 1507.6L361.6 1507.3L364.1 1506.2L363.5 1506.5L365.4 1506.7L369.0 1506.5L364.7 1505.6L363.2 1506.1L366.0 1506.1L366.2 1506.4L366.6 1505.5L365.5 1504.1L369.1 1503.1L370.0 1504.4L370.6 1502.7L374.1 1502.8L376.0 1500.6L376.3 1499.7L376.7 1497.8L371.7 1497.3L376.2 1496.7L373.8 1495.7L377.2 1494.9L381.2 1494.3L379.7 1494.0L383.9 1494.9L382.7 1492.0L383.1 1491.8L380.8 1490.7L384.2 1491.1L387.3 1491.1L388.6 1490.4L388.5 1488.1L388.3 1484.8L392.4 1483.8L388.4 1480.4L390.0 1481.5L388.0 1482.5L391.2 1481.2L394.1 1479.8L396.4 1478.9L394.4 1475.4L397.5 1474.9L397.5 1474.7L399.2 1476.3L400.2 1473.3L400.2 1472.8L403.1 1473.4L399.9 1472.8L404.1 1470.6L404.7 1469.3L402.2 1469.7L405.3 1470.5L406.1 1470.2L407.1 1469.5L410.1 1467.1L411.7 1466.4L414.0 1466.3L412.1 1465.5L416.2 1462.9L414.8 1462.6L415.5 1460.7L417.5 1460.4L419.9 1459.1L416.8 1458.2L418.5 1454.9L419.9 1456.9L423.0 1457.1L419.9 1455.2L425.4 1458.3L426.0 1457.2L425.1 1456.0L423.6 1456.8L421.1 1455.5L423.3 1457.2L426.0 1454.2L425.9 1453.7L424.6 1453.7L428.4 1450.8L426.0 1449.2L428.2 1449.0L432.8 1446.8L432.2 1449.0L432.3 1449.2L434.1 1449.3L434.9 1446.1L436.9 1444.4L439.1 1443.4L440.3 1442.8L439.6 1441.8L440.3 1440.4L445.8 1441.7L444.1 1437.8L445.0 1438.8L448.1 1435.2L443.6 1433.5L448.1 1433.5L449.6 1433.9L447.6 1433.2L442.5 1434.8L448.6 1433.8L450.4 1432.6L450.9 1429.4L455.0 1428.9L450.5 1427.0L452.8 1427.8L456.0 1428.4L454.8 1427.9L457.1 1426.6L456.6 1425.9L457.2 1425.0L456.6 1424.1L458.7 1418.2L459.8 1419.3L462.9 1420.0L464.3 1419.4L461.1 1419.6L466.2 1419.0L463.6 1417.0L462.5 1416.4L467.8 1414.0L465.3 1411.7L468.1 1412.5L468.6 1412.6L465.5 1412.1L468.0 1409.0L469.3 1409.6L468.3 1408.2L471.8 1409.2L474.5 1406.6L474.2 1409.8L471.1 1406.7L474.6 1405.4L477.4 1407.5L482.1 1409.4L480.7 1405.9L480.9 1401.8L478.3 1403.1L482.9 1401.1L487.5 1401.0L483.7 1400.8L483.8 1398.6L487.6 1397.0L491.0 1395.3L489.2 1398.1L491.0 1394.8L489.5 1396.1L492.1 1395.0L492.5 1395.2L493.1 1394.3L493.9 1395.8L500.5 1395.4L497.2 1394.1L500.8 1392.3L496.9 1392.9L498.9 1391.2L500.5 1390.9L506.3 1390.4L505.0 1385.5L504.8 1383.8L507.4 1384.0L507.6 1384.9L508.1 1381.9L505.0 1383.3L504.7 1383.5L510.4 1380.7L512.6 1382.6L513.2 1380.3L515.9 1377.6L513.2 1377.7L515.2 1379.9L514.5 1374.9L514.6 1371.5L516.5 1372.8L518.0 1372.9L520.0 1371.9L523.7 1372.7L521.5 1370.0L521.3 1370.3L519.6 1369.1L524.2 1366.6L522.8 1365.1L520.1 1362.2L524.1 1363.7L524.4 1364.0L525.7 1362.7L525.5 1361.4" fill="none" stroke="#ff8000" stroke-width="2.75" stroke-linejoin="round" stroke-linecap="round" /><path d="M126.2 1705.7L128.0 1704.8L130.4 1703.6L130.5 1703.9L131.8 1701.5L130.8 1701.4L133.0 1700.5L134.3 1698.8L134.8 1698.8L137.1 1697.6L136.9 1696.8L137.6 1696.1L139.3 1696.0L140.0 1695.7L140.5 1694.7L141.0 1693.9L142.2 1693.7L142.3 1692.9L144.1 1692.7L143.9 1692.0L144.2 1691.0L146.3 1689.6L148.1 1689.2L148.3 1687.9L148.4 1687.3L149.0 1686.8L150.9 1685.6L152.9 1685.7L153.8 1684.9L153.2 1683.5L155.2 1683.3L155.3 1682.0L158.0 1681.8L159.7 1680.5L159.3 1680.3L161.1 1679.3L161.4 1678.3L162.5 1677.7L163.5 1677.2L164.6 1677.0L164.9 1674.8L167.3 1674.8L167.2 1672.9L165.4 1673.6L169.6 1673.2L170.2 1672.9L168.7 1672.5L171.6 1671.4L173.0 1670.2L173.4 1669.5L173.3 1669.9L173.8 1668.4L175.4 1666.8L176.1 1666.8L178.7 1665.4L179.0 1664.9L181.3 1664.9L180.7 1663.8L182.3 1664.4L182.7 1663.3L183.3 1662.4L184.5 1661.6L183.8 1662.7L185.9 1662.1L188.2 1661.0L188.6 1659.3L189.1 1658.7L190.9 1657.3L191.0 1656.5L191.1 1654.9L193.5 1655.4L195.6 1655.6L195.5 1654.1L198.3 1652.2L198.8 1652.1L199.7 1650.8L199.9 1650.4L203.4 1649.8L204.5 1647.5L202.3 1647.2L203.6 1647.5L203.9 1646.0L206.1 1644.7L206.1 1643.5L207.0 1643.5L206.6 1643.9L207.5 1642.5L211.4 1641.8L211.2 1640.7L211.9 1641.1L211.2 1640.0L213.4 1639.0L214.9 1638.6L213.6 1637.7L216.5 1636.4L216.6 1635.6L216.7 1636.1L218.3 1635.5L219.5 1635.8L221.9 1632.8L221.3 1632.2L222.5 1631.6L226.1 1631.5L225.4 1630.9L226.8 1629.1L226.3 1630.1L228.6 1627.6L229.0 1627.4L227.9 1624.8L230.9 1625.2L232.4 1622.8L232.1 1623.1L234.0 1622.4L234.5 1620.1L233.3 1621.6L235.1 1619.5L237.1 1617.4L238.4 1618.1L239.2 1617.0L239.4 1616.1L242.0 1616.1L242.6 1615.4L242.6 1615.1L243.9 1613.7L245.0 1612.7L247.1 1611.7L247.1 1611.9L248.4 1609.9L248.0 1608.4L250.2 1607.7L251.4 1606.7L252.5 1607.5L252.2 1605.9L256.0 1603.6L257.4 1605.0L255.5 1604.5L258.8 1604.9L258.3 1605.5L256.8 1603.7L260.0 1602.6L259.8 1602.8L260.2 1601.6L264.3 1601.7L265.0 1600.2L263.5 1601.6L263.9 1601.1L266.3 1597.8L267.2 1598.4L268.8 1596.6L266.2 1595.7L269.9 1597.0L270.6 1595.0L271.1 1595.7L272.5 1595.2L274.0 1596.0L272.7 1593.7L274.8 1591.9L276.8 1592.0L277.2 1589.9L279.8 1588.9L281.5 1588.7L283.2 1587.2L280.9 1585.5L281.7 1583.6L283.7 1582.3L282.6 1581.4L283.3 1580.2L286.0 1581.9L286.7 1580.2L286.2 1579.8L288.9 1579.0L290.2 1577.8L291.5 1577.2L293.9 1578.4L291.5 1576.6L295.2 1576.0L293.4 1574.5L294.8 1572.6L295.3 1573.0L296.3 1571.7L299.0 1571.2L301.5 1567.6L300.0 1567.3L301.6 1568.0L299.7 1567.0L300.3 1566.8L302.0 1566.5L302.0 1566.7L302.7 1566.4L306.0 1564.0L306.0 1564.2L306.9 1563.2L306.2 1561.7L308.1 1561.4L309.7 1562.0L312.7 1560.2L312.1 1558.9L313.9 1558.0L315.2 1556.7L317.6 1553.6L315.4 1553.7L318.5 1554.9L314.4 1553.2L317.6 1555.1L317.6 1553.8L319.7 1553.8L316.1 1551.8L321.7 1551.1L320.2 1551.0L320.5 1547.8L320.3 1547.5L321.6 1548.6L324.6 1544.2L327.4 1542.5L327.8 1541.9L327.3 1541.6L330.7 1539.9L328.2 1539.0L330.6 1539.7L331.2 1536.9L334.7 1537.6L332.4 1536.0L333.9 1535.3L336.5 1536.4L337.0 1534.7L335.3 1533.9L339.0 1531.4L338.2 1530.8L342.7 1531.9L341.9 1530.2L342.4 1529.8L342.5 1529.6L345.9 1525.4L344.5 1527.1L344.3 1527.0L348.4 1527.6L350.3 1526.2L350.5 1524.8L350.3 1523.5L351.7 1524.9L354.1 1525.9L354.1 1523.8L356.0 1523.5L358.3 1523.4L357.7 1522.2L360.2 1523.5L359.2 1522.7L358.6 1521.3L362.2 1520.6L363.1 1518.6L361.9 1519.3L361.3 1518.1L364.3 1518.4L363.3 1516.2L361.9 1514.7L364.0 1514.0L367.3 1513.2L367.3 1511.3L370.6 1509.9L368.1 1507.6L371.9 1509.1L372.5 1509.4L373.5 1507.0L374.4 1506.7L374.9 1505.0L374.1 1505.2L378.1 1505.4L378.2 1505.5L378.0 1505.0L383.2 1502.8L380.5 1503.5L385.1 1501.8L381.6 1498.2L386.3 1499.1L386.1 1498.6L386.0 1497.2L389.6 1495.6L387.8 1495.5L390.6 1494.6L390.7 1496.0L393.5 1495.2L391.1 1494.5L394.0 1493.7L395.6 1493.4L392.9 1493.0L402.2 1490.4L398.1 1489.9L398.9 1488.8L399.3 1489.7L398.2 1489.2L398.3 1484.2L394.8 1485.9L397.8 1487.1L398.5 1483.9L400.4 1483.5L400.4 1481.1L402.7 1478.8L403.7 1479.0L404.6 1478.3L405.2 1480.2L405.6 1481.5L407.5 1477.0L404.9 1478.3L407.4 1477.3L410.5 1474.5L411.0 1476.8L410.1 1475.2L412.2 1474.0L414.6 1472.4L416.3 1473.9L420.0 1473.5L420.4 1473.4L417.9 1473.1L419.2 1472.8L423.8 1471.7L419.8 1470.7L422.2 1469.8L421.3 1469.9L421.7 1467.7L424.4 1466.7L425.2 1463.3L428.0 1461.2L425.2 1462.4L430.4 1460.4L428.8 1460.7L429.2 1462.9L429.3 1459.4L427.2 1459.2L431.5 1459.5L429.6 1458.1L432.8 1457.8L433.1 1457.8L431.5 1455.4L437.0 1455.1L438.8 1453.5L439.7 1450.3L440.3 1451.6L441.0 1449.6L440.1 1447.8L442.6 1447.2L443.0 1445.9L444.8 1444.6L445.5 1446.5L446.0 1443.9L450.1 1442.3L445.7 1442.7L445.7 1441.7L449.8 1440.8L448.6 1437.4L451.1 1438.0L452.5 1437.7L454.3 1435.3L453.6 1436.3L454.0 1433.9L460.0 1433.5L459.0 1430.8L455.5 1430.9L457.3 1429.3L460.1 1431.4L458.9 1428.5L458.0 1428.9L461.2 1431.6L461.4 1429.7L460.9 1426.9L463.4 1426.1L462.7 1424.5L468.2 1422.8L470.4 1419.4L468.3 1421.2L467.0 1421.9L472.0 1425.0L473.3 1420.3L474.8 1419.0L474.9 1419.7L475.2 1417.7L474.9 1418.1L476.2 1416.3L477.8 1416.3L476.9 1415.8L481.8 1415.0L480.0 1415.3L480.0 1412.8L482.7 1412.2L485.2 1412.1L485.8 1409.3L482.3 1409.3L482.5 1405.1L484.1 1407.3L485.3 1405.9L487.2 1405.8L491.4 1404.1L491.1 1402.6L488.9 1401.0L487.3 1400.7L491.2 1402.2L493.5 1402.7L495.5 1400.2L498.0 1399.9L496.8 1400.0L500.4 1399.8L500.8 1399.2L496.9 1401.7L501.1 1399.7L506.0 1400.6L504.7 1401.9L506.3 1400.4L514.0 1399.3L509.4 1398.5L509.1 1398.1L505.9 1396.8L512.1 1394.0L512.6 1394.1L511.5 1393.2L517.4 1390.4L514.0 1391.0L519.1 1393.3L518.1 1388.9L516.6 1387.6L519.7 1388.1L521.8 1387.1L520.7 1385.3L518.4 1384.0L522.6 1384.5L521.6 1384.8L523.8 1381.8L525.8 1383.8L525.5 1382.8L528.2 1380.2L525.9 1379.4L529.5 1379.2L527.3 1377.9L529.3 1375.9L530.4 1373.7L529.0 1373.0L533.8 1373.0L530.4 1371.9L534.8 1369.4L533.0 1366.7L533.0 1366.4L533.5 1368.3L532.4 1367.3L535.6 1364.5L533.0 1364.0L530.3 1365.2L536.2 1364.0" fill="none" stroke="#ff8000" stroke-width="2.75" stroke-linejoin="round" stroke-linecap="round" /><path d="M120.2 1705.4L122.2 1704.0L122.9 1702.2L124.1 1700.9L124.7 1700.4L125.7 1700.3L125.6 1698.9L126.7 1698.3L127.7 1697.1L127.5 1696.3L128.0 1695.0L127.5 1695.1L129.5 1693.8L130.0 1692.6L131.8 1692.8L131.7 1691.0L132.7 1690.5L134.2 1689.7L132.9 1689.2L134.4 1688.4L134.3 1686.7L135.9 1684.7L137.0 1685.0L137.5 1684.3L139.6 1682.2L139.8 1681.7L140.9 1681.4L142.0 1680.5L142.8 1679.3L144.4 1678.6L144.2 1677.6L146.1 1676.3L147.4 1676.2L148.2 1675.2L149.0 1675.2L148.9 1674.3L149.8 1675.0L151.0 1674.1L152.2 1670.8L152.7 1670.9L152.9 1670.3L154.5 1669.2L154.7 1667.9L156.1 1666.7L156.3 1666.5L157.5 1665.6L158.5 1664.7L158.6 1665.1L159.5 1664.7L160.5 1664.4L161.8 1662.4L163.2 1661.4L164.1 1660.3L165.0 1659.5L167.0 1659.3L166.8 1657.7L170.5 1657.0L170.7 1656.6L170.8 1655.5L171.5 1655.1L172.4 1654.6L172.9 1653.1L175.2 1652.8L176.3 1651.0L175.7 1650.9L177.3 1649.9L177.5 1649.8L177.8 1651.2L179.5 1648.2L180.3 1649.0L181.7 1648.1L182.6 1647.0L183.0 1646.8L184.7 1645.0L186.5 1643.6L186.4 1640.9L186.1 1640.8L187.5 1640.0L189.1 1639.8L190.3 1639.7L191.3 1638.9L190.9 1638.8L193.5 1638.1L193.0 1637.9L195.4 1637.4L196.0 1637.3L196.8 1636.1L198.2 1634.5L198.7 1634.5L199.5 1633.8L201.9 1632.9L201.5 1632.0L203.1 1630.5L203.3 1630.3L205.2 1630.2L205.6 1630.8L205.9 1629.1L208.3 1630.8L206.7 1631.3L208.0 1629.1L210.5 1627.6L212.2 1627.7L212.6 1625.6L213.7 1624.4L213.9 1623.5L215.9 1623.3L213.8 1620.5L215.4 1620.4L217.3 1619.0L218.0 1618.1L219.6 1618.9L220.3 1619.5L220.5 1617.1L222.3 1617.2L223.4 1616.4L223.8 1616.1L225.7 1615.5L226.6 1613.1L227.4 1610.2L230.2 1612.3L230.8 1610.8L229.5 1611.5L233.5 1609.1L233.7 1607.2L233.8 1607.0L235.6 1605.5L235.4 1605.1L236.0 1603.3L236.6 1603.7L238.2 1603.2L240.4 1601.5L240.2 1600.4L241.4 1597.8L241.3 1598.1L242.4 1595.8L243.2 1596.3L242.8 1595.9L243.8 1596.2L245.0 1594.4L247.3 1593.5L247.4 1594.2L245.5 1593.9L250.0 1591.5L251.4 1590.9L251.0 1592.3L251.0 1591.9L253.2 1591.0L254.9 1590.8L255.0 1588.0L255.2 1587.2L255.1 1586.4L259.7 1584.9L258.0 1586.4L261.0 1584.7L260.0 1584.7L260.0 1580.5L265.0 1579.7L261.0 1579.8L264.2 1581.9L264.1 1578.0L268.3 1578.0L266.9 1577.4L268.4 1577.8L271.5 1578.4L269.6 1574.9L270.5 1576.1L272.8 1573.2L271.5 1573.3L274.4 1572.0L273.9 1573.7L277.1 1570.9L277.2 1571.7L275.0 1571.8L276.5 1572.5L276.9 1569.7L280.5 1571.3L278.2 1568.0L281.6 1569.4L281.1 1566.7L282.8 1565.2L283.8 1565.6L286.1 1564.0L284.4 1563.1L287.2 1560.2L288.4 1560.0L294.7 1558.5L292.1 1558.2L293.2 1558.7L292.7 1558.5L294.8 1558.0L294.5 1555.7L293.7 1555.9L295.8 1556.8L295.5 1556.3L295.2 1555.2L299.1 1553.9L299.7 1553.4L300.1 1551.2L297.5 1551.7L302.5 1550.4L300.6 1547.7L299.8 1546.3L301.8 1544.1L304.3 1543.2L303.0 1543.0L301.7 1543.5L304.6 1542.4L306.9 1541.5L308.1 1542.9L310.2 1540.2L312.3 1538.4L311.7 1537.8L312.0 1537.8L313.9 1534.1L313.0 1534.6L315.9 1534.2L316.9 1533.1L317.2 1533.4L319.0 1530.7L318.8 1530.7L321.9 1530.6L318.8 1528.3L322.4 1527.0L320.1 1526.1L323.5 1524.6L325.2 1524.6L321.8 1523.6L324.8 1525.0L328.5 1522.5L328.4 1522.4L328.5 1521.6L331.6 1521.3L332.2 1519.5L333.2 1518.5L333.8 1517.4L336.6 1518.0L337.0 1518.6L337.7 1516.2L339.9 1513.7L340.4 1514.1L343.3 1513.1L339.3 1513.3L340.5 1511.9L341.9 1509.7L346.2 1510.5L346.9 1509.0L345.4 1509.2L346.5 1506.5L348.9 1504.9L348.6 1504.8L346.9 1501.9L348.9 1502.8L351.1 1502.0L351.4 1503.4L354.5 1501.1L352.8 1500.6L355.1 1499.7L351.3 1499.0L353.5 1497.7L354.0 1495.1L356.1 1494.5L352.1 1495.1L355.3 1494.4L355.2 1493.4L357.2 1493.3L359.8 1492.9L354.7 1491.0L360.9 1489.5L358.9 1489.0L358.0 1485.8L361.0 1486.2L358.5 1485.7L359.5 1485.2L363.3 1485.0L362.6 1487.3L362.7 1487.2L364.8 1486.2L361.3 1482.8L364.5 1480.8L364.4 1481.2L368.2 1480.5L368.9 1480.5L366.7 1478.8L369.6 1476.9L372.9 1478.0L369.4 1476.6L372.4 1476.5L373.5 1469.9L371.6 1471.3L373.6 1471.0L374.2 1467.9L371.2 1465.4L375.5 1465.2L377.5 1464.1L372.4 1464.8L373.0 1464.2L377.2 1461.8L375.2 1460.5L381.7 1456.2L379.5 1456.7L383.4 1453.1L380.9 1453.5L382.3 1455.8L383.5 1453.2L386.8 1454.4L387.1 1450.9L382.4 1450.5L386.6 1451.7L389.3 1446.9L389.3 1445.3L394.8 1447.2L392.9 1445.0L391.5 1441.3L392.4 1443.4L393.0 1440.4L392.5 1441.7L394.5 1440.2L394.7 1438.7L397.2 1438.6L394.7 1437.0L400.8 1439.6L394.9 1436.2L392.4 1430.9L393.6 1433.4L393.8 1432.2L394.1 1429.4L397.2 1432.6L396.2 1433.0L399.1 1432.3L399.2 1432.5L401.2 1434.8L401.0 1432.8L401.8 1432.6L401.0 1432.3L407.9 1433.6L411.3 1432.8L411.2 1430.4L413.2 1431.1L412.6 1430.5L414.3 1430.3L413.0 1429.4L412.0 1429.0L413.8 1428.6L415.9 1429.0L415.8 1426.3L421.2 1428.9L414.1 1425.6L419.2 1424.2L420.1 1423.4L417.0 1424.7L420.2 1422.5L424.8 1420.1L420.2 1419.8L420.0 1418.1L420.0 1419.8L423.7 1417.3L424.4 1416.0L426.9 1416.4L428.3 1416.1L424.1 1412.2L427.2 1412.6L426.5 1412.8L428.9 1413.1L426.8 1412.4L430.0 1409.9L431.6 1408.2L432.3 1411.0L430.8 1410.8L431.9 1407.8L432.5 1407.3L432.7 1406.4L433.9 1405.2L433.7 1400.2L433.0 1400.9L439.2 1400.5L440.6 1400.9L439.4 1399.5L439.1 1397.9L443.2 1397.5L442.2 1395.9L442.1 1398.6L443.8 1397.3L441.8 1394.1L446.5 1394.4L449.8 1393.7L449.9 1393.6L451.6 1394.4L451.3 1394.1L453.3 1391.7L454.4 1390.7L453.0 1389.5L455.0 1390.0L458.7 1385.5L458.1 1385.4L459.4 1384.5L465.5 1383.7L465.3 1382.7L463.9 1381.5L468.7 1383.2L466.5 1380.6L466.7 1380.9L468.9 1378.4L472.7 1378.3L472.8 1379.1L468.4 1376.0L473.8 1375.7L475.9 1373.1L473.6 1372.9L471.4 1371.6L472.5 1375.9L474.3 1371.5L473.4 1370.7L472.4 1371.7L474.1 1373.4L475.2 1367.7L478.3 1366.1L480.1 1364.7L478.6 1366.0L481.1 1366.0L480.4 1364.4L483.1 1361.5L483.4 1362.2L481.2 1360.1" fill="none" stroke="#0000ff" stroke-width="2.75" stroke-linejoin="round" stroke-linecap="round" /><path d="M122.4 1705.4L123.4 1705.4L123.1 1704.0L124.8 1704.0L125.3 1702.3L126.2 1701.2L126.7 1700.6L127.5 1698.7L128.0 1697.8L128.0 1698.0L129.7 1696.0L131.3 1695.0L132.5 1694.8L131.1 1693.3L131.1 1693.3L134.2 1691.7L133.0 1690.9L135.0 1689.6L135.9 1688.2L137.0 1688.1L136.9 1686.6L138.1 1686.1L139.3 1683.9L139.2 1683.6L141.8 1683.7L140.5 1682.8L142.4 1681.0L143.2 1681.5L144.8 1679.6L145.9 1679.6L145.8 1679.5L147.3 1678.8L146.9 1678.1L150.1 1676.3L149.3 1675.1L151.5 1675.8L152.4 1674.2L153.3 1673.9L154.1 1673.3L154.8 1672.4L156.2 1671.6L158.1 1671.7L156.9 1670.9L157.4 1669.7L160.0 1668.6L159.2 1667.5L163.5 1666.0L164.1 1665.2L165.0 1664.4L166.0 1662.7L166.5 1662.8L167.6 1661.5L167.2 1660.8L169.0 1660.7L170.9 1660.6L169.7 1659.5L169.7 1658.4L170.8 1658.9L170.8 1658.1L173.6 1657.3L175.5 1657.7L175.3 1656.2L176.2 1655.4L177.8 1653.8L178.6 1653.6L179.2 1652.5L180.4 1651.8L182.8 1651.1L182.3 1649.8L182.9 1650.3L184.6 1648.9L185.1 1647.9L186.2 1647.0L185.1 1646.7L186.4 1645.2L188.8 1643.9L187.5 1643.1L190.6 1642.3L191.1 1642.3L192.2 1641.9L191.7 1640.3L194.0 1639.8L194.5 1639.8L194.9 1639.3L196.1 1638.4L198.8 1638.1L199.0 1636.6L199.2 1635.8L200.5 1636.4L202.5 1634.8L201.7 1634.4L203.6 1633.1L205.0 1634.1L203.7 1632.8L205.0 1631.5L206.6 1631.0L208.4 1629.6L208.6 1629.0L209.3 1629.9L209.9 1628.2L211.3 1627.3L214.4 1627.5L214.0 1628.0L215.9 1627.6L214.7 1626.0L216.6 1624.6L217.5 1622.6L217.2 1621.8L218.5 1620.6L218.6 1621.0L219.2 1619.0L221.2 1618.1L221.1 1617.8L222.5 1615.5L225.2 1614.9L226.2 1613.5L228.9 1612.7L229.9 1612.8L230.1 1610.4L231.0 1609.9L231.1 1611.5L233.1 1610.8L232.0 1612.7L232.7 1611.0L235.5 1609.5L235.1 1608.7L236.9 1608.8L237.3 1607.2L237.4 1607.1L238.7 1605.0L238.7 1605.5L239.5 1604.7L240.8 1604.1L243.0 1602.1L242.9 1601.9L245.5 1602.6L245.5 1598.3L246.9 1599.4L248.1 1597.7L248.7 1596.0L248.1 1595.7L250.3 1594.2L249.9 1594.5L251.5 1594.0L253.2 1591.3L254.8 1591.4L254.9 1588.7L255.4 1589.4L256.8 1588.1L256.1 1587.7L259.0 1585.5L261.1 1585.8L262.4 1585.6L263.3 1584.4L262.8 1583.1L263.3 1580.8L264.6 1582.1L266.2 1582.9L265.8 1581.7L268.1 1579.5L269.2 1579.3L268.4 1576.6L269.8 1577.0L270.4 1576.4L271.8 1576.9L272.9 1576.3L275.3 1573.2L276.2 1573.2L276.4 1572.4L277.5 1572.0L277.9 1571.3L281.1 1568.5L281.3 1568.4L282.9 1568.4L282.6 1566.7L284.3 1566.0L282.4 1563.1L282.8 1564.6L284.9 1564.6L286.2 1563.4L286.7 1563.1L286.3 1561.0L290.8 1560.4L292.6 1558.7L292.6 1557.1L291.2 1557.7L294.4 1557.6L294.0 1554.7L294.8 1555.1L293.7 1553.4L294.5 1554.1L296.4 1554.6L297.4 1555.7L296.9 1555.8L300.5 1556.3L303.1 1554.0L300.9 1552.7L302.2 1549.7L301.3 1550.7L305.6 1548.7L306.6 1548.1L305.5 1547.1L306.2 1547.4L304.8 1545.6L309.0 1545.7L308.1 1545.2L309.8 1544.8L309.6 1542.9L311.1 1543.9L310.9 1543.5L311.7 1543.0L315.6 1541.3L311.7 1539.7L313.7 1540.3L318.2 1543.3L318.1 1540.9L319.8 1538.4L320.0 1535.0L321.4 1535.1L320.3 1535.7L321.2 1532.5L322.2 1533.7L322.9 1531.5L324.6 1530.4L325.1 1528.7L323.4 1530.3L328.2 1530.2L325.9 1530.8L330.0 1532.2L329.5 1528.0L331.1 1528.0L334.0 1527.6L331.9 1528.6L334.8 1526.8L335.6 1524.9L333.8 1524.9L334.5 1523.7L337.8 1521.3L339.0 1519.4L338.7 1519.2L336.8 1516.5L342.0 1517.9L343.8 1515.7L342.1 1514.7L342.3 1515.1L344.1 1512.4L345.1 1511.6L343.8 1511.3L347.3 1508.4L348.2 1509.1L347.9 1507.4L349.7 1507.5L353.6 1508.6L354.7 1507.5L356.3 1506.6L355.2 1505.1L358.1 1502.9L358.3 1504.7L358.1 1506.5L361.0 1506.5L360.8 1503.5L362.0 1500.8L358.6 1497.9L359.9 1501.0L362.6 1498.4L365.3 1496.6L363.4 1499.5L363.4 1497.6L363.5 1493.4L364.4 1493.7L367.2 1491.6L366.5 1489.6L367.5 1490.2L369.4 1488.2L371.4 1489.7L373.8 1486.0L372.9 1487.1L371.8 1485.0L374.4 1485.7L374.7 1483.6L373.9 1482.2L379.7 1483.6L379.4 1481.9L383.8 1482.3L382.2 1481.0L382.1 1480.2L381.6 1478.8L384.0 1477.6L381.8 1477.0L384.8 1478.0L384.7 1472.1L385.1 1472.7L386.0 1476.1L385.6 1473.6L389.0 1472.0L389.5 1472.9L394.0 1471.0L390.6 1471.3L396.3 1470.6L390.8 1469.2L393.1 1468.2L393.9 1469.4L395.3 1466.3L394.4 1467.9L401.3 1465.6L401.3 1465.8L399.8 1464.2L401.3 1463.9L405.1 1464.3L402.6 1459.8L404.7 1459.1L403.8 1458.2L405.5 1458.5L404.1 1456.0L405.9 1454.2L407.9 1452.1L407.8 1454.3L406.0 1450.9L411.5 1450.9L408.6 1449.7L407.5 1450.7L411.3 1450.7L413.3 1449.0L418.0 1447.9L417.1 1447.7L416.8 1448.4L418.3 1444.5L420.6 1446.6L421.2 1445.2L421.9 1443.8L422.1 1443.1L424.1 1445.2L426.4 1441.0L424.6 1438.9L425.4 1437.7L428.7 1437.5L431.6 1438.1L430.6 1434.3L432.3 1436.5L432.3 1434.4L434.3 1433.6L435.4 1432.6L435.5 1431.3L432.2 1429.1L435.0 1429.8L437.4 1428.3L438.3 1430.2L437.1 1428.6L441.1 1429.4L438.6 1426.0L442.2 1423.8L440.8 1424.6L444.9 1424.8L443.3 1424.9L446.7 1422.9L443.8 1422.4L443.3 1422.8L446.6 1421.6L451.4 1422.4L448.0 1421.5L450.1 1421.3L450.4 1422.9L450.4 1420.6L453.2 1419.4L455.8 1418.3L453.2 1415.3L454.6 1416.7L452.3 1413.9L453.1 1413.6L455.8 1412.8L457.3 1411.2L459.4 1411.9L456.4 1408.3L458.2 1409.2L459.3 1405.2L458.3 1406.0L459.6 1403.6L456.9 1400.5L460.1 1401.2L461.8 1400.3L462.4 1402.0L461.7 1398.9L466.2 1399.9L466.3 1399.1L465.5 1398.5L466.0 1397.5L469.0 1395.2L470.2 1394.6L472.9 1391.0L472.9 1393.8L475.5 1394.4L472.4 1392.7L477.7 1393.1L473.1 1392.2L475.7 1392.1L475.7 1392.5L476.7 1392.9L476.1 1390.9L476.8 1391.0L480.1 1386.0L480.8 1385.0L482.6 1384.1L482.0 1383.3L484.1 1382.2L484.0 1383.1L485.6 1379.6L491.9 1379.2L488.9 1376.9L488.2 1375.9L491.1 1374.9L489.3 1372.8L491.5 1372.8L491.1 1372.8L488.3 1370.4L490.7 1367.8L491.8 1365.7L491.6 1366.1L494.3 1362.5L494.7 1362.4L497.7 1361.5L494.3 1360.5L500.2 1359.7L500.8 1360.3L498.4 1359.0L501.6 1358.2L499.3 1357.2L497.0 1357.0L500.2 1354.2L502.5 1355.5L499.2 1353.2L503.0 1353.1L502.9 1351.6L508.1 1349.8L503.7 1350.3L507.4 1348.4" fill="none" stroke="#0000ff" stroke-width="2.75" stroke-linejoin="round" stroke-linecap="round" /><path d="M121.8 1705.2L123.2 1704.8L123.8 1703.5L125.3 1703.3L125.8 1701.5L126.3 1700.7L127.3 1700.6L127.0 1698.9L127.6 1697.5L128.6 1696.8L129.9 1695.0L130.8 1694.6L130.5 1694.2L131.9 1693.5L133.6 1692.2L133.8 1691.6L135.6 1689.9L134.1 1688.2L134.6 1686.7L135.6 1686.7L137.6 1686.0L137.8 1685.6L138.1 1684.5L139.0 1682.8L140.4 1681.8L141.3 1681.0L143.3 1680.5L143.2 1680.2L144.0 1679.2L145.5 1678.9L146.5 1676.9L145.5 1676.9L147.2 1676.4L148.8 1676.6L150.7 1674.5L151.7 1673.9L152.3 1672.9L152.6 1673.2L152.2 1672.4L154.5 1671.5L153.0 1670.6L155.4 1671.0L157.0 1668.0L156.9 1668.6L157.1 1666.3L158.8 1664.6L159.1 1664.8L159.5 1665.3L161.8 1662.7L162.3 1662.8L165.7 1662.4L163.3 1661.6L166.0 1660.7L165.1 1661.2L168.6 1660.1L168.5 1659.8L169.2 1658.4L169.3 1657.2L170.3 1656.3L170.0 1655.3L173.0 1654.7L172.8 1654.3L177.2 1652.2L178.0 1651.2L179.1 1649.8L180.0 1649.2L180.4 1648.6L178.8 1648.5L181.1 1648.2L182.0 1648.3L182.6 1646.7L184.5 1646.9L185.1 1645.4L185.7 1643.7L186.1 1644.7L187.4 1643.9L188.3 1643.4L189.5 1643.3L190.0 1642.0L190.7 1640.1L191.5 1639.1L192.7 1639.2L192.9 1637.6L193.7 1637.2L194.5 1635.2L195.4 1635.5L197.8 1634.2L199.1 1634.9L200.0 1635.2L199.7 1633.0L201.0 1633.5L202.1 1633.3L201.6 1632.1L205.0 1632.4L203.5 1631.6L205.6 1629.5L205.0 1628.7L207.3 1627.4L208.8 1626.5L210.1 1626.4L209.7 1623.9L213.6 1624.8L213.5 1625.4L215.2 1623.7L212.2 1623.2L216.2 1621.7L218.4 1621.4L219.0 1620.1L217.7 1617.8L218.1 1616.9L219.1 1614.9L222.0 1614.0L220.8 1613.2L221.9 1613.3L224.2 1611.9L223.6 1612.7L225.5 1611.6L226.9 1612.6L230.0 1611.2L228.5 1610.9L231.0 1608.8L231.5 1609.8L233.1 1609.7L234.1 1607.7L234.6 1608.0L235.9 1606.4L235.5 1605.3L238.0 1604.1L237.5 1603.9L238.9 1605.4L237.4 1603.9L240.6 1602.7L240.6 1602.1L240.0 1602.4L240.4 1600.3L242.5 1599.1L243.2 1598.6L245.9 1597.5L244.8 1596.9L245.6 1597.8L247.6 1596.8L250.4 1597.2L250.6 1595.5L250.9 1594.2L253.4 1591.4L253.9 1591.8L255.3 1591.1L256.3 1590.0L256.5 1587.9L257.4 1586.6L260.6 1587.4L259.6 1587.0L261.5 1585.7L260.8 1584.0L260.9 1584.3L261.4 1584.1L264.2 1583.1L265.0 1581.5L266.6 1581.7L267.7 1581.8L267.4 1578.9L267.8 1578.4L269.0 1576.7L270.8 1575.7L272.2 1576.0L273.0 1573.6L274.2 1575.9L274.1 1572.1L276.6 1572.2L275.1 1570.5L277.8 1570.8L280.4 1570.1L279.7 1570.9L281.2 1568.7L283.0 1569.7L284.9 1567.5L283.5 1566.8L283.3 1567.1L284.6 1567.3L284.3 1565.2L284.6 1564.8L285.2 1563.7L286.6 1562.2L287.6 1560.9L288.0 1561.0L289.1 1560.3L290.8 1559.0L291.6 1557.8L292.1 1558.5L290.9 1557.9L291.0 1557.1L294.3 1555.7L292.7 1554.5L296.5 1554.7L296.8 1552.6L299.3 1552.8L299.4 1552.4L299.9 1551.3L303.1 1549.6L304.5 1549.5L304.3 1548.0L307.1 1547.3L308.4 1545.8L307.7 1543.7L309.1 1545.4L310.3 1542.9L312.2 1543.5L312.1 1544.2L314.4 1541.2L313.8 1541.5L313.5 1539.7L312.7 1538.5L313.5 1537.5L315.1 1536.5L316.3 1535.6L315.3 1534.8L320.5 1534.6L320.5 1532.4L320.9 1532.9L320.5 1531.8L320.2 1531.5L324.5 1530.1L323.8 1532.1L326.5 1529.8L325.7 1528.1L324.8 1527.9L327.6 1528.1L329.3 1525.3L330.0 1524.8L332.2 1525.6L331.6 1525.1L333.4 1524.1L333.2 1522.5L335.6 1522.5L335.3 1524.5L340.8 1521.8L342.1 1520.7L340.3 1520.8L343.2 1519.8L343.7 1517.5L345.2 1515.7L346.8 1515.9L345.1 1514.3L343.7 1512.8L349.1 1512.7L347.1 1513.1L348.0 1513.0L345.9 1511.9L349.8 1509.5L347.1 1508.1L346.5 1507.7L346.7 1505.4L350.1 1505.2L354.2 1501.9L351.3 1505.5L353.2 1503.3L352.9 1501.5L355.0 1500.3L355.5 1500.7L354.0 1498.5L354.3 1499.1L357.0 1499.9L358.0 1499.2L361.8 1498.9L362.2 1499.7L360.9 1500.2L361.9 1498.3L363.5 1496.3L362.4 1496.9L364.8 1495.0L368.2 1494.7L365.0 1493.6L368.7 1491.4L367.7 1492.4L369.1 1490.5L370.9 1488.5L370.9 1489.1L374.1 1485.5L372.0 1485.8L374.2 1483.2L373.8 1479.2L373.8 1479.8L373.4 1479.4L376.5 1480.0L375.7 1477.8L378.8 1476.5L378.0 1476.6L378.2 1473.7L379.4 1474.2L375.4 1474.3L381.6 1473.9L381.5 1471.9L382.8 1469.7L384.1 1469.0L388.4 1471.2L385.4 1469.8L388.4 1470.6L388.9 1469.1L390.3 1468.0L391.3 1468.2L387.2 1467.9L390.7 1464.9L392.5 1465.7L392.0 1462.4L394.5 1463.1L393.6 1461.1L394.1 1459.6L395.0 1457.5L393.3 1456.7L398.6 1457.1L397.4 1454.3L396.7 1452.4L398.7 1453.2L396.2 1452.6L395.6 1454.4L402.2 1453.4L399.2 1452.3L403.0 1452.6L404.4 1449.3L405.2 1448.1L407.2 1444.0L408.2 1444.9L409.2 1444.6L410.0 1447.4L410.4 1445.4L410.0 1444.8L410.5 1442.6L411.7 1443.3L414.2 1442.4L418.0 1439.6L415.9 1439.4L415.6 1437.9L421.4 1439.2L415.8 1437.2L422.8 1435.0L419.0 1433.7L419.0 1431.2L419.8 1431.8L417.8 1429.8L425.5 1431.3L423.3 1430.0L425.9 1427.4L429.1 1428.1L428.4 1427.5L430.4 1426.7L431.3 1423.1L428.5 1424.7L435.7 1425.0L433.4 1423.4L429.8 1424.5L432.4 1424.0L431.4 1420.7L436.6 1420.1L433.7 1418.1L438.7 1419.0L437.2 1416.6L440.3 1415.3L440.6 1417.2L440.9 1415.7L441.1 1413.9L443.7 1414.6L443.5 1413.9L444.1 1414.0L449.3 1413.7L449.7 1413.3L451.6 1412.3L450.4 1412.6L450.5 1410.1L449.2 1410.0L449.5 1408.1L449.9 1405.9L450.6 1407.7L454.0 1407.1L454.4 1407.7L454.7 1403.8L456.1 1402.8L454.3 1404.7L458.3 1400.9L459.2 1401.1L459.7 1400.5L458.1 1400.0L459.9 1402.8L463.9 1399.5L465.1 1399.8L462.8 1400.0L467.7 1398.4L469.3 1397.3L469.8 1393.5L472.8 1393.4L470.9 1391.3L473.0 1391.0L475.1 1393.7L474.4 1390.1L476.1 1388.7L475.0 1390.5L479.9 1389.4L479.6 1386.9L480.0 1386.9" fill="none" stroke="#0000ff" stroke-width="2.75" stroke-linejoin="round" stroke-linecap="round" /><path d="M117.8 1700.8L119.1 1700.0L119.4 1699.1L119.8 1698.4L121.2 1697.4L122.9 1696.1L123.2 1695.2L124.4 1695.0L124.3 1694.5L124.8 1692.9L126.9 1692.5L127.0 1691.8L128.0 1690.2L129.0 1689.5L129.7 1688.6L130.5 1688.4L131.4 1686.7L131.7 1686.8L133.4 1686.3L133.9 1685.2L135.4 1684.7L135.9 1683.5L136.2 1682.4L138.6 1681.5L140.2 1681.1L140.0 1679.4L140.4 1678.4L141.3 1677.2L142.9 1676.2L143.0 1675.7L143.5 1676.1L145.3 1674.9L146.1 1674.0L147.0 1673.7L148.6 1673.5L148.6 1671.6L149.9 1671.4L151.1 1670.5L151.5 1668.7L152.4 1668.7L151.9 1668.3L153.1 1666.0L154.0 1665.6L155.9 1665.5L157.0 1664.6L158.5 1663.9L158.2 1661.7L159.6 1661.7L160.8 1660.5L161.7 1660.6L162.4 1657.5L164.4 1657.0L164.7 1656.9L167.1 1656.1L166.2 1656.6L167.8 1656.1L167.0 1655.1L166.7 1653.3L168.8 1651.8L171.8 1651.7L173.1 1651.9L172.8 1651.1L173.4 1650.7L173.2 1649.3L175.3 1647.6L175.2 1647.7L176.4 1647.2L177.6 1646.2L177.7 1646.4L180.7 1644.4L178.9 1643.3L181.8 1641.2L182.8 1642.0L184.2 1642.3L185.1 1640.9L185.1 1639.9L185.5 1639.7L187.4 1638.9L187.8 1637.4L188.2 1639.0L189.4 1637.9L189.3 1638.1L191.5 1636.9L191.8 1636.3L194.5 1636.3L195.1 1634.5L194.1 1634.2L196.7 1634.5L195.3 1632.9L197.4 1631.7L199.1 1631.4L200.1 1629.9L201.2 1630.4L201.8 1629.7L200.8 1628.5L203.6 1626.4L203.7 1625.2L203.5 1624.3L205.7 1623.9L205.7 1621.4L208.5 1621.7L209.1 1620.9L210.0 1619.1L209.1 1619.1L211.5 1619.2L211.7 1618.6L212.9 1617.4L214.3 1618.0L214.3 1616.9L217.8 1616.0L217.9 1615.0L217.9 1617.1L219.6 1614.6L220.4 1613.0L221.6 1612.7L221.3 1613.0L221.3 1611.9L223.5 1611.1L225.8 1608.9L226.2 1607.8L227.0 1606.9L229.7 1607.5L230.5 1606.6L232.1 1606.1L233.0 1603.7L234.5 1603.7L232.6 1602.4L235.8 1602.5L232.5 1600.9L235.2 1599.2L236.6 1599.2L236.9 1598.1L239.5 1597.8L239.8 1597.6L239.5 1596.6L241.8 1595.1L242.6 1595.2L240.5 1593.3L244.6 1592.4L245.6 1591.0L250.0 1590.5L247.4 1588.8L250.4 1588.4L252.9 1589.2L251.5 1588.4L252.7 1586.8L257.5 1589.3L254.6 1587.4L256.2 1585.8L256.4 1584.9L254.3 1586.1L255.5 1583.8L255.8 1583.0L257.1 1582.3L258.9 1581.2L261.3 1581.2L263.0 1579.7L265.0 1579.8L263.9 1578.1L265.0 1576.9L265.0 1576.9L262.8 1575.6L268.6 1575.5L268.0 1572.9L267.4 1572.7L268.2 1570.8L268.9 1570.0L269.6 1570.0L270.9 1570.3L271.8 1568.1L271.4 1566.4L272.3 1567.6L273.3 1566.9L274.6 1565.6L275.8 1565.9L277.0 1564.3L277.3 1564.1L282.2 1565.2L279.1 1563.4L280.8 1561.9L281.2 1561.2L283.0 1560.8L284.1 1559.2L284.3 1558.6L284.5 1556.8L289.6 1556.4L286.4 1555.6L287.7 1554.3L289.9 1554.8L290.9 1553.4L292.1 1553.7L291.4 1551.5L294.4 1550.4L294.4 1548.4L296.8 1548.7L295.5 1548.1L297.6 1546.7L299.0 1544.7L301.7 1542.0L302.5 1543.3L300.7 1541.9L302.0 1541.9L304.0 1541.5L302.5 1540.3L305.0 1539.8L302.9 1541.2L304.0 1539.3L306.7 1539.1L305.8 1536.2L305.6 1535.9L308.2 1534.3L308.1 1535.0L309.6 1535.6L310.4 1535.3L312.4 1534.6L314.4 1533.7L314.5 1533.2L313.0 1531.4L313.9 1530.0L318.3 1528.3L316.8 1528.3L317.8 1525.2L317.0 1527.2L319.0 1525.8L319.7 1525.1L319.6 1526.4L324.1 1526.3L321.3 1523.6L324.1 1524.4L323.7 1522.4L325.5 1522.5L326.6 1522.9L325.9 1523.4L329.7 1521.7L330.2 1521.8L329.9 1517.4L332.0 1517.5L334.9 1514.7L337.4 1515.3L335.6 1515.3L335.6 1511.4L339.3 1512.1L338.2 1511.7L338.6 1509.9L340.0 1510.0L338.0 1509.6L344.0 1507.1L342.4 1509.2L342.7 1508.5L345.1 1507.3L342.9 1506.5L343.9 1504.8L348.3 1503.4L344.1 1500.1L348.7 1501.3L349.9 1501.2L350.7 1497.7L351.5 1499.2L349.3 1496.4L349.1 1495.6L349.9 1495.2L348.5 1493.3L353.1 1494.5L354.3 1493.5L353.3 1494.6L356.5 1492.8L356.1 1492.8L360.4 1492.9L359.1 1491.2L360.9 1490.4L357.9 1486.4L359.9 1487.2L361.0 1485.5L358.2 1485.6L360.8 1485.3L363.2 1484.7L363.6 1484.2L361.6 1481.2L362.6 1481.5L364.9 1479.4L364.2 1476.6L368.4 1472.3L366.2 1472.9L370.1 1474.5L368.0 1474.2L371.0 1472.1L369.8 1471.1L370.9 1469.8L373.8 1469.8L379.3 1469.7L377.6 1468.4L377.4 1465.6L380.3 1465.5L380.1 1467.1L381.5 1466.0L382.2 1465.1L381.6 1464.2L385.4 1462.3L385.3 1463.0L384.4 1462.9L383.0 1461.6L387.0 1456.3L389.6 1458.2L388.2 1457.8L391.8 1455.8L389.9 1453.4L391.1 1452.9L388.6 1455.2L392.0 1453.0L390.2 1454.3L395.3 1453.5L397.0 1455.3L395.6 1452.5L398.1 1451.1L397.7 1448.9L398.8 1447.8L397.5 1447.7L400.8 1445.1L399.7 1446.1L402.1 1443.6L405.4 1444.6L403.8 1444.5L401.2 1441.1L401.1 1440.3L403.2 1439.7L407.0 1443.1L407.4 1441.5L407.5 1442.2L410.3 1439.4L408.4 1438.4L412.1 1436.6L411.9 1435.8L413.5 1437.7L414.5 1437.3L415.7 1436.4L416.8 1432.5L420.9 1432.7L420.8 1432.4L424.1 1430.4L424.1 1427.9L423.7 1429.4L426.0 1427.6L425.2 1425.8L427.2 1426.4L423.5 1425.1L426.8 1424.2L427.8 1422.3L430.8 1422.9L430.6 1421.0L429.4 1422.5L426.7 1420.9L433.2 1420.0L432.0 1416.8L431.3 1417.1L433.8 1414.1L436.9 1414.4L436.5 1412.9L438.5 1412.4L439.2 1413.1" fill="none" stroke="#808000" stroke-width="2.75" stroke-linejoin="round" stroke-linecap="round" /><path d="M118.8 1701.8L119.0 1701.3L119.9 1700.2L121.3 1698.9L122.3 1698.4L122.2 1696.6L123.5 1697.1L123.3 1695.3L126.2 1693.8L126.0 1693.8L126.1 1692.6L128.3 1691.8L127.9 1690.8L130.9 1690.1L129.4 1689.4L130.7 1688.3L131.0 1686.8L131.1 1686.1L132.1 1684.7L134.6 1683.4L134.9 1683.2L134.7 1681.4L135.9 1681.0L136.7 1679.8L140.1 1680.2L138.5 1678.4L141.1 1677.7L141.5 1676.6L143.5 1675.6L144.7 1674.4L145.9 1674.6L145.2 1673.4L147.3 1672.2L146.1 1671.9L146.9 1672.1L147.7 1671.7L149.5 1671.3L150.4 1670.9L151.6 1669.8L151.8 1668.9L153.7 1668.1L154.7 1668.9L154.1 1667.4L156.5 1665.6L157.7 1664.8L157.4 1664.0L156.9 1661.9L160.0 1662.1L159.4 1661.5L161.8 1661.1L161.8 1660.0L163.3 1658.7L164.8 1658.5L165.3 1657.5L165.5 1658.6L168.4 1658.3L169.2 1657.7L169.7 1656.7L170.4 1654.2L170.6 1654.1L173.7 1653.8L172.1 1653.2L173.3 1652.0L174.4 1651.9L176.7 1651.7L176.3 1651.2L177.1 1649.7L177.3 1649.9L177.5 1649.7L180.0 1646.5L181.2 1646.0L181.4 1646.4L182.6 1644.3L181.1 1642.0L184.1 1641.8L184.4 1639.9L184.0 1640.0L184.4 1639.8L187.3 1638.6L189.3 1638.9L189.8 1638.1L191.7 1639.3L191.9 1636.8L192.2 1637.0L193.8 1635.3L196.2 1635.2L195.3 1633.3L197.6 1634.2L198.0 1633.6L201.2 1632.2L201.1 1632.6L202.0 1631.3L203.9 1630.1L203.5 1629.8L205.8 1628.1L205.5 1627.6L205.1 1626.5L207.7 1627.6L208.5 1625.5L208.6 1624.8L209.3 1622.9L210.7 1621.9L210.8 1620.9L214.2 1620.5L214.6 1620.0L214.3 1620.0L218.6 1619.4L216.0 1618.5L216.4 1618.9L217.5 1617.6L218.1 1616.6L220.9 1617.1L219.9 1616.3L220.5 1615.3L220.8 1615.1L223.0 1614.1L223.9 1614.1L223.0 1612.1L225.1 1610.4L225.5 1609.9L227.4 1609.5L230.3 1607.9L229.4 1606.6L231.8 1605.3L230.9 1605.9L230.7 1604.9L234.3 1604.7L234.7 1604.9L237.5 1602.9L234.8 1603.4L236.2 1602.7L237.6 1601.0L239.1 1601.0L239.4 1600.3L241.2 1599.4L241.9 1596.7L243.9 1596.1L242.9 1596.0L246.2 1595.6L244.9 1593.8L245.8 1593.6L247.1 1590.0L246.7 1590.4L247.4 1588.3L251.5 1588.4L250.5 1587.3L250.2 1587.5L251.2 1585.3L255.4 1584.5L254.5 1584.0L255.5 1583.6L255.0 1583.3L256.4 1582.8L257.3 1581.6L260.9 1581.6L258.9 1580.4L259.2 1580.3L262.7 1580.4L264.4 1578.5L266.6 1578.4L262.5 1578.1L264.4 1576.9L265.8 1578.5L265.2 1575.3L267.2 1576.1L271.2 1574.7L271.6 1574.0L271.7 1573.2L272.2 1573.1L272.8 1571.0L274.0 1570.9L274.4 1569.8L276.9 1567.2L278.2 1566.7L278.8 1565.6L279.1 1565.6L278.4 1565.4L281.4 1564.1L280.4 1562.9L282.7 1563.0L283.6 1559.8L285.6 1560.3L282.9 1560.8L287.2 1558.2L285.5 1556.8L284.8 1556.8L286.3 1557.1L288.0 1555.7L287.9 1554.0L289.8 1551.5L292.5 1551.4L293.7 1550.8L294.6 1550.4L295.7 1548.2L296.7 1548.0L298.7 1548.6L296.4 1547.7L299.4 1547.0L299.9 1546.9L298.4 1545.3L299.6 1546.1L301.1 1545.9L304.3 1543.1L304.6 1543.0L305.5 1542.9L304.3 1541.8L306.8 1541.2L306.1 1543.2L306.8 1539.8L304.8 1540.3L309.0 1538.7L308.0 1539.9L310.5 1539.1L311.9 1536.5L310.5 1534.7L310.6 1535.8L312.0 1532.7L316.3 1532.5L315.6 1532.2L315.8 1530.4L320.2 1527.5L321.7 1528.4L320.4 1528.1L322.3 1527.3L324.2 1525.9L321.8 1524.3L324.4 1522.7L324.3 1524.0L323.9 1523.9L325.3 1524.3L324.3 1521.3L325.7 1520.5L326.6 1519.7L331.4 1520.0L333.1 1517.4L329.7 1516.4L336.0 1515.9L339.1 1517.3L334.3 1514.3L337.7 1512.3L338.0 1512.4L336.7 1510.6L338.6 1511.4L339.0 1511.8L339.7 1509.7L342.4 1509.8L342.8 1510.3L342.0 1508.9L343.8 1510.6L348.7 1508.9L348.7 1507.4L346.9 1505.1L346.4 1504.5L346.0 1506.0L347.2 1502.8L347.2 1500.3L349.9 1500.2L350.1 1499.2L347.8 1496.2L350.9 1494.5L349.4 1495.1L349.4 1492.3L355.7 1492.6L355.2 1489.7L354.6 1491.3L358.4 1491.2L356.4 1489.9L358.3 1487.4L360.3 1485.4L359.0 1485.1L364.3 1485.3L365.2 1486.5L362.8 1485.7L366.4 1485.3L364.0 1483.5L366.7 1483.4L369.0 1484.6L370.6 1482.3L370.6 1481.4L368.3 1481.0L371.2 1479.9L374.9 1479.6L374.1 1478.0L374.7 1479.6L373.4 1479.0L374.3 1479.2L378.6 1479.1L374.4 1476.2L377.0 1472.8L380.6 1472.4L382.1 1472.6L380.9 1469.6L382.3 1469.8L379.7 1466.9L388.9 1466.1L383.8 1464.9L385.2 1467.3L385.4 1468.1L386.7 1463.7L389.2 1461.5L386.4 1460.6L393.1 1458.9L394.7 1457.3L394.5 1456.5L393.1 1457.7L393.1 1455.6L394.8 1454.8L397.4 1452.4L397.9 1452.7L398.9 1452.0L398.1 1447.0L400.3 1445.3L401.6 1446.5L404.1 1447.3L403.6 1447.2L405.0 1446.6L404.1 1445.4L400.7 1447.0L400.2 1448.4L407.0 1446.5L407.1 1448.6L407.5 1446.5L403.3 1447.7L407.2 1445.5L411.3 1445.4L407.5 1447.3L410.0 1446.0L409.4 1442.5L414.0 1445.1L412.9 1441.8L414.8 1441.8L415.9 1436.8L415.5 1436.4L419.1 1435.3L417.2 1435.6L417.5 1434.2L421.2 1434.1L419.7 1430.7L426.1 1432.9L422.4 1433.4L422.9 1427.7" fill="none" stroke="#808000" stroke-width="2.75" stroke-linejoin="round" stroke-linecap="round" /><path d="M116.8 1698.6L118.5 1698.2L119.9 1697.2L120.0 1696.5L121.8 1695.0L122.4 1694.9L123.9 1693.9L124.4 1692.6L124.9 1691.1L124.2 1690.6L126.6 1689.7L127.5 1688.7L128.7 1688.1L129.6 1686.0L129.5 1685.9L131.1 1685.3L131.5 1685.2L131.1 1684.4L132.5 1683.1L133.9 1681.4L134.7 1681.2L134.3 1680.1L134.9 1679.3L136.8 1677.6L137.7 1676.6L138.8 1676.3L139.9 1675.2L140.7 1675.9L141.4 1674.5L141.7 1674.8L142.7 1672.4L144.6 1670.9L144.8 1669.8L146.4 1668.6L147.2 1668.5L148.6 1667.1L148.5 1666.4L150.7 1666.2L150.3 1665.9L151.6 1664.4L152.9 1662.7L155.2 1661.5L153.9 1659.9L155.1 1660.0L156.1 1659.6L157.1 1658.8L157.6 1657.6L157.9 1656.7L159.9 1656.5L158.9 1655.9L159.8 1656.3L161.2 1656.3L162.6 1654.8L164.8 1654.3L164.4 1654.3L165.7 1653.1L168.4 1652.4L167.0 1651.3L168.4 1650.2L170.5 1648.6L170.3 1648.9L170.6 1648.3L172.2 1646.6L173.1 1647.0L175.5 1645.3L174.9 1643.6L176.5 1643.4L177.7 1642.3L176.8 1642.3L179.8 1641.0L180.2 1641.2L182.7 1640.0L181.5 1640.4L183.2 1639.3L183.9 1638.7L185.3 1638.8L186.1 1638.4L185.4 1637.6L188.6 1635.5L188.4 1635.7L189.7 1633.9L190.1 1631.8L191.0 1629.9L193.1 1629.8L193.4 1629.1L195.7 1628.7L195.6 1629.4L198.3 1627.9L197.2 1625.3L199.9 1624.6L199.9 1623.5L201.4 1622.9L202.7 1621.6L201.9 1622.0L203.3 1622.7L204.2 1622.1L206.6 1621.7L206.4 1621.0L206.5 1621.5L209.6 1619.9L209.9 1618.9L209.3 1618.3L211.9 1617.3L213.6 1615.6L215.2 1615.4L215.0 1614.4L216.9 1613.2L217.5 1614.0L219.3 1613.4L220.8 1610.3L219.2 1611.6L220.8 1610.7L223.2 1609.3L225.4 1610.0L224.4 1608.6L222.7 1607.8L225.6 1607.2L225.8 1606.3L227.2 1605.4L228.1 1605.3L229.0 1605.2L229.0 1603.4L230.7 1601.8L230.0 1602.0L230.4 1602.3L234.1 1601.4L230.7 1599.3L233.0 1598.2L235.4 1596.6L234.5 1595.0L234.5 1595.1L237.6 1594.9L238.5 1594.5L239.9 1593.6L238.3 1591.9L240.2 1591.0L241.8 1591.1L240.7 1590.5L245.0 1588.9L246.3 1588.2L246.2 1588.3L245.9 1588.7L244.3 1586.4L247.4 1586.7L248.8 1587.1L250.2 1585.8L251.6 1584.2L251.4 1585.4L254.6 1583.9L255.3 1582.9L254.4 1582.3L253.9 1580.6L255.0 1578.1L258.6 1577.3L257.2 1576.1L258.5 1574.8L260.8 1573.1L258.8 1572.4L264.9 1571.9L264.8 1571.4L264.6 1571.3L263.5 1569.5L267.3 1569.7L268.5 1570.4L269.9 1570.0L269.1 1567.9L270.3 1568.8L272.2 1567.5L270.3 1566.2L273.4 1565.0L271.5 1566.4L274.7 1564.5L277.6 1562.2L277.5 1560.4L274.5 1560.4L277.4 1557.4L280.8 1558.4L279.5 1557.4L282.7 1556.7L282.4 1556.4L284.0 1556.5L280.9 1553.7L284.6 1553.3L284.1 1553.7L283.1 1552.9L284.3 1552.1L286.5 1553.6L286.7 1551.4L288.8 1549.9L287.9 1549.5L286.3 1548.4L291.4 1546.7L291.2 1547.9L294.2 1546.9L293.6 1546.2L295.1 1546.8L295.6 1546.5L296.3 1544.3L296.1 1543.9L296.6 1540.2L298.2 1540.3L299.9 1539.2L298.2 1537.6L301.3 1537.2L304.0 1536.1L303.1 1536.4L304.6 1535.3L308.8 1535.0L305.7 1532.4L308.9 1533.5L310.6 1533.1L309.9 1534.0L312.1 1532.1L313.9 1531.4L314.6 1530.5L315.4 1528.5L315.1 1526.1L320.0 1525.9L320.0 1524.5L317.9 1523.7L321.1 1521.9L318.8 1520.3L320.0 1517.7L324.5 1516.1L325.0 1516.6L323.6 1515.6L324.8 1514.3L326.2 1515.8L327.3 1511.9L328.5 1511.4L327.9 1509.9L331.5 1510.8L330.7 1513.5L334.4 1511.9L332.9 1512.2L332.2 1510.7L335.9 1509.2L337.5 1510.8L338.3 1509.1L337.8 1511.1L341.4 1506.7L338.4 1507.3L337.7 1505.1L337.9 1500.8L340.1 1501.6L344.6 1500.2L344.0 1499.3L342.0 1499.5L342.8 1496.1L343.7 1496.5L342.6 1494.0L343.0 1497.9L347.6 1497.7L347.5 1495.8L346.4 1494.8L346.6 1494.2L349.2 1491.1L351.6 1491.1L349.2 1492.2L350.3 1488.8L351.2 1488.8L350.2 1488.2L352.3 1486.3L354.6 1485.5L354.5 1485.1L356.5 1483.9L352.9 1484.8L359.2 1483.4L358.6 1482.6L361.5 1482.6L362.0 1480.3L359.8 1481.8L361.3 1480.6L362.5 1480.6L362.3 1479.1L363.1 1477.2L364.7 1475.4L364.3 1474.9L364.1 1473.3L363.3 1472.8L366.8 1470.8L367.5 1470.7L365.7 1465.9L369.8 1467.0L367.9 1468.2L370.7 1467.0L373.7 1460.4L375.0 1464.2L373.8 1460.4L373.9 1460.5L375.5 1459.8L375.5 1459.0L374.4 1457.0L373.9 1456.3L377.5 1457.4L378.7 1456.4L380.9 1453.6L382.7 1451.9L379.1 1453.9L379.1 1453.7L385.9 1451.6L384.5 1451.3L385.8 1451.6L381.5 1448.3L385.0 1446.9L379.5 1444.9L383.3 1443.4L383.8 1442.7L387.5 1444.3L386.4 1441.4L389.5 1442.3L392.6 1439.8L391.3 1441.8L392.5 1444.4L394.6 1440.6L393.2 1439.6L398.4 1439.4L397.5 1438.8L396.7 1438.7L400.4 1438.5L402.9 1437.6L402.5 1434.5L403.2 1433.7L404.3 1435.6L406.5 1437.3L408.6 1436.0L406.8 1434.4L409.0 1431.8L410.0 1430.3L410.7 1430.8L410.0 1429.5L412.2 1430.8L414.9 1427.7L415.1 1424.0L412.1 1425.2L416.0 1422.0L413.5 1419.9L416.8 1420.1L418.1 1413.9L416.1 1412.6L421.3 1413.6L416.1 1412.2L416.6 1414.3" fill="none" stroke="#ff0000" stroke-width="2.75" stroke-linejoin="round" stroke-linecap="round" /><path d="M122.7 1705.5L123.9 1704.1L125.5 1703.7L125.5 1702.1L126.4 1701.8L126.7 1700.7L127.4 1700.1L128.4 1699.3L129.2 1698.3L129.8 1697.2L131.2 1695.4L131.6 1695.2L131.3 1693.8L132.9 1692.3L133.7 1691.5L132.9 1691.0L134.7 1689.7L134.5 1689.7L136.8 1688.4L136.8 1687.4L137.0 1686.9L141.0 1686.4L141.6 1684.7L142.6 1683.7L142.8 1682.4L144.7 1682.0L145.5 1681.0L145.1 1680.8L146.7 1680.2L147.3 1678.3L148.1 1677.4L148.6 1677.8L150.4 1677.6L150.0 1677.0L152.3 1676.6L152.0 1676.3L153.4 1675.1L154.0 1674.5L155.4 1674.4L157.3 1673.4L157.3 1672.1L159.0 1671.8L159.0 1670.9L160.2 1670.8L160.5 1670.0L161.9 1670.3L162.5 1668.1L164.8 1667.9L164.3 1667.0L166.1 1666.3L166.2 1664.9L166.6 1664.6L167.9 1663.8L169.9 1662.9L168.9 1662.9L171.5 1662.1L171.3 1660.7L175.4 1661.2L173.8 1658.7L176.1 1658.9L177.0 1657.1L177.6 1655.9L177.8 1655.2L178.0 1652.4L177.3 1652.5L180.2 1652.1L179.4 1650.2L180.5 1648.9L181.5 1648.6L183.0 1649.9L184.8 1648.7L185.1 1648.5L189.0 1646.9L188.9 1647.2L189.4 1645.3L189.8 1644.4L191.9 1644.3L193.4 1644.6L193.3 1643.9L192.6 1643.5L194.7 1643.6L195.0 1641.8L195.7 1642.2L196.0 1641.4L198.2 1640.6L198.5 1640.3L200.1 1638.5L200.8 1637.8L201.7 1638.4L204.4 1637.0L206.0 1637.0L206.5 1635.0L205.4 1635.2L207.1 1633.7L209.4 1631.7L209.9 1630.1L209.9 1630.2L211.6 1629.3L212.2 1628.8L212.4 1627.5L213.7 1626.8L216.0 1628.2L216.1 1625.3L215.1 1625.0L217.8 1625.1L219.0 1624.0L219.1 1622.6L220.0 1620.0L221.6 1620.9L221.1 1619.9L221.6 1619.9L225.1 1617.5L225.2 1618.7L227.4 1616.1L228.6 1615.2L228.5 1615.5L228.1 1614.5L231.3 1613.0L233.8 1613.3L234.8 1612.3L234.9 1610.6L235.4 1608.7L236.2 1608.9L236.8 1606.7L235.6 1607.8L238.1 1607.3L238.2 1606.8L240.6 1606.1L241.0 1606.5L242.0 1605.3L242.7 1604.0L243.4 1604.5L243.0 1602.9L244.7 1604.1L246.3 1602.5L250.6 1604.0L248.2 1602.4L248.0 1602.8L251.3 1599.8L249.9 1597.8L250.4 1598.9L253.1 1598.1L251.5 1596.9L251.8 1595.8L255.3 1595.7L252.8 1595.5L254.4 1592.9L257.1 1591.4L260.2 1591.1L258.0 1590.2L259.3 1589.8L262.5 1589.9L261.9 1587.7L263.9 1586.5L264.3 1585.7L267.7 1584.1L266.1 1581.1L267.7 1581.0L268.1 1580.5L269.2 1579.7L270.7 1580.6L272.0 1577.7L272.7 1576.7L274.2 1575.7L276.2 1575.8L274.6 1573.3L277.4 1575.5L279.0 1573.6L277.9 1573.9L277.4 1572.4L277.1 1573.0L281.0 1570.4L280.3 1569.4L282.6 1569.8L283.0 1568.1L284.6 1566.5L283.6 1565.2L283.1 1566.2L285.4 1561.9L285.8 1563.0L285.4 1563.0L289.7 1562.3L287.1 1562.4L291.2 1562.5L289.0 1561.7L292.4 1561.6L292.4 1561.2L293.4 1559.1L294.3 1559.5L295.8 1559.3L295.8 1556.4L296.3 1556.5L299.3 1554.6L300.0 1554.0L303.5 1552.2L302.6 1552.6L302.5 1551.4L302.9 1552.3L303.7 1551.5L304.2 1552.1L305.9 1550.2L306.6 1550.1L307.1 1546.8L307.5 1548.1L310.9 1547.5L312.5 1545.2L311.5 1545.4L313.0 1542.7L314.9 1540.6L313.3 1540.5L316.6 1542.2L317.1 1540.3L316.8 1539.7L317.5 1540.2L320.8 1538.7L320.4 1536.8L320.5 1537.0L321.8 1536.0L321.2 1537.0L324.4 1535.9L326.2 1535.3L325.4 1532.0L323.7 1534.2L326.2 1532.4L327.4 1529.9L330.6 1526.4L332.8 1528.2L330.5 1524.1L332.1 1525.9L331.9 1523.3L334.2 1522.7L332.9 1522.3L334.2 1520.2L339.1 1520.1L337.8 1519.1L339.7 1519.6L339.9 1519.4L338.4 1517.8L340.3 1518.1L341.6 1514.7L343.0 1517.7L342.6 1515.8L345.2 1516.2L345.9 1513.7L345.8 1513.2L345.6 1512.4L350.6 1511.4L350.7 1510.7L351.1 1512.1L350.0 1509.3L354.4 1508.9L354.3 1507.4L354.6 1507.8L355.1 1503.7L357.2 1503.9L356.1 1502.1L358.0 1500.8L359.5 1500.7L360.5 1501.5L360.8 1500.3L361.2 1501.3L359.2 1500.6L362.7 1499.8L362.7 1498.0L367.2 1498.1L366.3 1498.5L366.1 1494.4L369.3 1494.4L366.2 1495.2L373.9 1493.5L369.4 1494.6L371.6 1494.1L371.0 1491.9L377.4 1490.1L374.4 1488.7L376.6 1487.8L376.0 1487.1L375.8 1484.5L378.2 1485.5L380.3 1484.3L376.1 1483.2L378.6 1483.1L378.9 1483.3L380.7 1485.7L381.2 1483.1L382.9 1483.6L385.3 1481.1L383.7 1483.0L384.4 1480.9L383.3 1480.2L385.7 1478.9L388.2 1477.0L391.2 1478.6L389.8 1475.4L391.4 1475.6L393.8 1474.6L391.5 1474.4L392.6 1472.5L396.4 1470.4L398.5 1470.6L396.8 1470.9L396.8 1468.7L397.6 1467.5L399.3 1467.9L398.8 1468.9L400.7 1463.5L404.3 1462.5L401.6 1465.9L402.0 1463.5L404.0 1464.9L404.5 1459.1L403.3 1458.0L407.5 1456.3L411.6 1457.9L409.4 1456.1L409.4 1454.8L408.0 1453.1L412.7 1453.7L412.6 1455.5L413.8 1452.9L414.8 1452.1L413.0 1451.5L415.9 1452.7L418.5 1452.2L420.7 1452.8L421.0 1452.8L419.8 1452.8L425.3 1447.8L422.7 1450.6" fill="none" stroke="#ff0000" stroke-width="2.75" stroke-linejoin="round" stroke-linecap="round" /><path d="M117.2 1699.7L118.9 1696.6L119.3 1696.7L120.8 1695.7L121.7 1695.7L121.7 1693.9L123.1 1693.0L124.6 1692.8L126.7 1691.1L127.5 1691.4L127.4 1690.9L127.6 1689.4L128.4 1688.5L130.0 1687.6L130.5 1686.9L130.1 1686.2L130.6 1685.3L132.6 1684.7L134.2 1683.5L134.0 1682.7L133.5 1682.4L135.1 1681.1L136.2 1681.2L138.1 1679.4L138.4 1678.9L139.0 1678.0L142.0 1676.9L142.0 1676.1L142.1 1674.8L143.2 1674.1L144.2 1673.3L146.1 1672.2L146.1 1671.1L146.6 1669.6L148.6 1669.3L148.7 1670.1L147.7 1667.9L149.1 1668.4L150.1 1667.3L151.8 1666.7L151.6 1665.9L154.3 1664.5L152.6 1663.7L154.5 1662.8L154.6 1661.9L157.0 1660.6L156.4 1659.3L157.7 1659.0L159.2 1657.7L161.2 1656.3L161.7 1656.3L162.4 1655.7L163.3 1655.8L165.2 1654.9L165.8 1652.6L167.9 1652.3L166.6 1650.7L168.4 1651.4L169.4 1650.6L170.4 1650.3L172.9 1649.5L172.0 1649.0L173.1 1647.1L174.2 1646.5L175.2 1646.3L175.6 1645.0L177.2 1644.8L178.2 1643.8L179.3 1643.4L179.0 1643.9L179.8 1642.3L182.0 1641.9L183.3 1641.2L184.0 1640.2L184.8 1639.3L185.2 1637.9L186.9 1637.4L187.4 1636.2L188.2 1636.2L190.0 1633.7L191.8 1635.1L192.1 1634.1L193.3 1633.0L194.0 1632.7L196.0 1632.5L196.2 1631.3L197.6 1631.4L200.1 1630.8L199.4 1631.8L200.4 1631.2L198.7 1630.8L202.2 1630.3L201.8 1628.5L202.2 1626.2L203.3 1624.6L205.3 1624.8L204.1 1623.2L206.1 1621.9L208.2 1620.8L206.9 1620.9L208.1 1620.2L208.9 1619.4L209.8 1617.1L211.1 1617.0L212.9 1617.2L212.0 1615.7L214.2 1615.2L215.8 1614.5L215.9 1614.0L216.8 1612.5L219.1 1612.1L218.8 1610.7L220.7 1608.8L221.8 1609.7L223.7 1607.2L222.6 1607.4L224.7 1607.1L226.2 1604.9L229.0 1605.3L228.4 1603.2L228.9 1602.9L231.2 1602.2L229.5 1601.3L233.2 1601.1L233.9 1598.8L236.7 1598.1L235.2 1597.1L235.2 1597.6L236.6 1596.6L237.2 1595.7L236.7 1595.1L235.7 1595.4L238.7 1594.4L238.8 1595.5L238.6 1593.2L239.2 1593.0L239.5 1591.7L241.6 1591.7L241.1 1591.2L242.7 1589.8L244.8 1588.8L246.4 1587.6L247.8 1586.6L248.3 1586.3L249.9 1585.8L250.5 1585.4L250.5 1586.4L251.7 1586.0L249.4 1583.1L252.4 1584.4L255.2 1585.0L254.8 1583.1L255.3 1582.9L255.1 1581.9L256.8 1581.5L257.5 1579.2L257.9 1578.5L259.5 1576.8L263.2 1575.0L265.5 1573.5L263.1 1574.1L263.5 1571.9L265.6 1571.9L266.3 1573.3L266.8 1572.7L266.9 1571.6L266.1 1570.4L269.8 1570.7L268.2 1569.5L270.7 1567.9L272.1 1566.6L276.2 1565.4L274.4 1564.2L274.9 1560.8L275.7 1559.3L276.5 1559.2L276.1 1557.6L278.9 1557.7L278.3 1555.4L281.9 1556.1L280.1 1556.2L281.4 1555.4L286.2 1555.1L286.7 1554.5L287.0 1551.4L286.5 1550.3L288.0 1549.6L287.9 1549.2L290.2 1548.9L291.7 1549.3L292.6 1546.6L292.2 1545.3L292.4 1545.5L295.9 1543.4L297.4 1544.0L298.1 1542.4L297.0 1541.2L299.4 1539.5L298.3 1539.9L299.8 1538.4L300.9 1538.7L298.8 1537.5L304.4 1537.0L303.0 1538.2L303.1 1537.6L307.3 1534.8L304.5 1533.4L304.7 1533.3L307.1 1531.6L308.9 1531.0L308.2 1531.7L309.5 1532.3L312.8 1531.8L310.8 1530.7L311.1 1530.6L312.6 1527.8L312.8 1527.2L315.4 1526.2L315.3 1526.6L317.1 1526.0L316.1 1524.3L317.7 1523.3L319.2 1521.3L322.5 1520.9L323.8 1518.0L324.3 1520.4L321.8 1519.0L326.4 1519.1L323.0 1517.7L326.0 1517.5L326.5 1516.4L328.7 1518.5L331.2 1515.4L332.1 1515.9L331.8 1514.2L334.3 1511.3L332.9 1512.2L336.6 1511.1L331.6 1510.6L332.4 1507.2L332.0 1505.1L330.2 1505.5L333.8 1505.2L331.2 1501.4L328.1 1499.9L327.5 1499.6L327.8 1497.6L329.3 1498.1L326.8 1497.9L327.5 1497.5L328.7 1496.7L330.3 1496.9L330.6 1494.6L329.5 1493.8L333.8 1495.7L330.4 1497.7L333.5 1496.1L334.5 1494.0L336.1 1494.4L338.6 1494.0L337.1 1494.5L337.7 1495.3L338.7 1497.6L337.9 1496.9L341.0 1500.1L341.6 1497.3L341.5 1499.1L341.5 1496.0L345.2 1497.0L345.5 1495.2L346.1 1493.8L347.1 1493.8L350.2 1494.0L349.4 1493.3L349.1 1492.0L348.3 1492.8L349.0 1492.5L353.7 1492.6L352.7 1491.6L357.1 1490.5L356.8 1489.5L357.6 1487.6L356.4 1489.3L358.7 1485.3L358.3 1487.0L357.0 1484.2L360.1 1483.0L360.9 1481.6L365.0 1484.3L360.5 1481.2L368.9 1481.2L367.8 1477.5L368.1 1477.5L367.6 1476.6L369.0 1475.2L368.6 1474.2L367.9 1473.4L370.9 1472.5L372.5 1470.1L373.1 1471.2L371.8 1470.0L373.3 1466.1L374.4 1470.1L375.2 1467.6L381.9 1465.6L377.4 1462.6L376.3 1461.8L376.7 1461.0L379.7 1458.9L381.7 1460.2L380.6 1460.8L381.3 1464.1L379.6 1460.7L380.3 1463.2L377.9 1458.7L381.4 1457.2L384.2 1457.4L384.4 1452.9L384.5 1452.0L385.3 1451.4L386.6 1450.6L387.3 1450.3L385.4 1448.8L387.6 1450.4L388.7 1447.7L396.8 1448.1L393.9 1445.2L396.6 1444.0L398.2 1445.7L396.5 1447.4L395.0 1447.4L395.3 1445.2L397.5 1446.4" fill="none" stroke="#ff0000" stroke-width="2.75" stroke-linejoin="round" stroke-linecap="round" /><path d="M124.3 1705.2L123.8 1704.7L125.7 1703.7L125.5 1702.3L127.5 1701.3L127.9 1700.0L129.2 1699.6L128.4 1698.4L129.1 1698.4L131.0 1696.7L131.2 1696.5L131.6 1695.3L132.8 1694.4L134.8 1693.8L134.0 1692.7L134.4 1690.8L135.4 1691.0L136.2 1690.3L137.4 1689.3L137.8 1688.8L138.9 1687.2L140.6 1686.6L141.7 1685.5L143.6 1684.7L142.6 1684.0L144.4 1684.4L145.4 1681.9L146.1 1680.8L146.1 1680.4L147.2 1678.9L147.8 1677.8L149.0 1678.6L150.0 1676.9L152.7 1676.8L153.0 1676.6L154.4 1675.8L154.0 1674.8L155.7 1673.4L156.5 1673.8L158.2 1673.6L160.5 1673.2L160.5 1672.3L161.2 1672.0L161.2 1670.3L164.0 1669.3L163.5 1669.1L163.0 1668.0L165.5 1667.3L166.9 1666.3L168.1 1666.3L168.1 1664.7L167.8 1664.1L169.6 1663.8L170.9 1663.3L173.2 1662.6L174.3 1661.4L174.4 1660.5L175.1 1660.2L175.0 1659.6L177.4 1657.4L176.2 1657.2L176.9 1656.3L179.4 1655.7L178.9 1654.9L180.7 1654.4L180.2 1653.6L181.9 1652.0L184.2 1650.6L185.1 1650.4L186.3 1649.2L186.0 1648.4L187.6 1649.2L187.3 1647.4L191.8 1647.1L190.0 1646.2L191.8 1645.0L193.7 1644.7L194.6 1643.2L194.8 1642.0L197.3 1641.4L197.2 1640.3L197.6 1639.4L199.0 1639.0L199.7 1638.5L201.4 1638.1L201.1 1637.5L200.5 1635.2L203.5 1635.3L203.0 1634.7L205.6 1633.2L207.1 1633.5L209.1 1633.2L207.6 1632.1L211.4 1632.3L209.9 1630.9L211.0 1629.0L211.1 1629.6L211.9 1629.3L214.8 1627.8L215.9 1627.8L215.7 1625.8L218.4 1626.1L220.7 1624.0L219.7 1623.1L220.7 1623.2L220.7 1621.7L222.4 1621.1L223.9 1621.3L223.5 1619.5L223.8 1618.9L225.5 1618.3L226.1 1618.0L227.9 1617.1L228.4 1617.6L227.5 1616.0L232.4 1615.8L230.7 1615.2L232.5 1614.2L233.3 1613.0L233.6 1610.3L235.7 1609.8L236.3 1607.3L237.9 1608.2L237.0 1608.4L238.3 1606.3L241.0 1607.9L240.0 1607.0L240.8 1605.3L242.8 1605.9L242.1 1603.7L244.3 1604.9L244.1 1605.4L246.1 1603.9L246.3 1603.1L247.3 1604.0L248.7 1601.9L250.2 1600.9L250.6 1601.1L253.3 1600.3L254.1 1598.8L255.0 1600.5L252.9 1597.6L255.9 1593.6L258.0 1593.2L257.2 1593.5L258.4 1592.2L259.3 1589.3L259.1 1591.7L260.7 1593.2L262.3 1592.8L262.9 1592.3L264.6 1593.1L264.6 1591.7L265.3 1590.3L267.9 1590.5L268.1 1589.3L269.6 1586.4L269.3 1585.8L269.8 1584.2L271.6 1584.0L269.7 1582.6L273.4 1583.0L274.4 1580.7L275.4 1580.4L275.2 1581.6L277.3 1580.9L276.1 1579.9L278.0 1578.7L275.9 1578.8L280.3 1578.2L278.4 1576.8L279.0 1575.8L281.8 1574.5L282.6 1576.2L285.8 1575.2L284.8 1572.4L288.3 1572.0L289.6 1571.0L290.7 1569.2L290.5 1567.0L293.3 1566.5L292.3 1564.6L292.9 1563.0L293.4 1564.4L294.1 1562.2L296.0 1561.9L298.5 1562.5L296.4 1560.8L297.6 1560.2L298.3 1559.2L300.0 1560.8L299.4 1560.0L303.8 1561.3L304.5 1557.3L303.7 1557.3L306.2 1557.5L305.8 1555.2L306.6 1554.6L307.5 1555.9L309.9 1552.9L307.4 1554.2L307.8 1550.6L308.0 1549.4L311.1 1549.3L310.4 1547.5L313.0 1547.9L312.4 1544.9L315.4 1546.2L315.9 1543.7L316.8 1544.3L321.4 1543.3L319.2 1543.6L319.2 1543.7L324.1 1543.0L320.5 1541.5L321.2 1541.9L320.8 1539.3L327.3 1537.5L325.8 1536.9L327.6 1533.7L330.5 1533.6L328.4 1532.6L330.1 1532.1L330.3 1532.1L329.2 1532.1L331.8 1528.6L333.3 1528.7L333.1 1528.5L336.1 1526.3L337.0 1524.2L336.3 1524.5L336.7 1523.6L337.5 1522.4L339.0 1522.0L344.5 1521.1L341.3 1522.8L340.6 1521.0L342.5 1518.8L342.4 1517.1L346.1 1516.8L344.7 1516.1L345.9 1517.7L346.8 1515.8L349.3 1515.0L350.4 1515.2L347.8 1515.6L351.0 1512.3L351.6 1510.6L354.8 1512.4L355.3 1511.3L355.1 1509.7L358.8 1506.7L357.4 1506.0L354.4 1503.3L357.5 1506.1L359.2 1506.5L357.4 1504.8L358.2 1503.6L356.4 1503.8L362.5 1501.3L362.5 1502.2L361.5 1501.2L362.5 1499.7L361.9 1500.6L363.3 1497.5L363.5 1497.3L362.2 1497.3L363.5 1494.9L363.3 1493.1L362.8 1493.5L368.5 1491.7L372.1 1491.4L367.9 1490.8L373.5 1489.1L373.0 1489.0L373.4 1491.1L373.9 1490.2L374.0 1488.3L377.1 1489.0L375.2 1483.4L377.7 1482.9L377.3 1483.5L379.3 1481.6L376.5 1478.4L378.4 1479.2L378.4 1477.8L380.3 1478.0L381.7 1481.3L380.7 1478.7L383.1 1480.9L387.4 1479.0L385.8 1478.9L385.3 1476.6L385.2 1474.2L387.1 1476.2L388.2 1473.4L388.4 1473.5L388.4 1472.3L391.5 1472.1L390.6 1468.5L392.4 1467.7L394.1 1465.8L394.7 1465.6L396.9 1468.7L396.4 1464.8L399.7 1462.1L395.8 1462.3L399.4 1466.7L400.5 1463.0L402.1 1463.9L401.1 1460.5L402.2 1461.1L405.7 1462.5L406.4 1460.8L406.3 1459.5L407.4 1457.1L409.2 1455.7L409.7 1452.1L408.5 1451.0L413.1 1450.0L411.2 1448.5L412.7 1444.9L414.9 1444.3" fill="none" stroke="#ff0000" stroke-width="2.75" stroke-linejoin="round" stroke-linecap="round" /><path d="M122.9 1705.1L123.0 1704.2L124.5 1703.8L124.8 1702.9L125.8 1700.8L125.3 1700.7L127.0 1699.4L127.3 1698.7L128.8 1698.2L128.8 1697.4L129.3 1696.7L130.2 1693.9L130.7 1693.4L131.6 1691.9L131.5 1691.8L132.9 1691.4L133.8 1689.0L133.5 1689.0L135.1 1688.2L136.1 1688.2L136.2 1687.7L137.6 1687.2L139.2 1685.3L140.5 1685.7L141.7 1683.9L141.4 1682.9L143.7 1682.8L144.0 1682.3L145.5 1680.8L145.2 1680.6L147.2 1678.7L150.0 1677.7L149.6 1677.1L151.8 1677.1L150.5 1675.3L152.1 1675.4L153.2 1673.3L155.1 1673.6L156.2 1672.7L156.2 1671.0L156.9 1670.9L159.0 1669.8L159.3 1668.6L159.0 1668.6L160.5 1667.5L162.8 1667.3L162.7 1666.7L164.5 1665.4L165.0 1665.3L163.6 1665.3L165.9 1664.5L165.0 1663.5L166.4 1662.6L167.0 1661.2L169.6 1661.6L168.9 1660.6L172.6 1658.8L173.3 1659.4L174.2 1658.1L176.0 1656.8L175.5 1656.4L175.2 1655.7L176.8 1655.0L178.6 1654.2L179.9 1653.2L179.1 1652.6L181.8 1651.2L182.9 1652.3L182.8 1649.4L184.8 1648.5L185.9 1648.7L186.9 1647.4L186.3 1646.4L187.4 1645.6L188.6 1643.4L190.4 1643.3L190.7 1642.9L190.2 1642.3L192.2 1640.9L195.0 1641.3L193.5 1639.6L194.9 1639.5L197.4 1637.6L198.7 1635.7L197.9 1635.8L199.5 1634.9L199.4 1634.1L200.8 1633.1L200.9 1633.0L202.1 1632.9L204.4 1630.9L206.8 1630.5L205.8 1630.0L207.2 1629.6L208.9 1629.2L207.8 1628.5L207.5 1628.2L210.2 1627.8L210.6 1627.6L212.8 1628.2L212.8 1625.0L214.9 1624.8L214.5 1623.4L216.7 1621.9L218.5 1620.7L218.4 1622.1L220.4 1621.5L220.7 1619.9L221.2 1620.0L224.2 1619.0L223.3 1616.9L226.4 1617.1L225.4 1617.1L225.3 1614.9L225.6 1615.0L225.8 1615.3L228.7 1613.7L230.6 1612.4L230.4 1610.7L234.1 1608.9L230.8 1609.5L232.2 1609.2L232.6 1609.2L233.6 1608.2L235.5 1607.4L236.2 1607.0L236.9 1606.3L239.3 1605.8L237.7 1606.2L241.8 1604.8L242.9 1604.6L243.6 1602.9L243.7 1602.4L244.7 1601.5L244.5 1601.6L248.6 1600.1L248.8 1599.5L247.7 1597.5L248.9 1596.6L250.8 1596.5L252.8 1595.8L251.7 1594.4L253.6 1593.4L256.1 1592.3L255.4 1590.8L256.8 1589.5L257.9 1589.5L256.7 1587.1L257.4 1587.4L258.0 1586.9L261.0 1584.2L260.4 1583.6L261.4 1583.5L264.3 1582.9L262.8 1583.1L263.6 1581.4L263.9 1580.0L266.9 1578.6L267.2 1579.4L268.4 1577.7L268.7 1578.3L273.7 1575.8L272.6 1574.7L271.5 1574.2L272.0 1573.5L275.7 1573.7L275.3 1572.3L275.8 1573.5L273.0 1572.0L274.4 1571.6L276.6 1571.2L276.3 1570.4L279.6 1570.4L279.4 1570.2L281.5 1569.8L281.4 1570.2L283.3 1568.3L285.6 1569.4L287.0 1567.6L286.3 1566.7L283.9 1566.1L287.5 1565.5L288.0 1566.7L289.0 1564.4L290.8 1563.8L292.2 1564.4L289.3 1562.4L291.2 1561.5L293.0 1560.2L294.1 1560.1L296.8 1559.4L294.2 1557.1L299.5 1555.0L299.1 1555.0L299.8 1554.2L299.5 1554.3L298.4 1550.7L300.9 1551.5L305.7 1549.3L303.8 1550.3L304.5 1550.0L305.4 1548.4L307.4 1549.0L304.7 1547.5L308.5 1546.7L311.0 1544.0L310.7 1545.3L311.4 1545.2L313.6 1544.2L313.3 1542.1L313.4 1539.9L313.9 1542.7L315.0 1539.5L319.8 1538.4L316.0 1537.5L320.2 1537.2L319.1 1536.9L321.6 1534.5L323.3 1535.5L322.3 1535.5L323.8 1534.7L327.3 1531.8L325.7 1531.3L324.7 1530.4L327.9 1527.7L326.1 1527.5L330.1 1526.0L330.6 1524.1L329.5 1524.3L330.8 1526.5L333.0 1524.5L331.4 1521.3L334.8 1522.6L333.1 1523.0L334.2 1519.7L338.0 1517.3L337.1 1518.1L338.5 1516.6L340.0 1513.9L337.9 1513.3L338.6 1513.7L341.1 1511.1L340.3 1512.4L342.1 1510.5L343.0 1510.9L341.3 1510.7L342.6 1509.9L343.6 1510.1L346.2 1506.1L348.3 1506.5L348.2 1503.1L350.3 1504.4L352.6 1502.3L352.2 1503.4L351.7 1501.8L357.7 1503.0L354.0 1502.3L356.3 1500.4L355.4 1498.1L358.0 1497.0L356.6 1496.2L356.2 1496.3L360.6 1495.6L360.3 1497.2L360.0 1495.7L361.9 1497.1L363.6 1498.3L364.5 1495.7L366.0 1493.7L365.9 1494.4L368.9 1493.2L368.6 1491.0L369.3 1491.0L370.0 1490.2L373.4 1490.2L372.4 1489.0L373.7 1490.1L375.8 1487.6L380.5 1487.4L380.8 1485.8L378.4 1484.5L379.9 1482.9L380.6 1482.7L381.0 1481.1L382.6 1480.1L379.9 1478.3L384.1 1476.2L385.5 1479.2L388.3 1477.2L385.9 1474.8L384.8 1474.9L389.4 1472.1L388.4 1470.9L390.1 1468.8L393.1 1467.5L394.6 1469.8L391.9 1468.5L392.5 1468.0L396.1 1465.5L396.6 1467.2L396.0 1465.7L398.3 1466.0L401.7 1463.5L402.7 1465.2L400.8 1464.6L399.0 1465.7L401.8 1466.3L400.6 1464.7L402.3 1463.1L406.5 1460.8L403.7 1459.8L404.0 1457.8L404.7 1459.0L411.0 1457.7L409.2 1454.6L407.3 1453.3L408.0 1453.7L411.5 1452.4L408.7 1450.2L410.8 1451.3L412.1 1449.3L413.3 1448.1" fill="none" stroke="#ff0000" stroke-width="2.75" stroke-linejoin="round" stroke-linecap="round" /></g>
<g class="legend"><rect x="527.6" y="1537" width="116.4" height="159" fill="#fff"/><line x1="532.6" y1="1554.4" x2="576.4" y2="1554.4" stroke="#000" stroke-width="3.5" stroke-linecap="round"/><text x="638.2" y="1562" font-size="24.3" text-anchor="end">20°C</text><line x1="532.6" y1="1585.2" x2="576.4" y2="1585.2" stroke="#ff8000" stroke-width="3.5" stroke-linecap="round"/><text x="631.7" y="1592.8" font-size="24.3" text-anchor="end">00°C</text><line x1="532.6" y1="1616.2" x2="576.4" y2="1616.2" stroke="#0000ff" stroke-width="3.5" stroke-linecap="round"/><text x="640.9" y="1623.8" font-size="24.3" text-anchor="end">-20°C</text><line x1="532.6" y1="1646.9" x2="576.4" y2="1646.9" stroke="#808000" stroke-width="3.5" stroke-linecap="round"/><text x="640.9" y="1654.5" font-size="24.3" text-anchor="end">-40°C</text><line x1="532.6" y1="1677.6" x2="576.4" y2="1677.6" stroke="#ff0000" stroke-width="3.5" stroke-linecap="round"/><text x="640.9" y="1685" font-size="24.3" text-anchor="end">-60°C</text></g>
<g class="axes"><rect x="117.8" y="1275.5" width="544.6" height="429.8" fill="none" stroke="#000" stroke-width="2.8"/><line x1="117.8" y1="1705.3" x2="117.8" y2="1720.1" stroke="#000" stroke-width="2.8"/><line x1="185.88" y1="1705.3" x2="185.88" y2="1711.5" stroke="#000" stroke-width="2.8"/><line x1="253.95" y1="1705.3" x2="253.95" y2="1720.1" stroke="#000" stroke-width="2.8"/><line x1="322.03" y1="1705.3" x2="322.03" y2="1711.5" stroke="#000" stroke-width="2.8"/><line x1="390.1" y1="1705.3" x2="390.1" y2="1720.1" stroke="#000" stroke-width="2.8"/><line x1="458.18" y1="1705.3" x2="458.18" y2="1711.5" stroke="#000" stroke-width="2.8"/><line x1="526.25" y1="1705.3" x2="526.25" y2="1720.1" stroke="#000" stroke-width="2.8"/><line x1="594.33" y1="1705.3" x2="594.33" y2="1711.5" stroke="#000" stroke-width="2.8"/><line x1="662.4" y1="1705.3" x2="662.4" y2="1720.1" stroke="#000" stroke-width="2.8"/><line x1="117.8" y1="1705.3" x2="103" y2="1705.3" stroke="#000" stroke-width="2.8"/><line x1="117.8" y1="1651.58" x2="111.6" y2="1651.58" stroke="#000" stroke-width="2.8"/><line x1="117.8" y1="1597.85" x2="103" y2="1597.85" stroke="#000" stroke-width="2.8"/><line x1="117.8" y1="1544.12" x2="111.6" y2="1544.12" stroke="#000" stroke-width="2.8"/><line x1="117.8" y1="1490.4" x2="103" y2="1490.4" stroke="#000" stroke-width="2.8"/><line x1="117.8" y1="1436.67" x2="111.6" y2="1436.67" stroke="#000" stroke-width="2.8"/><line x1="117.8" y1="1382.95" x2="103" y2="1382.95" stroke="#000" stroke-width="2.8"/><line x1="117.8" y1="1329.22" x2="111.6" y2="1329.22" stroke="#000" stroke-width="2.8"/><line x1="117.8" y1="1275.5" x2="103" y2="1275.5" stroke="#000" stroke-width="2.8"/></g>
<g class="labels" font-size="28"><text x="118.1" y="1751.8" text-anchor="middle">0</text><text x="254.25" y="1751.8" text-anchor="middle">5</text><text x="390.4" y="1751.8" text-anchor="middle">10</text><text x="526.55" y="1751.8" text-anchor="middle">15</text><text x="662.7" y="1751.8" text-anchor="middle">20</text><text x="92.8" y="1713.4" text-anchor="end">0</text><text x="92.8" y="1605.95" text-anchor="end">1500</text><text x="92.8" y="1498.5" text-anchor="end">3000</text><text x="92.8" y="1391.05" text-anchor="end">4500</text><text x="92.8" y="1283.6" text-anchor="end">6000</text><text x="390.8" y="1790.3" text-anchor="middle">Strain (x10<tspan font-size="18" dy="-10.5">-3</tspan><tspan dy="10.5"> mm/mm)</tspan></text><text transform="translate(21.9 1490) rotate(-90)" text-anchor="middle">Stress (MPa)</text><text x="374.1" y="1837.3" font-size="32" text-anchor="middle">(c)</text></g>
</g>
</svg>
</body></html>
